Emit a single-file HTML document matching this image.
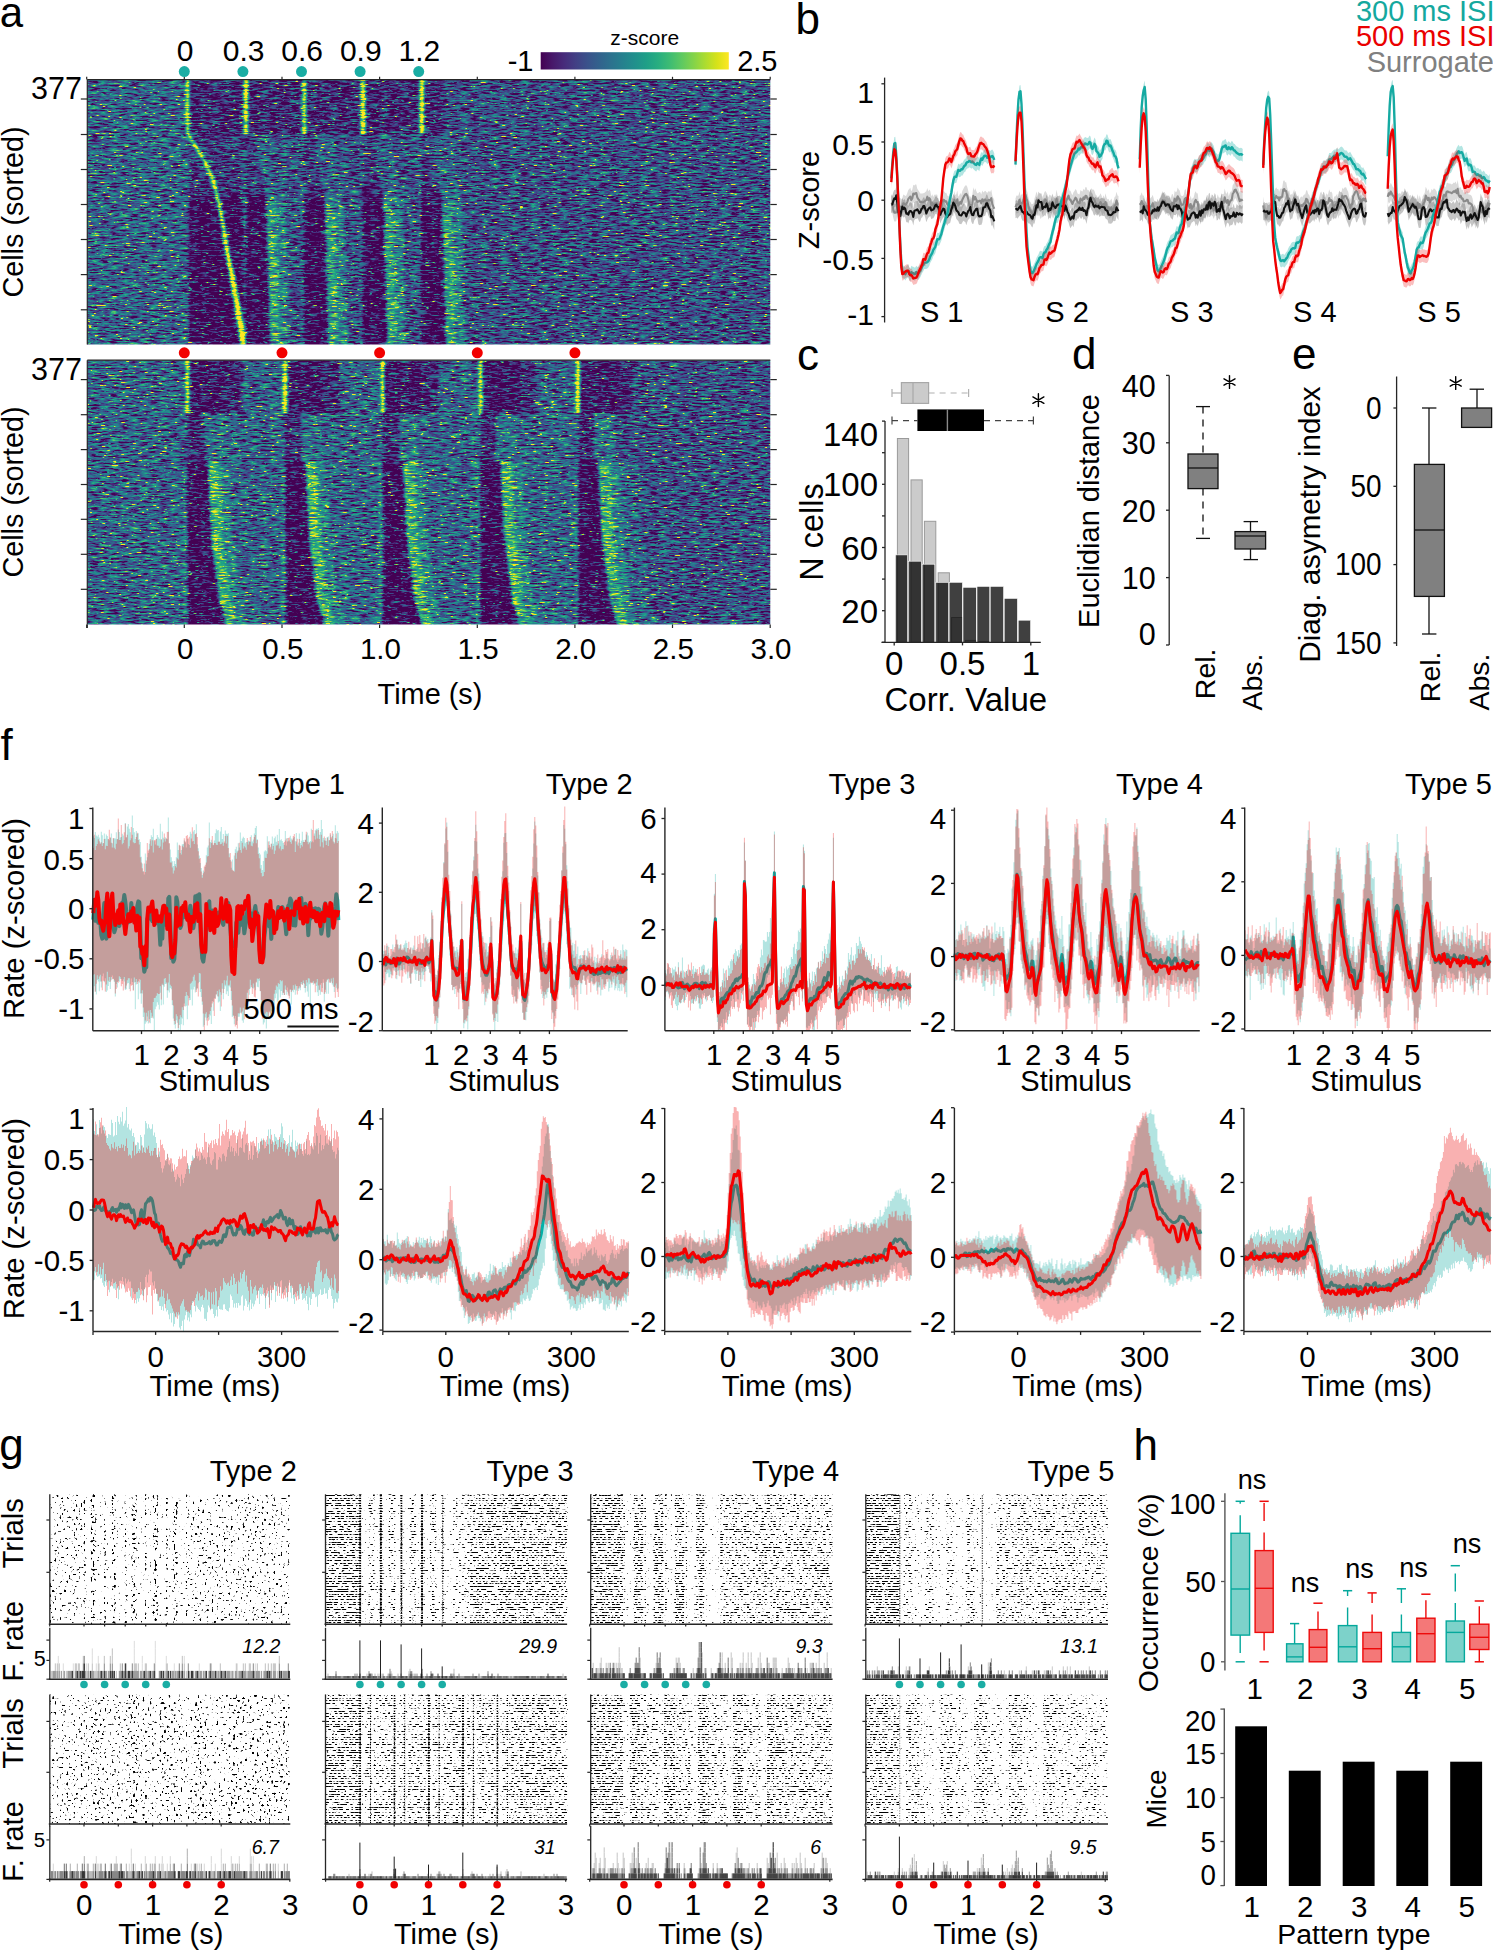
<!DOCTYPE html>
<html><head><meta charset="utf-8"><style>
html,body{margin:0;padding:0;background:#fff;overflow:hidden;}
svg{display:block;}
text{font-family:"Liberation Sans", sans-serif;}
</style></head><body>
<svg width="1493" height="1951" viewBox="0 0 1493 1951">
<defs>
<filter id="hmf" x="0" y="0" width="1" height="1" color-interpolation-filters="sRGB">
<feGaussianBlur in="SourceGraphic" stdDeviation="1.5 0.6" result="s"/>
<feTurbulence type="fractalNoise" baseFrequency="0.1 0.6" numOctaves="3" seed="7" result="n"/>
<feColorMatrix in="n" type="matrix" values="1 0 0 0 0 1 0 0 0 0 1 0 0 0 0 0 0 0 0 1" result="g"/>
<feComposite in="s" in2="g" operator="arithmetic" k1="0" k2="1.3" k3="1.5" k4="-0.87" result="c"/>
<feTurbulence type="fractalNoise" baseFrequency="0.16 0.9" numOctaves="2" seed="19" result="n2"/>
<feColorMatrix in="n2" type="matrix" values="1 0 0 0 0 1 0 0 0 0 1 0 0 0 0 0 0 0 0 1" result="g2"/>
<feComponentTransfer in="g2" result="sp"><feFuncR type="linear" slope="6" intercept="-3.93"/><feFuncG type="linear" slope="6" intercept="-3.93"/><feFuncB type="linear" slope="6" intercept="-3.93"/></feComponentTransfer>
<feComposite in="c" in2="sp" operator="arithmetic" k1="0" k2="1" k3="0.9" k4="0" result="c2"/>
<feComponentTransfer in="c2">
<feFuncR type="table" tableValues="0.267 0.282 0.279 0.259 0.230 0.199 0.173 0.149 0.128 0.121 0.158 0.246 0.369 0.516 0.678 0.846 0.993"/>
<feFuncG type="table" tableValues="0.005 0.095 0.175 0.252 0.322 0.388 0.449 0.508 0.567 0.626 0.684 0.739 0.789 0.831 0.864 0.887 0.906"/>
<feFuncB type="table" tableValues="0.329 0.417 0.483 0.525 0.546 0.555 0.558 0.557 0.551 0.533 0.502 0.452 0.383 0.294 0.190 0.100 0.144"/>
</feComponentTransfer>
</filter>
<linearGradient id="cbar" x1="0" x2="1" y1="0" y2="0">
<stop offset="0.0000" stop-color="rgb(68,1,83)"/>
<stop offset="0.0625" stop-color="rgb(71,24,106)"/>
<stop offset="0.1250" stop-color="rgb(71,44,123)"/>
<stop offset="0.1875" stop-color="rgb(66,64,133)"/>
<stop offset="0.2500" stop-color="rgb(58,82,139)"/>
<stop offset="0.3125" stop-color="rgb(50,98,141)"/>
<stop offset="0.3750" stop-color="rgb(44,114,142)"/>
<stop offset="0.4375" stop-color="rgb(37,129,142)"/>
<stop offset="0.5000" stop-color="rgb(32,144,140)"/>
<stop offset="0.5625" stop-color="rgb(30,159,135)"/>
<stop offset="0.6250" stop-color="rgb(40,174,128)"/>
<stop offset="0.6875" stop-color="rgb(62,188,115)"/>
<stop offset="0.7500" stop-color="rgb(94,201,97)"/>
<stop offset="0.8125" stop-color="rgb(131,211,74)"/>
<stop offset="0.8750" stop-color="rgb(172,220,48)"/>
<stop offset="0.9375" stop-color="rgb(215,226,25)"/>
<stop offset="1.0000" stop-color="rgb(253,231,36)"/>
</linearGradient>
<clipPath id="hm1c"><rect x="87.3" y="79.6" width="683" height="264.9"/></clipPath>
<clipPath id="hm2c"><rect x="87.3" y="360.2" width="683" height="264.3"/></clipPath>
</defs>
<g clip-path="url(#hm1c)"><g filter="url(#hmf)">
<path stroke="rgb(13,13,13)" stroke-width="2" fill="none" d="M189 201.6h28m3 0h23m3 0h20m38 0h21m38 0h20m38 0h21M189 203.6h28m4 0h22m3 0h20m38 0h21m38 0h20m38 0h21M189 205.6h29m3 0h22m3 0h20m38 0h21m38 0h20m38 0h21M189 207.6h29m3 0h22m3 0h20m38 0h21m38 0h20m38 0h21M189 209.6h29m4 0h21m3 0h20m38 0h21m38 0h20m38 0h21M189 211.6h30m3 0h21m3 0h20m38 0h21m38 0h21m37 0h21M189 213.6h30m4 0h20m3 0h20m38 0h21m38 0h21m37 0h21M189 215.6h30m4 0h20m3 0h20m38 0h21m38 0h21m37 0h21M189 217.6h31m3 0h20m3 0h20m38 0h21m38 0h21m37 0h21M189 219.6h31m4 0h19m3 0h21m37 0h21m38 0h21m37 0h21M189 221.6h32m3 0h19m3 0h21m37 0h21m38 0h21m37 0h21M189 223.6h32m4 0h18m3 0h21m37 0h21m38 0h21m37 0h21M189 225.6h32m4 0h18m3 0h21m37 0h21m38 0h21m37 0h21M189 227.6h33m3 0h18m3 0h21m37 0h21m38 0h21m37 0h22M189 229.6h33m4 0h17m3 0h21m37 0h21m38 0h21m37 0h22M189 231.6h33m4 0h17m3 0h21m37 0h21m38 0h21m37 0h22M189 233.6h33m4 0h17m3 0h21m37 0h22m37 0h21m37 0h22M189 235.6h34m4 0h16m3 0h21m37 0h22m37 0h21m37 0h22M189 237.6h34m4 0h16m3 0h21m37 0h22m37 0h21m37 0h22M189 239.6h34m4 0h16m3 0h21m37 0h22m37 0h21m37 0h22M189 241.6h34m5 0h15m3 0h21m37 0h22m37 0h21m37 0h22M189 243.6h35m4 0h15m3 0h21m37 0h22m37 0h21m37 0h22M189 245.6h35m4 0h15m3 0h21m37 0h22m37 0h21m37 0h22M189 247.6h35m5 0h14m3 0h21m37 0h22m37 0h21m37 0h22M189 249.6h36m4 0h14m3 0h21m37 0h22m37 0h22m36 0h22M189 251.6h36m4 0h14m3 0h21m37 0h22m37 0h22m36 0h22M189 253.6h36m5 0h13m3 0h21m37 0h22m37 0h22m36 0h22M189 255.6h37m4 0h13m3 0h22m36 0h22m37 0h22m36 0h22M189 257.6h37m4 0h13m3 0h22m36 0h22m37 0h22m36 0h22M189 259.6h37m5 0h12m3 0h22m36 0h22m37 0h22m36 0h22M189 261.6h38m4 0h12m3 0h22m36 0h22m37 0h22m36 0h22M189 263.6h38m5 0h11m3 0h22m36 0h22m37 0h22m36 0h22M189 265.6h38m5 0h11m3 0h22m36 0h22m37 0h22m36 0h23M189 267.6h39m5 0h10m3 0h22m36 0h22m37 0h22m36 0h23M189 269.6h39m5 0h10m3 0h22m36 0h22m37 0h22m36 0h23M189 271.6h40m4 0h10m3 0h22m36 0h23m36 0h22m36 0h23M189 273.6h40m5 0h9m3 0h22m36 0h23m36 0h22m36 0h23M189 275.6h40m5 0h9m3 0h22m36 0h23m36 0h22m36 0h23M189 277.6h41m5 0h8m3 0h22m36 0h23m36 0h22m36 0h23M189 279.6h41m5 0h8m3 0h22m36 0h23m36 0h22m36 0h23M189 281.6h41m5 0h8m3 0h22m36 0h23m36 0h22m36 0h23M189 283.6h42m5 0h7m3 0h22m36 0h23m36 0h22m36 0h23M189 285.6h42m5 0h7m3 0h22m36 0h23m36 0h22m36 0h23M189 287.6h42m6 0h6m3 0h22m36 0h23m36 0h23m35 0h23M189 289.6h43m5 0h6m3 0h22m36 0h23m36 0h23m35 0h23M189 291.6h43m5 0h6m3 0h22m36 0h23m36 0h23m35 0h23M189 293.6h43m6 0h5m3 0h23m35 0h23m36 0h23m35 0h23M189 295.6h44m5 0h5m3 0h23m35 0h23m36 0h23m35 0h23M189 297.6h44m6 0h4m3 0h23m35 0h23m36 0h23m35 0h23M189 299.6h45m5 0h4m3 0h23m35 0h23m36 0h23m35 0h23M189 301.6h45m5 0h4m3 0h23m35 0h23m36 0h23m35 0h24M189 303.6h45m6 0h3m3 0h23m35 0h23m36 0h23m35 0h24M189 305.6h46m5 0h3m3 0h23m35 0h23m36 0h23m35 0h24M189 307.6h46m6 0h2m3 0h23m35 0h23m36 0h23m35 0h24M189 309.6h46m6 0h2m3 0h23m35 0h24m35 0h23m35 0h24M189 311.6h46m6 0h2m3 0h23m35 0h24m35 0h23m35 0h24M189 313.6h47m6 0h1m3 0h23m35 0h24m35 0h23m35 0h24M189 315.6h47m6 0h1m3 0h23m35 0h24m35 0h23m35 0h24M189 317.6h47m6 0h1m3 0h23m35 0h24m35 0h23m35 0h24M189 319.6h48m9 0h23m35 0h24m35 0h23m35 0h24M189 321.6h48m9 0h23m35 0h24m35 0h23m35 0h24M189 323.6h48m9 0h23m35 0h24m35 0h24m34 0h24M189 325.6h49m8 0h23m35 0h24m35 0h24m34 0h24M189 327.6h49m8 0h23m35 0h24m35 0h24m34 0h24M189 329.6h49m8 0h23m35 0h24m35 0h24m34 0h24M189 331.6h49m8 0h24m34 0h24m35 0h24m34 0h24M189 333.6h50m7 0h24m34 0h24m35 0h24m34 0h24M189 335.6h50m7 0h24m34 0h24m35 0h24m34 0h24M189 337.6h50m7 0h24m34 0h24m35 0h24m34 0h24M189 339.6h51m6 0h24m34 0h24m35 0h24m34 0h25M189 341.6h51m6 0h24m34 0h24m35 0h24m34 0h25M189 343.6h51m6 0h24m34 0h24m35 0h24m34 0h25M189 345.6h51m6 0h24m34 0h25m34 0h24m34 0h25"/>
<path stroke="rgb(27,27,27)" stroke-width="2" fill="none" d="M189 195.6h26m4 0h24m3 0h19m39 0h20m39 0h19m39 0h20M189 197.6h27m3 0h24m3 0h20m38 0h20m39 0h20m38 0h20M189 199.6h27m4 0h23m3 0h20m38 0h21m38 0h20m38 0h21"/>
<path stroke="rgb(40,40,40)" stroke-width="2" fill="none" d="M190 77.6h53m5 0h53m6 0h53m6 0h52m6 0h22M190 79.6h53m5 0h53m6 0h53m6 0h52m6 0h22M190 81.6h53m5 0h53m6 0h53m6 0h52m6 0h22M190 83.6h53m5 0h53m6 0h53m6 0h52m6 0h22M190 85.6h53m5 0h53m6 0h53m6 0h52m6 0h22M190 87.6h53m5 0h53m6 0h53m6 0h52m6 0h22M190 89.6h53m5 0h53m6 0h53m6 0h52m6 0h22M190 91.6h53m5 0h53m6 0h53m6 0h52m6 0h22M190 93.6h53m5 0h53m6 0h53m6 0h52m6 0h22M190 95.6h53m5 0h53m6 0h53m6 0h52m6 0h22M190 97.6h53m5 0h53m6 0h53m6 0h52m6 0h22M190 99.6h53m5 0h53m6 0h53m6 0h52m6 0h22M190 101.6h53m5 0h53m6 0h53m6 0h52m6 0h22M190 103.6h53m5 0h53m6 0h53m6 0h52m6 0h22M190 105.6h53m5 0h53m6 0h53m6 0h52m6 0h22M190 107.6h53m5 0h53m6 0h53m6 0h52m6 0h22M190 109.6h53m5 0h53m6 0h53m6 0h52m6 0h22M190 111.6h53m5 0h53m6 0h53m6 0h52m6 0h22M190 113.6h53m5 0h53m6 0h53m6 0h52m6 0h22M190 115.6h53m5 0h53m6 0h53m6 0h52m6 0h22M190 117.6h53m5 0h53m6 0h53m6 0h52m6 0h22M190 119.6h53m5 0h53m6 0h53m6 0h52m6 0h22M190 121.6h53m5 0h53m6 0h53m6 0h52m6 0h22M190 123.6h53m5 0h53m6 0h53m6 0h52m6 0h22M190 125.6h53m5 0h53m6 0h53m6 0h52m6 0h22M190 127.6h53m5 0h53m6 0h53m6 0h52m6 0h22M190 129.6h53m5 0h53m6 0h53m6 0h52m6 0h22M190 131.6h53m5 0h53m6 0h53m6 0h52m6 0h22M190 133.6h53m5 0h53m6 0h53m6 0h52m6 0h22M246 187.6h18m40 0h18m41 0h18m40 0h19M189 189.6h25m3 0h26m3 0h18m40 0h19m40 0h18m40 0h19M189 191.6h25m4 0h25m3 0h19m39 0h19m40 0h19m39 0h19M189 193.6h26m3 0h25m3 0h19m39 0h19m40 0h19m39 0h20"/>
<path stroke="rgb(54,54,54)" stroke-width="2" fill="none" d="M191 135.6h52m3 0h9m49 0h9m50 0h9m49 0h9M192 137.6h51m3 0h9m49 0h10m49 0h9m49 0h10M189 139.6h1m3 0h50m3 0h9m49 0h10m49 0h9m49 0h10M189 141.6h2m4 0h48m3 0h10m48 0h10m49 0h10m48 0h10M189 143.6h3m4 0h47m3 0h10m48 0h11m48 0h10m48 0h11M189 145.6h4m4 0h46m3 0h10m48 0h11m48 0h11m47 0h11M189 147.6h6m3 0h45m3 0h11m47 0h11m48 0h11m47 0h11M189 149.6h7m3 0h44m3 0h11m47 0h12m47 0h11m47 0h12M189 151.6h8m4 0h42m3 0h11m47 0h12m47 0h12m46 0h12M189 153.6h9m4 0h41m3 0h12m46 0h12m47 0h12m46 0h13M189 155.6h10m4 0h40m3 0h12m46 0h13m46 0h12m46 0h13M189 157.6h12m3 0h39m3 0h12m46 0h13m46 0h13m45 0h13M189 159.6h13m3 0h38m3 0h13m45 0h13m46 0h13m45 0h14M189 161.6h14m4 0h36m3 0h13m45 0h14m45 0h13m45 0h14M189 163.6h15m4 0h35m3 0h14m44 0h14m45 0h14m44 0h14M189 165.6h16m3 0h35m3 0h14m44 0h15m44 0h14m44 0h15M189 167.6h17m3 0h34m3 0h14m44 0h15m44 0h14m44 0h15M189 169.6h18m3 0h33m3 0h15m43 0h15m44 0h15m43 0h15M189 171.6h19m3 0h32m3 0h15m43 0h16m43 0h15m43 0h16M189 173.6h19m4 0h31m3 0h15m43 0h16m43 0h16m42 0h16M189 175.6h20m4 0h30m3 0h16m42 0h16m43 0h16m42 0h16M189 177.6h21m4 0h29m3 0h16m42 0h17m42 0h16m42 0h17M189 179.6h22m3 0h29m3 0h16m42 0h17m42 0h17m41 0h17M189 181.6h23m3 0h28m3 0h17m41 0h17m42 0h17m41 0h18M189 183.6h23m4 0h27m3 0h17m41 0h18m41 0h17m41 0h18M189 185.6h24m3 0h27m3 0h17m41 0h18m41 0h18m40 0h18M189 187.6h24m4 0h26"/>
<path stroke="rgb(67,67,67)" stroke-width="2" fill="none" d="M446 77.6h327M446 79.6h327M446 81.6h327M446 83.6h327M446 85.6h327M446 87.6h327M446 89.6h327M446 91.6h327M446 93.6h327M446 95.6h327M446 97.6h327M446 99.6h327M446 101.6h327M446 103.6h327M446 105.6h327M446 107.6h327M446 109.6h327M446 111.6h327M446 113.6h327M446 115.6h327M446 117.6h327M446 119.6h327M446 121.6h327M446 123.6h327M446 125.6h327M446 127.6h327M446 129.6h327M446 131.6h327M446 133.6h327M274 135.6h27m32 0h27m31 0h27m32 0h323M274 137.6h27m32 0h27m32 0h26m32 0h323M275 139.6h26m32 0h27m32 0h26m33 0h322M275 141.6h26m33 0h26m32 0h26m33 0h322M276 143.6h25m33 0h26m33 0h25m33 0h322M276 145.6h25m33 0h26m33 0h25m34 0h321M276 147.6h25m34 0h25m33 0h25m34 0h321M277 149.6h24m34 0h25m34 0h24m34 0h321M277 151.6h24m35 0h24m34 0h24m35 0h320M277 153.6h24m35 0h24m34 0h24m35 0h320M278 155.6h23m35 0h24m35 0h23m35 0h320M278 157.6h23m36 0h23m35 0h23m36 0h319M278 159.6h23m36 0h23m36 0h22m36 0h319M279 161.6h22m36 0h23m36 0h22m37 0h318M279 163.6h22m37 0h22m36 0h22m37 0h318M279 165.6h22m37 0h22m37 0h21m37 0h318M280 167.6h21m37 0h22m37 0h21m38 0h317M280 169.6h21m38 0h21m37 0h21m38 0h317M281 171.6h20m38 0h21m38 0h20m38 0h317M281 173.6h20m38 0h21m38 0h20m39 0h316M281 175.6h20m39 0h20m38 0h20m39 0h316M282 177.6h19m39 0h20m39 0h19m39 0h316M282 179.6h19m40 0h19m39 0h19m40 0h315M282 181.6h19m40 0h19m39 0h19m40 0h315M283 183.6h18m40 0h19m40 0h18m40 0h315M283 185.6h18m41 0h18m40 0h18m41 0h314M283 187.6h18m41 0h18m41 0h17m41 0h314M284 189.6h17m41 0h18m41 0h17m41 0h314M284 191.6h17m42 0h17m41 0h17m42 0h313M284 193.6h17m42 0h17m42 0h16m42 0h313M285 195.6h16m42 0h17m42 0h16m43 0h312M285 197.6h16m43 0h16m42 0h16m43 0h312M285 199.6h16m43 0h16m43 0h15m43 0h312M286 201.6h15m43 0h16m43 0h15m43 0h312M286 203.6h15m43 0h16m43 0h15m43 0h312M286 205.6h15m43 0h16m43 0h15m43 0h312M286 207.6h15m43 0h16m43 0h15m44 0h311M286 209.6h15m43 0h16m43 0h15m44 0h311M286 211.6h15m43 0h16m43 0h15m44 0h311M286 213.6h15m44 0h15m43 0h15m44 0h311M286 215.6h15m44 0h15m43 0h15m44 0h311M286 217.6h15m44 0h15m43 0h15m44 0h311M286 219.6h15m44 0h15m43 0h15m44 0h311M286 221.6h15m44 0h15m43 0h15m44 0h311M286 223.6h15m44 0h15m43 0h15m44 0h311M286 225.6h15m44 0h15m43 0h15m44 0h311M286 227.6h15m44 0h15m43 0h15m44 0h311M286 229.6h15m44 0h15m44 0h14m44 0h311M286 231.6h15m44 0h15m44 0h14m44 0h311M286 233.6h15m44 0h15m44 0h14m44 0h311M287 235.6h14m44 0h15m44 0h14m44 0h311M287 237.6h14m44 0h15m44 0h14m44 0h311M287 239.6h14m44 0h15m44 0h14m44 0h311M287 241.6h14m44 0h15m44 0h14m44 0h311M287 243.6h14m44 0h15m44 0h14m44 0h311M287 245.6h14m44 0h15m44 0h14m45 0h310M287 247.6h14m44 0h15m44 0h14m45 0h310M287 249.6h14m44 0h15m44 0h14m45 0h310M287 251.6h14m45 0h14m44 0h14m45 0h310M287 253.6h14m45 0h14m44 0h14m45 0h310M287 255.6h14m45 0h14m44 0h14m45 0h310M287 257.6h14m45 0h14m44 0h14m45 0h310M287 259.6h14m45 0h14m44 0h14m45 0h310M287 261.6h14m45 0h14m44 0h14m45 0h310M287 263.6h14m45 0h14m44 0h14m45 0h310M287 265.6h14m45 0h14m44 0h14m45 0h310M287 267.6h14m45 0h14m45 0h13m45 0h310M287 269.6h14m45 0h14m45 0h13m45 0h310M287 271.6h14m45 0h14m45 0h13m45 0h310M288 273.6h13m45 0h14m45 0h13m45 0h310M288 275.6h13m45 0h14m45 0h13m45 0h310M288 277.6h13m45 0h14m45 0h13m45 0h310M288 279.6h13m45 0h14m45 0h13m45 0h310M288 281.6h13m45 0h14m45 0h13m46 0h309M288 283.6h13m45 0h14m45 0h13m46 0h309M288 285.6h13m45 0h14m45 0h13m46 0h309M288 287.6h13m45 0h14m45 0h13m46 0h309M288 289.6h13m46 0h13m45 0h13m46 0h309M288 291.6h13m46 0h13m45 0h13m46 0h309M288 293.6h13m46 0h13m45 0h13m46 0h309M288 295.6h13m46 0h13m45 0h13m46 0h309M288 297.6h13m46 0h13m45 0h13m46 0h309M288 299.6h13m46 0h13m45 0h13m46 0h309M288 301.6h13m46 0h13m45 0h13m46 0h309M288 303.6h13m46 0h13m46 0h12m46 0h309M288 305.6h13m46 0h13m46 0h12m46 0h309M288 307.6h13m46 0h13m46 0h12m46 0h309M288 309.6h13m46 0h13m46 0h12m46 0h309M289 311.6h12m46 0h13m46 0h12m46 0h309M289 313.6h12m46 0h13m46 0h12m46 0h309M289 315.6h12m46 0h13m46 0h12m46 0h309M289 317.6h12m46 0h13m46 0h12m46 0h309M289 319.6h12m46 0h13m46 0h12m47 0h308M289 321.6h12m46 0h13m46 0h12m47 0h308M289 323.6h12m46 0h13m46 0h12m47 0h308M289 325.6h12m47 0h12m46 0h12m47 0h308M289 327.6h12m47 0h12m46 0h12m47 0h308M289 329.6h12m47 0h12m46 0h12m47 0h308M289 331.6h12m47 0h12m46 0h12m47 0h308M289 333.6h12m47 0h12m46 0h12m47 0h308M289 335.6h12m47 0h12m46 0h12m47 0h308M289 337.6h12m47 0h12m46 0h12m47 0h308M289 339.6h12m47 0h12m46 0h12m47 0h308M289 341.6h12m47 0h12m47 0h11m47 0h308M289 343.6h12m47 0h12m47 0h11m47 0h308M289 345.6h12m47 0h12m47 0h11m47 0h308"/>
<path stroke="rgb(81,81,81)" stroke-width="2" fill="none" d="M84 77.6h102m3 0h1m53 0h1m57 0h2m3 0h1m53 0h1m4 0h1m52 0h2M84 79.6h102m3 0h1m53 0h1m57 0h2m3 0h1m53 0h1m4 0h1m52 0h2M84 81.6h102m3 0h1m53 0h1m57 0h2m3 0h1m53 0h1m4 0h1m52 0h2M84 83.6h102m3 0h1m53 0h1m57 0h2m3 0h1m53 0h1m4 0h1m52 0h2M84 85.6h102m3 0h1m53 0h1m57 0h2m3 0h1m53 0h1m4 0h1m52 0h2M84 87.6h102m3 0h1m53 0h1m57 0h2m3 0h1m53 0h1m4 0h1m52 0h2M84 89.6h102m3 0h1m53 0h1m57 0h2m3 0h1m53 0h1m4 0h1m52 0h2M84 91.6h102m3 0h1m53 0h1m57 0h2m3 0h1m53 0h1m4 0h1m52 0h2M84 93.6h102m3 0h1m53 0h1m57 0h2m3 0h1m53 0h1m4 0h1m52 0h2M84 95.6h102m3 0h1m53 0h1m57 0h2m3 0h1m53 0h1m4 0h1m52 0h2M84 97.6h102m3 0h1m53 0h1m57 0h2m3 0h1m53 0h1m4 0h1m52 0h2M84 99.6h102m3 0h1m53 0h1m57 0h2m3 0h1m53 0h1m4 0h1m52 0h2M84 101.6h102m3 0h1m53 0h1m57 0h2m3 0h1m53 0h1m4 0h1m52 0h2M84 103.6h102m3 0h1m53 0h1m57 0h2m3 0h1m53 0h1m4 0h1m52 0h2M84 105.6h102m3 0h1m53 0h1m57 0h2m3 0h1m53 0h1m4 0h1m52 0h2M84 107.6h102m3 0h1m53 0h1m57 0h2m3 0h1m53 0h1m4 0h1m52 0h2M84 109.6h102m3 0h1m53 0h1m57 0h2m3 0h1m53 0h1m4 0h1m52 0h2M84 111.6h102m3 0h1m53 0h1m57 0h2m3 0h1m53 0h1m4 0h1m52 0h2M84 113.6h102m3 0h1m53 0h1m57 0h2m3 0h1m53 0h1m4 0h1m52 0h2M84 115.6h102m3 0h1m53 0h1m57 0h2m3 0h1m53 0h1m4 0h1m52 0h2M84 117.6h102m3 0h1m53 0h1m57 0h2m3 0h1m53 0h1m4 0h1m52 0h2M84 119.6h102m3 0h1m53 0h1m57 0h2m3 0h1m53 0h1m4 0h1m52 0h2M84 121.6h102m3 0h1m53 0h1m57 0h2m3 0h1m53 0h1m4 0h1m52 0h2M84 123.6h102m3 0h1m53 0h1m57 0h2m3 0h1m53 0h1m4 0h1m52 0h2M84 125.6h102m3 0h1m53 0h1m57 0h2m3 0h1m53 0h1m4 0h1m52 0h2M84 127.6h102m3 0h1m53 0h1m57 0h2m3 0h1m53 0h1m4 0h1m52 0h2M84 129.6h102m3 0h1m53 0h1m57 0h2m3 0h1m53 0h1m4 0h1m52 0h2M84 131.6h102m3 0h1m53 0h1m57 0h2m3 0h1m53 0h1m4 0h1m52 0h2M84 133.6h102m3 0h1m53 0h1m57 0h2m3 0h1m53 0h1m4 0h1m52 0h2M84 135.6h103m56 0h3m9 0h19m27 0h3m9 0h20m27 0h3m9 0h19m27 0h3m9 0h20M84 137.6h105m54 0h3m9 0h19m27 0h3m10 0h19m27 0h3m9 0h20m26 0h3m10 0h19M84 139.6h105m54 0h3m9 0h20m26 0h3m10 0h19m27 0h3m9 0h20m26 0h3m10 0h20M84 141.6h105m54 0h3m10 0h19m26 0h3m10 0h20m26 0h3m10 0h19m26 0h3m10 0h20M84 143.6h105m54 0h3m10 0h20m25 0h3m11 0h19m26 0h3m10 0h20m25 0h3m11 0h19M84 145.6h105m54 0h3m10 0h20m25 0h3m11 0h19m26 0h3m11 0h19m25 0h3m11 0h20M84 147.6h105m54 0h3m11 0h19m25 0h3m11 0h20m25 0h3m11 0h19m25 0h3m11 0h20M84 149.6h105m54 0h3m11 0h20m24 0h3m12 0h19m25 0h3m11 0h20m24 0h3m12 0h19M84 151.6h105m54 0h3m11 0h20m24 0h3m12 0h20m24 0h3m12 0h19m24 0h3m12 0h20M84 153.6h105m54 0h3m12 0h19m24 0h3m12 0h20m24 0h3m12 0h19m24 0h3m13 0h19M84 155.6h105m54 0h3m12 0h20m23 0h3m13 0h19m24 0h3m12 0h20m23 0h3m13 0h19M84 157.6h105m54 0h3m12 0h20m23 0h3m13 0h20m23 0h3m13 0h19m23 0h3m13 0h20M84 159.6h105m54 0h3m13 0h19m23 0h3m13 0h20m23 0h3m13 0h20m22 0h3m14 0h19M84 161.6h105m54 0h3m13 0h20m22 0h3m14 0h19m23 0h3m13 0h20m22 0h3m14 0h20M84 163.6h105m54 0h3m14 0h19m22 0h3m14 0h20m22 0h3m14 0h19m22 0h3m14 0h20M84 165.6h105m54 0h3m14 0h19m22 0h3m15 0h19m22 0h3m14 0h20m21 0h3m15 0h19M84 167.6h105m54 0h3m14 0h20m21 0h3m15 0h19m22 0h3m14 0h20m21 0h3m15 0h20M84 169.6h105m54 0h3m15 0h19m21 0h3m15 0h20m21 0h3m15 0h19m21 0h3m15 0h20M84 171.6h105m54 0h3m15 0h20m20 0h3m16 0h19m21 0h3m15 0h20m20 0h3m16 0h19M84 173.6h105m54 0h3m15 0h20m20 0h3m16 0h19m21 0h3m16 0h19m20 0h3m16 0h20M84 175.6h105m54 0h3m16 0h19m20 0h3m16 0h20m20 0h3m16 0h19m20 0h3m16 0h20M84 177.6h105m54 0h3m16 0h20m19 0h3m17 0h19m20 0h3m16 0h20m19 0h3m17 0h19M84 179.6h105m54 0h3m16 0h20m19 0h3m17 0h20m19 0h3m17 0h19m19 0h3m17 0h20M84 181.6h105m54 0h3m17 0h19m19 0h3m17 0h20m19 0h3m17 0h19m19 0h3m18 0h19M84 183.6h105m54 0h3m17 0h20m18 0h3m18 0h19m19 0h3m17 0h20m18 0h3m18 0h19M84 185.6h105m54 0h3m17 0h20m18 0h3m18 0h20m18 0h3m18 0h19m18 0h3m18 0h20M84 187.6h105m54 0h3m18 0h19m18 0h3m18 0h20m18 0h3m18 0h20m17 0h3m19 0h19M84 189.6h105m54 0h3m28 0h10m17 0h3m29 0h9m18 0h3m28 0h10m17 0h3m29 0h9M84 191.6h105m54 0h3m28 0h10m17 0h3m29 0h10m17 0h3m28 0h10m17 0h3m29 0h10M84 193.6h105m54 0h3m55 0h3m56 0h3m55 0h3M84 195.6h105m54 0h3m55 0h3m56 0h3m55 0h3M84 197.6h105m54 0h3m55 0h3m56 0h3m55 0h3M84 199.6h105m54 0h3m55 0h3m56 0h3m55 0h3M84 201.6h105m54 0h3m55 0h3m56 0h3m55 0h3M84 203.6h105m54 0h3m55 0h3m56 0h3m55 0h3M84 205.6h105m54 0h3m55 0h3m56 0h3m55 0h3M84 207.6h105m54 0h3m55 0h3m56 0h3m55 0h3M84 209.6h105m54 0h3m55 0h3m56 0h3m55 0h3M84 211.6h105m54 0h3m55 0h3m56 0h3m55 0h3M84 213.6h105m54 0h3m55 0h3m56 0h3m55 0h3M84 215.6h105m54 0h3m55 0h3m56 0h3m55 0h3M84 217.6h105m54 0h3m55 0h3m56 0h3m55 0h3M84 219.6h105m54 0h3m55 0h3m56 0h3m55 0h3M84 221.6h105m54 0h3m55 0h3m56 0h3m55 0h3M84 223.6h105m54 0h3m55 0h3m56 0h3m55 0h3M84 225.6h105m54 0h3m55 0h3m56 0h3m55 0h3M84 227.6h105m54 0h3m55 0h3m56 0h3m55 0h3M84 229.6h105m54 0h3m55 0h3m56 0h3m55 0h3M84 231.6h105m54 0h3m55 0h3m56 0h3m55 0h3M84 233.6h105m54 0h3m55 0h3m56 0h3m55 0h3M84 235.6h105m54 0h3m55 0h3m56 0h3m55 0h3M84 237.6h105m54 0h3m55 0h3m56 0h3m55 0h3M84 239.6h105m54 0h3m55 0h3m56 0h3m55 0h3M84 241.6h105m54 0h3m55 0h3m56 0h3m55 0h3M84 243.6h105m54 0h3m55 0h3m56 0h3m55 0h3M84 245.6h105m54 0h3m55 0h3m56 0h3m55 0h3M84 247.6h105m54 0h3m55 0h3m56 0h3m55 0h3M84 249.6h105m54 0h3m55 0h3m56 0h3m55 0h3M84 251.6h105m54 0h3m55 0h3m56 0h3m55 0h3M84 253.6h105m54 0h3m55 0h3m56 0h3m55 0h3M84 255.6h105m54 0h3m55 0h3m56 0h3m55 0h3M84 257.6h105m54 0h3m55 0h3m56 0h3m55 0h3M84 259.6h105m54 0h3m55 0h3m56 0h3m55 0h3M84 261.6h105m54 0h3m55 0h3m56 0h3m55 0h3M84 263.6h105m54 0h3m55 0h3m56 0h3m55 0h3M84 265.6h105m54 0h3m55 0h3m56 0h3m55 0h3M84 267.6h105m54 0h3m55 0h3m56 0h3m55 0h3M84 269.6h105m54 0h3m55 0h3m56 0h3m55 0h3M84 271.6h105m54 0h3m55 0h3m56 0h3m55 0h3M84 273.6h105m54 0h3m55 0h3m56 0h3m55 0h3M84 275.6h105m54 0h3m55 0h3m56 0h3m55 0h3M84 277.6h105m54 0h3m55 0h3m56 0h3m55 0h3M84 279.6h105m54 0h3m55 0h3m56 0h3m55 0h3M84 281.6h105m54 0h3m55 0h3m56 0h3m55 0h3M84 283.6h105m54 0h3m55 0h3m56 0h3m55 0h3M84 285.6h105m54 0h3m55 0h3m56 0h3m55 0h3M84 287.6h105m54 0h3m55 0h3m56 0h3m55 0h3M84 289.6h105m54 0h3m55 0h3m56 0h3m55 0h3M84 291.6h105m54 0h3m55 0h3m56 0h3m55 0h3M84 293.6h105m54 0h3m55 0h3m56 0h3m55 0h3M84 295.6h105m54 0h3m55 0h3m56 0h3m55 0h3M84 297.6h105m54 0h3m55 0h3m56 0h3m55 0h3M84 299.6h105m54 0h3m55 0h3m56 0h3m55 0h3M84 301.6h105m54 0h3m55 0h3m56 0h3m55 0h3M84 303.6h105m54 0h3m55 0h3m56 0h3m55 0h3M84 305.6h105m54 0h3m55 0h3m56 0h3m55 0h3M84 307.6h105m54 0h3m55 0h3m56 0h3m55 0h3M84 309.6h105m54 0h3m55 0h3m56 0h3m55 0h3M84 311.6h105m54 0h3m55 0h3m56 0h3m55 0h3M84 313.6h105m54 0h3m55 0h3m56 0h3m55 0h3M84 315.6h105m54 0h3m55 0h3m56 0h3m55 0h3M84 317.6h105m54 0h3m55 0h3m56 0h3m55 0h3M84 319.6h105m54 0h3m55 0h3m56 0h3m55 0h3M84 321.6h105m54 0h3m55 0h3m56 0h3m55 0h3M84 323.6h105m54 0h3m55 0h3m56 0h3m55 0h3M84 325.6h105m55 0h2m55 0h3m56 0h3m55 0h3M84 327.6h105m55 0h2m55 0h3m56 0h3m55 0h3M84 329.6h105m55 0h2m55 0h3m56 0h3m55 0h3M84 331.6h105m55 0h2m55 0h3m56 0h3m55 0h3M84 333.6h105m56 0h1m55 0h3m56 0h3m55 0h3M84 335.6h105m56 0h1m55 0h3m56 0h3m55 0h3M84 337.6h105m56 0h1m55 0h3m56 0h3m55 0h3M84 339.6h105m56 0h1m55 0h3m56 0h3m55 0h3M84 341.6h105m112 0h3m56 0h3m55 0h3M84 343.6h105m112 0h3m56 0h3m55 0h3M84 345.6h105m112 0h3m56 0h3m55 0h3"/>
<path stroke="rgb(94,94,94)" stroke-width="2" fill="none" d="M264 189.6h10m49 0h10m48 0h10m49 0h10M265 191.6h9m49 0h10m49 0h9m49 0h10M265 193.6h19m39 0h20m39 0h20m39 0h19M275 195.6h10m49 0h9m49 0h10m49 0h10M275 197.6h10m49 0h10m49 0h9m49 0h10M276 199.6h9m49 0h10m49 0h10m48 0h10M276 201.6h10m48 0h10m49 0h10m49 0h9M276 203.6h10m48 0h10m49 0h10m49 0h9M276 205.6h10m49 0h9m49 0h10m49 0h9"/>
<path stroke="rgb(107,107,107)" stroke-width="2" fill="none" d="M265 195.6h10m49 0h10m48 0h10m49 0h10M266 197.6h9m49 0h10m49 0h10m48 0h10M266 199.6h10m49 0h9m49 0h10m49 0h9M276 207.6h10m49 0h9m49 0h10m49 0h10M276 209.6h10m49 0h9m49 0h10m49 0h10M276 211.6h10m49 0h9m49 0h10m49 0h10M276 213.6h10m49 0h10m48 0h10m49 0h10M276 215.6h10m49 0h10m48 0h10m49 0h10M276 217.6h10m49 0h10m48 0h10m49 0h10M276 219.6h10m49 0h10m48 0h10m49 0h10M276 221.6h10m49 0h10m49 0h9m49 0h10M276 223.6h10m49 0h10m49 0h9m49 0h10M276 225.6h10m49 0h10m49 0h9m49 0h10M277 227.6h9m49 0h10m49 0h9m49 0h10M277 229.6h9m49 0h10m49 0h10m48 0h10M277 231.6h9m49 0h10m49 0h10m48 0h10M277 233.6h9m49 0h10m49 0h10m48 0h10M277 235.6h10m48 0h10m49 0h10m49 0h9M277 237.6h10m48 0h10m49 0h10m49 0h9M277 239.6h10m48 0h10m49 0h10m49 0h9M277 241.6h10m48 0h10m49 0h10m49 0h9M277 243.6h10m49 0h9m49 0h10m49 0h9M277 245.6h10m49 0h9m49 0h10m49 0h10M277 247.6h10m49 0h9m49 0h10m49 0h10M277 249.6h10m49 0h9m49 0h10m49 0h10M277 251.6h10m49 0h10m48 0h10m49 0h10M277 253.6h10m49 0h10m48 0h10m49 0h10M277 255.6h10m49 0h10m48 0h10m49 0h10M277 257.6h10m49 0h10m49 0h9m49 0h10M277 259.6h10m49 0h10m49 0h9m49 0h10M277 261.6h10m49 0h10m49 0h9m49 0h10M277 263.6h10m49 0h10m49 0h9m49 0h10M278 265.6h9m49 0h10m49 0h9m49 0h10M278 267.6h9m49 0h10m49 0h10m48 0h10M278 269.6h9m49 0h10m49 0h10m48 0h10M278 271.6h9m49 0h10m49 0h10m48 0h10M278 273.6h10m48 0h10m49 0h10m49 0h9M278 275.6h10m48 0h10m49 0h10m49 0h9M278 277.6h10m48 0h10m49 0h10m49 0h9M278 279.6h10m49 0h9m49 0h10m49 0h9M278 281.6h10m49 0h9m49 0h10m49 0h10M278 283.6h10m49 0h9m49 0h10m49 0h10M278 285.6h10m49 0h9m49 0h10m49 0h10M278 287.6h10m49 0h9m49 0h10m49 0h10M278 289.6h10m49 0h10m48 0h10m49 0h10M278 291.6h10m49 0h10m48 0h10m49 0h10M278 293.6h10m49 0h10m48 0h10m49 0h10M278 295.6h10m49 0h10m49 0h9m49 0h10M278 297.6h10m49 0h10m49 0h9m49 0h10M278 299.6h10m49 0h10m49 0h9m49 0h10M279 301.6h9m49 0h10m49 0h9m49 0h10M279 303.6h9m49 0h10m49 0h10m48 0h10M279 305.6h9m49 0h10m49 0h10m48 0h10M279 307.6h9m49 0h10m49 0h10m48 0h10M279 309.6h9m49 0h10m49 0h10m48 0h10M279 311.6h10m48 0h10m49 0h10m49 0h9M279 313.6h10m48 0h10m49 0h10m49 0h9M279 315.6h10m48 0h10m49 0h10m49 0h9M279 317.6h10m49 0h9m49 0h10m49 0h9M279 319.6h10m49 0h9m49 0h10m49 0h10M279 321.6h10m49 0h9m49 0h10m49 0h10M279 323.6h10m49 0h9m49 0h10m49 0h10M279 325.6h10m49 0h10m48 0h10m49 0h10M279 327.6h10m49 0h10m48 0h10m49 0h10M279 329.6h10m49 0h10m48 0h10m49 0h10M279 331.6h10m49 0h10m48 0h10m49 0h10M279 333.6h10m49 0h10m49 0h9m49 0h10M279 335.6h10m49 0h10m49 0h9m49 0h10M279 337.6h10m49 0h10m49 0h9m49 0h10M280 339.6h9m49 0h10m49 0h9m49 0h10M280 341.6h9m49 0h10m49 0h10m48 0h10M280 343.6h9m49 0h10m49 0h10m48 0h10M280 345.6h9m49 0h10m49 0h10m48 0h10"/>
<path stroke="rgb(121,121,121)" stroke-width="2" fill="none" d="M266 201.6h10m49 0h9m49 0h10m49 0h10M266 203.6h10m49 0h9m49 0h10m49 0h10M266 205.6h10m49 0h10m48 0h10m49 0h10M266 207.6h10m49 0h10m48 0h10m49 0h10M266 209.6h10m49 0h10m48 0h10m49 0h10M266 211.6h10m49 0h10m49 0h9m49 0h10"/>
<path stroke="rgb(134,134,134)" stroke-width="2" fill="none" d="M266 213.6h10m49 0h10m49 0h9m49 0h10M266 215.6h10m49 0h10m49 0h9m49 0h10M266 217.6h10m49 0h10m49 0h9m49 0h10M267 219.6h9m49 0h10m49 0h9m49 0h10M267 221.6h9m49 0h10m49 0h10m48 0h10M267 223.6h9m49 0h10m49 0h10m48 0h10M267 225.6h9m49 0h10m49 0h10m48 0h10M267 227.6h10m48 0h10m49 0h10m49 0h9M267 229.6h10m48 0h10m49 0h10m49 0h9M267 231.6h10m48 0h10m49 0h10m49 0h9M267 233.6h10m49 0h9m49 0h10m49 0h9M267 235.6h10m49 0h9m49 0h10m49 0h10M267 237.6h10m49 0h9m49 0h10m49 0h10M267 239.6h10m49 0h9m49 0h10m49 0h10M267 241.6h10m49 0h9m49 0h10m49 0h10M267 243.6h10m49 0h10m48 0h10m49 0h10M267 245.6h10m49 0h10m48 0h10m49 0h10M267 247.6h10m49 0h10m48 0h10m49 0h10M267 249.6h10m49 0h10m49 0h9m49 0h10M267 251.6h10m49 0h10m49 0h9m49 0h10M267 253.6h10m49 0h10m49 0h9m49 0h10M268 255.6h9m49 0h10m49 0h9m49 0h10M268 257.6h9m49 0h10m49 0h10m48 0h10M268 259.6h9m49 0h10m49 0h10m48 0h10M268 261.6h9m49 0h10m49 0h10m48 0h10M268 263.6h9m49 0h10m49 0h10m48 0h10M268 265.6h10m48 0h10m49 0h10m49 0h9M268 267.6h10m48 0h10m49 0h10m49 0h9M268 269.6h10m48 0h10m49 0h10m49 0h9M268 271.6h10m49 0h9m49 0h10m49 0h9M268 273.6h10m49 0h9m49 0h10m49 0h10M268 275.6h10m49 0h9m49 0h10m49 0h10M268 277.6h10m49 0h9m49 0h10m49 0h10M268 279.6h10m49 0h10m48 0h10m49 0h10M268 281.6h10m49 0h10m48 0h10m49 0h10M268 283.6h10m49 0h10m48 0h10m49 0h10M268 285.6h10m49 0h10m48 0h10m49 0h10M268 287.6h10m49 0h10m49 0h9m49 0h10M268 289.6h10m49 0h10m49 0h9m49 0h10M268 291.6h10m49 0h10m49 0h9m49 0h10M269 293.6h9m49 0h10m49 0h9m49 0h10M269 295.6h9m49 0h10m49 0h10m48 0h10M269 297.6h9m49 0h10m49 0h10m48 0h10M269 299.6h9m49 0h10m49 0h10m48 0h10M269 301.6h10m48 0h10m49 0h10m49 0h9M269 303.6h10m48 0h10m49 0h10m49 0h9M269 305.6h10m48 0h10m49 0h10m49 0h9M269 307.6h10m48 0h10m49 0h10m49 0h9M269 309.6h10m49 0h9m49 0h10m49 0h9M269 311.6h10m49 0h9m49 0h10m49 0h10M269 313.6h10m49 0h9m49 0h10m49 0h10M269 315.6h10m49 0h9m49 0h10m49 0h10M269 317.6h10m49 0h10m48 0h10m49 0h10M269 319.6h10m49 0h10m48 0h10m49 0h10M269 321.6h10m49 0h10m48 0h10m49 0h10M269 323.6h10m49 0h10m49 0h9m49 0h10M269 325.6h10m49 0h10m49 0h9m49 0h10M269 327.6h10m49 0h10m49 0h9m49 0h10M269 329.6h10m49 0h10m49 0h9m49 0h10M270 331.6h9m49 0h10m49 0h9m49 0h10M270 333.6h9m49 0h10m49 0h10m48 0h10M270 335.6h9m49 0h10m49 0h10m48 0h10M270 337.6h9m49 0h10m49 0h10m48 0h10M270 339.6h10m48 0h10m49 0h10m49 0h9M270 341.6h10m48 0h10m49 0h10m49 0h9M270 343.6h10m48 0h10m49 0h10m49 0h9M270 345.6h10m49 0h9m49 0h10m49 0h9"/>
<path stroke="rgb(242,242,242)" stroke-width="2" fill="none" d="M186 77.6h3m55 0h4m55 0h3m55 0h4m55 0h4M186 79.6h3m55 0h4m55 0h3m55 0h4m55 0h4M186 81.6h3m55 0h4m55 0h3m55 0h4m55 0h4M186 83.6h3m55 0h4m55 0h3m55 0h4m55 0h4M186 85.6h3m55 0h4m55 0h3m55 0h4m55 0h4M186 87.6h3m55 0h4m55 0h3m55 0h4m55 0h4M186 89.6h3m55 0h4m55 0h3m55 0h4m55 0h4M186 91.6h3m55 0h4m55 0h3m55 0h4m55 0h4M186 93.6h3m55 0h4m55 0h3m55 0h4m55 0h4M186 95.6h3m55 0h4m55 0h3m55 0h4m55 0h4M186 97.6h3m55 0h4m55 0h3m55 0h4m55 0h4M186 99.6h3m55 0h4m55 0h3m55 0h4m55 0h4M186 101.6h3m55 0h4m55 0h3m55 0h4m55 0h4M186 103.6h3m55 0h4m55 0h3m55 0h4m55 0h4M186 105.6h3m55 0h4m55 0h3m55 0h4m55 0h4M186 107.6h3m55 0h4m55 0h3m55 0h4m55 0h4M186 109.6h3m55 0h4m55 0h3m55 0h4m55 0h4M186 111.6h3m55 0h4m55 0h3m55 0h4m55 0h4M186 113.6h3m55 0h4m55 0h3m55 0h4m55 0h4M186 115.6h3m55 0h4m55 0h3m55 0h4m55 0h4M186 117.6h3m55 0h4m55 0h3m55 0h4m55 0h4M186 119.6h3m55 0h4m55 0h3m55 0h4m55 0h4M186 121.6h3m55 0h4m55 0h3m55 0h4m55 0h4M186 123.6h3m55 0h4m55 0h3m55 0h4m55 0h4M186 125.6h3m55 0h4m55 0h3m55 0h4m55 0h4M186 127.6h3m55 0h4m55 0h3m55 0h4m55 0h4M186 129.6h3m55 0h4m55 0h3m55 0h4m55 0h4M186 131.6h3m55 0h4m55 0h3m55 0h4m55 0h4M186 133.6h3m55 0h4m55 0h3m55 0h4m55 0h4M187 135.6h4M189 137.6h3M190 139.6h3M191 141.6h4M192 143.6h4M193 145.6h4M195 147.6h3M196 149.6h3M197 151.6h4M198 153.6h4M199 155.6h4M201 157.6h3M202 159.6h3M203 161.6h4M204 163.6h4M205 165.6h3M206 167.6h3M207 169.6h3M208 171.6h3M208 173.6h4M209 175.6h4M210 177.6h4M211 179.6h3M212 181.6h3M212 183.6h4M213 185.6h3M213 187.6h4M214 189.6h3M214 191.6h4M215 193.6h3M215 195.6h4M216 197.6h3M216 199.6h4M217 201.6h3M217 203.6h4M218 205.6h3M218 207.6h3M218 209.6h4M219 211.6h3M219 213.6h4M219 215.6h4M220 217.6h3M220 219.6h4M221 221.6h3M221 223.6h4M221 225.6h4M222 227.6h3M222 229.6h4M222 231.6h4M222 233.6h4M223 235.6h4M223 237.6h4M223 239.6h4M223 241.6h5M224 243.6h4M224 245.6h4M224 247.6h5M225 249.6h4M225 251.6h4M225 253.6h5M226 255.6h4M226 257.6h4M226 259.6h5M227 261.6h4M227 263.6h5M227 265.6h5M228 267.6h5M228 269.6h5M229 271.6h4M229 273.6h5M229 275.6h5M230 277.6h5M230 279.6h5M230 281.6h5M231 283.6h5M231 285.6h5M231 287.6h6M232 289.6h5M232 291.6h5M232 293.6h6M233 295.6h5M233 297.6h6M234 299.6h5M234 301.6h5M234 303.6h6M235 305.6h5M235 307.6h6M235 309.6h6M235 311.6h6M236 313.6h6M236 315.6h6M236 317.6h6M237 319.6h6M237 321.6h6M237 323.6h6M238 325.6h6M238 327.6h6M238 329.6h6M238 331.6h6M239 333.6h6M239 335.6h6M239 337.6h6M240 339.6h5M240 341.6h6M240 343.6h6M240 345.6h6"/>
</g></g>
<g clip-path="url(#hm2c)"><g filter="url(#hmf)">
<path stroke="rgb(13,13,13)" stroke-width="2" fill="none" d="M188 462.2h19m79 0h19m78 0h20m78 0h19m79 0h19M188 464.2h20m78 0h19m78 0h20m78 0h19m79 0h19M188 466.2h20m78 0h19m78 0h20m78 0h20m78 0h19M188 468.2h20m78 0h19m78 0h20m78 0h20m78 0h19M188 470.2h20m78 0h19m78 0h20m78 0h20m78 0h19M188 472.2h20m78 0h20m77 0h20m78 0h20m78 0h20M188 474.2h20m78 0h20m77 0h20m78 0h20m78 0h20M188 476.2h20m78 0h20m77 0h20m78 0h20m78 0h20M188 478.2h20m78 0h20m77 0h21m77 0h20m78 0h20M188 480.2h20m78 0h20m77 0h21m77 0h20m78 0h20M188 482.2h20m78 0h20m77 0h21m77 0h20m78 0h20M188 484.2h21m77 0h20m77 0h21m77 0h20m78 0h20M188 486.2h21m77 0h20m77 0h21m77 0h21m77 0h20M188 488.2h21m77 0h20m77 0h21m77 0h21m77 0h20M188 490.2h21m77 0h20m77 0h21m77 0h21m77 0h20M188 492.2h21m77 0h21m76 0h21m77 0h21m77 0h21M188 494.2h21m77 0h21m76 0h21m77 0h21m77 0h21M188 496.2h21m77 0h21m76 0h21m77 0h21m77 0h21M188 498.2h21m77 0h21m76 0h22m76 0h21m77 0h21M188 500.2h21m77 0h21m76 0h22m76 0h21m77 0h21M188 502.2h21m77 0h21m76 0h22m76 0h21m77 0h21M188 504.2h22m76 0h21m76 0h22m76 0h21m77 0h21M188 506.2h22m76 0h21m76 0h22m76 0h22m76 0h21M188 508.2h22m76 0h21m76 0h22m76 0h22m76 0h21M188 510.2h22m76 0h21m76 0h22m76 0h22m76 0h21M188 512.2h22m76 0h22m75 0h22m76 0h22m76 0h22M188 514.2h22m76 0h22m75 0h22m76 0h22m76 0h22M188 516.2h22m76 0h22m75 0h22m76 0h22m76 0h22M188 518.2h22m76 0h22m75 0h23m75 0h22m76 0h22M188 520.2h22m76 0h22m75 0h23m75 0h22m76 0h22M188 522.2h22m76 0h22m75 0h23m75 0h22m76 0h22M188 524.2h23m75 0h22m75 0h23m75 0h23m75 0h22M188 526.2h23m75 0h22m75 0h23m75 0h23m75 0h22M188 528.2h23m75 0h22m75 0h23m75 0h23m75 0h22M188 530.2h23m75 0h23m74 0h23m75 0h23m75 0h22M188 532.2h23m75 0h23m74 0h23m75 0h23m75 0h23M188 534.2h23m75 0h23m74 0h23m75 0h23m75 0h23M188 536.2h23m75 0h23m74 0h23m75 0h23m75 0h23M188 538.2h23m75 0h23m74 0h24m74 0h23m75 0h23M188 540.2h23m75 0h23m74 0h24m74 0h23m75 0h23M188 542.2h24m74 0h23m74 0h24m74 0h24m74 0h23M188 544.2h24m74 0h24m73 0h24m74 0h24m74 0h23M188 546.2h24m74 0h24m73 0h24m74 0h24m74 0h24M188 548.2h24m74 0h24m73 0h25m73 0h24m74 0h24M188 550.2h25m73 0h24m73 0h25m73 0h25m73 0h24M188 552.2h25m73 0h25m72 0h25m73 0h25m73 0h25M188 554.2h25m73 0h25m72 0h25m73 0h25m73 0h25M188 556.2h25m73 0h25m72 0h26m72 0h25m73 0h25M188 558.2h26m72 0h25m72 0h26m72 0h26m72 0h25M188 560.2h26m72 0h26m71 0h26m72 0h26m72 0h26M188 562.2h26m72 0h26m71 0h27m71 0h26m72 0h26M188 564.2h26m72 0h26m71 0h27m71 0h26m72 0h26M188 566.2h27m71 0h26m71 0h27m71 0h27m71 0h26M188 568.2h27m71 0h27m70 0h27m71 0h27m71 0h27M188 570.2h27m71 0h27m70 0h28m70 0h27m71 0h27M188 572.2h28m70 0h27m70 0h28m70 0h27m71 0h27M188 574.2h28m70 0h27m70 0h28m70 0h28m70 0h27M188 576.2h28m70 0h28m69 0h28m70 0h28m70 0h28M188 578.2h28m70 0h28m69 0h29m69 0h28m70 0h28M188 580.2h29m69 0h28m69 0h29m69 0h29m69 0h28M188 582.2h29m69 0h28m69 0h29m69 0h29m69 0h28M188 584.2h29m69 0h29m68 0h29m69 0h29m69 0h29M188 586.2h29m69 0h29m68 0h30m68 0h29m69 0h29M188 588.2h30m68 0h29m68 0h30m68 0h30m68 0h29M188 590.2h30m68 0h30m67 0h30m68 0h30m68 0h29M188 592.2h30m68 0h30m67 0h30m68 0h30m68 0h30M188 594.2h30m68 0h30m67 0h31m67 0h30m68 0h30M188 596.2h31m67 0h30m67 0h31m67 0h31m67 0h30M188 598.2h31m67 0h31m66 0h31m67 0h31m67 0h31M188 600.2h31m67 0h31m66 0h32m66 0h31m67 0h31M188 602.2h32m66 0h31m66 0h32m66 0h32m66 0h31M188 604.2h32m66 0h32m65 0h33m65 0h32m66 0h32M188 606.2h33m65 0h33m64 0h33m65 0h33m65 0h33M188 608.2h34m64 0h33m64 0h34m64 0h34m64 0h33M188 610.2h34m64 0h34m63 0h35m63 0h34m64 0h34M188 612.2h35m63 0h34m63 0h35m63 0h35m63 0h34M188 614.2h35m63 0h35m62 0h36m62 0h35m63 0h35M188 616.2h36m62 0h36m61 0h36m62 0h36m62 0h36M188 618.2h37m61 0h36m61 0h37m61 0h37m61 0h36M188 620.2h37m61 0h37m60 0h38m60 0h37m61 0h37M188 622.2h38m60 0h37m60 0h38m60 0h38m60 0h37M188 624.2h38m60 0h38m59 0h39m59 0h38m60 0h38M188 626.2h39m59 0h39m58 0h39m59 0h39m59 0h39"/>
<path stroke="rgb(27,27,27)" stroke-width="2" fill="none" d="M190 358.2h37m61 0h37m60 0h37m61 0h37m60 0h38M190 360.2h37m61 0h37m60 0h37m61 0h37m60 0h38M190 362.2h37m61 0h37m60 0h37m61 0h37m60 0h38M190 364.2h37m61 0h37m60 0h37m61 0h37m60 0h38M190 366.2h37m61 0h37m60 0h37m61 0h37m60 0h38M190 368.2h37m61 0h37m60 0h37m61 0h37m60 0h38M190 370.2h37m61 0h37m60 0h37m61 0h37m60 0h38M190 372.2h37m61 0h37m60 0h37m61 0h37m60 0h38M190 374.2h37m61 0h37m60 0h37m61 0h37m60 0h38M190 376.2h37m61 0h37m60 0h37m61 0h37m60 0h38M190 378.2h37m61 0h37m60 0h37m61 0h37m60 0h38M190 380.2h37m61 0h37m60 0h37m61 0h37m60 0h38M190 382.2h37m61 0h37m60 0h37m61 0h37m60 0h38M190 384.2h37m61 0h37m60 0h37m61 0h37m60 0h38M190 386.2h37m61 0h37m60 0h37m61 0h37m60 0h38M190 388.2h37m61 0h37m60 0h37m61 0h37m60 0h38M190 390.2h37m61 0h37m60 0h37m61 0h37m60 0h38M190 392.2h37m61 0h37m60 0h37m61 0h37m60 0h38M190 394.2h37m61 0h37m60 0h37m61 0h37m60 0h38M190 396.2h37m61 0h37m60 0h37m61 0h37m60 0h38M190 398.2h37m61 0h37m60 0h37m61 0h37m60 0h38M190 400.2h37m61 0h37m60 0h37m61 0h37m60 0h38M190 402.2h37m61 0h37m60 0h37m61 0h37m60 0h38M190 404.2h37m61 0h37m60 0h37m61 0h37m60 0h38M190 406.2h37m61 0h37m60 0h37m61 0h37m60 0h38M190 408.2h37m61 0h37m60 0h37m61 0h37m60 0h38M190 410.2h37m61 0h37m60 0h37m61 0h37m60 0h38M190 412.2h37m61 0h37m60 0h37m61 0h37m60 0h38"/>
<path stroke="rgb(40,40,40)" stroke-width="2" fill="none" d="M227 358.2h16m82 0h15m82 0h16m82 0h16m82 0h15M227 360.2h16m82 0h15m82 0h16m82 0h16m82 0h15M227 362.2h16m82 0h15m82 0h16m82 0h16m82 0h15M227 364.2h16m82 0h15m82 0h16m82 0h16m82 0h15M227 366.2h16m82 0h15m82 0h16m82 0h16m82 0h15M227 368.2h16m82 0h15m82 0h16m82 0h16m82 0h15M227 370.2h16m82 0h15m82 0h16m82 0h16m82 0h15M227 372.2h16m82 0h15m82 0h16m82 0h16m82 0h15M227 374.2h16m82 0h15m82 0h16m82 0h16m82 0h15M227 376.2h16m82 0h15m82 0h16m82 0h16m82 0h15M227 378.2h16m82 0h15m82 0h16m82 0h16m82 0h15M227 380.2h16m82 0h15m82 0h16m82 0h16m82 0h15M227 382.2h16m82 0h15m82 0h16m82 0h16m82 0h15M227 384.2h16m82 0h15m82 0h16m82 0h16m82 0h15M227 386.2h16m82 0h15m82 0h16m82 0h16m82 0h15M227 388.2h16m82 0h15m82 0h16m82 0h16m82 0h15M227 390.2h16m82 0h15m82 0h16m82 0h16m82 0h15M227 392.2h16m82 0h15m82 0h16m82 0h16m82 0h15M227 394.2h16m82 0h15m82 0h16m82 0h16m82 0h15M227 396.2h16m82 0h15m82 0h16m82 0h16m82 0h15M227 398.2h16m82 0h15m82 0h16m82 0h16m82 0h15M227 400.2h16m82 0h15m82 0h16m82 0h16m82 0h15M227 402.2h16m82 0h15m82 0h16m82 0h16m82 0h15M227 404.2h16m82 0h15m82 0h16m82 0h16m82 0h15M227 406.2h16m82 0h15m82 0h16m82 0h16m82 0h15M227 408.2h16m82 0h15m82 0h16m82 0h16m82 0h15M227 410.2h16m82 0h15m82 0h16m82 0h16m82 0h15M227 412.2h16m82 0h15m82 0h16m82 0h16m82 0h15M188 414.2h16m82 0h15m82 0h16m82 0h15m83 0h15M188 416.2h16m82 0h15m82 0h16m82 0h15m83 0h15M188 418.2h16m82 0h15m82 0h16m82 0h15m83 0h15M188 420.2h16m82 0h15m82 0h16m82 0h15m83 0h15M188 422.2h16m82 0h15m82 0h16m82 0h15m83 0h15M188 424.2h16m82 0h15m82 0h16m82 0h15m83 0h15M188 426.2h16m82 0h15m82 0h16m82 0h15m83 0h15M188 428.2h16m82 0h15m82 0h16m82 0h15m83 0h15M188 430.2h16m82 0h15m82 0h16m82 0h15m83 0h15M188 432.2h16m82 0h15m82 0h16m82 0h15m83 0h15M188 434.2h16m82 0h15m82 0h16m82 0h15m83 0h15M188 436.2h16m82 0h15m82 0h16m82 0h15m83 0h15M188 438.2h16m82 0h15m82 0h16m82 0h15m83 0h15M188 440.2h16m82 0h15m82 0h16m82 0h15m83 0h15M188 442.2h16m82 0h15m82 0h16m82 0h15m83 0h15M188 444.2h16m82 0h15m82 0h16m82 0h15m83 0h15M188 446.2h16m82 0h15m82 0h16m82 0h15m83 0h15M188 448.2h16m82 0h15m82 0h16m82 0h15m83 0h15M188 450.2h16m82 0h15m82 0h16m82 0h15m83 0h15M188 452.2h16m82 0h15m82 0h16m82 0h15m83 0h15M188 454.2h16m82 0h15m82 0h16m82 0h15m83 0h15M188 456.2h16m82 0h15m82 0h16m82 0h15m83 0h15M188 458.2h16m82 0h15m82 0h16m82 0h15m83 0h15M188 460.2h16m82 0h15m82 0h16m82 0h15m83 0h15"/>
<path stroke="rgb(67,67,67)" stroke-width="2" fill="none" d="M633 358.2h140M633 360.2h140M633 362.2h140M633 364.2h140M633 366.2h140M633 368.2h140M633 370.2h140M633 372.2h140M633 374.2h140M633 376.2h140M633 378.2h140M633 380.2h140M633 382.2h140M633 384.2h140M633 386.2h140M633 388.2h140M633 390.2h140M633 392.2h140M633 394.2h140M633 396.2h140M633 398.2h140M633 400.2h140M633 402.2h140M633 404.2h140M633 406.2h140M633 408.2h140M633 410.2h140M633 412.2h140M614 414.2h159M614 416.2h159M614 418.2h159M614 420.2h159M614 422.2h159M614 424.2h159M614 426.2h159M614 428.2h159M614 430.2h159M614 432.2h159M614 434.2h159M614 436.2h159M614 438.2h159M614 440.2h159M614 442.2h159M614 444.2h159M614 446.2h159M614 448.2h159M614 450.2h159M614 452.2h159M614 454.2h159M614 456.2h159M614 458.2h159M614 460.2h159M639 462.2h134M639 464.2h134M639 466.2h134M639 468.2h134M639 470.2h134M640 472.2h133M640 474.2h133M640 476.2h133M640 478.2h133M640 480.2h133M640 482.2h133M640 484.2h133M640 486.2h133M640 488.2h133M640 490.2h133M641 492.2h132M641 494.2h132M641 496.2h132M641 498.2h132M641 500.2h132M641 502.2h132M641 504.2h132M641 506.2h132M641 508.2h132M641 510.2h132M642 512.2h131M642 514.2h131M642 516.2h131M642 518.2h131M642 520.2h131M642 522.2h131M642 524.2h131M642 526.2h131M642 528.2h131M642 530.2h131M643 532.2h130M643 534.2h130M643 536.2h130M643 538.2h130M643 540.2h130M643 542.2h130M644 544.2h129M644 546.2h129M644 548.2h129M644 550.2h129M645 552.2h128M645 554.2h128M645 556.2h128M645 558.2h128M646 560.2h127M646 562.2h127M646 564.2h127M646 566.2h127M647 568.2h126M647 570.2h126M647 572.2h126M647 574.2h126M648 576.2h125M648 578.2h125M648 580.2h125M648 582.2h125M649 584.2h124M649 586.2h124M649 588.2h124M649 590.2h124M650 592.2h123M650 594.2h123M650 596.2h123M651 598.2h122M651 600.2h122M651 602.2h122M652 604.2h121M653 606.2h120M653 608.2h120M654 610.2h119M654 612.2h119M655 614.2h118M656 616.2h117M656 618.2h117M657 620.2h116M657 622.2h116M658 624.2h115M659 626.2h114"/>
<path stroke="rgb(81,81,81)" stroke-width="2" fill="none" d="M84 358.2h102m3 0h1m53 0h40m4 0h1m52 0h41m3 0h1m53 0h41m3 0h1m53 0h40M84 360.2h102m3 0h1m53 0h40m4 0h1m52 0h41m3 0h1m53 0h41m3 0h1m53 0h40M84 362.2h102m3 0h1m53 0h40m4 0h1m52 0h41m3 0h1m53 0h41m3 0h1m53 0h40M84 364.2h102m3 0h1m53 0h40m4 0h1m52 0h41m3 0h1m53 0h41m3 0h1m53 0h40M84 366.2h102m3 0h1m53 0h40m4 0h1m52 0h41m3 0h1m53 0h41m3 0h1m53 0h40M84 368.2h102m3 0h1m53 0h40m4 0h1m52 0h41m3 0h1m53 0h41m3 0h1m53 0h40M84 370.2h102m3 0h1m53 0h40m4 0h1m52 0h41m3 0h1m53 0h41m3 0h1m53 0h40M84 372.2h102m3 0h1m53 0h40m4 0h1m52 0h41m3 0h1m53 0h41m3 0h1m53 0h40M84 374.2h102m3 0h1m53 0h40m4 0h1m52 0h41m3 0h1m53 0h41m3 0h1m53 0h40M84 376.2h102m3 0h1m53 0h40m4 0h1m52 0h41m3 0h1m53 0h41m3 0h1m53 0h40M84 378.2h102m3 0h1m53 0h40m4 0h1m52 0h41m3 0h1m53 0h41m3 0h1m53 0h40M84 380.2h102m3 0h1m53 0h40m4 0h1m52 0h41m3 0h1m53 0h41m3 0h1m53 0h40M84 382.2h102m3 0h1m53 0h40m4 0h1m52 0h41m3 0h1m53 0h41m3 0h1m53 0h40M84 384.2h102m3 0h1m53 0h40m4 0h1m52 0h41m3 0h1m53 0h41m3 0h1m53 0h40M84 386.2h102m3 0h1m53 0h40m4 0h1m52 0h41m3 0h1m53 0h41m3 0h1m53 0h40M84 388.2h102m3 0h1m53 0h40m4 0h1m52 0h41m3 0h1m53 0h41m3 0h1m53 0h40M84 390.2h102m3 0h1m53 0h40m4 0h1m52 0h41m3 0h1m53 0h41m3 0h1m53 0h40M84 392.2h102m3 0h1m53 0h40m4 0h1m52 0h41m3 0h1m53 0h41m3 0h1m53 0h40M84 394.2h102m3 0h1m53 0h40m4 0h1m52 0h41m3 0h1m53 0h41m3 0h1m53 0h40M84 396.2h102m3 0h1m53 0h40m4 0h1m52 0h41m3 0h1m53 0h41m3 0h1m53 0h40M84 398.2h102m3 0h1m53 0h40m4 0h1m52 0h41m3 0h1m53 0h41m3 0h1m53 0h40M84 400.2h102m3 0h1m53 0h40m4 0h1m52 0h41m3 0h1m53 0h41m3 0h1m53 0h40M84 402.2h102m3 0h1m53 0h40m4 0h1m52 0h41m3 0h1m53 0h41m3 0h1m53 0h40M84 404.2h102m3 0h1m53 0h40m4 0h1m52 0h41m3 0h1m53 0h41m3 0h1m53 0h40M84 406.2h102m3 0h1m53 0h40m4 0h1m52 0h41m3 0h1m53 0h41m3 0h1m53 0h40M84 408.2h102m3 0h1m53 0h40m4 0h1m52 0h41m3 0h1m53 0h41m3 0h1m53 0h40M84 410.2h102m3 0h1m53 0h40m4 0h1m52 0h41m3 0h1m53 0h41m3 0h1m53 0h40M84 412.2h102m3 0h1m53 0h40m4 0h1m52 0h41m3 0h1m53 0h41m3 0h1m53 0h40M84 414.2h104m35 0h63m35 0h62m35 0h63m35 0h63M84 416.2h104m35 0h63m35 0h62m35 0h63m35 0h63M84 418.2h104m35 0h63m35 0h62m35 0h63m35 0h63M84 420.2h104m35 0h63m35 0h62m35 0h63m35 0h63M84 422.2h104m35 0h63m35 0h62m35 0h63m35 0h63M84 424.2h104m35 0h63m35 0h62m35 0h63m35 0h63M84 426.2h104m35 0h63m35 0h62m35 0h63m35 0h63M84 428.2h104m35 0h63m35 0h62m35 0h63m35 0h63M84 430.2h104m35 0h63m35 0h62m35 0h63m35 0h63M84 432.2h104m35 0h63m35 0h62m35 0h63m35 0h63M84 434.2h104m35 0h63m35 0h62m35 0h63m35 0h63M84 436.2h104m35 0h63m35 0h62m35 0h63m35 0h63M84 438.2h104m35 0h63m35 0h62m35 0h63m35 0h63M84 440.2h104m35 0h63m35 0h62m35 0h63m35 0h63M84 442.2h104m35 0h63m35 0h62m35 0h63m35 0h63M84 444.2h104m35 0h63m35 0h62m35 0h63m35 0h63M84 446.2h104m35 0h63m35 0h62m35 0h63m35 0h63M84 448.2h104m35 0h63m35 0h62m35 0h63m35 0h63M84 450.2h104m35 0h63m35 0h62m35 0h63m35 0h63M84 452.2h104m35 0h63m35 0h62m35 0h63m35 0h63M84 454.2h104m35 0h63m35 0h62m35 0h63m35 0h63M84 456.2h104m35 0h63m35 0h62m35 0h63m35 0h63M84 458.2h104m35 0h63m35 0h62m35 0h63m35 0h63M84 460.2h104m35 0h63m35 0h62m35 0h63m35 0h63M84 462.2h100m2 0h2m41 0h53m2 0h2m41 0h52m3 0h1m41 0h53m2 0h2m41 0h53m2 0h2m41 0h19M84 464.2h100m2 0h2m41 0h53m2 0h2m41 0h52m3 0h1m41 0h53m2 0h2m41 0h53m2 0h2m41 0h19M84 466.2h100m2 0h2m41 0h53m2 0h2m41 0h52m3 0h1m41 0h53m2 0h2m41 0h53m2 0h2m41 0h19M84 468.2h100m2 0h2m41 0h53m2 0h2m41 0h52m3 0h1m42 0h52m2 0h2m41 0h53m2 0h2m41 0h19M84 470.2h100m2 0h2m41 0h53m2 0h2m41 0h52m3 0h1m42 0h52m2 0h2m41 0h53m2 0h2m41 0h19M84 472.2h100m2 0h2m41 0h53m2 0h2m41 0h52m3 0h1m42 0h52m2 0h2m41 0h53m2 0h2m41 0h20M84 474.2h100m2 0h2m42 0h52m2 0h2m41 0h52m3 0h1m42 0h52m2 0h2m41 0h53m2 0h2m41 0h20M84 476.2h100m2 0h2m42 0h52m2 0h2m41 0h52m3 0h1m42 0h52m2 0h2m42 0h52m2 0h2m41 0h20M84 478.2h100m2 0h2m42 0h52m2 0h2m41 0h52m3 0h1m42 0h52m2 0h2m42 0h52m2 0h2m41 0h20M84 480.2h100m2 0h2m42 0h52m2 0h2m41 0h52m3 0h1m42 0h52m2 0h2m42 0h52m2 0h2m41 0h20M84 482.2h100m2 0h2m42 0h52m2 0h2m42 0h51m3 0h1m42 0h52m2 0h2m42 0h52m2 0h2m42 0h19M84 484.2h100m2 0h2m42 0h52m2 0h2m42 0h51m3 0h1m42 0h52m2 0h2m42 0h52m2 0h2m42 0h19M84 486.2h100m2 0h2m42 0h52m2 0h2m42 0h51m3 0h1m42 0h52m2 0h2m42 0h52m2 0h2m42 0h19M84 488.2h100m2 0h2m42 0h52m2 0h2m42 0h51m3 0h1m43 0h51m2 0h2m42 0h52m2 0h2m42 0h19M84 490.2h100m2 0h2m42 0h52m2 0h2m42 0h51m3 0h1m43 0h51m2 0h2m42 0h52m2 0h2m42 0h19M84 492.2h100m2 0h2m42 0h52m2 0h2m42 0h51m3 0h1m43 0h51m2 0h2m42 0h52m2 0h2m42 0h20M84 494.2h100m2 0h2m43 0h51m2 0h2m42 0h51m3 0h1m43 0h51m2 0h2m42 0h52m2 0h2m42 0h20M84 496.2h100m2 0h2m43 0h51m2 0h2m42 0h51m3 0h1m43 0h51m2 0h2m43 0h51m2 0h2m42 0h20M84 498.2h100m2 0h2m43 0h51m2 0h2m42 0h51m3 0h1m43 0h51m2 0h2m43 0h51m2 0h2m42 0h20M84 500.2h100m2 0h2m43 0h51m2 0h2m42 0h51m3 0h1m43 0h51m2 0h2m43 0h51m2 0h2m42 0h20M84 502.2h100m2 0h2m43 0h51m2 0h2m43 0h50m3 0h1m43 0h51m2 0h2m43 0h51m2 0h2m43 0h19M84 504.2h100m2 0h2m43 0h51m2 0h2m43 0h50m3 0h1m43 0h51m2 0h2m43 0h51m2 0h2m43 0h19M84 506.2h100m2 0h2m43 0h51m2 0h2m43 0h50m3 0h1m43 0h51m2 0h2m43 0h51m2 0h2m43 0h19M84 508.2h100m2 0h2m43 0h51m2 0h2m43 0h50m3 0h1m44 0h50m2 0h2m43 0h51m2 0h2m43 0h19M84 510.2h100m2 0h2m43 0h51m2 0h2m43 0h50m3 0h1m44 0h50m2 0h2m43 0h51m2 0h2m43 0h19M84 512.2h100m2 0h2m43 0h51m2 0h2m43 0h50m3 0h1m44 0h50m2 0h2m43 0h51m2 0h2m43 0h20M84 514.2h100m2 0h2m44 0h50m2 0h2m43 0h50m3 0h1m44 0h50m2 0h2m43 0h51m2 0h2m43 0h20M84 516.2h100m2 0h2m44 0h50m2 0h2m43 0h50m3 0h1m44 0h50m2 0h2m44 0h50m2 0h2m43 0h20M84 518.2h100m2 0h2m44 0h50m2 0h2m43 0h50m3 0h1m44 0h50m2 0h2m44 0h50m2 0h2m43 0h20M84 520.2h100m2 0h2m44 0h50m2 0h2m43 0h50m3 0h1m44 0h50m2 0h2m44 0h50m2 0h2m43 0h20M84 522.2h100m2 0h2m44 0h50m2 0h2m44 0h49m3 0h1m44 0h50m2 0h2m44 0h50m2 0h2m44 0h19M84 524.2h100m2 0h2m44 0h50m2 0h2m44 0h49m3 0h1m44 0h50m2 0h2m44 0h50m2 0h2m44 0h19M84 526.2h100m2 0h2m44 0h50m2 0h2m44 0h49m3 0h1m44 0h50m2 0h2m44 0h50m2 0h2m44 0h19M84 528.2h100m2 0h2m44 0h50m2 0h2m44 0h49m3 0h1m45 0h49m2 0h2m44 0h50m2 0h2m44 0h19M84 530.2h100m2 0h2m44 0h50m2 0h2m44 0h49m3 0h1m45 0h49m2 0h2m44 0h50m2 0h2m44 0h19M84 532.2h100m2 0h2m44 0h50m2 0h2m44 0h49m3 0h1m45 0h49m2 0h2m44 0h50m2 0h2m44 0h20M84 534.2h100m2 0h2m45 0h49m2 0h2m44 0h49m3 0h1m45 0h49m2 0h2m44 0h50m2 0h2m44 0h20M84 536.2h100m2 0h2m45 0h49m2 0h2m44 0h49m3 0h1m45 0h49m2 0h2m45 0h49m2 0h2m44 0h20M84 538.2h100m2 0h2m45 0h49m2 0h2m44 0h49m3 0h1m45 0h49m2 0h2m45 0h49m2 0h2m44 0h20M84 540.2h100m2 0h2m45 0h49m2 0h2m45 0h48m3 0h1m45 0h49m2 0h2m45 0h49m2 0h2m44 0h20M84 542.2h100m2 0h2m45 0h49m2 0h2m45 0h48m3 0h1m45 0h49m2 0h2m45 0h49m2 0h2m45 0h19M84 544.2h100m2 0h2m45 0h49m2 0h2m45 0h48m3 0h1m46 0h48m2 0h2m45 0h49m2 0h2m45 0h20M84 546.2h100m2 0h2m46 0h48m2 0h2m45 0h48m3 0h1m46 0h48m2 0h2m46 0h48m2 0h2m45 0h20M84 548.2h100m2 0h2m46 0h48m2 0h2m46 0h47m3 0h1m46 0h48m2 0h2m46 0h48m2 0h2m45 0h20M84 550.2h100m2 0h2m46 0h48m2 0h2m46 0h47m3 0h1m46 0h48m2 0h2m46 0h48m2 0h2m46 0h19M84 552.2h100m2 0h2m46 0h48m2 0h2m46 0h47m3 0h1m47 0h47m2 0h2m46 0h48m2 0h2m46 0h20M84 554.2h100m2 0h2m47 0h47m2 0h2m46 0h47m3 0h1m47 0h47m2 0h2m47 0h47m2 0h2m46 0h20M84 556.2h100m2 0h2m47 0h47m2 0h2m47 0h46m3 0h1m47 0h47m2 0h2m47 0h47m2 0h2m47 0h19M84 558.2h100m2 0h2m47 0h47m2 0h2m47 0h46m3 0h1m47 0h47m2 0h2m47 0h47m2 0h2m47 0h19M84 560.2h100m2 0h2m47 0h47m2 0h2m47 0h46m3 0h1m48 0h46m2 0h2m47 0h47m2 0h2m47 0h20M84 562.2h100m2 0h2m48 0h46m2 0h2m47 0h46m3 0h1m48 0h46m2 0h2m48 0h46m2 0h2m47 0h20M84 564.2h100m2 0h2m48 0h46m2 0h2m48 0h45m3 0h1m48 0h46m2 0h2m48 0h46m2 0h2m48 0h19M84 566.2h100m2 0h2m48 0h46m2 0h2m48 0h45m3 0h1m49 0h45m2 0h2m48 0h46m2 0h2m48 0h19M84 568.2h100m2 0h2m48 0h46m2 0h2m48 0h45m3 0h1m49 0h45m2 0h2m48 0h46m2 0h2m48 0h20M84 570.2h100m2 0h2m49 0h45m2 0h2m48 0h45m3 0h1m49 0h45m2 0h2m49 0h45m2 0h2m48 0h20M84 572.2h100m2 0h2m49 0h45m2 0h2m49 0h44m3 0h1m49 0h45m2 0h2m49 0h45m2 0h2m49 0h19M84 574.2h100m2 0h2m49 0h45m2 0h2m49 0h44m3 0h1m50 0h44m2 0h2m49 0h45m2 0h2m49 0h19M84 576.2h100m2 0h2m50 0h44m2 0h2m49 0h44m3 0h1m50 0h44m2 0h2m49 0h45m2 0h2m49 0h20M84 578.2h100m2 0h2m50 0h44m2 0h2m49 0h44m3 0h1m50 0h44m2 0h2m50 0h44m2 0h2m49 0h20M84 580.2h100m2 0h2m50 0h44m2 0h2m50 0h43m3 0h1m50 0h44m2 0h2m50 0h44m2 0h2m50 0h19M84 582.2h100m2 0h2m50 0h44m2 0h2m50 0h43m3 0h1m51 0h43m2 0h2m50 0h44m2 0h2m50 0h19M84 584.2h100m2 0h2m51 0h43m2 0h2m50 0h43m3 0h1m51 0h43m2 0h2m51 0h43m2 0h2m50 0h20M84 586.2h100m2 0h2m51 0h43m2 0h2m50 0h43m3 0h1m51 0h43m2 0h2m51 0h43m2 0h2m50 0h20M84 588.2h100m2 0h2m51 0h43m2 0h2m51 0h42m3 0h1m51 0h43m2 0h2m51 0h43m2 0h2m51 0h19M84 590.2h100m2 0h2m51 0h43m2 0h2m51 0h42m3 0h1m52 0h42m2 0h2m51 0h43m2 0h2m51 0h19M84 592.2h100m2 0h2m52 0h42m2 0h2m51 0h42m3 0h1m52 0h42m2 0h2m52 0h42m2 0h2m51 0h20M84 594.2h100m2 0h2m52 0h42m2 0h2m52 0h41m3 0h1m52 0h42m2 0h2m52 0h42m2 0h2m51 0h20M84 596.2h100m2 0h2m52 0h42m2 0h2m52 0h41m3 0h1m52 0h42m2 0h2m52 0h42m2 0h2m52 0h19M84 598.2h100m2 0h2m52 0h42m2 0h2m52 0h41m3 0h1m53 0h41m2 0h2m52 0h42m2 0h2m52 0h20M84 600.2h100m2 0h2m53 0h41m2 0h2m52 0h41m3 0h1m53 0h41m2 0h2m53 0h41m2 0h2m52 0h20M84 602.2h100m2 0h2m53 0h41m2 0h2m53 0h40m3 0h1m54 0h40m2 0h2m53 0h41m2 0h2m53 0h19M84 604.2h100m2 0h2m54 0h40m2 0h2m54 0h39m3 0h1m54 0h40m2 0h2m54 0h40m2 0h2m53 0h20M84 606.2h100m2 0h2m54 0h40m2 0h2m54 0h39m3 0h1m55 0h39m2 0h2m54 0h40m2 0h2m54 0h20M84 608.2h100m2 0h2m55 0h39m2 0h2m55 0h38m3 0h1m55 0h39m2 0h2m55 0h39m2 0h2m55 0h19M84 610.2h100m2 0h2m56 0h38m2 0h2m55 0h38m3 0h1m56 0h38m2 0h2m56 0h38m2 0h2m55 0h20M84 612.2h100m2 0h2m56 0h38m2 0h2m56 0h37m3 0h1m57 0h37m2 0h2m56 0h38m2 0h2m56 0h19M84 614.2h100m2 0h2m57 0h37m2 0h2m57 0h36m3 0h1m57 0h37m2 0h2m57 0h37m2 0h2m57 0h19M84 616.2h100m2 0h2m58 0h36m2 0h2m57 0h36m3 0h1m58 0h36m2 0h2m57 0h37m2 0h2m57 0h20M84 618.2h100m2 0h2m58 0h36m2 0h2m58 0h35m3 0h1m58 0h36m2 0h2m58 0h36m2 0h2m58 0h19M84 620.2h100m2 0h2m59 0h35m2 0h2m58 0h35m3 0h1m59 0h35m2 0h2m59 0h35m2 0h2m58 0h20M84 622.2h100m2 0h2m59 0h35m2 0h2m59 0h34m3 0h1m60 0h34m2 0h2m59 0h35m2 0h2m59 0h19M84 624.2h100m2 0h2m60 0h34m2 0h2m60 0h33m3 0h1m60 0h34m2 0h2m60 0h34m2 0h2m60 0h19M84 626.2h100m2 0h2m60 0h34m2 0h2m60 0h33m3 0h1m61 0h33m2 0h2m60 0h34m2 0h2m60 0h20"/>
<path stroke="rgb(94,94,94)" stroke-width="2" fill="none" d="M204 414.2h19m78 0h20m78 0h19m78 0h20m78 0h20M204 416.2h19m78 0h20m78 0h19m78 0h20m78 0h20M204 418.2h19m78 0h20m78 0h19m78 0h20m78 0h20M204 420.2h19m78 0h20m78 0h19m78 0h20m78 0h20M204 422.2h19m78 0h20m78 0h19m78 0h20m78 0h20M204 424.2h19m78 0h20m78 0h19m78 0h20m78 0h20M204 426.2h19m78 0h20m78 0h19m78 0h20m78 0h20M204 428.2h19m78 0h20m78 0h19m78 0h20m78 0h20M204 430.2h19m78 0h20m78 0h19m78 0h20m78 0h20M204 432.2h19m78 0h20m78 0h19m78 0h20m78 0h20M204 434.2h19m78 0h20m78 0h19m78 0h20m78 0h20M204 436.2h19m78 0h20m78 0h19m78 0h20m78 0h20M204 438.2h19m78 0h20m78 0h19m78 0h20m78 0h20M204 440.2h19m78 0h20m78 0h19m78 0h20m78 0h20M204 442.2h19m78 0h20m78 0h19m78 0h20m78 0h20M204 444.2h19m78 0h20m78 0h19m78 0h20m78 0h20M204 446.2h19m78 0h20m78 0h19m78 0h20m78 0h20M204 448.2h19m78 0h20m78 0h19m78 0h20m78 0h20M204 450.2h19m78 0h20m78 0h19m78 0h20m78 0h20M204 452.2h19m78 0h20m78 0h19m78 0h20m78 0h20M204 454.2h19m78 0h20m78 0h19m78 0h20m78 0h20M204 456.2h19m78 0h20m78 0h19m78 0h20m78 0h20M204 458.2h19m78 0h20m78 0h19m78 0h20m78 0h20M204 460.2h19m78 0h20m78 0h19m78 0h20m78 0h20"/>
<path stroke="rgb(107,107,107)" stroke-width="2" fill="none" d="M219 462.2h10m88 0h10m87 0h10m88 0h10m88 0h10M219 464.2h10m88 0h10m88 0h9m88 0h10m88 0h10M219 466.2h10m88 0h10m88 0h9m88 0h10m88 0h10M219 468.2h10m88 0h10m88 0h10m87 0h10m88 0h10M220 470.2h9m88 0h10m88 0h10m88 0h9m88 0h10M220 472.2h9m88 0h10m88 0h10m88 0h9m88 0h10M220 474.2h10m87 0h10m88 0h10m88 0h9m88 0h10M220 476.2h10m88 0h9m88 0h10m88 0h10m87 0h10M220 478.2h10m88 0h9m88 0h10m88 0h10m88 0h9M220 480.2h10m88 0h9m88 0h10m88 0h10m88 0h9M220 482.2h10m88 0h10m87 0h10m88 0h10m88 0h10M220 484.2h10m88 0h10m88 0h9m88 0h10m88 0h10M220 486.2h10m88 0h10m88 0h9m88 0h10m88 0h10M220 488.2h10m88 0h10m88 0h10m87 0h10m88 0h10M221 490.2h9m88 0h10m88 0h10m88 0h9m88 0h10M221 492.2h9m88 0h10m88 0h10m88 0h9m88 0h10M221 494.2h10m87 0h10m88 0h10m88 0h9m88 0h10M221 496.2h10m88 0h9m88 0h10m88 0h10m87 0h10M221 498.2h10m88 0h9m88 0h10m88 0h10m88 0h9M221 500.2h10m88 0h9m88 0h10m88 0h10m88 0h9M221 502.2h10m88 0h10m87 0h10m88 0h10m88 0h10M221 504.2h10m88 0h10m88 0h9m88 0h10m88 0h10M221 506.2h10m88 0h10m88 0h9m88 0h10m88 0h10M221 508.2h10m88 0h10m88 0h10m87 0h10m88 0h10M222 510.2h9m88 0h10m88 0h10m88 0h9m88 0h10M222 512.2h9m88 0h10m88 0h10m88 0h9m88 0h10M222 514.2h10m87 0h10m88 0h10m88 0h9m88 0h10M222 516.2h10m88 0h9m88 0h10m88 0h10m87 0h10M222 518.2h10m88 0h9m88 0h10m88 0h10m88 0h9M222 520.2h10m88 0h9m88 0h10m88 0h10m88 0h9M222 522.2h10m88 0h10m87 0h10m88 0h10m88 0h10M222 524.2h10m88 0h10m88 0h9m88 0h10m88 0h10M222 526.2h10m88 0h10m88 0h9m88 0h10m88 0h10M222 528.2h10m88 0h10m88 0h10m87 0h10m88 0h10M223 530.2h9m88 0h10m88 0h10m88 0h9m88 0h10M223 532.2h9m88 0h10m88 0h10m88 0h9m88 0h10M223 534.2h10m87 0h10m88 0h10m88 0h9m88 0h10M223 536.2h10m88 0h9m88 0h10m88 0h10m87 0h10M223 538.2h10m88 0h9m88 0h10m88 0h10m88 0h9M223 540.2h10m88 0h10m87 0h10m88 0h10m88 0h9M223 542.2h10m88 0h10m88 0h9m88 0h10m88 0h10M224 544.2h9m88 0h10m88 0h10m88 0h9m88 0h10M224 546.2h10m88 0h9m88 0h10m88 0h10m87 0h10M224 548.2h10m88 0h10m87 0h10m88 0h10m88 0h9M224 550.2h10m88 0h10m88 0h9m88 0h10m88 0h10M225 552.2h9m88 0h10m88 0h10m88 0h9m88 0h10M225 554.2h10m88 0h9m88 0h10m88 0h10m88 0h9M225 556.2h10m88 0h10m87 0h10m88 0h10m88 0h10M225 558.2h10m88 0h10m88 0h9m88 0h10m88 0h10M226 560.2h9m88 0h10m88 0h10m88 0h9m88 0h10M226 562.2h10m88 0h9m88 0h10m88 0h10m88 0h9M226 564.2h10m88 0h10m88 0h9m88 0h10m88 0h10M226 566.2h10m88 0h10m88 0h10m87 0h10m88 0h10M227 568.2h9m88 0h10m88 0h10m88 0h9m88 0h10M227 570.2h10m88 0h9m88 0h10m88 0h10m88 0h9M227 572.2h10m88 0h10m88 0h9m88 0h10m88 0h10M228 574.2h9m88 0h10m88 0h10m87 0h10m88 0h10M228 576.2h10m87 0h10m88 0h10m88 0h9m88 0h10M228 578.2h10m88 0h9m88 0h10m88 0h10m88 0h9M228 580.2h10m88 0h10m88 0h9m88 0h10m88 0h10M229 582.2h9m88 0h10m88 0h10m88 0h9m88 0h10M229 584.2h10m87 0h10m88 0h10m88 0h10m87 0h10M229 586.2h10m88 0h9m88 0h10m88 0h10m88 0h9M229 588.2h10m88 0h10m88 0h9m88 0h10m88 0h10M230 590.2h9m88 0h10m88 0h10m88 0h9m88 0h10M230 592.2h10m88 0h9m88 0h10m88 0h10m87 0h10M230 594.2h10m88 0h10m87 0h10m88 0h10m88 0h9M230 596.2h10m88 0h10m88 0h9m88 0h10m88 0h10M231 598.2h9m88 0h10m88 0h10m88 0h9m88 0h10M231 600.2h10m88 0h9m88 0h10m88 0h10m88 0h9M232 602.2h9m88 0h10m88 0h10m87 0h10m88 0h10M232 604.2h10m88 0h10m87 0h10m88 0h10m88 0h9M233 606.2h9m88 0h10m88 0h10m88 0h9m88 0h10M233 608.2h10m88 0h10m88 0h9m88 0h10m88 0h10M234 610.2h10m88 0h9m88 0h10m88 0h10m88 0h9M235 612.2h9m88 0h10m88 0h10m87 0h10m88 0h10M235 614.2h10m88 0h10m87 0h10m88 0h10m88 0h10M236 616.2h10m87 0h10m88 0h10m88 0h9m88 0h10M236 618.2h10m88 0h10m88 0h9m88 0h10m88 0h10M237 620.2h10m88 0h9m88 0h10m88 0h10m88 0h9M238 622.2h9m88 0h10m88 0h10m87 0h10m88 0h10M238 624.2h10m88 0h10m87 0h10m88 0h10m88 0h10M239 626.2h9m88 0h10m88 0h10m88 0h9m88 0h10"/>
<path stroke="rgb(121,121,121)" stroke-width="2" fill="none" d="M184 462.2h2m96 0h2m95 0h3m95 0h2m96 0h2M184 464.2h2m96 0h2m95 0h3m95 0h2m96 0h2M184 466.2h2m96 0h2m95 0h3m95 0h2m96 0h2M184 468.2h2m96 0h2m95 0h3m95 0h2m96 0h2M184 470.2h2m96 0h2m95 0h3m95 0h2m96 0h2M184 472.2h2m96 0h2m95 0h3m95 0h2m96 0h2M184 474.2h2m96 0h2m95 0h3m95 0h2m96 0h2M184 476.2h2m96 0h2m95 0h3m95 0h2m96 0h2M184 478.2h2m96 0h2m95 0h3m95 0h2m96 0h2M184 480.2h2m96 0h2m95 0h3m95 0h2m96 0h2M184 482.2h2m96 0h2m95 0h3m95 0h2m96 0h2M184 484.2h2m96 0h2m95 0h3m95 0h2m96 0h2M184 486.2h2m96 0h2m95 0h3m95 0h2m96 0h2M184 488.2h2m96 0h2m95 0h3m95 0h2m96 0h2M184 490.2h2m96 0h2m95 0h3m95 0h2m96 0h2M184 492.2h2m96 0h2m95 0h3m95 0h2m96 0h2M184 494.2h2m96 0h2m95 0h3m95 0h2m96 0h2M184 496.2h2m96 0h2m95 0h3m95 0h2m96 0h2M184 498.2h2m96 0h2m95 0h3m95 0h2m96 0h2M184 500.2h2m96 0h2m95 0h3m95 0h2m96 0h2M184 502.2h2m96 0h2m95 0h3m95 0h2m96 0h2M184 504.2h2m96 0h2m95 0h3m95 0h2m96 0h2M184 506.2h2m96 0h2m95 0h3m95 0h2m96 0h2M184 508.2h2m96 0h2m95 0h3m95 0h2m96 0h2M184 510.2h2m96 0h2m95 0h3m95 0h2m96 0h2M184 512.2h2m96 0h2m95 0h3m95 0h2m96 0h2M184 514.2h2m96 0h2m95 0h3m95 0h2m96 0h2M184 516.2h2m96 0h2m95 0h3m95 0h2m96 0h2M184 518.2h2m96 0h2m95 0h3m95 0h2m96 0h2M184 520.2h2m96 0h2m95 0h3m95 0h2m96 0h2M184 522.2h2m96 0h2m95 0h3m95 0h2m96 0h2M184 524.2h2m96 0h2m95 0h3m95 0h2m96 0h2M184 526.2h2m96 0h2m95 0h3m95 0h2m96 0h2M184 528.2h2m96 0h2m95 0h3m95 0h2m96 0h2M184 530.2h2m96 0h2m95 0h3m95 0h2m96 0h2M184 532.2h2m96 0h2m95 0h3m95 0h2m96 0h2M184 534.2h2m96 0h2m95 0h3m95 0h2m96 0h2M184 536.2h2m96 0h2m95 0h3m95 0h2m96 0h2M184 538.2h2m96 0h2m95 0h3m95 0h2m96 0h2M184 540.2h2m96 0h2m95 0h3m95 0h2m96 0h2M184 542.2h2m96 0h2m95 0h3m95 0h2m96 0h2M184 544.2h2m96 0h2m95 0h3m95 0h2m96 0h2M184 546.2h2m96 0h2m95 0h3m95 0h2m96 0h2M184 548.2h2m96 0h2m95 0h3m95 0h2m96 0h2M184 550.2h2m96 0h2m95 0h3m95 0h2m96 0h2M184 552.2h2m96 0h2m95 0h3m95 0h2m96 0h2M184 554.2h2m96 0h2m95 0h3m95 0h2m96 0h2M184 556.2h2m96 0h2m95 0h3m95 0h2m96 0h2M184 558.2h2m96 0h2m95 0h3m95 0h2m96 0h2M184 560.2h2m96 0h2m95 0h3m95 0h2m96 0h2M184 562.2h2m96 0h2m95 0h3m95 0h2m96 0h2M184 564.2h2m96 0h2m95 0h3m95 0h2m96 0h2M184 566.2h2m96 0h2m95 0h3m95 0h2m96 0h2M184 568.2h2m96 0h2m95 0h3m95 0h2m96 0h2M184 570.2h2m96 0h2m95 0h3m95 0h2m96 0h2M184 572.2h2m96 0h2m95 0h3m95 0h2m96 0h2M184 574.2h2m96 0h2m95 0h3m95 0h2m96 0h2M184 576.2h2m96 0h2m95 0h3m95 0h2m96 0h2M184 578.2h2m96 0h2m95 0h3m95 0h2m96 0h2M184 580.2h2m96 0h2m95 0h3m95 0h2m96 0h2M184 582.2h2m96 0h2m95 0h3m95 0h2m96 0h2M184 584.2h2m96 0h2m95 0h3m95 0h2m96 0h2M184 586.2h2m96 0h2m95 0h3m95 0h2m96 0h2M184 588.2h2m96 0h2m95 0h3m95 0h2m96 0h2M184 590.2h2m96 0h2m95 0h3m95 0h2m96 0h2M184 592.2h2m96 0h2m95 0h3m95 0h2m96 0h2M184 594.2h2m96 0h2m95 0h3m95 0h2m96 0h2M184 596.2h2m96 0h2m95 0h3m95 0h2m96 0h2M184 598.2h2m96 0h2m95 0h3m95 0h2m96 0h2M184 600.2h2m96 0h2m95 0h3m95 0h2m96 0h2M184 602.2h2m96 0h2m95 0h3m95 0h2m96 0h2M184 604.2h2m96 0h2m95 0h3m95 0h2m96 0h2M184 606.2h2m96 0h2m95 0h3m95 0h2m96 0h2M184 608.2h2m96 0h2m95 0h3m95 0h2m96 0h2M184 610.2h2m96 0h2m95 0h3m95 0h2m96 0h2M184 612.2h2m96 0h2m95 0h3m95 0h2m96 0h2M184 614.2h2m96 0h2m95 0h3m95 0h2m96 0h2M184 616.2h2m96 0h2m95 0h3m95 0h2m96 0h2M184 618.2h2m96 0h2m95 0h3m95 0h2m96 0h2M184 620.2h2m96 0h2m95 0h3m95 0h2m96 0h2M184 622.2h2m96 0h2m95 0h3m95 0h2m96 0h2M184 624.2h2m96 0h2m95 0h3m95 0h2m96 0h2M184 626.2h2m96 0h2m95 0h3m95 0h2m96 0h2"/>
<path stroke="rgb(148,148,148)" stroke-width="2" fill="none" d="M207 462.2h12m86 0h12m86 0h11m86 0h12m86 0h12M208 464.2h11m86 0h12m86 0h12m85 0h12m86 0h12M208 466.2h11m86 0h12m86 0h12m86 0h11m86 0h12M208 468.2h11m86 0h12m86 0h12m86 0h11m86 0h12M208 470.2h12m85 0h12m86 0h12m86 0h12m85 0h12M208 472.2h12m86 0h11m86 0h12m86 0h12m86 0h11M208 474.2h12m86 0h11m86 0h12m86 0h12m86 0h11M208 476.2h12m86 0h12m85 0h12m86 0h12m86 0h11M208 478.2h12m86 0h12m86 0h11m86 0h12m86 0h12M208 480.2h12m86 0h12m86 0h11m86 0h12m86 0h12M208 482.2h12m86 0h12m86 0h11m86 0h12m86 0h12M209 484.2h11m86 0h12m86 0h12m85 0h12m86 0h12M209 486.2h11m86 0h12m86 0h12m86 0h11m86 0h12M209 488.2h11m86 0h12m86 0h12m86 0h11m86 0h12M209 490.2h12m85 0h12m86 0h12m86 0h12m85 0h12M209 492.2h12m86 0h11m86 0h12m86 0h12m86 0h11M209 494.2h12m86 0h11m86 0h12m86 0h12m86 0h11M209 496.2h12m86 0h12m85 0h12m86 0h12m86 0h11M209 498.2h12m86 0h12m86 0h11m86 0h12m86 0h12M209 500.2h12m86 0h12m86 0h11m86 0h12m86 0h12M209 502.2h12m86 0h12m86 0h11m86 0h12m86 0h12M210 504.2h11m86 0h12m86 0h12m85 0h12m86 0h12M210 506.2h11m86 0h12m86 0h12m86 0h11m86 0h12M210 508.2h11m86 0h12m86 0h12m86 0h11m86 0h12M210 510.2h12m85 0h12m86 0h12m86 0h12m85 0h12M210 512.2h12m86 0h11m86 0h12m86 0h12m86 0h11M210 514.2h12m86 0h11m86 0h12m86 0h12m86 0h11M210 516.2h12m86 0h12m85 0h12m86 0h12m86 0h11M210 518.2h12m86 0h12m86 0h11m86 0h12m86 0h12M210 520.2h12m86 0h12m86 0h11m86 0h12m86 0h12M210 522.2h12m86 0h12m86 0h11m86 0h12m86 0h12M211 524.2h11m86 0h12m86 0h12m86 0h11m86 0h12M211 526.2h11m86 0h12m86 0h12m86 0h11m86 0h12M211 528.2h11m86 0h12m86 0h12m86 0h11m86 0h12M211 530.2h12m86 0h11m86 0h12m86 0h12m85 0h12M211 532.2h12m86 0h11m86 0h12m86 0h12m86 0h11M211 534.2h12m86 0h11m86 0h12m86 0h12m86 0h11M211 536.2h12m86 0h12m85 0h12m86 0h12m86 0h11M211 538.2h12m86 0h12m86 0h11m86 0h12m86 0h12M211 540.2h12m86 0h12m86 0h11m86 0h12m86 0h12M212 542.2h11m86 0h12m86 0h12m86 0h11m86 0h12M212 544.2h12m86 0h11m86 0h12m86 0h12m85 0h12M212 546.2h12m86 0h12m85 0h12m86 0h12m86 0h11M212 548.2h12m86 0h12m86 0h11m86 0h12m86 0h12M213 550.2h11m86 0h12m86 0h12m86 0h11m86 0h12M213 552.2h12m86 0h11m86 0h12m86 0h12m86 0h11M213 554.2h12m86 0h12m85 0h12m86 0h12m86 0h12M213 556.2h12m86 0h12m86 0h11m86 0h12m86 0h12M214 558.2h11m86 0h12m86 0h12m86 0h11m86 0h12M214 560.2h12m86 0h11m86 0h12m86 0h12m86 0h11M214 562.2h12m86 0h12m86 0h11m86 0h12m86 0h12M214 564.2h12m86 0h12m86 0h12m85 0h12m86 0h12M215 566.2h11m86 0h12m86 0h12m86 0h11m86 0h12M215 568.2h12m86 0h11m86 0h12m86 0h12m86 0h11M215 570.2h12m86 0h12m86 0h11m86 0h12m86 0h12M216 572.2h11m86 0h12m86 0h12m85 0h12m86 0h12M216 574.2h12m85 0h12m86 0h12m86 0h11m86 0h12M216 576.2h12m86 0h11m86 0h12m86 0h12m86 0h11M216 578.2h12m86 0h12m86 0h11m86 0h12m86 0h12M217 580.2h11m86 0h12m86 0h12m86 0h11m86 0h12M217 582.2h12m85 0h12m86 0h12m86 0h12m85 0h12M217 584.2h12m86 0h11m86 0h12m86 0h12m86 0h11M217 586.2h12m86 0h12m86 0h11m86 0h12m86 0h12M218 588.2h11m86 0h12m86 0h12m86 0h11m86 0h12M218 590.2h12m86 0h11m86 0h12m86 0h12m85 0h12M218 592.2h12m86 0h12m85 0h12m86 0h12m86 0h11M218 594.2h12m86 0h12m86 0h11m86 0h12m86 0h12M219 596.2h11m86 0h12m86 0h12m86 0h11m86 0h12M219 598.2h12m86 0h11m86 0h12m86 0h12m86 0h11M219 600.2h12m86 0h12m86 0h11m86 0h12m86 0h12M220 602.2h12m85 0h12m86 0h12m86 0h11m86 0h12M220 604.2h12m86 0h12m86 0h11m86 0h12m86 0h12M221 606.2h12m86 0h11m86 0h12m86 0h12m86 0h11M222 608.2h11m86 0h12m86 0h12m86 0h11m86 0h12M222 610.2h12m86 0h12m86 0h11m86 0h12m86 0h12M223 612.2h12m85 0h12m86 0h12m86 0h11m86 0h12M223 614.2h12m86 0h12m86 0h11m86 0h12m86 0h12M224 616.2h12m86 0h11m86 0h12m86 0h12m86 0h11M225 618.2h11m86 0h12m86 0h12m86 0h11m86 0h12M225 620.2h12m86 0h12m86 0h11m86 0h12m86 0h12M226 622.2h12m85 0h12m86 0h12m86 0h11m86 0h12M226 624.2h12m86 0h12m86 0h11m86 0h12m86 0h12M227 626.2h12m86 0h11m86 0h12m86 0h12m86 0h11"/>
<path stroke="rgb(242,242,242)" stroke-width="2" fill="none" d="M186 358.2h3m94 0h4m94 0h3m95 0h3m94 0h4M186 360.2h3m94 0h4m94 0h3m95 0h3m94 0h4M186 362.2h3m94 0h4m94 0h3m95 0h3m94 0h4M186 364.2h3m94 0h4m94 0h3m95 0h3m94 0h4M186 366.2h3m94 0h4m94 0h3m95 0h3m94 0h4M186 368.2h3m94 0h4m94 0h3m95 0h3m94 0h4M186 370.2h3m94 0h4m94 0h3m95 0h3m94 0h4M186 372.2h3m94 0h4m94 0h3m95 0h3m94 0h4M186 374.2h3m94 0h4m94 0h3m95 0h3m94 0h4M186 376.2h3m94 0h4m94 0h3m95 0h3m94 0h4M186 378.2h3m94 0h4m94 0h3m95 0h3m94 0h4M186 380.2h3m94 0h4m94 0h3m95 0h3m94 0h4M186 382.2h3m94 0h4m94 0h3m95 0h3m94 0h4M186 384.2h3m94 0h4m94 0h3m95 0h3m94 0h4M186 386.2h3m94 0h4m94 0h3m95 0h3m94 0h4M186 388.2h3m94 0h4m94 0h3m95 0h3m94 0h4M186 390.2h3m94 0h4m94 0h3m95 0h3m94 0h4M186 392.2h3m94 0h4m94 0h3m95 0h3m94 0h4M186 394.2h3m94 0h4m94 0h3m95 0h3m94 0h4M186 396.2h3m94 0h4m94 0h3m95 0h3m94 0h4M186 398.2h3m94 0h4m94 0h3m95 0h3m94 0h4M186 400.2h3m94 0h4m94 0h3m95 0h3m94 0h4M186 402.2h3m94 0h4m94 0h3m95 0h3m94 0h4M186 404.2h3m94 0h4m94 0h3m95 0h3m94 0h4M186 406.2h3m94 0h4m94 0h3m95 0h3m94 0h4M186 408.2h3m94 0h4m94 0h3m95 0h3m94 0h4M186 410.2h3m94 0h4m94 0h3m95 0h3m94 0h4M186 412.2h3m94 0h4m94 0h3m95 0h3m94 0h4"/>
</g></g>
<line x1="87.3" y1="79.6" x2="770.3" y2="79.6" stroke="#262626" stroke-width="1.2"/>
<line x1="87.3" y1="79.6" x2="87.3" y2="344.5" stroke="#262626" stroke-width="1.2"/>
<line x1="87.3" y1="360.2" x2="770.3" y2="360.2" stroke="#262626" stroke-width="1.2"/>
<line x1="87.3" y1="360.2" x2="87.3" y2="624.5" stroke="#262626" stroke-width="1.2"/>
<line x1="80.8" y1="99" x2="87.3" y2="99" stroke="#262626" stroke-width="1.2"/>
<line x1="770.3" y1="99" x2="776.8" y2="99" stroke="#262626" stroke-width="1.2"/>
<line x1="80.8" y1="134.5" x2="87.3" y2="134.5" stroke="#262626" stroke-width="1.2"/>
<line x1="770.3" y1="134.5" x2="776.8" y2="134.5" stroke="#262626" stroke-width="1.2"/>
<line x1="80.8" y1="169.5" x2="87.3" y2="169.5" stroke="#262626" stroke-width="1.2"/>
<line x1="770.3" y1="169.5" x2="776.8" y2="169.5" stroke="#262626" stroke-width="1.2"/>
<line x1="80.8" y1="204.5" x2="87.3" y2="204.5" stroke="#262626" stroke-width="1.2"/>
<line x1="770.3" y1="204.5" x2="776.8" y2="204.5" stroke="#262626" stroke-width="1.2"/>
<line x1="80.8" y1="239.5" x2="87.3" y2="239.5" stroke="#262626" stroke-width="1.2"/>
<line x1="770.3" y1="239.5" x2="776.8" y2="239.5" stroke="#262626" stroke-width="1.2"/>
<line x1="80.8" y1="274.6" x2="87.3" y2="274.6" stroke="#262626" stroke-width="1.2"/>
<line x1="770.3" y1="274.6" x2="776.8" y2="274.6" stroke="#262626" stroke-width="1.2"/>
<line x1="80.8" y1="309.8" x2="87.3" y2="309.8" stroke="#262626" stroke-width="1.2"/>
<line x1="770.3" y1="309.8" x2="776.8" y2="309.8" stroke="#262626" stroke-width="1.2"/>
<line x1="80.8" y1="379.6" x2="87.3" y2="379.6" stroke="#262626" stroke-width="1.2"/>
<line x1="770.3" y1="379.6" x2="776.8" y2="379.6" stroke="#262626" stroke-width="1.2"/>
<line x1="80.8" y1="414.7" x2="87.3" y2="414.7" stroke="#262626" stroke-width="1.2"/>
<line x1="770.3" y1="414.7" x2="776.8" y2="414.7" stroke="#262626" stroke-width="1.2"/>
<line x1="80.8" y1="449.6" x2="87.3" y2="449.6" stroke="#262626" stroke-width="1.2"/>
<line x1="770.3" y1="449.6" x2="776.8" y2="449.6" stroke="#262626" stroke-width="1.2"/>
<line x1="80.8" y1="484.5" x2="87.3" y2="484.5" stroke="#262626" stroke-width="1.2"/>
<line x1="770.3" y1="484.5" x2="776.8" y2="484.5" stroke="#262626" stroke-width="1.2"/>
<line x1="80.8" y1="519.3" x2="87.3" y2="519.3" stroke="#262626" stroke-width="1.2"/>
<line x1="770.3" y1="519.3" x2="776.8" y2="519.3" stroke="#262626" stroke-width="1.2"/>
<line x1="80.8" y1="554.3" x2="87.3" y2="554.3" stroke="#262626" stroke-width="1.2"/>
<line x1="770.3" y1="554.3" x2="776.8" y2="554.3" stroke="#262626" stroke-width="1.2"/>
<line x1="80.8" y1="589.3" x2="87.3" y2="589.3" stroke="#262626" stroke-width="1.2"/>
<line x1="770.3" y1="589.3" x2="776.8" y2="589.3" stroke="#262626" stroke-width="1.2"/>
<line x1="86.7" y1="76.8" x2="86.7" y2="79.6" stroke="#262626" stroke-width="1.2"/>
<line x1="86.7" y1="624.5" x2="86.7" y2="628" stroke="#262626" stroke-width="1.2"/>
<line x1="184.3" y1="76.8" x2="184.3" y2="79.6" stroke="#262626" stroke-width="1.2"/>
<line x1="184.3" y1="624.5" x2="184.3" y2="628" stroke="#262626" stroke-width="1.2"/>
<line x1="282" y1="76.8" x2="282" y2="79.6" stroke="#262626" stroke-width="1.2"/>
<line x1="282" y1="624.5" x2="282" y2="628" stroke="#262626" stroke-width="1.2"/>
<line x1="379.6" y1="76.8" x2="379.6" y2="79.6" stroke="#262626" stroke-width="1.2"/>
<line x1="379.6" y1="624.5" x2="379.6" y2="628" stroke="#262626" stroke-width="1.2"/>
<line x1="477.3" y1="76.8" x2="477.3" y2="79.6" stroke="#262626" stroke-width="1.2"/>
<line x1="477.3" y1="624.5" x2="477.3" y2="628" stroke="#262626" stroke-width="1.2"/>
<line x1="574.9" y1="76.8" x2="574.9" y2="79.6" stroke="#262626" stroke-width="1.2"/>
<line x1="574.9" y1="624.5" x2="574.9" y2="628" stroke="#262626" stroke-width="1.2"/>
<line x1="672.5" y1="76.8" x2="672.5" y2="79.6" stroke="#262626" stroke-width="1.2"/>
<line x1="672.5" y1="624.5" x2="672.5" y2="628" stroke="#262626" stroke-width="1.2"/>
<line x1="770.2" y1="76.8" x2="770.2" y2="79.6" stroke="#262626" stroke-width="1.2"/>
<line x1="770.2" y1="624.5" x2="770.2" y2="628" stroke="#262626" stroke-width="1.2"/>
<line x1="87.3" y1="624.5" x2="87.3" y2="628" stroke="#262626" stroke-width="1.2"/>
<circle cx="184.3" cy="71.6" r="5.5" fill="#1aada4"/>
<circle cx="242.9" cy="71.6" r="5.5" fill="#1aada4"/>
<circle cx="301.5" cy="71.6" r="5.5" fill="#1aada4"/>
<circle cx="360.1" cy="71.6" r="5.5" fill="#1aada4"/>
<circle cx="418.7" cy="71.6" r="5.5" fill="#1aada4"/>
<circle cx="184.3" cy="352.8" r="5.5" fill="#f20000"/>
<circle cx="282" cy="352.8" r="5.5" fill="#f20000"/>
<circle cx="379.6" cy="352.8" r="5.5" fill="#f20000"/>
<circle cx="477.3" cy="352.8" r="5.5" fill="#f20000"/>
<circle cx="574.9" cy="352.8" r="5.5" fill="#f20000"/>
<text x="-0.3" y="26.5" font-size="42" text-anchor="start" fill="#000">a</text>
<text x="185" y="61.3" font-size="30" text-anchor="middle" fill="#000">0</text>
<text x="243.6" y="61.3" font-size="30" text-anchor="middle" fill="#000">0.3</text>
<text x="302.2" y="61.3" font-size="30" text-anchor="middle" fill="#000">0.6</text>
<text x="360.8" y="61.3" font-size="30" text-anchor="middle" fill="#000">0.9</text>
<text x="419.4" y="61.3" font-size="30" text-anchor="middle" fill="#000">1.2</text>
<text x="82" y="99.2" font-size="30.5" text-anchor="end" fill="#000">377</text>
<text x="82" y="379.8" font-size="30.5" text-anchor="end" fill="#000">377</text>
<text x="22.5" y="212" font-size="28.8" text-anchor="middle" fill="#000" transform="rotate(-90 22.5 212)">Cells (sorted)</text>
<text x="22.5" y="492" font-size="28.8" text-anchor="middle" fill="#000" transform="rotate(-90 22.5 492)">Cells (sorted)</text>
<text x="185.1" y="658.6" font-size="29.5" text-anchor="middle" fill="#000">0</text>
<text x="282.8" y="658.6" font-size="29.5" text-anchor="middle" fill="#000">0.5</text>
<text x="380.4" y="658.6" font-size="29.5" text-anchor="middle" fill="#000">1.0</text>
<text x="478.1" y="658.6" font-size="29.5" text-anchor="middle" fill="#000">1.5</text>
<text x="575.7" y="658.6" font-size="29.5" text-anchor="middle" fill="#000">2.0</text>
<text x="673.3" y="658.6" font-size="29.5" text-anchor="middle" fill="#000">2.5</text>
<text x="771" y="658.6" font-size="29.5" text-anchor="middle" fill="#000">3.0</text>
<text x="430" y="704" font-size="28.9" text-anchor="middle" fill="#000">Time (s)</text>
<rect x="540.7" y="52.2" width="188.1" height="17.3" fill="url(#cbar)"/>
<text x="533.5" y="71.3" font-size="29" text-anchor="end" fill="#000">-1</text>
<text x="737.2" y="71.3" font-size="29" text-anchor="start" fill="#000">2.5</text>
<text x="644.8" y="44.5" font-size="21" text-anchor="middle" fill="#000">z-score</text>
<path d="M891.3 194.3 892.3 195.2 893.3 200.5 894.3 204 895.3 203.9 896.3 203.8 897.3 197.5 898.3 196.3 899.3 197.6 900.3 197.9 901.3 199.2 902.3 198.3 903.3 194.6 904.3 195.1 905.3 196 906.3 195.5 907.3 193.1 908.3 190.1 909.3 188.9 910.3 187.8 911.3 191.3 912.3 189.5 913.3 184.7 914.3 185.5 915.3 184.5 916.3 184.4 917.3 188.7 918.3 190.3 919.3 191.7 920.3 193.6 921.3 193.4 922.3 193.5 923.3 193.3 924.3 192.9 925.3 192 926.3 191.3 927.3 187.9 928.3 191.6 929.3 189.4 930.3 190.9 931.3 196.6 932.3 194.2 933.3 197.1 934.3 194.8 935.3 194.8 936.3 194.4 937.3 194.7 938.3 200.6 939.3 201.2 940.3 200.7 941.3 199.8 942.3 194.3 943.3 191 944.3 191.6 945.3 192.9 946.3 192.7 947.3 195.5 948.3 196.6 949.3 196 950.3 201.5 951.3 197 952.3 198.1 953.3 198.8 954.3 191 955.3 195 956.3 194.2 957.3 190.5 958.3 196.7 959.3 195.6 960.3 193 961.3 194.9 962.3 191.1 963.3 189.1 964.3 187 965.3 185.5 966.3 185.2 967.3 187 968.3 190.9 969.3 196.6 970.3 196.2 971.3 198.3 972.3 194.9 973.3 187.2 974.3 190.7 975.3 188.3 976.3 191.1 977.3 193.2 978.3 192.9 979.3 191.9 980.3 192.2 981.3 194.6 982.3 190.5 983.3 192.5 984.3 191.6 985.3 190.8 986.3 192.1 987.3 193 988.3 191.3 989.3 191.4 990.3 191.7 991.3 189.4 992.3 195.4 993.3 197.9 994.3 200.1 994.3 217.5 993.3 215.4 992.3 212.8 991.3 206.8 990.3 209.2 989.3 208.8 988.3 208.8 987.3 210.5 986.3 209.5 985.3 208.3 984.3 209 983.3 209.9 982.3 207.9 981.3 212.1 980.3 209.7 979.3 209.4 978.3 210.4 977.3 210.7 976.3 208.5 975.3 205.8 974.3 208.1 973.3 204.6 972.3 212.4 971.3 215.8 970.3 213.7 969.3 214.1 968.3 208.4 967.3 204.5 966.3 202.6 965.3 203 964.3 204.5 963.3 206.6 962.3 208.6 961.3 212.4 960.3 210.5 959.3 213 958.3 214.2 957.3 208 956.3 211.6 955.3 212.5 954.3 208.4 953.3 216.3 952.3 215.6 951.3 214.4 950.3 219 949.3 213.4 948.3 214 947.3 212.9 946.3 210.1 945.3 210.3 944.3 209 943.3 208.5 942.3 211.8 941.3 217.2 940.3 218.2 939.3 218.7 938.3 218.1 937.3 212.2 936.3 211.8 935.3 212.3 934.3 212.2 933.3 214.5 932.3 211.7 931.3 214.1 930.3 208.3 929.3 206.9 928.3 209.1 927.3 205.4 926.3 208.7 925.3 209.5 924.3 210.3 923.3 210.7 922.3 211 921.3 210.8 920.3 211.1 919.3 209.1 918.3 207.8 917.3 206.2 916.3 201.8 915.3 202 914.3 202.9 913.3 202.2 912.3 207 911.3 208.8 910.3 205.3 909.3 206.3 908.3 207.6 907.3 210.5 906.3 213 905.3 213.4 904.3 212.5 903.3 212.1 902.3 215.7 901.3 216.7 900.3 215.4 899.3 215 898.3 213.8 897.3 215 896.3 221.2 895.3 221.4 894.3 221.5 893.3 218 892.3 212.7 891.3 211.8Z" fill="rgba(150,150,150,0.35)"/>
<path d="M891.3 195.6 892.3 195.8 893.3 192.3 894.3 189.7 895.3 190.2 896.3 186.5 897.3 194.6 898.3 203.7 899.3 202.3 900.3 207.3 901.3 202.6 902.3 197.9 903.3 200.4 904.3 198.9 905.3 200.3 906.3 204.9 907.3 204.6 908.3 206 909.3 202.9 910.3 202.3 911.3 202.8 912.3 204.1 913.3 208.2 914.3 202.4 915.3 201.5 916.3 201.4 917.3 200.6 918.3 202.1 919.3 204.5 920.3 203.7 921.3 200.5 922.3 199.8 923.3 197.4 924.3 197.4 925.3 200.4 926.3 204.8 927.3 202.4 928.3 200.3 929.3 199.4 930.3 198.6 931.3 201.7 932.3 201.2 933.3 200.8 934.3 199.2 935.3 196.7 936.3 196 937.3 198 938.3 198.3 939.3 201.4 940.3 206.1 941.3 203.5 942.3 201.8 943.3 199.8 944.3 200.4 945.3 204.6 946.3 206.3 947.3 208.4 948.3 206.2 949.3 206 950.3 205 951.3 200.9 952.3 198.3 953.3 193.9 954.3 195.3 955.3 197.2 956.3 201.2 957.3 202.6 958.3 203.5 959.3 206.2 960.3 206.6 961.3 206.8 962.3 205.1 963.3 203.4 964.3 204 965.3 204.7 966.3 207.7 967.3 204.6 968.3 202.1 969.3 201.5 970.3 198.3 971.3 204.1 972.3 206.3 973.3 206.4 974.3 202.8 975.3 201.7 976.3 200.1 977.3 200.1 978.3 206.5 979.3 207.7 980.3 207.2 981.3 207.4 982.3 205 983.3 198.7 984.3 198.6 985.3 198.2 986.3 194.6 987.3 194.7 988.3 198.1 989.3 200.1 990.3 201.5 991.3 208.3 992.3 207.5 993.3 209.8 994.3 212.6 994.3 230.1 993.3 227.3 992.3 224.9 991.3 225.8 990.3 219 989.3 217.6 988.3 215.6 987.3 212.2 986.3 212 985.3 215.6 984.3 216 983.3 216.2 982.3 222.5 981.3 224.9 980.3 224.7 979.3 225.2 978.3 224 977.3 217.5 976.3 217.6 975.3 219.1 974.3 220.3 973.3 223.9 972.3 223.7 971.3 221.6 970.3 215.8 969.3 219 968.3 219.5 967.3 222.1 966.3 225.2 965.3 222.1 964.3 221.4 963.3 220.8 962.3 222.6 961.3 224.2 960.3 224 959.3 223.7 958.3 220.9 957.3 220.1 956.3 218.7 955.3 214.7 954.3 212.7 953.3 211.3 952.3 215.7 951.3 218.3 950.3 222.4 949.3 223.5 948.3 223.7 947.3 225.8 946.3 223.8 945.3 222.1 944.3 217.8 943.3 217.3 942.3 219.3 941.3 220.9 940.3 223.5 939.3 218.9 938.3 215.8 937.3 215.5 936.3 213.4 935.3 214.2 934.3 216.6 933.3 218.3 932.3 218.6 931.3 219.2 930.3 216 929.3 216.8 928.3 217.8 927.3 219.8 926.3 222.3 925.3 217.8 924.3 214.8 923.3 214.9 922.3 217.3 921.3 217.9 920.3 221.2 919.3 222 918.3 219.6 917.3 218.1 916.3 218.9 915.3 219 914.3 219.9 913.3 225.6 912.3 221.6 911.3 220.3 910.3 219.7 909.3 220.3 908.3 223.5 907.3 222.1 906.3 222.3 905.3 217.7 904.3 216.4 903.3 217.8 902.3 215.4 901.3 220.1 900.3 224.8 899.3 219.8 898.3 221.2 897.3 212.1 896.3 203.9 895.3 207.6 894.3 207.2 893.3 209.8 892.3 213.2 891.3 213Z" fill="rgba(90,90,90,0.35)"/>
<path d="M891.3 203l1 1l1 5.3l1 3.4l1-0.1l1-0.1l1-6.3l1-1.1l1 1.2l1 0.4l1 1.2l1-0.9l1-3.7l1 0.5l1 0.9l1-0.5l1-2.4l1-3l1-1.2l1-1.1l1 3.6l1-1.8l1-4.8l1 0.7l1-1l1-0.1l1 4.4l1 1.6l1 1.3l1 1.9l1-0.2l1 0.1l1-0.2l1-0.4l1-0.9l1-0.7l1-3.3l1 3.6l1-2.1l1 1.4l1 5.8l1-2.5l1 2.9l1-2.3l1 0l1-0.4l1 0.3l1 6l1 0.5l1-0.5l1-0.9l1-5.4l1-3.3l1 0.5l1 1.3l1-0.2l1 2.8l1 1.1l1-0.6l1 5.5l1-4.5l1 1.1l1 0.7l1-7.8l1 4.1l1-0.9l1-3.7l1 6.3l1-1.2l1-2.5l1 1.8l1-3.8l1-2l1-2l1-1.5l1-0.4l1 1.8l1 3.9l1 5.7l1-0.4l1 2.2l1-3.4l1-7.8l1 3.5l1-2.4l1 2.8l1 2.1l1-0.3l1-0.9l1 0.2l1 2.4l1-4.1l1 2l1-0.9l1-0.7l1 1.2l1 1l1-1.8l1 0.1l1 0.3l1-2.3l1 6l1 2.6l1 2.1" fill="none" stroke="#8a8a8a" stroke-width="2.1" stroke-linejoin="round"/>
<path d="M891.3 204.3l1 0.2l1-3.5l1-2.6l1 0.5l1-3.7l1 8.1l1 9.1l1-1.3l1 5l1-4.8l1-4.7l1 2.5l1-1.4l1 1.3l1 4.6l1-0.2l1 1.3l1-3.1l1-0.6l1 0.5l1 1.4l1 4l1-5.8l1-0.8l1-0.1l1-0.9l1 1.5l1 2.5l1-0.8l1-3.3l1-0.7l1-2.4l1 0l1 3l1 4.4l1-2.4l1-2.1l1-0.9l1-0.8l1 3.1l1-0.5l1-0.3l1-1.7l1-2.5l1-0.7l1 2.1l1 0.3l1 3.1l1 4.6l1-2.6l1-1.7l1-1.9l1 0.5l1 4.3l1 1.7l1 2l1-2.1l1-0.3l1-1l1-4.1l1-2.6l1-4.4l1 1.4l1 1.9l1 4l1 1.4l1 0.9l1 2.7l1 0.4l1 0.2l1-1.7l1-1.7l1 0.6l1 0.7l1 3l1-3.1l1-2.5l1-0.6l1-3.1l1 5.8l1 2.1l1 0.1l1-3.5l1-1.2l1-1.5l1-0.1l1 6.4l1 1.3l1-0.5l1 0.1l1-2.4l1-6.2l1-0.2l1-0.4l1-3.6l1 0.1l1 3.4l1 2.1l1 1.4l1 6.8l1-0.9l1 2.3l1 2.8" fill="none" stroke="#111" stroke-width="2.1" stroke-linejoin="round"/>
<path d="M891.3 171.9 892.3 157.7 893.3 145.3 894.3 137.2 895.3 136.7 896.3 148.7 897.3 170.7 898.3 193.7 899.3 216.3 900.3 238 901.3 254.7 902.3 265.2 903.3 265.5 904.3 266.3 905.3 267.8 906.3 265.9 907.3 265.2 908.3 264.3 909.3 267.2 910.3 268.7 911.3 265.8 912.3 266.6 913.3 266.8 914.3 267.6 915.3 267.6 916.3 265.7 917.3 266.8 918.3 267.3 919.3 265.6 920.3 264.5 921.3 262.1 922.3 260 923.3 258.5 924.3 256.2 925.3 256.2 926.3 256.2 927.3 255.8 928.3 254.8 929.3 252.9 930.3 250 931.3 248.2 932.3 246.5 933.3 243.5 934.3 242.1 935.3 240.4 936.3 236.5 937.3 232.8 938.3 233 939.3 232.7 940.3 230.2 941.3 227.9 942.3 223.6 943.3 220 944.3 217.3 945.3 213.1 946.3 210.7 947.3 207.9 948.3 202.4 949.3 196.1 950.3 191.4 951.3 186.6 952.3 179.9 953.3 174.3 954.3 170.9 955.3 170.2 956.3 170.3 957.3 166.9 958.3 163.5 959.3 164.4 960.3 164.3 961.3 162.8 962.3 163 963.3 161.3 964.3 159.5 965.3 159 966.3 156.7 967.3 155.7 968.3 155.4 969.3 154.5 970.3 155 971.3 155.9 972.3 155 973.3 156.3 974.3 157.3 975.3 158.1 976.3 158.6 977.3 156.7 978.3 157.1 979.3 158.5 980.3 154.8 981.3 152 982.3 153.3 983.3 151.1 984.3 149.5 985.3 149.2 986.3 149.6 987.3 151.4 988.3 150.4 989.3 150.1 990.3 151 991.3 150 992.3 149.6 993.3 151.1 994.3 153.5 994.3 166.3 993.3 163.9 992.3 162.4 991.3 162.8 990.3 163.8 989.3 162.9 988.3 163.2 987.3 164.2 986.3 162.4 985.3 162 984.3 162.3 983.3 163.9 982.3 166.1 981.3 164.8 980.3 167.6 979.3 171.3 978.3 169.9 977.3 169.5 976.3 171.4 975.3 171 974.3 170.1 973.3 169.1 972.3 167.8 971.3 168.7 970.3 167.8 969.3 167.3 968.3 168.2 967.3 168.5 966.3 169.5 965.3 171.8 964.3 172.3 963.3 174.1 962.3 175.8 961.3 175.6 960.3 177.1 959.3 177.2 958.3 176.3 957.3 179.7 956.3 183.1 955.3 183 954.3 183.7 953.3 187.1 952.3 192.7 951.3 199.4 950.3 204.2 949.3 208.9 948.3 215.2 947.3 220.8 946.3 223.5 945.3 225.9 944.3 230.1 943.3 232.8 942.3 236.4 941.3 240.7 940.3 243 939.3 245.5 938.3 245.8 937.3 245.6 936.3 249.4 935.3 253.2 934.3 254.9 933.3 256.3 932.3 259.3 931.3 261 930.3 262.8 929.3 265.7 928.3 267.6 927.3 268.6 926.3 269 925.3 269 924.3 269 923.3 271.3 922.3 272.8 921.3 274.9 920.3 277.3 919.3 278.4 918.3 280.1 917.3 279.6 916.3 278.5 915.3 280.4 914.3 280.4 913.3 279.6 912.3 279.4 911.3 278.6 910.3 281.5 909.3 280 908.3 277.1 907.3 278 906.3 278.7 905.3 280.6 904.3 279.1 903.3 278.3 902.3 278 901.3 267.5 900.3 250.8 899.3 229.1 898.3 206.5 897.3 183.5 896.3 161.5 895.3 149.5 894.3 150 893.3 158.1 892.3 170.5 891.3 184.7Z" fill="rgba(0,170,160,0.3)"/>
<path d="M891.3 178.3l1-14.2l1-12.4l1-8.1l1-0.5l1 12l1 22l1 23l1 22.6l1 21.7l1 16.7l1 10.5l1 0.3l1 0.8l1 1.5l1-1.9l1-0.7l1-0.9l1 2.9l1 1.5l1-2.9l1 0.8l1 0.2l1 0.8l1 0l1-1.9l1 1.1l1 0.5l1-1.7l1-1.1l1-2.4l1-2.1l1-1.5l1-2.3l1 0l1 0l1-0.4l1-1l1-1.9l1-2.9l1-1.8l1-1.7l1-3l1-1.4l1-1.7l1-3.9l1-3.7l1 0.2l1-0.3l1-2.5l1-2.3l1-4.3l1-3.6l1-2.7l1-4.2l1-2.4l1-2.7l1-5.6l1-6.3l1-4.7l1-4.8l1-6.7l1-5.6l1-3.4l1-0.7l1 0.1l1-3.4l1-3.4l1 0.9l1-0.1l1-1.5l1 0.2l1-1.7l1-1.8l1-0.5l1-2.3l1-1l1-0.3l1-0.9l1 0.5l1 0.9l1-0.9l1 1.3l1 1l1 0.9l1 0.4l1-1.9l1 0.4l1 1.4l1-3.7l1-2.8l1 1.3l1-2.2l1-1.6l1-0.3l1 0.4l1 1.8l1-1l1-0.3l1 0.9l1-1l1-0.4l1 1.5l1 2.4" fill="none" stroke="#15aaa2" stroke-width="2.4" stroke-linejoin="round"/>
<path d="M891.3 175.8 892.3 161.2 893.3 150 894.3 142.8 895.3 143.9 896.3 153.8 897.3 171.8 898.3 193.8 899.3 216.6 900.3 242.4 901.3 260.6 902.3 267.7 903.3 267.5 904.3 266 905.3 265.2 906.3 264.6 907.3 264.3 908.3 264.5 909.3 267.6 910.3 268.9 911.3 268.6 912.3 269.9 913.3 272.1 914.3 271.6 915.3 271.5 916.3 271.2 917.3 269.5 918.3 266.5 919.3 264.2 920.3 262.2 921.3 259.7 922.3 257.7 923.3 252.8 924.3 252.9 925.3 253.4 926.3 249.6 927.3 246.9 928.3 246.4 929.3 242.7 930.3 238.8 931.3 235.9 932.3 232.7 933.3 232 934.3 229.4 935.3 223.3 936.3 220.3 937.3 217.9 938.3 211.5 939.3 205.1 940.3 199.5 941.3 194.1 942.3 183.1 943.3 171.7 944.3 164.8 945.3 158.4 946.3 156.2 947.3 155.9 948.3 155 949.3 152.1 950.3 152.5 951.3 155.6 952.3 153.1 953.3 149.5 954.3 148.1 955.3 144.9 956.3 143.8 957.3 142.6 958.3 138.5 959.3 134.7 960.3 132 961.3 132.5 962.3 134.3 963.3 134.7 964.3 137.4 965.3 139.3 966.3 141.4 967.3 145.6 968.3 147.7 969.3 147 970.3 146.8 971.3 149.7 972.3 150 973.3 150.1 974.3 150.2 975.3 147.9 976.3 146.9 977.3 145.3 978.3 142 979.3 138.9 980.3 136.7 981.3 136.4 982.3 137.4 983.3 137.7 984.3 139.3 985.3 140.7 986.3 141.8 987.3 144.4 988.3 147.6 989.3 152 990.3 158 991.3 160.7 992.3 160.2 993.3 160.6 994.3 159 994.3 171.8 993.3 173.4 992.3 173 991.3 173.5 990.3 170.8 989.3 164.8 988.3 160.4 987.3 157.2 986.3 154.6 985.3 153.5 984.3 152.1 983.3 150.5 982.3 150.2 981.3 149.2 980.3 149.5 979.3 151.7 978.3 154.8 977.3 158.1 976.3 159.7 975.3 160.7 974.3 163 973.3 162.9 972.3 162.8 971.3 162.5 970.3 159.7 969.3 159.8 968.3 160.5 967.3 158.4 966.3 154.2 965.3 152.1 964.3 150.2 963.3 147.5 962.3 147.1 961.3 145.3 960.3 144.8 959.3 147.5 958.3 151.3 957.3 155.4 956.3 156.6 955.3 157.7 954.3 160.9 953.3 162.3 952.3 165.9 951.3 168.4 950.3 165.3 949.3 164.9 948.3 167.8 947.3 168.7 946.3 169 945.3 171.2 944.3 177.6 943.3 184.5 942.3 195.9 941.3 206.9 940.3 212.3 939.3 217.9 938.3 224.3 937.3 230.7 936.3 233.1 935.3 236.1 934.3 242.2 933.3 244.8 932.3 245.5 931.3 248.7 930.3 251.6 929.3 255.5 928.3 259.2 927.3 259.7 926.3 262.4 925.3 266.2 924.3 265.7 923.3 265.6 922.3 270.5 921.3 272.5 920.3 275 919.3 277 918.3 279.3 917.3 282.3 916.3 284 915.3 284.3 914.3 284.4 913.3 284.9 912.3 282.7 911.3 281.4 910.3 281.7 909.3 280.4 908.3 277.3 907.3 277.1 906.3 277.4 905.3 278 904.3 278.8 903.3 280.3 902.3 280.5 901.3 273.4 900.3 255.2 899.3 229.4 898.3 206.6 897.3 184.6 896.3 166.6 895.3 156.7 894.3 155.6 893.3 162.8 892.3 174 891.3 188.6Z" fill="rgba(240,40,40,0.3)"/>
<path d="M891.3 182.2l1-14.6l1-11.2l1-7.2l1 1.1l1 9.9l1 18l1 22l1 22.8l1 25.8l1 18.2l1 7.1l1-0.2l1-1.5l1-0.8l1-0.6l1-0.3l1 0.2l1 3.1l1 1.3l1-0.3l1 1.3l1 2.2l1-0.5l1-0.1l1-0.3l1-1.7l1-3l1-2.3l1-2l1-2.5l1-2l1-4.9l1 0.1l1 0.5l1-3.8l1-2.7l1-0.5l1-3.7l1-3.9l1-2.9l1-3.2l1-0.7l1-2.6l1-6.1l1-3l1-2.4l1-6.4l1-6.4l1-5.6l1-5.4l1-11l1-11.4l1-6.9l1-6.4l1-2.2l1-0.3l1-0.9l1-2.9l1 0.4l1 3.1l1-2.5l1-3.6l1-1.4l1-3.2l1-1.1l1-1.2l1-4.1l1-3.8l1-2.7l1 0.5l1 1.8l1 0.4l1 2.7l1 1.9l1 2.1l1 4.2l1 2.1l1-0.7l1-0.1l1 2.8l1 0.3l1 0.1l1 0.1l1-2.3l1-1l1-1.6l1-3.3l1-3.1l1-2.2l1-0.3l1 1l1 0.3l1 1.6l1 1.4l1 1.1l1 2.6l1 3.2l1 4.4l1 6l1 2.7l1-0.5l1 0.4l1-1.6" fill="none" stroke="#ee0000" stroke-width="2.4" stroke-linejoin="round"/>
<path d="M1015.5 198.6 1016.5 195.6 1017.5 195.8 1018.5 195.5 1019.5 191.2 1020.5 196 1021.5 194.2 1022.5 194.6 1023.5 190.9 1024.5 186.1 1025.5 186 1026.5 189.6 1027.5 192.7 1028.5 197.8 1029.5 201.2 1030.5 201.9 1031.5 204.3 1032.5 203.9 1033.5 203.6 1034.5 198.6 1035.5 195.5 1036.5 191.5 1037.5 194.4 1038.5 198.6 1039.5 197.9 1040.5 201.7 1041.5 200.3 1042.5 196.3 1043.5 194.9 1044.5 191.9 1045.5 191 1046.5 192.8 1047.5 194.7 1048.5 197.4 1049.5 194.6 1050.5 195.6 1051.5 195.4 1052.5 199.9 1053.5 200.4 1054.5 196 1055.5 196.6 1056.5 189.8 1057.5 194.5 1058.5 198.3 1059.5 201 1060.5 202.2 1061.5 197.4 1062.5 199.1 1063.5 197.4 1064.5 198.8 1065.5 194.6 1066.5 191.5 1067.5 189.2 1068.5 186.9 1069.5 190.8 1070.5 190.8 1071.5 193.5 1072.5 195.3 1073.5 192.3 1074.5 191.1 1075.5 189 1076.5 190.2 1077.5 193.5 1078.5 193.9 1079.5 194.5 1080.5 189.9 1081.5 191 1082.5 191.6 1083.5 188.7 1084.5 190.2 1085.5 186.9 1086.5 187.3 1087.5 190.2 1088.5 190 1089.5 192.2 1090.5 189.7 1091.5 188.3 1092.5 189.7 1093.5 189.6 1094.5 191.1 1095.5 194.6 1096.5 195.2 1097.5 197.2 1098.5 196.4 1099.5 195.4 1100.5 193.3 1101.5 195.4 1102.5 198.2 1103.5 195.2 1104.5 198.1 1105.5 193.3 1106.5 197.4 1107.5 199.5 1108.5 198.7 1109.5 201.2 1110.5 200.1 1111.5 198.6 1112.5 203.5 1113.5 201.2 1114.5 197.2 1115.5 196.3 1116.5 191.8 1117.5 195.6 1118.5 195.9 1118.5 213.3 1117.5 213.1 1116.5 209.2 1115.5 213.8 1114.5 214.7 1113.5 218.6 1112.5 221 1111.5 216.1 1110.5 217.5 1109.5 218.7 1108.5 216.1 1107.5 217 1106.5 214.9 1105.5 210.8 1104.5 215.6 1103.5 212.7 1102.5 215.7 1101.5 212.9 1100.5 210.7 1099.5 212.9 1098.5 213.8 1097.5 214.6 1096.5 212.7 1095.5 212 1094.5 208.5 1093.5 207.1 1092.5 207.2 1091.5 205.8 1090.5 207.1 1089.5 209.7 1088.5 207.5 1087.5 207.7 1086.5 204.8 1085.5 204.4 1084.5 207.7 1083.5 206.1 1082.5 209 1081.5 208.5 1080.5 207.4 1079.5 211.9 1078.5 211.4 1077.5 211 1076.5 207.6 1075.5 206.4 1074.5 208.6 1073.5 209.8 1072.5 212.8 1071.5 210.9 1070.5 208.3 1069.5 208.3 1068.5 204.3 1067.5 206.6 1066.5 209 1065.5 212 1064.5 216.3 1063.5 214.8 1062.5 216.6 1061.5 214.9 1060.5 219.6 1059.5 218.5 1058.5 215.7 1057.5 212 1056.5 207.3 1055.5 214.1 1054.5 213.4 1053.5 217.9 1052.5 217.4 1051.5 212.8 1050.5 213.1 1049.5 212.1 1048.5 214.8 1047.5 212.2 1046.5 210.2 1045.5 208.4 1044.5 209.4 1043.5 212.3 1042.5 213.7 1041.5 217.8 1040.5 219.1 1039.5 215.3 1038.5 216.1 1037.5 211.8 1036.5 208.9 1035.5 213 1034.5 216.1 1033.5 221 1032.5 221.3 1031.5 221.8 1030.5 219.3 1029.5 218.7 1028.5 215.2 1027.5 210.1 1026.5 207.1 1025.5 203.5 1024.5 203.5 1023.5 208.3 1022.5 212.1 1021.5 211.7 1020.5 213.5 1019.5 208.6 1018.5 212.9 1017.5 213.3 1016.5 213 1015.5 216.1Z" fill="rgba(150,150,150,0.35)"/>
<path d="M1015.5 200.9 1016.5 200.1 1017.5 201.2 1018.5 199.8 1019.5 198.4 1020.5 197.3 1021.5 201.2 1022.5 203.3 1023.5 203.4 1024.5 205.3 1025.5 202.7 1026.5 202.8 1027.5 204.6 1028.5 205.9 1029.5 206.1 1030.5 206.9 1031.5 209 1032.5 209.9 1033.5 205.8 1034.5 206.2 1035.5 201.7 1036.5 196.6 1037.5 198.7 1038.5 191.5 1039.5 193.3 1040.5 193.4 1041.5 193.4 1042.5 200.2 1043.5 198.7 1044.5 197.8 1045.5 198.5 1046.5 194.6 1047.5 197 1048.5 202.4 1049.5 200 1050.5 201.2 1051.5 197.9 1052.5 193.5 1053.5 196.9 1054.5 198 1055.5 199.3 1056.5 197.4 1057.5 195.9 1058.5 195.9 1059.5 195.5 1060.5 196.4 1061.5 197.4 1062.5 197.5 1063.5 198.8 1064.5 202 1065.5 196.9 1066.5 199.3 1067.5 203.2 1068.5 204.9 1069.5 208.6 1070.5 210.9 1071.5 209 1072.5 207.5 1073.5 209.8 1074.5 204.3 1075.5 202.7 1076.5 203.2 1077.5 201.1 1078.5 201.4 1079.5 198.9 1080.5 201 1081.5 201.3 1082.5 199.1 1083.5 202.3 1084.5 201.4 1085.5 202.7 1086.5 206.5 1087.5 200.7 1088.5 198.6 1089.5 192.8 1090.5 189 1091.5 192.6 1092.5 193.8 1093.5 196.9 1094.5 198.3 1095.5 196.5 1096.5 197.7 1097.5 198 1098.5 197.1 1099.5 199.6 1100.5 198.5 1101.5 198.1 1102.5 198.3 1103.5 198.4 1104.5 198.4 1105.5 201.2 1106.5 201.7 1107.5 202.3 1108.5 205.9 1109.5 206 1110.5 206.4 1111.5 206 1112.5 205.1 1113.5 203.3 1114.5 203.7 1115.5 203.3 1116.5 198.6 1117.5 200.9 1118.5 202.4 1118.5 219.9 1117.5 218.4 1116.5 216.1 1115.5 220.8 1114.5 221.2 1113.5 220.8 1112.5 222.5 1111.5 223.5 1110.5 223.8 1109.5 223.4 1108.5 223.4 1107.5 219.7 1106.5 219.2 1105.5 218.6 1104.5 215.9 1103.5 215.9 1102.5 215.7 1101.5 215.5 1100.5 216 1099.5 217 1098.5 214.5 1097.5 215.4 1096.5 215.2 1095.5 214 1094.5 215.8 1093.5 214.4 1092.5 211.3 1091.5 210.1 1090.5 206.4 1089.5 210.2 1088.5 216 1087.5 218.2 1086.5 223.9 1085.5 220.2 1084.5 218.9 1083.5 219.8 1082.5 216.5 1081.5 218.7 1080.5 218.5 1079.5 216.3 1078.5 218.8 1077.5 218.6 1076.5 220.7 1075.5 220.2 1074.5 221.8 1073.5 227.3 1072.5 225 1071.5 226.5 1070.5 228.3 1069.5 226 1068.5 222.3 1067.5 220.7 1066.5 216.8 1065.5 214.4 1064.5 219.5 1063.5 216.3 1062.5 214.9 1061.5 214.8 1060.5 213.8 1059.5 213 1058.5 213.4 1057.5 213.4 1056.5 214.8 1055.5 216.7 1054.5 215.5 1053.5 214.3 1052.5 211 1051.5 215.4 1050.5 218.7 1049.5 217.5 1048.5 219.8 1047.5 214.5 1046.5 212.1 1045.5 215.9 1044.5 215.3 1043.5 216.2 1042.5 217.6 1041.5 210.8 1040.5 210.8 1039.5 210.8 1038.5 209 1037.5 216.1 1036.5 214.1 1035.5 219.1 1034.5 223.7 1033.5 223.3 1032.5 227.4 1031.5 226.4 1030.5 224.4 1029.5 223.5 1028.5 223.4 1027.5 222.1 1026.5 220.2 1025.5 220.2 1024.5 222.7 1023.5 220.8 1022.5 220.8 1021.5 218.6 1020.5 214.7 1019.5 215.9 1018.5 217.3 1017.5 218.7 1016.5 217.6 1015.5 218.3Z" fill="rgba(90,90,90,0.35)"/>
<path d="M1015.5 207.3l1-3l1 0.3l1-0.4l1-4.3l1 4.9l1-1.8l1 0.4l1-3.8l1-4.8l1 0l1 3.5l1 3.1l1 5.1l1 3.4l1 0.7l1 2.5l1-0.5l1-0.3l1-4.9l1-3.2l1-4l1 2.9l1 4.3l1-0.8l1 3.8l1-1.3l1-4.1l1-1.4l1-3l1-0.9l1 1.8l1 1.9l1 2.7l1-2.8l1 1.1l1-0.3l1 4.6l1 0.4l1-4.4l1 0.6l1-6.8l1 4.7l1 3.8l1 2.8l1 1.1l1-4.8l1 1.8l1-1.8l1 1.4l1-4.2l1-3l1-2.4l1-2.3l1 4l1 0l1 2.6l1 1.8l1-2.9l1-1.3l1-2.1l1 1.2l1 3.3l1 0.4l1 0.6l1-4.6l1 1.2l1 0.5l1-2.9l1 1.5l1-3.2l1 0.3l1 2.9l1-0.2l1 2.2l1-2.5l1-1.3l1 1.3l1 0l1 1.4l1 3.5l1 0.6l1 2l1-0.8l1-1l1-2.1l1 2.1l1 2.8l1-2.9l1 2.8l1-4.8l1 4.1l1 2.2l1-0.9l1 2.6l1-1.2l1-1.4l1 4.9l1-2.4l1-3.9l1-1l1-4.5l1 3.9l1 0.2" fill="none" stroke="#8a8a8a" stroke-width="2.1" stroke-linejoin="round"/>
<path d="M1015.5 209.6l1-0.8l1 1.1l1-1.3l1-1.5l1-1.1l1 3.9l1 2.2l1 0l1 1.9l1-2.5l1 0l1 1.8l1 1.4l1 0.1l1 0.8l1 2.1l1 1l1-4.2l1 0.4l1-4.5l1-5l1 2l1-7.2l1 1.8l1 0.1l1 0l1 6.8l1-1.5l1-0.9l1 0.7l1-3.8l1 2.3l1 5.4l1-2.4l1 1.2l1-3.2l1-4.5l1 3.4l1 1.1l1 1.3l1-1.9l1-1.4l1-0.1l1-0.4l1 0.9l1 1l1 0.1l1 1.3l1 3.3l1-5.2l1 2.4l1 4l1 1.6l1 3.7l1 2.3l1-1.9l1-1.4l1 2.3l1-5.5l1-1.7l1 0.6l1-2.1l1 0.2l1-2.5l1 2.1l1 0.3l1-2.2l1 3.2l1-0.8l1 1.3l1 3.7l1-5.8l1-2.1l1-5.8l1-3.8l1 3.6l1 1.3l1 3l1 1.5l1-1.8l1 1.2l1 0.2l1-0.9l1 2.5l1-1l1-0.5l1 0.2l1 0.2l1 0l1 2.7l1 0.5l1 0.6l1 3.7l1 0l1 0.4l1-0.4l1-0.9l1-1.7l1 0.3l1-0.4l1-4.6l1 2.3l1 1.5" fill="none" stroke="#111" stroke-width="2.1" stroke-linejoin="round"/>
<path d="M1015.5 158.2 1016.5 130.6 1017.5 108.9 1018.5 92.9 1019.5 85.4 1020.5 84.9 1021.5 97.6 1022.5 119.7 1023.5 148.1 1024.5 176.4 1025.5 201.2 1026.5 225 1027.5 240.9 1028.5 249.2 1029.5 256.9 1030.5 264.1 1031.5 266.6 1032.5 266.7 1033.5 265 1034.5 262.9 1035.5 260.7 1036.5 257.8 1037.5 256 1038.5 254.2 1039.5 251.5 1040.5 250.7 1041.5 250.9 1042.5 251.8 1043.5 247.9 1044.5 246 1045.5 245.9 1046.5 243.4 1047.5 242.1 1048.5 239.4 1049.5 237.2 1050.5 235.4 1051.5 229.7 1052.5 225.7 1053.5 222.3 1054.5 217.4 1055.5 213.3 1056.5 210.2 1057.5 210.3 1058.5 208.1 1059.5 203.4 1060.5 198.2 1061.5 194 1062.5 192.1 1063.5 188.2 1064.5 184.1 1065.5 180 1066.5 175.5 1067.5 171.1 1068.5 167.3 1069.5 163.5 1070.5 159.9 1071.5 156.4 1072.5 153 1073.5 150 1074.5 147.3 1075.5 146.4 1076.5 145.6 1077.5 144.4 1078.5 142.2 1079.5 143 1080.5 141.2 1081.5 140.5 1082.5 141.2 1083.5 138.7 1084.5 137.6 1085.5 137 1086.5 137.8 1087.5 138.1 1088.5 137.4 1089.5 135.5 1090.5 136.4 1091.5 141.2 1092.5 142.4 1093.5 140.5 1094.5 137.4 1095.5 139.4 1096.5 144.8 1097.5 145.7 1098.5 147.1 1099.5 150.4 1100.5 149.7 1101.5 147.7 1102.5 145.9 1103.5 139.8 1104.5 137.8 1105.5 137.5 1106.5 134.3 1107.5 134.7 1108.5 138.2 1109.5 139.6 1110.5 139 1111.5 141.4 1112.5 144.4 1113.5 146.4 1114.5 149.6 1115.5 150.1 1116.5 152.6 1117.5 158.3 1118.5 162 1118.5 174.8 1117.5 171.1 1116.5 165.4 1115.5 162.9 1114.5 162.4 1113.5 159.2 1112.5 157.2 1111.5 154.2 1110.5 151.8 1109.5 152.4 1108.5 151 1107.5 147.5 1106.5 147.2 1105.5 150.3 1104.5 150.6 1103.5 152.6 1102.5 158.7 1101.5 160.6 1100.5 162.5 1099.5 163.2 1098.5 159.9 1097.5 158.5 1096.5 157.6 1095.5 152.2 1094.5 150.2 1093.5 153.3 1092.5 155.3 1091.5 154 1090.5 149.2 1089.5 148.3 1088.5 150.2 1087.5 150.9 1086.5 150.6 1085.5 149.8 1084.5 150.4 1083.5 151.5 1082.5 154 1081.5 153.3 1080.5 154.1 1079.5 155.8 1078.5 155 1077.5 157.2 1076.5 158.4 1075.5 159.2 1074.5 160.1 1073.5 162.8 1072.5 165.8 1071.5 169.2 1070.5 172.7 1069.5 176.3 1068.5 180.1 1067.5 183.9 1066.5 188.3 1065.5 192.8 1064.5 196.9 1063.5 201 1062.5 204.9 1061.5 206.8 1060.5 211 1059.5 216.3 1058.5 221 1057.5 223.1 1056.5 223 1055.5 226.1 1054.5 230.2 1053.5 235.1 1052.5 238.5 1051.5 242.5 1050.5 248.3 1049.5 250 1048.5 252.2 1047.5 254.9 1046.5 256.2 1045.5 258.7 1044.5 258.8 1043.5 260.7 1042.5 264.6 1041.5 263.7 1040.5 263.5 1039.5 264.3 1038.5 267 1037.5 268.8 1036.5 270.6 1035.5 273.6 1034.5 275.7 1033.5 277.8 1032.5 279.5 1031.5 279.4 1030.5 276.9 1029.5 269.7 1028.5 262 1027.5 253.7 1026.5 237.8 1025.5 214 1024.5 189.2 1023.5 160.9 1022.5 132.5 1021.5 110.4 1020.5 97.7 1019.5 98.2 1018.5 105.7 1017.5 121.7 1016.5 143.4 1015.5 171Z" fill="rgba(0,170,160,0.3)"/>
<path d="M1015.5 164.6l1-27.6l1-21.7l1-16l1-7.5l1-0.5l1 12.7l1 22.1l1 28.4l1 28.3l1 24.8l1 23.8l1 15.9l1 8.3l1 7.7l1 7.2l1 2.5l1 0.1l1-1.7l1-2.1l1-2.2l1-2.9l1-1.8l1-1.8l1-2.7l1-0.8l1 0.2l1 0.9l1-3.9l1-1.9l1-0.1l1-2.5l1-1.3l1-2.7l1-2.2l1-1.7l1-5.8l1-4l1-3.4l1-4.9l1-4.1l1-3.1l1 0.1l1-2.1l1-4.7l1-5.3l1-4.2l1-1.9l1-3.9l1-4.1l1-4.1l1-4.5l1-4.4l1-3.8l1-3.8l1-3.6l1-3.5l1-3.4l1-3l1-2.7l1-0.9l1-0.8l1-1.2l1-2.2l1 0.8l1-1.7l1-0.8l1 0.7l1-2.5l1-1.1l1-0.6l1 0.8l1 0.3l1-0.7l1-1.9l1 0.9l1 4.8l1 1.3l1-2l1-3.1l1 2l1 5.4l1 0.9l1 1.4l1 3.3l1-0.7l1-2l1-1.8l1-6.1l1-2l1-0.3l1-3.2l1 0.4l1 3.5l1 1.4l1-0.6l1 2.4l1 3l1 2l1 3.2l1 0.5l1 2.5l1 5.7l1 3.7" fill="none" stroke="#15aaa2" stroke-width="2.4" stroke-linejoin="round"/>
<path d="M1015.5 154.9 1016.5 136 1017.5 119.9 1018.5 108.7 1019.5 106.2 1020.5 106.2 1021.5 114.9 1022.5 136.3 1023.5 164.2 1024.5 194.4 1025.5 220.8 1026.5 240 1027.5 249.2 1028.5 257 1029.5 264.7 1030.5 270.7 1031.5 272.8 1032.5 273.3 1033.5 273.8 1034.5 270.5 1035.5 268.3 1036.5 267.4 1037.5 267.9 1038.5 265.1 1039.5 261.5 1040.5 260.3 1041.5 258.5 1042.5 258.5 1043.5 257.8 1044.5 253.2 1045.5 252.9 1046.5 253.4 1047.5 251.5 1048.5 248.5 1049.5 246.1 1050.5 247.3 1051.5 246.4 1052.5 245 1053.5 244.8 1054.5 244 1055.5 240.2 1056.5 236.1 1057.5 232.3 1058.5 228.1 1059.5 223.3 1060.5 215.2 1061.5 210.7 1062.5 207.5 1063.5 199 1064.5 189.2 1065.5 183.9 1066.5 179.7 1067.5 170.5 1068.5 161 1069.5 152.8 1070.5 147.9 1071.5 145.8 1072.5 142.9 1073.5 142.3 1074.5 141.9 1075.5 138.5 1076.5 135.4 1077.5 136 1078.5 134.9 1079.5 133.6 1080.5 135.6 1081.5 137.3 1082.5 139.1 1083.5 140.7 1084.5 141.9 1085.5 144.1 1086.5 148.7 1087.5 150.7 1088.5 151.4 1089.5 154.3 1090.5 154.6 1091.5 156.7 1092.5 157.6 1093.5 157.3 1094.5 160 1095.5 160.8 1096.5 157.7 1097.5 155.9 1098.5 159.2 1099.5 160.5 1100.5 160 1101.5 164.3 1102.5 169 1103.5 169.9 1104.5 171.6 1105.5 174.5 1106.5 173.9 1107.5 172.8 1108.5 173 1109.5 170.2 1110.5 169.5 1111.5 168.3 1112.5 167.8 1113.5 170.4 1114.5 170.7 1115.5 170.1 1116.5 170.3 1117.5 171.7 1118.5 175 1118.5 187.8 1117.5 184.5 1116.5 183.1 1115.5 182.9 1114.5 183.5 1113.5 183.2 1112.5 180.6 1111.5 181.1 1110.5 182.3 1109.5 183 1108.5 185.8 1107.5 185.6 1106.5 186.7 1105.5 187.3 1104.5 184.4 1103.5 182.7 1102.5 181.8 1101.5 177.1 1100.5 172.8 1099.5 173.3 1098.5 172 1097.5 168.7 1096.5 170.5 1095.5 173.6 1094.5 172.8 1093.5 170.1 1092.5 170.4 1091.5 169.5 1090.5 167.4 1089.5 167.1 1088.5 164.2 1087.5 163.5 1086.5 161.5 1085.5 156.9 1084.5 154.7 1083.5 153.5 1082.5 151.9 1081.5 150.1 1080.5 148.4 1079.5 146.4 1078.5 147.7 1077.5 148.8 1076.5 148.2 1075.5 151.3 1074.5 154.7 1073.5 155.1 1072.5 155.7 1071.5 158.6 1070.5 160.8 1069.5 165.6 1068.5 173.8 1067.5 183.3 1066.5 192.5 1065.5 196.7 1064.5 202 1063.5 211.8 1062.5 220.3 1061.5 223.5 1060.5 228.1 1059.5 236.1 1058.5 240.9 1057.5 245.1 1056.5 248.9 1055.5 253 1054.5 256.8 1053.5 257.6 1052.5 257.8 1051.5 259.2 1050.5 260.1 1049.5 258.9 1048.5 261.3 1047.5 264.3 1046.5 266.3 1045.5 265.7 1044.5 266 1043.5 270.6 1042.5 271.3 1041.5 271.3 1040.5 273.1 1039.5 274.3 1038.5 277.9 1037.5 280.7 1036.5 280.2 1035.5 281.1 1034.5 283.3 1033.5 286.6 1032.5 286.1 1031.5 285.7 1030.5 283.5 1029.5 277.6 1028.5 269.8 1027.5 262.1 1026.5 252.8 1025.5 233.6 1024.5 207.2 1023.5 177 1022.5 149.1 1021.5 127.7 1020.5 119 1019.5 119 1018.5 121.5 1017.5 132.7 1016.5 148.8 1015.5 167.7Z" fill="rgba(240,40,40,0.3)"/>
<path d="M1015.5 161.3l1-18.9l1-16.1l1-11.2l1-2.5l1 0l1 8.7l1 21.4l1 27.9l1 30.2l1 26.4l1 19.2l1 9.3l1 7.7l1 7.8l1 5.9l1 2.2l1 0.4l1 0.5l1-3.3l1-2.2l1-0.9l1 0.5l1-2.8l1-3.6l1-1.2l1-1.8l1 0l1-0.7l1-4.6l1-0.3l1 0.6l1-2l1-3l1-2.4l1 1.2l1-0.9l1-1.4l1-0.2l1-0.8l1-3.8l1-4.1l1-3.8l1-4.2l1-4.8l1-8.1l1-4.5l1-3.2l1-8.5l1-9.8l1-5.3l1-4.2l1-9.2l1-9.5l1-8.2l1-4.9l1-2.1l1-2.9l1-0.6l1-0.4l1-3.4l1-3.1l1 0.6l1-1.1l1-1.3l1 2l1 1.7l1 1.8l1 1.6l1 1.2l1 2.2l1 4.6l1 2l1 0.7l1 2.9l1 0.3l1 2.1l1 0.9l1-0.3l1 2.7l1 0.8l1-3.1l1-1.8l1 3.3l1 1.3l1-0.5l1 4.3l1 4.7l1 0.9l1 1.7l1 2.9l1-0.6l1-1.1l1 0.2l1-2.8l1-0.7l1-1.2l1-0.5l1 2.6l1 0.3l1-0.6l1 0.2l1 1.4l1 3.3" fill="none" stroke="#ee0000" stroke-width="2.4" stroke-linejoin="round"/>
<path d="M1139.7 196.1 1140.7 194.9 1141.7 192.3 1142.7 195.5 1143.7 195.6 1144.7 198.4 1145.7 202 1146.7 196.9 1147.7 198.7 1148.7 200.8 1149.7 198.7 1150.7 197.8 1151.7 197.1 1152.7 194.7 1153.7 198.4 1154.7 202.9 1155.7 200.7 1156.7 201.8 1157.7 202.6 1158.7 200.8 1159.7 198.6 1160.7 196.1 1161.7 193 1162.7 191.3 1163.7 192.7 1164.7 191.7 1165.7 194.6 1166.7 194.9 1167.7 197.7 1168.7 198.4 1169.7 195.4 1170.7 198.7 1171.7 194.6 1172.7 194.1 1173.7 197.3 1174.7 190.4 1175.7 192.2 1176.7 191.5 1177.7 187.6 1178.7 189.4 1179.7 190.6 1180.7 194.9 1181.7 196.1 1182.7 196.1 1183.7 194.9 1184.7 190.1 1185.7 189.1 1186.7 194.3 1187.7 193 1188.7 196.3 1189.7 199.1 1190.7 195.4 1191.7 200 1192.7 197.9 1193.7 197.4 1194.7 193.1 1195.7 191.2 1196.7 193.5 1197.7 193.3 1198.7 202.2 1199.7 203.9 1200.7 204.7 1201.7 204.4 1202.7 204.9 1203.7 203.3 1204.7 199.4 1205.7 199.8 1206.7 195.5 1207.7 194.9 1208.7 199.4 1209.7 199.5 1210.7 197.5 1211.7 198 1212.7 198.9 1213.7 201.6 1214.7 198.7 1215.7 198 1216.7 198.5 1217.7 194.3 1218.7 197.3 1219.7 197.7 1220.7 198 1221.7 194.2 1222.7 194 1223.7 194.3 1224.7 188.6 1225.7 192.4 1226.7 193.9 1227.7 191.2 1228.7 196.4 1229.7 193.5 1230.7 191.6 1231.7 191.5 1232.7 185.2 1233.7 183.7 1234.7 181.3 1235.7 180.8 1236.7 183.3 1237.7 185 1238.7 188.9 1239.7 192.6 1240.7 190.8 1241.7 191.6 1242.7 190.7 1242.7 208.1 1241.7 209 1240.7 208.3 1239.7 210.1 1238.7 206.3 1237.7 202.4 1236.7 200.8 1235.7 198.3 1234.7 198.8 1233.7 201.2 1232.7 202.6 1231.7 209 1230.7 209 1229.7 210.9 1228.7 213.8 1227.7 208.7 1226.7 211.4 1225.7 209.8 1224.7 206 1223.7 211.7 1222.7 211.5 1221.7 211.7 1220.7 215.5 1219.7 215.2 1218.7 214.8 1217.7 211.7 1216.7 216 1215.7 215.5 1214.7 216.1 1213.7 219 1212.7 216.3 1211.7 215.5 1210.7 215 1209.7 217 1208.7 216.9 1207.7 212.4 1206.7 213 1205.7 217.3 1204.7 216.8 1203.7 220.8 1202.7 222.3 1201.7 221.9 1200.7 222.2 1199.7 221.4 1198.7 219.7 1197.7 210.8 1196.7 210.9 1195.7 208.6 1194.7 210.6 1193.7 214.9 1192.7 215.4 1191.7 217.5 1190.7 212.8 1189.7 216.6 1188.7 213.7 1187.7 210.5 1186.7 211.8 1185.7 206.6 1184.7 207.6 1183.7 212.4 1182.7 213.5 1181.7 213.6 1180.7 212.3 1179.7 208 1178.7 206.9 1177.7 205.1 1176.7 209 1175.7 209.7 1174.7 207.9 1173.7 214.7 1172.7 211.6 1171.7 212.1 1170.7 216.2 1169.7 212.9 1168.7 215.9 1167.7 215.2 1166.7 212.4 1165.7 212.1 1164.7 209.2 1163.7 210.1 1162.7 208.8 1161.7 210.5 1160.7 213.6 1159.7 216.1 1158.7 218.3 1157.7 220.1 1156.7 219.3 1155.7 218.2 1154.7 220.4 1153.7 215.8 1152.7 212.2 1151.7 214.5 1150.7 215.3 1149.7 216.2 1148.7 218.3 1147.7 216.2 1146.7 214.4 1145.7 219.5 1144.7 215.9 1143.7 213.1 1142.7 212.9 1141.7 209.8 1140.7 212.4 1139.7 213.5Z" fill="rgba(150,150,150,0.35)"/>
<path d="M1139.7 203.7 1140.7 202.9 1141.7 202 1142.7 204.6 1143.7 197.4 1144.7 200.8 1145.7 201.7 1146.7 202.9 1147.7 206.1 1148.7 206.3 1149.7 207.3 1150.7 205 1151.7 204.6 1152.7 201.6 1153.7 202.6 1154.7 200.4 1155.7 201.7 1156.7 201.9 1157.7 198.7 1158.7 201.9 1159.7 198.4 1160.7 197.5 1161.7 194.8 1162.7 192.8 1163.7 193.1 1164.7 194.8 1165.7 197.1 1166.7 195.9 1167.7 195.6 1168.7 195.8 1169.7 197.8 1170.7 200.3 1171.7 201.2 1172.7 202.3 1173.7 197.6 1174.7 197.6 1175.7 197.7 1176.7 196.2 1177.7 200.5 1178.7 196.9 1179.7 199.5 1180.7 200.2 1181.7 202.8 1182.7 208.4 1183.7 203.8 1184.7 204.6 1185.7 203.8 1186.7 206.8 1187.7 211.1 1188.7 209.7 1189.7 210 1190.7 207.3 1191.7 205 1192.7 204.4 1193.7 203.6 1194.7 204.3 1195.7 208.9 1196.7 206.3 1197.7 208.9 1198.7 205.7 1199.7 202.6 1200.7 207.1 1201.7 201.7 1202.7 204.1 1203.7 200.6 1204.7 200.7 1205.7 201 1206.7 196.5 1207.7 200.6 1208.7 193.8 1209.7 192.8 1210.7 199.7 1211.7 194.6 1212.7 194.9 1213.7 197.1 1214.7 193 1215.7 195.1 1216.7 203.1 1217.7 202.4 1218.7 200.4 1219.7 202.6 1220.7 196.8 1221.7 193.1 1222.7 199.5 1223.7 202.5 1224.7 206.8 1225.7 210.5 1226.7 206.2 1227.7 204.9 1228.7 206.3 1229.7 209.5 1230.7 207.3 1231.7 207.7 1232.7 206.9 1233.7 203.7 1234.7 207.9 1235.7 208.1 1236.7 204 1237.7 205.2 1238.7 206 1239.7 204.6 1240.7 205.4 1241.7 206.5 1242.7 204.8 1242.7 222.3 1241.7 224 1240.7 222.8 1239.7 222 1238.7 223.5 1237.7 222.7 1236.7 221.5 1235.7 225.5 1234.7 225.3 1233.7 221.1 1232.7 224.3 1231.7 225.2 1230.7 224.7 1229.7 227 1228.7 223.8 1227.7 222.4 1226.7 223.7 1225.7 228 1224.7 224.2 1223.7 220 1222.7 216.9 1221.7 210.5 1220.7 214.3 1219.7 220.1 1218.7 217.9 1217.7 219.9 1216.7 220.5 1215.7 212.6 1214.7 210.4 1213.7 214.6 1212.7 212.3 1211.7 212.1 1210.7 217.1 1209.7 210.2 1208.7 211.3 1207.7 218.1 1206.7 213.9 1205.7 218.5 1204.7 218.2 1203.7 218 1202.7 221.5 1201.7 219.1 1200.7 224.6 1199.7 220 1198.7 223.1 1197.7 226.4 1196.7 223.7 1195.7 226.3 1194.7 221.7 1193.7 221 1192.7 221.9 1191.7 222.4 1190.7 224.7 1189.7 227.4 1188.7 227.1 1187.7 228.6 1186.7 224.3 1185.7 221.3 1184.7 222 1183.7 221.3 1182.7 225.9 1181.7 220.3 1180.7 217.7 1179.7 217 1178.7 214.3 1177.7 218 1176.7 213.6 1175.7 215.2 1174.7 215 1173.7 215 1172.7 219.8 1171.7 218.7 1170.7 217.8 1169.7 215.2 1168.7 213.2 1167.7 213.1 1166.7 213.3 1165.7 214.5 1164.7 212.3 1163.7 210.6 1162.7 210.3 1161.7 212.2 1160.7 215 1159.7 215.8 1158.7 219.3 1157.7 216.1 1156.7 219.4 1155.7 219.1 1154.7 217.8 1153.7 220.1 1152.7 219.1 1151.7 222 1150.7 222.5 1149.7 224.7 1148.7 223.8 1147.7 223.6 1146.7 220.3 1145.7 219.2 1144.7 218.2 1143.7 214.9 1142.7 222.1 1141.7 219.4 1140.7 220.4 1139.7 221.2Z" fill="rgba(90,90,90,0.35)"/>
<path d="M1139.7 204.8l1-1.1l1-2.6l1 3.1l1 0.1l1 2.9l1 3.6l1-5.1l1 1.8l1 2l1-2l1-1l1-0.7l1-2.4l1 3.7l1 4.5l1-2.2l1 1.1l1 0.9l1-1.8l1-2.3l1-2.5l1-3l1-1.7l1 1.3l1-0.9l1 2.8l1 0.4l1 2.7l1 0.7l1-2.9l1 3.2l1-4.1l1-0.4l1 3.1l1-6.9l1 1.9l1-0.8l1-3.9l1 1.9l1 1.1l1 4.3l1 1.3l1-0.1l1-1.1l1-4.8l1-1l1 5.1l1-1.2l1 3.2l1 2.8l1-3.7l1 4.7l1-2.1l1-0.5l1-4.4l1-1.9l1 2.3l1-0.2l1 9l1 1.6l1 0.8l1-0.3l1 0.5l1-1.6l1-3.9l1 0.4l1-4.2l1-0.6l1 4.4l1 0.2l1-2.1l1 0.5l1 0.9l1 2.7l1-2.9l1-0.7l1 0.6l1-4.3l1 3.1l1 0.4l1 0.2l1-3.8l1-0.2l1 0.3l1-5.7l1 3.8l1 1.5l1-2.6l1 5.1l1-2.9l1-1.9l1-0.1l1-6.3l1-1.4l1-2.5l1-0.4l1 2.5l1 1.6l1 3.9l1 3.7l1-1.7l1 0.7l1-0.9" fill="none" stroke="#8a8a8a" stroke-width="2.1" stroke-linejoin="round"/>
<path d="M1139.7 212.5l1-0.8l1-1l1 2.6l1-7.1l1 3.3l1 0.9l1 1.2l1 3.2l1 0.3l1 0.9l1-2.3l1-0.4l1-3l1 1l1-2.2l1 1.3l1 0.3l1-3.3l1 3.2l1-3.5l1-0.8l1-2.8l1-2l1 0.4l1 1.7l1 2.2l1-1.2l1-0.2l1 0.1l1 2l1 2.6l1 0.9l1 1.1l1-4.8l1 0l1 0.1l1-1.5l1 4.4l1-3.7l1 2.7l1 0.7l1 2.5l1 5.7l1-4.6l1 0.7l1-0.7l1 3l1 4.2l1-1.4l1 0.3l1-2.7l1-2.3l1-0.6l1-0.8l1 0.7l1 4.6l1-2.6l1 2.7l1-3.3l1-3.1l1 4.5l1-5.4l1 2.4l1-3.5l1 0.1l1 0.4l1-4.6l1 4.2l1-6.8l1-1.1l1 6.9l1-5l1 0.2l1 2.2l1-4.1l1 2.2l1 7.9l1-0.6l1-2.1l1 2.2l1-5.7l1-3.8l1 6.4l1 3.1l1 4.2l1 3.8l1-4.3l1-1.3l1 1.3l1 3.3l1-2.3l1 0.4l1-0.8l1-3.2l1 4.2l1 0.2l1-4.1l1 1.3l1 0.7l1-1.4l1 0.8l1 1.1l1-1.7" fill="none" stroke="#111" stroke-width="2.1" stroke-linejoin="round"/>
<path d="M1139.7 152.8 1140.7 122.3 1141.7 100.5 1142.7 89.6 1143.7 83.9 1144.7 80.6 1145.7 93 1146.7 120.4 1147.7 154.6 1148.7 189.4 1149.7 214.9 1150.7 224.1 1151.7 232 1152.7 238.1 1153.7 243.9 1154.7 251.5 1155.7 255.7 1156.7 260.2 1157.7 264.2 1158.7 265 1159.7 264.1 1160.7 261.5 1161.7 259.3 1162.7 257.1 1163.7 254.9 1164.7 251.8 1165.7 248.3 1166.7 244.1 1167.7 241.4 1168.7 240.2 1169.7 237.4 1170.7 234.9 1171.7 234.4 1172.7 234.1 1173.7 232.8 1174.7 232.6 1175.7 229.3 1176.7 226 1177.7 226.8 1178.7 226.2 1179.7 221.8 1180.7 218.8 1181.7 217.5 1182.7 212.5 1183.7 208.4 1184.7 206.3 1185.7 201.3 1186.7 196.9 1187.7 191.2 1188.7 183.4 1189.7 175.8 1190.7 170.7 1191.7 166.2 1192.7 162.9 1193.7 160.3 1194.7 158.8 1195.7 159.7 1196.7 159.3 1197.7 158.8 1198.7 157.2 1199.7 155.2 1200.7 153.4 1201.7 152.2 1202.7 152.8 1203.7 150.6 1204.7 148.8 1205.7 148.1 1206.7 144.8 1207.7 142.5 1208.7 143.8 1209.7 144.6 1210.7 142.6 1211.7 142.2 1212.7 144.1 1213.7 145.7 1214.7 150 1215.7 152.8 1216.7 153.5 1217.7 154.7 1218.7 154.1 1219.7 151.6 1220.7 146.8 1221.7 142.6 1222.7 140.4 1223.7 140.4 1224.7 139.4 1225.7 139 1226.7 142.2 1227.7 142.8 1228.7 140.9 1229.7 142.2 1230.7 142.9 1231.7 140.8 1232.7 141.8 1233.7 143.8 1234.7 144 1235.7 145.4 1236.7 146.5 1237.7 147.1 1238.7 147.7 1239.7 148.2 1240.7 147.8 1241.7 147.9 1242.7 148.9 1242.7 161.7 1241.7 160.7 1240.7 160.6 1239.7 161 1238.7 160.5 1237.7 159.9 1236.7 159.3 1235.7 158.3 1234.7 156.8 1233.7 156.6 1232.7 154.6 1231.7 153.6 1230.7 155.7 1229.7 155 1228.7 153.7 1227.7 155.6 1226.7 155 1225.7 151.8 1224.7 152.2 1223.7 153.2 1222.7 153.2 1221.7 155.4 1220.7 159.6 1219.7 164.4 1218.7 166.9 1217.7 167.6 1216.7 166.3 1215.7 165.6 1214.7 162.8 1213.7 158.5 1212.7 156.9 1211.7 155 1210.7 155.4 1209.7 157.4 1208.7 156.6 1207.7 155.3 1206.7 157.6 1205.7 160.9 1204.7 161.6 1203.7 163.4 1202.7 165.6 1201.7 165 1200.7 166.2 1199.7 168 1198.7 170 1197.7 171.6 1196.7 172.1 1195.7 172.5 1194.7 171.6 1193.7 173.1 1192.7 175.7 1191.7 179 1190.7 183.5 1189.7 188.6 1188.7 196.2 1187.7 204 1186.7 209.7 1185.7 214.1 1184.7 219.1 1183.7 221.2 1182.7 225.3 1181.7 230.3 1180.7 231.6 1179.7 234.6 1178.7 239 1177.7 239.6 1176.7 238.8 1175.7 242.1 1174.7 245.4 1173.7 245.6 1172.7 246.9 1171.7 247.2 1170.7 247.7 1169.7 250.2 1168.7 253 1167.7 254.2 1166.7 256.9 1165.7 261.1 1164.7 264.6 1163.7 267.7 1162.7 269.9 1161.7 272.1 1160.7 274.3 1159.7 276.9 1158.7 277.8 1157.7 277 1156.7 273 1155.7 268.5 1154.7 264.3 1153.7 256.7 1152.7 250.9 1151.7 244.8 1150.7 237 1149.7 227.7 1148.7 202.2 1147.7 167.4 1146.7 133.2 1145.7 105.8 1144.7 93.4 1143.7 96.7 1142.7 102.4 1141.7 113.3 1140.7 135.1 1139.7 165.6Z" fill="rgba(0,170,160,0.3)"/>
<path d="M1139.7 159.2l1-30.5l1-21.8l1-10.9l1-5.7l1-3.3l1 12.4l1 27.4l1 34.2l1 34.8l1 25.5l1 9.2l1 7.9l1 6.1l1 5.8l1 7.6l1 4.2l1 4.5l1 4l1 0.8l1-0.9l1-2.6l1-2.2l1-2.2l1-2.2l1-3.1l1-3.5l1-4.2l1-2.7l1-1.2l1-2.8l1-2.5l1-0.5l1-0.3l1-1.3l1-0.2l1-3.3l1-3.3l1 0.8l1-0.6l1-4.4l1-3l1-1.3l1-5l1-4.1l1-2.1l1-5l1-4.4l1-5.7l1-7.8l1-7.6l1-5.1l1-4.5l1-3.3l1-2.6l1-1.5l1 0.9l1-0.4l1-0.5l1-1.6l1-2l1-1.8l1-1.2l1 0.6l1-2.2l1-1.8l1-0.7l1-3.3l1-2.3l1 1.3l1 0.8l1-2l1-0.4l1 1.9l1 1.6l1 4.3l1 2.8l1 0.7l1 1.2l1-0.6l1-2.5l1-4.8l1-4.2l1-2.2l1 0l1-1l1-0.4l1 3.2l1 0.6l1-1.9l1 1.3l1 0.7l1-2.1l1 1l1 2l1 0.2l1 1.5l1 1l1 0.6l1 0.6l1 0.5l1-0.4l1 0.1l1 1" fill="none" stroke="#15aaa2" stroke-width="2.4" stroke-linejoin="round"/>
<path d="M1139.7 161.4 1140.7 138.6 1141.7 120.8 1142.7 110.2 1143.7 106.9 1144.7 110.3 1145.7 125.1 1146.7 149.3 1147.7 176.5 1148.7 199.4 1149.7 215.6 1150.7 229.6 1151.7 240.2 1152.7 248.6 1153.7 259.4 1154.7 265.4 1155.7 267.7 1156.7 270.1 1157.7 270.9 1158.7 271.1 1159.7 267.7 1160.7 264.9 1161.7 265.1 1162.7 266 1163.7 265.5 1164.7 262.6 1165.7 261.9 1166.7 262.8 1167.7 260.8 1168.7 257.4 1169.7 256.5 1170.7 255.1 1171.7 251.6 1172.7 249.7 1173.7 247.9 1174.7 244.7 1175.7 241.5 1176.7 241.3 1177.7 237.6 1178.7 232.8 1179.7 231.1 1180.7 228.7 1181.7 225.8 1182.7 224.1 1183.7 219.9 1184.7 212.3 1185.7 205.3 1186.7 198.4 1187.7 192.3 1188.7 184.1 1189.7 174.8 1190.7 167.7 1191.7 166.7 1192.7 166 1193.7 162.1 1194.7 160.2 1195.7 159.6 1196.7 161.9 1197.7 160.2 1198.7 156.1 1199.7 154.9 1200.7 154.5 1201.7 153.7 1202.7 149.2 1203.7 146.7 1204.7 146 1205.7 144.6 1206.7 141.7 1207.7 141.4 1208.7 142.6 1209.7 140.9 1210.7 142.1 1211.7 144.3 1212.7 146.8 1213.7 149.3 1214.7 152.4 1215.7 155.7 1216.7 156.8 1217.7 160 1218.7 160.3 1219.7 160.7 1220.7 162.1 1221.7 160.6 1222.7 161.3 1223.7 163.1 1224.7 165.1 1225.7 167.7 1226.7 166.8 1227.7 165.2 1228.7 164.3 1229.7 164.6 1230.7 166.1 1231.7 166.7 1232.7 167.4 1233.7 168.2 1234.7 169.8 1235.7 172.4 1236.7 174.3 1237.7 174 1238.7 173.6 1239.7 174.9 1240.7 179.2 1241.7 179.7 1242.7 180.1 1242.7 192.9 1241.7 192.5 1240.7 192 1239.7 187.7 1238.7 186.4 1237.7 186.8 1236.7 187.1 1235.7 185.3 1234.7 182.6 1233.7 181 1232.7 180.2 1231.7 179.5 1230.7 178.9 1229.7 177.4 1228.7 177.1 1227.7 178 1226.7 179.6 1225.7 180.5 1224.7 177.9 1223.7 175.9 1222.7 174.2 1221.7 173.4 1220.7 174.9 1219.7 173.5 1218.7 173.1 1217.7 172.8 1216.7 169.6 1215.7 168.5 1214.7 165.2 1213.7 162.1 1212.7 159.6 1211.7 157.1 1210.7 154.9 1209.7 153.7 1208.7 155.4 1207.7 154.3 1206.7 154.5 1205.7 157.5 1204.7 158.8 1203.7 159.5 1202.7 162 1201.7 166.6 1200.7 167.3 1199.7 167.7 1198.7 168.9 1197.7 173 1196.7 174.7 1195.7 172.4 1194.7 173 1193.7 174.9 1192.7 178.8 1191.7 179.5 1190.7 180.5 1189.7 187.6 1188.7 196.9 1187.7 205.1 1186.7 211.2 1185.7 218.1 1184.7 225.1 1183.7 232.7 1182.7 236.9 1181.7 238.6 1180.7 241.5 1179.7 243.9 1178.7 245.6 1177.7 250.4 1176.7 254.1 1175.7 254.3 1174.7 257.5 1173.7 260.7 1172.7 262.5 1171.7 264.4 1170.7 267.9 1169.7 269.3 1168.7 270.2 1167.7 273.6 1166.7 275.6 1165.7 274.7 1164.7 275.4 1163.7 278.3 1162.7 278.9 1161.7 277.9 1160.7 277.8 1159.7 280.5 1158.7 283.9 1157.7 283.7 1156.7 282.9 1155.7 280.5 1154.7 278.2 1153.7 272.2 1152.7 261.4 1151.7 253 1150.7 242.4 1149.7 228.4 1148.7 212.2 1147.7 189.3 1146.7 162.1 1145.7 137.9 1144.7 123.1 1143.7 119.7 1142.7 123 1141.7 133.6 1140.7 151.4 1139.7 174.2Z" fill="rgba(240,40,40,0.3)"/>
<path d="M1139.7 167.8l1-22.8l1-17.8l1-10.6l1-3.3l1 3.4l1 14.8l1 24.2l1 27.2l1 22.9l1 16.2l1 14l1 10.6l1 8.4l1 10.8l1 6l1 2.3l1 2.4l1 0.8l1 0.2l1-3.4l1-2.8l1 0.2l1 1l1-0.6l1-2.9l1-0.7l1 0.9l1-2l1-3.4l1-0.9l1-1.4l1-3.5l1-1.9l1-1.8l1-3.2l1-3.2l1-0.2l1-3.7l1-4.8l1-1.7l1-2.4l1-2.9l1-1.7l1-4.2l1-7.6l1-7l1-6.9l1-6.1l1-8.2l1-9.3l1-7.1l1-1l1-0.7l1-3.9l1-1.9l1-0.6l1 2.3l1-1.7l1-4.1l1-1.2l1-0.4l1-0.7l1-4.6l1-2.5l1-0.7l1-1.3l1-3l1-0.2l1 1.1l1-1.7l1 1.2l1 2.2l1 2.5l1 2.5l1 3.1l1 3.3l1 1.1l1 3.2l1 0.3l1 0.4l1 1.4l1-1.5l1 0.7l1 1.8l1 2l1 2.6l1-0.9l1-1.6l1-0.9l1 0.3l1 1.5l1 0.6l1 0.7l1 0.8l1 1.6l1 2.7l1 1.8l1-0.3l1-0.4l1 1.3l1 4.3l1 0.5l1 0.4" fill="none" stroke="#ee0000" stroke-width="2.4" stroke-linejoin="round"/>
<path d="M1263.2 196.7 1264.2 203.4 1265.2 204.8 1266.2 209 1267.2 206.3 1268.2 202.4 1269.2 202.3 1270.2 202.6 1271.2 202.5 1272.2 200.9 1273.2 195.8 1274.2 190.9 1275.2 189.1 1276.2 187.2 1277.2 189.2 1278.2 188.7 1279.2 191.8 1280.2 188.5 1281.2 188.9 1282.2 187.8 1283.2 181.1 1284.2 180.3 1285.2 182.2 1286.2 182.2 1287.2 187.5 1288.2 191.6 1289.2 189.9 1290.2 194.9 1291.2 193.9 1292.2 194.7 1293.2 192.1 1294.2 189.2 1295.2 195.3 1296.2 196.2 1297.2 200.9 1298.2 203.4 1299.2 199.7 1300.2 197.7 1301.2 196.3 1302.2 197.6 1303.2 195.7 1304.2 194.6 1305.2 194.6 1306.2 190.3 1307.2 190.6 1308.2 194 1309.2 195.1 1310.2 197.8 1311.2 197.8 1312.2 196.4 1313.2 193.7 1314.2 191.5 1315.2 194.7 1316.2 197.5 1317.2 199.7 1318.2 201 1319.2 197 1320.2 193.1 1321.2 191.4 1322.2 194 1323.2 194.9 1324.2 197.2 1325.2 197.3 1326.2 193.2 1327.2 195 1328.2 193.8 1329.2 189.2 1330.2 192.2 1331.2 191.5 1332.2 192.9 1333.2 200.5 1334.2 196.6 1335.2 196.6 1336.2 195.3 1337.2 193.7 1338.2 201.3 1339.2 198.1 1340.2 197.8 1341.2 196.1 1342.2 187.4 1343.2 189.2 1344.2 187.7 1345.2 187.3 1346.2 187.5 1347.2 190.1 1348.2 191.7 1349.2 196.7 1350.2 199.5 1351.2 195.6 1352.2 195.6 1353.2 187.3 1354.2 185.7 1355.2 183.3 1356.2 182.4 1357.2 183.2 1358.2 186.6 1359.2 190.1 1360.2 190.6 1361.2 195.5 1362.2 191.4 1363.2 189.8 1364.2 191.8 1365.2 189.7 1366.2 193.5 1366.2 210.9 1365.2 207.2 1364.2 209.2 1363.2 207.3 1362.2 208.8 1361.2 212.9 1360.2 208 1359.2 207.6 1358.2 204.1 1357.2 200.6 1356.2 199.9 1355.2 200.8 1354.2 203.1 1353.2 204.8 1352.2 213.1 1351.2 213.1 1350.2 216.9 1349.2 214.1 1348.2 209.1 1347.2 207.6 1346.2 205 1345.2 204.7 1344.2 205.2 1343.2 206.6 1342.2 204.8 1341.2 213.5 1340.2 215.2 1339.2 215.6 1338.2 218.7 1337.2 211.1 1336.2 212.7 1335.2 214 1334.2 214 1333.2 218 1332.2 210.3 1331.2 209 1330.2 209.7 1329.2 206.7 1328.2 211.3 1327.2 212.5 1326.2 210.7 1325.2 214.8 1324.2 214.7 1323.2 212.3 1322.2 211.5 1321.2 208.9 1320.2 210.6 1319.2 214.4 1318.2 218.5 1317.2 217.1 1316.2 214.9 1315.2 212.2 1314.2 208.9 1313.2 211.2 1312.2 213.9 1311.2 215.2 1310.2 215.2 1309.2 212.5 1308.2 211.4 1307.2 208.1 1306.2 207.7 1305.2 212.1 1304.2 212.1 1303.2 213.1 1302.2 215 1301.2 213.8 1300.2 215.2 1299.2 217.2 1298.2 220.8 1297.2 218.4 1296.2 213.6 1295.2 212.8 1294.2 206.7 1293.2 209.5 1292.2 212.1 1291.2 211.4 1290.2 212.4 1289.2 207.4 1288.2 209.1 1287.2 205 1286.2 199.7 1285.2 199.7 1284.2 197.8 1283.2 198.6 1282.2 205.2 1281.2 206.3 1280.2 205.9 1279.2 209.3 1278.2 206.1 1277.2 206.6 1276.2 204.7 1275.2 206.5 1274.2 208.4 1273.2 213.3 1272.2 218.4 1271.2 220 1270.2 220.1 1269.2 219.8 1268.2 219.8 1267.2 223.7 1266.2 226.4 1265.2 222.3 1264.2 220.8 1263.2 214.1Z" fill="rgba(150,150,150,0.35)"/>
<path d="M1263.2 203.2 1264.2 202 1265.2 203.1 1266.2 202.9 1267.2 202.6 1268.2 205 1269.2 204.9 1270.2 203.3 1271.2 203.6 1272.2 197.1 1273.2 191.3 1274.2 194.2 1275.2 193.3 1276.2 201.9 1277.2 207.2 1278.2 207.1 1279.2 208.9 1280.2 208.8 1281.2 206.6 1282.2 204.1 1283.2 203.8 1284.2 199.3 1285.2 197.8 1286.2 194.6 1287.2 195.6 1288.2 192.1 1289.2 197.6 1290.2 202.7 1291.2 201 1292.2 201.3 1293.2 196.8 1294.2 194.3 1295.2 190.7 1296.2 193.9 1297.2 196.5 1298.2 195.2 1299.2 199.4 1300.2 203 1301.2 206.1 1302.2 209.3 1303.2 205.5 1304.2 201.8 1305.2 198.5 1306.2 196.7 1307.2 203.9 1308.2 204.7 1309.2 206.1 1310.2 205.8 1311.2 204.5 1312.2 203.7 1313.2 202 1314.2 204.6 1315.2 201.2 1316.2 202.8 1317.2 199.9 1318.2 199.9 1319.2 205.4 1320.2 201.7 1321.2 201.4 1322.2 199.5 1323.2 191.7 1324.2 192.8 1325.2 196.8 1326.2 201.7 1327.2 206.3 1328.2 208.1 1329.2 205.1 1330.2 203.6 1331.2 203.2 1332.2 199.5 1333.2 202 1334.2 200.7 1335.2 201 1336.2 201 1337.2 198.3 1338.2 195.3 1339.2 190.4 1340.2 192.2 1341.2 191.5 1342.2 193.1 1343.2 195.2 1344.2 196.4 1345.2 198.3 1346.2 201.9 1347.2 204.6 1348.2 207.1 1349.2 210.3 1350.2 208.3 1351.2 204.4 1352.2 201.9 1353.2 200.5 1354.2 199.9 1355.2 200.7 1356.2 205.1 1357.2 204.3 1358.2 201.4 1359.2 200.4 1360.2 195.7 1361.2 195 1362.2 201.7 1363.2 206.4 1364.2 207.9 1365.2 207.8 1366.2 203.6 1366.2 221.1 1365.2 225.3 1364.2 225.4 1363.2 223.9 1362.2 219.2 1361.2 212.5 1360.2 213.2 1359.2 217.8 1358.2 218.9 1357.2 221.8 1356.2 222.5 1355.2 218.1 1354.2 217.3 1353.2 218 1352.2 219.4 1351.2 221.9 1350.2 225.7 1349.2 227.7 1348.2 224.6 1347.2 222.1 1346.2 219.4 1345.2 215.7 1344.2 213.9 1343.2 212.7 1342.2 210.6 1341.2 209 1340.2 209.6 1339.2 207.8 1338.2 212.8 1337.2 215.7 1336.2 218.5 1335.2 218.5 1334.2 218.2 1333.2 219.5 1332.2 216.9 1331.2 220.7 1330.2 221.1 1329.2 222.5 1328.2 225.5 1327.2 223.8 1326.2 219.1 1325.2 214.3 1324.2 210.2 1323.2 209.1 1322.2 216.9 1321.2 218.9 1320.2 219.2 1319.2 222.9 1318.2 217.4 1317.2 217.3 1316.2 220.2 1315.2 218.6 1314.2 222.1 1313.2 219.5 1312.2 221.1 1311.2 221.9 1310.2 223.3 1309.2 223.5 1308.2 222.2 1307.2 221.3 1306.2 214.1 1305.2 216 1304.2 219.3 1303.2 223 1302.2 226.8 1301.2 223.6 1300.2 220.5 1299.2 216.9 1298.2 212.7 1297.2 214 1296.2 211.3 1295.2 208.2 1294.2 211.8 1293.2 214.3 1292.2 218.8 1291.2 218.4 1290.2 220.2 1289.2 215.1 1288.2 209.6 1287.2 213 1286.2 212.1 1285.2 215.2 1284.2 216.8 1283.2 221.3 1282.2 221.5 1281.2 224 1280.2 226.3 1279.2 226.4 1278.2 224.6 1277.2 224.6 1276.2 219.3 1275.2 210.7 1274.2 211.7 1273.2 208.8 1272.2 214.6 1271.2 221 1270.2 220.7 1269.2 222.3 1268.2 222.5 1267.2 220.1 1266.2 220.4 1265.2 220.5 1264.2 219.5 1263.2 220.6Z" fill="rgba(90,90,90,0.35)"/>
<path d="M1263.2 205.4l1 6.7l1 1.4l1 4.2l1-2.7l1-3.9l1-0.1l1 0.4l1-0.1l1-1.7l1-5.1l1-4.8l1-1.9l1-1.9l1 2l1-0.5l1 3.1l1-3.3l1 0.4l1-1.1l1-6.6l1-0.9l1 2l1 0l1 5.2l1 4.1l1-1.7l1 5.1l1-1.1l1 0.8l1-2.6l1-2.9l1 6.2l1 0.8l1 4.7l1 2.5l1-3.6l1-2.1l1-1.3l1 1.2l1-1.9l1-1.1l1 0.1l1-4.4l1 0.4l1 3.3l1 1.1l1 2.7l1 0l1-1.3l1-2.7l1-2.3l1 3.2l1 2.8l1 2.2l1 1.4l1-4.1l1-3.9l1-1.7l1 2.7l1 0.8l1 2.4l1 0.1l1-4.1l1 1.7l1-1.2l1-4.5l1 3l1-0.8l1 1.4l1 7.6l1-3.9l1 0l1-1.3l1-1.6l1 7.6l1-3.2l1-0.3l1-1.7l1-8.7l1 1.8l1-1.4l1-0.5l1 0.3l1 2.5l1 1.6l1 5l1 2.8l1-3.8l1-0.1l1-8.2l1-1.7l1-2.4l1-0.8l1 0.7l1 3.4l1 3.5l1 0.5l1 4.9l1-4.1l1-1.6l1 2l1-2l1 3.7" fill="none" stroke="#8a8a8a" stroke-width="2.1" stroke-linejoin="round"/>
<path d="M1263.2 211.9l1-1.2l1 1.1l1-0.2l1-0.3l1 2.4l1-0.1l1-1.6l1 0.3l1-6.4l1-5.8l1 2.9l1-1l1 8.6l1 5.3l1-0.1l1 1.9l1-0.2l1-2.2l1-2.5l1-0.2l1-4.6l1-1.5l1-3.2l1 1l1-3.5l1 5.5l1 5.1l1-1.7l1 0.3l1-4.4l1-2.6l1-3.6l1 3.2l1 2.7l1-1.4l1 4.2l1 3.6l1 3.2l1 3.2l1-3.9l1-3.7l1-3.3l1-1.8l1 7.2l1 0.9l1 1.3l1-0.2l1-1.4l1-0.8l1-1.7l1 2.6l1-3.4l1 1.6l1-2.9l1 0.1l1 5.4l1-3.7l1-0.2l1-2l1-7.8l1 1.1l1 4l1 4.9l1 4.7l1 1.7l1-3l1-1.5l1-0.4l1-3.7l1 2.6l1-1.3l1 0.2l1 0.1l1-2.8l1-3l1-4.9l1 1.8l1-0.6l1 1.5l1 2.2l1 1.2l1 1.8l1 3.6l1 2.7l1 2.5l1 3.2l1-2l1-3.9l1-2.4l1-1.4l1-0.7l1 0.8l1 4.4l1-0.7l1-3l1-1l1-4.7l1-0.7l1 6.8l1 4.7l1 1.5l1-0.2l1-4.2" fill="none" stroke="#111" stroke-width="2.1" stroke-linejoin="round"/>
<path d="M1263.2 158.5 1264.2 135.3 1265.2 117.2 1266.2 101.4 1267.2 93.5 1268.2 90.4 1269.2 92 1270.2 108.3 1271.2 135.4 1272.2 165.9 1273.2 194.5 1274.2 218.3 1275.2 231.3 1276.2 237.2 1277.2 241.6 1278.2 245.3 1279.2 250 1280.2 253.7 1281.2 254.7 1282.2 254 1283.2 253.7 1284.2 254.9 1285.2 253.7 1286.2 252.1 1287.2 251.2 1288.2 248.5 1289.2 246.5 1290.2 245.5 1291.2 243.3 1292.2 242.3 1293.2 241.7 1294.2 242.1 1295.2 241.6 1296.2 237 1297.2 236 1298.2 236.4 1299.2 235.3 1300.2 234.8 1301.2 232 1302.2 228.6 1303.2 225.2 1304.2 222.9 1305.2 220.5 1306.2 216.4 1307.2 213.4 1308.2 208.4 1309.2 205.1 1310.2 203.6 1311.2 196.9 1312.2 192.6 1313.2 191.6 1314.2 187.3 1315.2 184.3 1316.2 180.9 1317.2 177.8 1318.2 175.6 1319.2 172.4 1320.2 168.5 1321.2 165.3 1322.2 163 1323.2 160.3 1324.2 161.2 1325.2 160.8 1326.2 159.2 1327.2 159 1328.2 156.2 1329.2 153 1330.2 152.9 1331.2 152.9 1332.2 151.6 1333.2 150.5 1334.2 149.4 1335.2 149.8 1336.2 148.7 1337.2 147.8 1338.2 149.2 1339.2 148.5 1340.2 147.2 1341.2 146.6 1342.2 146.9 1343.2 148 1344.2 149.8 1345.2 150.4 1346.2 150.3 1347.2 151.3 1348.2 153 1349.2 152.4 1350.2 151.8 1351.2 153.8 1352.2 155.5 1353.2 157.5 1354.2 157.8 1355.2 160 1356.2 162.6 1357.2 162.8 1358.2 162.9 1359.2 164.1 1360.2 164.4 1361.2 167.1 1362.2 168.1 1363.2 167.3 1364.2 169.2 1365.2 171.3 1366.2 172.5 1366.2 185.3 1365.2 184.1 1364.2 182 1363.2 180.1 1362.2 180.9 1361.2 179.9 1360.2 177.2 1359.2 176.9 1358.2 175.7 1357.2 175.6 1356.2 175.4 1355.2 172.8 1354.2 170.6 1353.2 170.3 1352.2 168.3 1351.2 166.6 1350.2 164.6 1349.2 165.2 1348.2 165.8 1347.2 164.1 1346.2 163.1 1345.2 163.2 1344.2 162.6 1343.2 160.8 1342.2 159.7 1341.2 159.4 1340.2 160 1339.2 161.3 1338.2 162 1337.2 160.6 1336.2 161.5 1335.2 162.6 1334.2 162.2 1333.2 163.3 1332.2 164.4 1331.2 165.7 1330.2 165.7 1329.2 165.8 1328.2 169 1327.2 171.8 1326.2 172 1325.2 173.6 1324.2 174 1323.2 173.1 1322.2 175.8 1321.2 178.1 1320.2 181.3 1319.2 185.2 1318.2 188.4 1317.2 190.6 1316.2 193.7 1315.2 197.1 1314.2 200.1 1313.2 204.4 1312.2 205.4 1311.2 209.7 1310.2 216.4 1309.2 217.9 1308.2 221.2 1307.2 226.2 1306.2 229.2 1305.2 233.3 1304.2 235.7 1303.2 238 1302.2 241.4 1301.2 244.8 1300.2 247.6 1299.2 248.1 1298.2 249.2 1297.2 248.8 1296.2 249.8 1295.2 254.4 1294.2 254.9 1293.2 254.5 1292.2 255.1 1291.2 256.1 1290.2 258.3 1289.2 259.3 1288.2 261.3 1287.2 264 1286.2 264.9 1285.2 266.5 1284.2 267.7 1283.2 266.5 1282.2 266.8 1281.2 267.5 1280.2 266.5 1279.2 262.8 1278.2 258.1 1277.2 254.4 1276.2 250 1275.2 244.1 1274.2 231.2 1273.2 207.3 1272.2 178.7 1271.2 148.2 1270.2 121.1 1269.2 104.8 1268.2 103.2 1267.2 106.3 1266.2 114.2 1265.2 130 1264.2 148.1 1263.2 171.3Z" fill="rgba(0,170,160,0.3)"/>
<path d="M1263.2 164.9l1-23.2l1-18.1l1-15.8l1-7.9l1-3.1l1 1.6l1 16.3l1 27.1l1 30.5l1 28.6l1 23.9l1 12.9l1 5.9l1 4.4l1 3.7l1 4.7l1 3.7l1 1l1-0.7l1-0.3l1 1.2l1-1.2l1-1.6l1-0.9l1-2.7l1-2l1-1l1-2.2l1-1l1-0.6l1 0.4l1-0.5l1-4.6l1-1l1 0.4l1-1.1l1-0.5l1-2.8l1-3.4l1-3.4l1-2.3l1-2.4l1-4.1l1-3l1-5l1-3.3l1-1.5l1-6.7l1-4.3l1-1l1-4.3l1-3l1-3.4l1-3.1l1-2.2l1-3.2l1-3.9l1-3.2l1-2.3l1-2.7l1 0.9l1-0.4l1-1.6l1-0.2l1-2.8l1-3.2l1-0.1l1 0l1-1.3l1-1.1l1-1.1l1 0.4l1-1.1l1-0.9l1 1.4l1-0.7l1-1.3l1-0.6l1 0.3l1 1.1l1 1.8l1 0.6l1-0.1l1 1l1 1.7l1-0.6l1-0.6l1 2l1 1.7l1 2l1 0.3l1 2.2l1 2.6l1 0.2l1 0.1l1 1.2l1 0.3l1 2.7l1 1l1-0.8l1 1.9l1 2.1l1 1.2" fill="none" stroke="#15aaa2" stroke-width="2.4" stroke-linejoin="round"/>
<path d="M1263.2 161.5 1264.2 139.3 1265.2 125.7 1266.2 116.8 1267.2 111.2 1268.2 113.8 1269.2 128.5 1270.2 153.6 1271.2 184.2 1272.2 214.1 1273.2 235 1274.2 243.3 1275.2 253.6 1276.2 261.4 1277.2 267.7 1278.2 275.9 1279.2 282.2 1280.2 286.7 1281.2 285.4 1282.2 283.3 1283.2 282.7 1284.2 278.1 1285.2 273.3 1286.2 270.5 1287.2 269.4 1288.2 268.9 1289.2 264.6 1290.2 260.9 1291.2 260.4 1292.2 256.9 1293.2 255.5 1294.2 255.5 1295.2 251.3 1296.2 249.2 1297.2 249.8 1298.2 248.9 1299.2 244.4 1300.2 241.7 1301.2 238.6 1302.2 232.2 1303.2 229.3 1304.2 226.3 1305.2 222.4 1306.2 217.8 1307.2 213.4 1308.2 211.2 1309.2 206.7 1310.2 201.5 1311.2 198.4 1312.2 195 1313.2 191.9 1314.2 188.8 1315.2 183.3 1316.2 180.6 1317.2 177.5 1318.2 172.3 1319.2 170.2 1320.2 166.2 1321.2 162.9 1322.2 163.3 1323.2 162.6 1324.2 160.1 1325.2 161 1326.2 160.9 1327.2 158.9 1328.2 158.1 1329.2 155 1330.2 155.3 1331.2 156.9 1332.2 156.4 1333.2 154.5 1334.2 151.1 1335.2 152.4 1336.2 150.7 1337.2 146.9 1338.2 153.9 1339.2 161.1 1340.2 162 1341.2 162.8 1342.2 162 1343.2 161.3 1344.2 159.8 1345.2 159.6 1346.2 159.8 1347.2 159.8 1348.2 164 1349.2 169.7 1350.2 173.7 1351.2 173 1352.2 174.3 1353.2 176.8 1354.2 176.7 1355.2 178 1356.2 178.4 1357.2 177.4 1358.2 178.4 1359.2 181.4 1360.2 180.4 1361.2 179.2 1362.2 181.5 1363.2 182.6 1364.2 184 1365.2 186.3 1366.2 186.6 1366.2 199.4 1365.2 199.1 1364.2 196.8 1363.2 195.4 1362.2 194.4 1361.2 192 1360.2 193.2 1359.2 194.2 1358.2 191.2 1357.2 190.2 1356.2 191.2 1355.2 190.8 1354.2 189.5 1353.2 189.6 1352.2 187.1 1351.2 185.8 1350.2 186.5 1349.2 182.5 1348.2 176.8 1347.2 172.6 1346.2 172.6 1345.2 172.4 1344.2 172.6 1343.2 174.1 1342.2 174.8 1341.2 175.6 1340.2 174.8 1339.2 173.9 1338.2 166.7 1337.2 159.7 1336.2 163.5 1335.2 165.2 1334.2 163.9 1333.2 167.3 1332.2 169.3 1331.2 169.7 1330.2 168.1 1329.2 167.9 1328.2 170.9 1327.2 171.7 1326.2 173.7 1325.2 173.8 1324.2 172.9 1323.2 175.4 1322.2 176.1 1321.2 175.7 1320.2 179.1 1319.2 183 1318.2 185.1 1317.2 190.3 1316.2 193.4 1315.2 196.1 1314.2 201.6 1313.2 204.7 1312.2 207.8 1311.2 211.2 1310.2 214.3 1309.2 219.5 1308.2 224 1307.2 226.2 1306.2 230.7 1305.2 235.2 1304.2 239.1 1303.2 242.2 1302.2 245 1301.2 251.4 1300.2 254.5 1299.2 257.2 1298.2 261.7 1297.2 262.6 1296.2 262 1295.2 264.1 1294.2 268.3 1293.2 268.3 1292.2 269.7 1291.2 273.2 1290.2 273.7 1289.2 277.4 1288.2 281.8 1287.2 282.2 1286.2 283.4 1285.2 286.1 1284.2 290.9 1283.2 295.5 1282.2 296.1 1281.2 298.2 1280.2 299.5 1279.2 295 1278.2 288.7 1277.2 280.5 1276.2 274.2 1275.2 266.4 1274.2 256.1 1273.2 247.8 1272.2 226.9 1271.2 197 1270.2 166.4 1269.2 141.3 1268.2 126.6 1267.2 124 1266.2 129.6 1265.2 138.5 1264.2 152.1 1263.2 174.3Z" fill="rgba(240,40,40,0.3)"/>
<path d="M1263.2 167.9l1-22.2l1-13.6l1-8.9l1-5.6l1 2.6l1 14.7l1 25.1l1 30.6l1 29.9l1 20.9l1 8.3l1 10.3l1 7.8l1 6.3l1 8.2l1 6.3l1 4.5l1-1.3l1-2.1l1-0.6l1-4.6l1-4.8l1-2.8l1-1.1l1-0.5l1-4.3l1-3.7l1-0.5l1-3.5l1-1.4l1 0l1-4.2l1-2.1l1 0.6l1-0.9l1-4.5l1-2.7l1-3.1l1-6.4l1-2.9l1-3l1-3.9l1-4.5l1-4.5l1-2.2l1-4.5l1-5.2l1-3.1l1-3.4l1-3.1l1-3.1l1-5.5l1-2.7l1-3.1l1-5.2l1-2.1l1-4l1-3.3l1 0.4l1-0.7l1-2.5l1 0.9l1-0.1l1-2l1-0.8l1-3l1 0.2l1 1.6l1-0.4l1-2l1-3.4l1 1.3l1-1.7l1-3.8l1 7l1 7.2l1 0.9l1 0.8l1-0.8l1-0.7l1-1.5l1-0.2l1 0.2l1 0l1 4.2l1 5.7l1 4l1-0.7l1 1.3l1 2.5l1-0.1l1 1.3l1 0.4l1-1l1 1l1 3l1-1l1-1.2l1 2.4l1 1l1 1.4l1 2.3l1 0.3" fill="none" stroke="#ee0000" stroke-width="2.4" stroke-linejoin="round"/>
<path d="M1387.7 188.2 1388.7 184.6 1389.7 185.8 1390.7 182.8 1391.7 184.6 1392.7 186.7 1393.7 187.4 1394.7 190.1 1395.7 192.3 1396.7 192.3 1397.7 193 1398.7 193.9 1399.7 193.1 1400.7 194 1401.7 191.3 1402.7 191.4 1403.7 191.9 1404.7 191.3 1405.7 191 1406.7 193.3 1407.7 191.1 1408.7 194.5 1409.7 195.9 1410.7 194.8 1411.7 196.9 1412.7 194.2 1413.7 198.3 1414.7 195.7 1415.7 199.4 1416.7 198.6 1417.7 193.9 1418.7 199.6 1419.7 195.2 1420.7 198.4 1421.7 201.9 1422.7 196.3 1423.7 194.6 1424.7 192.9 1425.7 186.8 1426.7 188.8 1427.7 191.3 1428.7 189.1 1429.7 193.7 1430.7 192 1431.7 188.8 1432.7 190.6 1433.7 188.5 1434.7 188.7 1435.7 190.1 1436.7 191.6 1437.7 198.8 1438.7 200.5 1439.7 203.7 1440.7 199.9 1441.7 193.2 1442.7 191.4 1443.7 186.6 1444.7 186.3 1445.7 187.2 1446.7 183.1 1447.7 182.7 1448.7 183.5 1449.7 183.5 1450.7 183.8 1451.7 184.5 1452.7 183.7 1453.7 182.6 1454.7 183.1 1455.7 181.6 1456.7 184.5 1457.7 180.1 1458.7 186.5 1459.7 188.1 1460.7 187 1461.7 190 1462.7 189.7 1463.7 192.7 1464.7 192.5 1465.7 192.1 1466.7 191.2 1467.7 191.4 1468.7 194.8 1469.7 194.5 1470.7 195 1471.7 195.9 1472.7 199 1473.7 205.6 1474.7 207.8 1475.7 211 1476.7 208 1477.7 205 1478.7 204.7 1479.7 201.3 1480.7 200.6 1481.7 203.4 1482.7 199.7 1483.7 204.3 1484.7 199.8 1485.7 198.9 1486.7 200 1487.7 194.7 1488.7 197.6 1489.7 194.1 1489.7 211.6 1488.7 215 1487.7 212.1 1486.7 217.5 1485.7 216.4 1484.7 217.3 1483.7 221.8 1482.7 217.2 1481.7 220.9 1480.7 218 1479.7 218.8 1478.7 222.2 1477.7 222.4 1476.7 225.4 1475.7 228.4 1474.7 225.2 1473.7 223.1 1472.7 216.4 1471.7 213.3 1470.7 212.5 1469.7 212 1468.7 212.2 1467.7 208.8 1466.7 208.6 1465.7 209.6 1464.7 209.9 1463.7 210.2 1462.7 207.2 1461.7 207.5 1460.7 204.4 1459.7 205.6 1458.7 204 1457.7 197.5 1456.7 201.9 1455.7 199.1 1454.7 200.5 1453.7 200.1 1452.7 201.1 1451.7 202 1450.7 201.3 1449.7 200.9 1448.7 200.9 1447.7 200.2 1446.7 200.6 1445.7 204.6 1444.7 203.8 1443.7 204.1 1442.7 208.9 1441.7 210.7 1440.7 217.4 1439.7 221.1 1438.7 217.9 1437.7 216.2 1436.7 209 1435.7 207.5 1434.7 206.2 1433.7 205.9 1432.7 208.1 1431.7 206.2 1430.7 209.5 1429.7 211.2 1428.7 206.5 1427.7 208.8 1426.7 206.2 1425.7 204.3 1424.7 210.4 1423.7 212 1422.7 213.7 1421.7 219.4 1420.7 215.9 1419.7 212.7 1418.7 217 1417.7 211.3 1416.7 216.1 1415.7 216.8 1414.7 213.2 1413.7 215.8 1412.7 211.7 1411.7 214.3 1410.7 212.3 1409.7 213.4 1408.7 212 1407.7 208.6 1406.7 210.7 1405.7 208.4 1404.7 208.7 1403.7 209.4 1402.7 208.9 1401.7 208.8 1400.7 211.5 1399.7 210.6 1398.7 211.3 1397.7 210.5 1396.7 209.8 1395.7 209.8 1394.7 207.5 1393.7 204.9 1392.7 204.2 1391.7 202 1390.7 200.2 1389.7 203.3 1388.7 202 1387.7 205.6Z" fill="rgba(150,150,150,0.35)"/>
<path d="M1387.7 204.4 1388.7 207.4 1389.7 205.5 1390.7 204.2 1391.7 204.2 1392.7 198.4 1393.7 202 1394.7 202.1 1395.7 204 1396.7 205.8 1397.7 202.6 1398.7 199.4 1399.7 197 1400.7 196.8 1401.7 195.7 1402.7 194.8 1403.7 193 1404.7 188.2 1405.7 190.6 1406.7 192.3 1407.7 197.1 1408.7 203 1409.7 200.6 1410.7 198.8 1411.7 197.4 1412.7 195.4 1413.7 196.9 1414.7 198.9 1415.7 197.9 1416.7 200.4 1417.7 205.7 1418.7 210.4 1419.7 210.5 1420.7 210.2 1421.7 201.7 1422.7 199 1423.7 198.2 1424.7 200.8 1425.7 208.2 1426.7 208 1427.7 206.6 1428.7 203.4 1429.7 201.1 1430.7 200.6 1431.7 202.6 1432.7 202.2 1433.7 201.3 1434.7 203.9 1435.7 207.1 1436.7 208.7 1437.7 208.6 1438.7 208.6 1439.7 202.5 1440.7 199.8 1441.7 200.1 1442.7 195.4 1443.7 193.3 1444.7 193.7 1445.7 191.8 1446.7 191 1447.7 198.6 1448.7 200.1 1449.7 202.1 1450.7 202.6 1451.7 203.4 1452.7 201.7 1453.7 201.3 1454.7 203.8 1455.7 201.8 1456.7 199.8 1457.7 201 1458.7 203.4 1459.7 202.1 1460.7 206.8 1461.7 204.5 1462.7 202.7 1463.7 203.8 1464.7 203 1465.7 207.9 1466.7 212.4 1467.7 208.7 1468.7 211.5 1469.7 207.2 1470.7 205.6 1471.7 210 1472.7 208.2 1473.7 206.2 1474.7 204.3 1475.7 207 1476.7 209.2 1477.7 211.2 1478.7 208.7 1479.7 201 1480.7 193.4 1481.7 196.4 1482.7 198 1483.7 204.1 1484.7 207.4 1485.7 202.4 1486.7 205.5 1487.7 200.8 1488.7 199.6 1489.7 200.9 1489.7 218.4 1488.7 217 1487.7 218.3 1486.7 222.9 1485.7 219.9 1484.7 224.9 1483.7 221.6 1482.7 215.4 1481.7 213.9 1480.7 210.8 1479.7 218.5 1478.7 226.2 1477.7 228.7 1476.7 226.6 1475.7 224.5 1474.7 221.7 1473.7 223.7 1472.7 225.6 1471.7 227.5 1470.7 223 1469.7 224.7 1468.7 229 1467.7 226.1 1466.7 229.8 1465.7 225.4 1464.7 220.4 1463.7 221.2 1462.7 220.2 1461.7 222 1460.7 224.3 1459.7 219.6 1458.7 220.8 1457.7 218.5 1456.7 217.3 1455.7 219.2 1454.7 221.2 1453.7 218.8 1452.7 219.1 1451.7 220.8 1450.7 220.1 1449.7 219.5 1448.7 217.6 1447.7 216 1446.7 208.5 1445.7 209.3 1444.7 211.1 1443.7 210.8 1442.7 212.9 1441.7 217.6 1440.7 217.2 1439.7 220 1438.7 226.1 1437.7 226 1436.7 226.2 1435.7 224.6 1434.7 221.4 1433.7 218.7 1432.7 219.7 1431.7 220 1430.7 218 1429.7 218.6 1428.7 220.8 1427.7 224 1426.7 225.5 1425.7 225.6 1424.7 218.2 1423.7 215.7 1422.7 216.4 1421.7 219.2 1420.7 227.7 1419.7 228 1418.7 227.8 1417.7 223.2 1416.7 217.9 1415.7 215.4 1414.7 216.4 1413.7 214.4 1412.7 212.8 1411.7 214.8 1410.7 216.2 1409.7 218.1 1408.7 220.4 1407.7 214.6 1406.7 209.7 1405.7 208.1 1404.7 205.7 1403.7 210.5 1402.7 212.2 1401.7 213.1 1400.7 214.2 1399.7 214.5 1398.7 216.9 1397.7 220 1396.7 223.3 1395.7 221.5 1394.7 219.6 1393.7 219.4 1392.7 215.8 1391.7 221.6 1390.7 221.7 1389.7 223 1388.7 224.8 1387.7 221.8Z" fill="rgba(90,90,90,0.35)"/>
<path d="M1387.7 196.9l1-3.6l1 1.3l1-3.1l1 1.8l1 2.2l1 0.6l1 2.7l1 2.2l1 0l1 0.7l1 0.9l1-0.8l1 1l1-2.8l1 0.1l1 0.6l1-0.7l1-0.3l1 2.3l1-2.2l1 3.5l1 1.3l1-1l1 2l1-2.7l1 4.2l1-2.6l1 3.6l1-0.8l1-4.7l1 5.7l1-4.3l1 3.1l1 3.6l1-5.7l1-1.7l1-1.6l1-6.1l1 1.9l1 2.5l1-2.2l1 4.6l1-1.7l1-3.2l1 1.8l1-2.1l1 0.2l1 1.4l1 1.5l1 7.2l1 1.7l1 3.2l1-3.8l1-6.7l1-1.8l1-4.8l1-0.2l1 0.8l1-4.1l1-0.4l1 0.8l1 0l1 0.4l1 0.6l1-0.8l1-1.1l1 0.5l1-1.4l1 2.8l1-4.4l1 6.4l1 1.6l1-1.1l1 3.1l1-0.3l1 2.9l1-0.2l1-0.3l1-1l1 0.2l1 3.4l1-0.2l1 0.5l1 0.8l1 3.1l1 6.6l1 2.2l1 3.2l1-3l1-3l1-0.3l1-3.3l1-0.8l1 2.9l1-3.7l1 4.5l1-4.4l1-1l1 1.1l1-5.3l1 2.9l1-3.4" fill="none" stroke="#8a8a8a" stroke-width="2.1" stroke-linejoin="round"/>
<path d="M1387.7 213.1l1 3l1-1.8l1-1.4l1 0l1-5.8l1 3.6l1 0.2l1 1.8l1 1.9l1-3.3l1-3.1l1-2.5l1-0.2l1-1.1l1-0.9l1-1.7l1-4.8l1 2.3l1 1.7l1 4.8l1 5.9l1-2.3l1-1.9l1-1.4l1-2l1 1.5l1 2l1-0.9l1 2.4l1 5.3l1 4.7l1 0.1l1-0.3l1-8.4l1-2.8l1-0.7l1 2.5l1 7.4l1-0.1l1-1.5l1-3.2l1-2.3l1-0.5l1 2l1-0.3l1-1l1 2.6l1 3.3l1 1.5l1-0.1l1 0.1l1-6.1l1-2.8l1 0.4l1-4.7l1-2.2l1 0.4l1-1.9l1-0.8l1 7.6l1 1.5l1 2l1 0.5l1 0.8l1-1.7l1-0.4l1 2.5l1-2l1-1.9l1 1.2l1 2.3l1-1.3l1 4.7l1-2.2l1-1.8l1 1l1-0.8l1 5l1 4.4l1-3.7l1 2.8l1-4.2l1-1.7l1 4.4l1-1.8l1-1.9l1-2l1 2.8l1 2.1l1 2.1l1-2.6l1-7.6l1-7.7l1 3.1l1 1.5l1 6.1l1 3.4l1-5.1l1 3.1l1-4.6l1-1.3l1 1.3" fill="none" stroke="#111" stroke-width="2.1" stroke-linejoin="round"/>
<path d="M1387.7 149.8 1388.7 121.5 1389.7 99.2 1390.7 85.7 1391.7 81.6 1392.7 79.7 1393.7 91.3 1394.7 120.4 1395.7 159.8 1396.7 195.6 1397.7 216 1398.7 221 1399.7 224.2 1400.7 228.5 1401.7 230.5 1402.7 232.4 1403.7 239.5 1404.7 246.2 1405.7 250.2 1406.7 256.1 1407.7 260.8 1408.7 263.1 1409.7 266.3 1410.7 267 1411.7 263.9 1412.7 262.5 1413.7 259.9 1414.7 255.1 1415.7 249.3 1416.7 243.2 1417.7 241.3 1418.7 240.9 1419.7 238.3 1420.7 236.2 1421.7 236.8 1422.7 236.4 1423.7 233.9 1424.7 229.2 1425.7 226 1426.7 224.7 1427.7 222.6 1428.7 220.1 1429.7 217 1430.7 216.7 1431.7 214.8 1432.7 210.1 1433.7 207.3 1434.7 204.2 1435.7 203.6 1436.7 199.9 1437.7 194.7 1438.7 190 1439.7 185.4 1440.7 183.3 1441.7 179.9 1442.7 178.9 1443.7 176.4 1444.7 173.1 1445.7 169.6 1446.7 166.6 1447.7 166.5 1448.7 162.8 1449.7 160 1450.7 160.5 1451.7 158.6 1452.7 156.1 1453.7 153.9 1454.7 153 1455.7 150.5 1456.7 147.8 1457.7 146 1458.7 144.8 1459.7 146.7 1460.7 146 1461.7 145.7 1462.7 147.6 1463.7 151.3 1464.7 154.4 1465.7 152.6 1466.7 152.1 1467.7 156.8 1468.7 158.9 1469.7 158.1 1470.7 158.6 1471.7 161.3 1472.7 165.5 1473.7 165.4 1474.7 165.5 1475.7 167.5 1476.7 168.7 1477.7 167.8 1478.7 168.6 1479.7 169.7 1480.7 169.1 1481.7 171.4 1482.7 171.8 1483.7 170.6 1484.7 171.9 1485.7 174 1486.7 174.1 1487.7 175.2 1488.7 175.9 1489.7 174 1489.7 186.8 1488.7 188.7 1487.7 188 1486.7 186.9 1485.7 186.8 1484.7 184.7 1483.7 183.4 1482.7 184.6 1481.7 184.2 1480.7 181.9 1479.7 182.5 1478.7 181.4 1477.7 180.6 1476.7 181.6 1475.7 180.3 1474.7 178.3 1473.7 178.2 1472.7 178.3 1471.7 174.1 1470.7 171.4 1469.7 170.9 1468.7 171.7 1467.7 169.6 1466.7 164.9 1465.7 165.4 1464.7 167.2 1463.7 164.1 1462.7 160.4 1461.7 158.5 1460.7 158.8 1459.7 159.5 1458.7 157.6 1457.7 158.8 1456.7 160.6 1455.7 163.3 1454.7 165.8 1453.7 166.7 1452.7 168.9 1451.7 171.4 1450.7 173.3 1449.7 172.9 1448.7 175.6 1447.7 179.3 1446.7 179.4 1445.7 182.4 1444.7 185.9 1443.7 189.2 1442.7 191.7 1441.7 192.7 1440.7 196.1 1439.7 198.2 1438.7 202.8 1437.7 207.5 1436.7 212.7 1435.7 216.4 1434.7 217 1433.7 220.1 1432.7 223 1431.7 227.6 1430.7 229.5 1429.7 229.8 1428.7 232.9 1427.7 235.4 1426.7 237.5 1425.7 238.8 1424.7 242 1423.7 246.7 1422.7 249.2 1421.7 249.6 1420.7 249 1419.7 251.1 1418.7 253.7 1417.7 254.1 1416.7 256 1415.7 262.1 1414.7 267.9 1413.7 272.7 1412.7 275.3 1411.7 276.7 1410.7 279.8 1409.7 279.1 1408.7 275.9 1407.7 273.6 1406.7 268.9 1405.7 263 1404.7 259 1403.7 252.3 1402.7 245.2 1401.7 243.3 1400.7 241.3 1399.7 237 1398.7 233.8 1397.7 228.8 1396.7 208.5 1395.7 172.6 1394.7 133.2 1393.7 104.1 1392.7 92.5 1391.7 94.4 1390.7 98.5 1389.7 112 1388.7 134.3 1387.7 162.6Z" fill="rgba(0,170,160,0.3)"/>
<path d="M1387.7 156.2l1-28.3l1-22.3l1-13.5l1-4.1l1-1.9l1 11.6l1 29.1l1 39.4l1 35.8l1 20.4l1 5l1 3.2l1 4.3l1 2l1 1.9l1 7.1l1 6.7l1 4l1 5.9l1 4.7l1 2.3l1 3.2l1 0.7l1-3.1l1-1.4l1-2.6l1-4.8l1-5.8l1-6.1l1-1.9l1-0.4l1-2.6l1-2.1l1 0.6l1-0.4l1-2.5l1-4.7l1-3.2l1-1.3l1-2.1l1-2.5l1-3.1l1-0.3l1-1.9l1-4.6l1-2.9l1-3.1l1-0.6l1-3.7l1-5.2l1-4.7l1-4.6l1-2.1l1-3.4l1-1l1-2.5l1-3.3l1-3.5l1-3l1-0.1l1-3.7l1-2.8l1 0.5l1-1.9l1-2.5l1-2.2l1-0.9l1-2.5l1-2.7l1-1.8l1-1.2l1 1.9l1-0.7l1-0.3l1 1.9l1 3.7l1 3.1l1-1.8l1-0.5l1 4.7l1 2.1l1-0.8l1 0.5l1 2.7l1 4.2l1-0.1l1 0.1l1 2l1 1.2l1-0.9l1 0.8l1 1.1l1-0.6l1 2.3l1 0.4l1-1.2l1 1.3l1 2.1l1 0.1l1 1.1l1 0.7l1-1.9" fill="none" stroke="#15aaa2" stroke-width="2.4" stroke-linejoin="round"/>
<path d="M1387.7 182.3 1388.7 159.5 1389.7 140.6 1390.7 129.3 1391.7 125.4 1392.7 123.2 1393.7 135.2 1394.7 160.5 1395.7 190.9 1396.7 217.7 1397.7 231.3 1398.7 240.2 1399.7 249.9 1400.7 258.4 1401.7 264.3 1402.7 269.5 1403.7 273.7 1404.7 274.1 1405.7 274.7 1406.7 274.8 1407.7 272.8 1408.7 272.6 1409.7 273.7 1410.7 273.2 1411.7 271.7 1412.7 272.6 1413.7 270.4 1414.7 266.3 1415.7 260.8 1416.7 253.5 1417.7 249 1418.7 249 1419.7 250.5 1420.7 249.9 1421.7 249.4 1422.7 248.9 1423.7 249.6 1424.7 249.6 1425.7 250.1 1426.7 250.3 1427.7 249.4 1428.7 246.9 1429.7 239.9 1430.7 232.3 1431.7 225.6 1432.7 222 1433.7 219.2 1434.7 213.9 1435.7 208.2 1436.7 204.2 1437.7 199.8 1438.7 196.6 1439.7 192 1440.7 185.5 1441.7 182.7 1442.7 180.5 1443.7 174.6 1444.7 169.4 1445.7 168.6 1446.7 168 1447.7 166.6 1448.7 163.2 1449.7 159.1 1450.7 157.5 1451.7 153.6 1452.7 152.2 1453.7 153.1 1454.7 151.6 1455.7 151 1456.7 149.8 1457.7 150.3 1458.7 153.8 1459.7 155.5 1460.7 161.2 1461.7 169.9 1462.7 174.2 1463.7 177.9 1464.7 181.4 1465.7 181.3 1466.7 179.4 1467.7 180.3 1468.7 180.2 1469.7 179.6 1470.7 177.4 1471.7 175.6 1472.7 175.5 1473.7 172.7 1474.7 172 1475.7 173.4 1476.7 176.7 1477.7 175.2 1478.7 173.7 1479.7 174.8 1480.7 175.1 1481.7 177.2 1482.7 176.8 1483.7 180.3 1484.7 185.3 1485.7 185.7 1486.7 184.6 1487.7 187 1488.7 185.3 1489.7 180.5 1489.7 193.3 1488.7 198.1 1487.7 199.8 1486.7 197.4 1485.7 198.5 1484.7 198.1 1483.7 193.1 1482.7 189.6 1481.7 190 1480.7 187.9 1479.7 187.6 1478.7 186.5 1477.7 188 1476.7 189.5 1475.7 186.2 1474.7 184.8 1473.7 185.5 1472.7 188.3 1471.7 188.4 1470.7 190.2 1469.7 192.4 1468.7 193.1 1467.7 193.1 1466.7 192.2 1465.7 194.1 1464.7 194.2 1463.7 190.7 1462.7 187.1 1461.7 182.7 1460.7 174 1459.7 168.3 1458.7 166.6 1457.7 163.1 1456.7 162.6 1455.7 163.8 1454.7 164.4 1453.7 165.9 1452.7 165 1451.7 166.4 1450.7 170.3 1449.7 171.9 1448.7 176 1447.7 179.4 1446.7 180.8 1445.7 181.4 1444.7 182.2 1443.7 187.4 1442.7 193.3 1441.7 195.5 1440.7 198.3 1439.7 204.8 1438.7 209.4 1437.7 212.6 1436.7 217 1435.7 221 1434.7 226.7 1433.7 232 1432.7 234.8 1431.7 238.4 1430.7 245.1 1429.7 252.7 1428.7 259.8 1427.7 262.2 1426.7 263.1 1425.7 262.9 1424.7 262.4 1423.7 262.4 1422.7 261.7 1421.7 262.2 1420.7 262.7 1419.7 263.3 1418.7 261.8 1417.7 261.8 1416.7 266.3 1415.7 273.6 1414.7 279.1 1413.7 283.2 1412.7 285.4 1411.7 284.5 1410.7 286 1409.7 286.5 1408.7 285.4 1407.7 285.6 1406.7 287.6 1405.7 287.5 1404.7 286.9 1403.7 286.5 1402.7 282.3 1401.7 277.2 1400.7 271.2 1399.7 262.7 1398.7 253 1397.7 244.1 1396.7 230.5 1395.7 203.7 1394.7 173.3 1393.7 148 1392.7 136 1391.7 138.2 1390.7 142.1 1389.7 153.4 1388.7 172.3 1387.7 195.1Z" fill="rgba(240,40,40,0.3)"/>
<path d="M1387.7 188.7l1-22.8l1-18.9l1-11.3l1-3.9l1-2.2l1 12l1 25.3l1 30.4l1 26.8l1 13.6l1 8.9l1 9.7l1 8.5l1 5.9l1 5.2l1 4.2l1 0.4l1 0.6l1 0.1l1-2l1-0.2l1 1.1l1-0.5l1-1.5l1 0.9l1-2.2l1-4.1l1-5.5l1-7.3l1-4.5l1 0l1 1.5l1-0.6l1-0.5l1-0.5l1 0.7l1 0l1 0.5l1 0.2l1-0.9l1-2.5l1-7l1-7.6l1-6.7l1-3.6l1-2.8l1-5.3l1-5.7l1-4l1-4.4l1-3.2l1-4.6l1-6.5l1-2.8l1-2.2l1-5.9l1-5.2l1-0.8l1-0.6l1-1.4l1-3.4l1-4.1l1-1.6l1-3.9l1-1.4l1 0.9l1-1.5l1-0.6l1-1.2l1 0.5l1 3.5l1 1.7l1 5.7l1 8.7l1 4.3l1 3.7l1 3.5l1-0.1l1-1.9l1 0.9l1 0l1-0.7l1-2.2l1-1.8l1-0.1l1-2.8l1-0.7l1 1.4l1 3.3l1-1.5l1-1.5l1 1.1l1 0.3l1 2.1l1-0.4l1 3.5l1 5l1 0.4l1-1.1l1 2.4l1-1.7l1-4.8" fill="none" stroke="#ee0000" stroke-width="2.4" stroke-linejoin="round"/>
<line x1="884.6" y1="77.6" x2="884.6" y2="322.5" stroke="#262626" stroke-width="1.3"/>
<line x1="881.4" y1="83.8" x2="884.6" y2="83.8" stroke="#262626" stroke-width="1.3"/>
<line x1="881.4" y1="142" x2="884.6" y2="142" stroke="#262626" stroke-width="1.3"/>
<line x1="881.4" y1="200.2" x2="884.6" y2="200.2" stroke="#262626" stroke-width="1.3"/>
<line x1="881.4" y1="258.4" x2="884.6" y2="258.4" stroke="#262626" stroke-width="1.3"/>
<line x1="881.4" y1="316.6" x2="884.6" y2="316.6" stroke="#262626" stroke-width="1.3"/>
<text x="874" y="102.6" font-size="30" text-anchor="end" fill="#000">1</text>
<text x="874" y="155.3" font-size="30" text-anchor="end" fill="#000">0.5</text>
<text x="874" y="211.3" font-size="30" text-anchor="end" fill="#000">0</text>
<text x="874" y="269.9" font-size="30" text-anchor="end" fill="#000">-0.5</text>
<text x="874" y="325.4" font-size="30" text-anchor="end" fill="#000">-1</text>
<text x="819.3" y="200" font-size="29" text-anchor="middle" fill="#000" transform="rotate(-90 819.3 200)">Z-score</text>
<text x="941.7" y="322" font-size="29" text-anchor="middle" fill="#000">S 1</text>
<text x="1067" y="322" font-size="29" text-anchor="middle" fill="#000">S 2</text>
<text x="1191.8" y="322" font-size="29" text-anchor="middle" fill="#000">S 3</text>
<text x="1314.8" y="322" font-size="29" text-anchor="middle" fill="#000">S 4</text>
<text x="1439" y="322" font-size="29" text-anchor="middle" fill="#000">S 5</text>
<text x="1494.5" y="21.2" font-size="29" text-anchor="end" fill="#14a89e">300 ms ISI</text>
<text x="1494.5" y="46.2" font-size="29" text-anchor="end" fill="#ea0000">500 ms ISI</text>
<text x="1494" y="71.6" font-size="29" text-anchor="end" fill="#808080">Surrogate</text>
<text x="795.5" y="34.3" font-size="44" text-anchor="start" fill="#000">b</text>
<rect x="897.4" y="438.5" width="11.2" height="203.8" fill="#cbcbcb" stroke="#9a9a9a" stroke-width="1"/>
<rect x="911" y="479.9" width="11.2" height="162.4" fill="#cbcbcb" stroke="#9a9a9a" stroke-width="1"/>
<rect x="924.4" y="521.3" width="11.4" height="121" fill="#cbcbcb" stroke="#9a9a9a" stroke-width="1"/>
<rect x="938.2" y="572.8" width="11.2" height="69.5" fill="#cbcbcb" stroke="#9a9a9a" stroke-width="1"/>
<rect x="951.6" y="617.5" width="10.8" height="24.8" fill="#cbcbcb" stroke="#9a9a9a" stroke-width="1"/>
<rect x="965.4" y="640.4" width="10.6" height="1.9" fill="#cbcbcb" stroke="#9a9a9a" stroke-width="1"/>
<rect x="979" y="641.4" width="10.5" height="0.9" fill="#cbcbcb" stroke="#9a9a9a" stroke-width="1"/>
<rect x="895.4" y="554.9" width="12.2" height="87.4" fill="rgba(0,0,0,0.75)" stroke="#fff" stroke-width="0.6"/>
<rect x="908.4" y="561.2" width="13" height="81.1" fill="rgba(0,0,0,0.75)" stroke="#fff" stroke-width="0.6"/>
<rect x="922.2" y="564.2" width="12.6" height="78.1" fill="rgba(0,0,0,0.75)" stroke="#fff" stroke-width="0.6"/>
<rect x="935.8" y="582.3" width="12.8" height="60" fill="rgba(0,0,0,0.75)" stroke="#fff" stroke-width="0.6"/>
<rect x="949.2" y="582.3" width="13.2" height="60" fill="rgba(0,0,0,0.75)" stroke="#fff" stroke-width="0.6"/>
<rect x="963" y="587.3" width="13.4" height="55" fill="rgba(0,0,0,0.75)" stroke="#fff" stroke-width="0.6"/>
<rect x="977" y="586.4" width="12.8" height="55.9" fill="rgba(0,0,0,0.75)" stroke="#fff" stroke-width="0.6"/>
<rect x="990.2" y="586.4" width="13.4" height="55.9" fill="rgba(0,0,0,0.75)" stroke="#fff" stroke-width="0.6"/>
<rect x="1004.2" y="598.4" width="13.2" height="43.9" fill="rgba(0,0,0,0.75)" stroke="#fff" stroke-width="0.6"/>
<rect x="1018.2" y="620.2" width="12.4" height="22.1" fill="rgba(0,0,0,0.75)" stroke="#fff" stroke-width="0.6"/>
<line x1="885" y1="421" x2="885" y2="642.3" stroke="#262626" stroke-width="1.3"/>
<line x1="881.4" y1="642.3" x2="1040.8" y2="642.3" stroke="#262626" stroke-width="1.3"/>
<line x1="882" y1="610.7" x2="885" y2="610.7" stroke="#262626" stroke-width="1.3"/>
<line x1="882" y1="579.1" x2="885" y2="579.1" stroke="#262626" stroke-width="1.3"/>
<line x1="882" y1="547.5" x2="885" y2="547.5" stroke="#262626" stroke-width="1.3"/>
<line x1="882" y1="515.9" x2="885" y2="515.9" stroke="#262626" stroke-width="1.3"/>
<line x1="882" y1="484.3" x2="885" y2="484.3" stroke="#262626" stroke-width="1.3"/>
<line x1="882" y1="452.7" x2="885" y2="452.7" stroke="#262626" stroke-width="1.3"/>
<line x1="882" y1="421.1" x2="885" y2="421.1" stroke="#262626" stroke-width="1.3"/>
<line x1="882" y1="642.3" x2="885" y2="642.3" stroke="#262626" stroke-width="1.3"/>
<line x1="894.2" y1="642.3" x2="894.2" y2="645.4" stroke="#262626" stroke-width="1.3"/>
<line x1="962.5" y1="642.3" x2="962.5" y2="645.4" stroke="#262626" stroke-width="1.3"/>
<line x1="1030.8" y1="642.3" x2="1030.8" y2="645.4" stroke="#262626" stroke-width="1.3"/>
<text x="878" y="446.3" font-size="33" text-anchor="end" fill="#000">140</text>
<text x="878" y="496.3" font-size="33" text-anchor="end" fill="#000">100</text>
<text x="878" y="559.8" font-size="33" text-anchor="end" fill="#000">60</text>
<text x="878" y="623.3" font-size="33" text-anchor="end" fill="#000">20</text>
<text x="894.2" y="674.6" font-size="33" text-anchor="middle" fill="#000">0</text>
<text x="962.5" y="674.6" font-size="33" text-anchor="middle" fill="#000">0.5</text>
<text x="1031" y="674.6" font-size="33" text-anchor="middle" fill="#000">1</text>
<text x="965.8" y="710.7" font-size="33" text-anchor="middle" fill="#000">Corr. Value</text>
<text x="823" y="532" font-size="32.5" text-anchor="middle" fill="#000" transform="rotate(-90 823 532)">N cells</text>
<text x="797" y="369.5" font-size="44" text-anchor="start" fill="#000">c</text>
<line x1="892" y1="393" x2="901.4" y2="393" stroke="#b0b0b0" stroke-width="1.2"/>
<line x1="928.6" y1="393" x2="968.6" y2="393" stroke="#b0b0b0" stroke-width="1.2" stroke-dasharray="6 5"/>
<line x1="892" y1="389" x2="892" y2="397" stroke="#b0b0b0" stroke-width="1.2"/>
<line x1="968.6" y1="389" x2="968.6" y2="397" stroke="#b0b0b0" stroke-width="1.2"/>
<rect x="901.4" y="382.6" width="27.2" height="20.8" fill="#cbcbcb" stroke="#a8a8a8" stroke-width="1.2"/>
<line x1="913" y1="382.6" x2="913" y2="403.4" stroke="#a8a8a8" stroke-width="1.2"/>
<line x1="892" y1="420.6" x2="917.4" y2="420.6" stroke="#444" stroke-width="1.2" stroke-dasharray="6 5"/>
<line x1="984" y1="420.6" x2="1033.4" y2="420.6" stroke="#444" stroke-width="1.2" stroke-dasharray="6 5"/>
<line x1="892" y1="416.6" x2="892" y2="424.6" stroke="#444" stroke-width="1.2"/>
<line x1="1033.4" y1="416.6" x2="1033.4" y2="424.6" stroke="#444" stroke-width="1.2"/>
<rect x="917.4" y="409.4" width="66.6" height="21.6" fill="#000"/>
<line x1="947.4" y1="409.4" x2="947.4" y2="431" stroke="#8a8a8a" stroke-width="1.4"/>
<path d="M1038.4 393.7V406.5M1032.9 396.9L1043.9 403.3M1032.9 403.3L1043.9 396.9" stroke="#000" stroke-width="1.4" stroke-linecap="round" fill="none"/>
<line x1="1169.2" y1="375.6" x2="1169.2" y2="645" stroke="#262626" stroke-width="1.3"/>
<line x1="1166" y1="645" x2="1169.2" y2="645" stroke="#262626" stroke-width="1.3"/>
<line x1="1166" y1="577.6" x2="1169.2" y2="577.6" stroke="#262626" stroke-width="1.3"/>
<line x1="1166" y1="510.2" x2="1169.2" y2="510.2" stroke="#262626" stroke-width="1.3"/>
<line x1="1166" y1="442.8" x2="1169.2" y2="442.8" stroke="#262626" stroke-width="1.3"/>
<line x1="1166" y1="375.4" x2="1169.2" y2="375.4" stroke="#262626" stroke-width="1.3"/>
<text x="1155.8" y="397.2" font-size="30.5" text-anchor="end" fill="#000">40</text>
<text x="1155.8" y="454.1" font-size="30.5" text-anchor="end" fill="#000">30</text>
<text x="1155.8" y="521.7" font-size="30.5" text-anchor="end" fill="#000">20</text>
<text x="1155.8" y="588.9" font-size="30.5" text-anchor="end" fill="#000">10</text>
<text x="1155.8" y="645.4" font-size="30.5" text-anchor="end" fill="#000">0</text>
<text x="1099" y="511" font-size="29" text-anchor="middle" fill="#000" transform="rotate(-90 1099 511)">Euclidian distance</text>
<text x="1215" y="648.5" font-size="28.5" text-anchor="end" fill="#000" transform="rotate(-90 1215 648.5)">Rel.</text>
<text x="1262" y="653.5" font-size="28.5" text-anchor="end" fill="#000" transform="rotate(-90 1262 653.5)">Abs.</text>
<text x="1072" y="369.3" font-size="44" text-anchor="start" fill="#000">d</text>
<path d="M1229.5 375.6V388.4M1224 378.8L1235 385.2M1224 385.2L1235 378.8" stroke="#000" stroke-width="1.4" stroke-linecap="round" fill="none"/>
<line x1="1203" y1="406.6" x2="1203" y2="454" stroke="#111" stroke-width="1.3" stroke-dasharray="7 6"/>
<line x1="1203" y1="488.6" x2="1203" y2="538.4" stroke="#111" stroke-width="1.3" stroke-dasharray="7 6"/>
<line x1="1196" y1="406.6" x2="1210" y2="406.6" stroke="#111" stroke-width="1.3"/>
<line x1="1196" y1="538.4" x2="1210" y2="538.4" stroke="#111" stroke-width="1.3"/>
<rect x="1188" y="454" width="30" height="34.6" fill="#808080" stroke="#111" stroke-width="1.3"/>
<line x1="1188" y1="468" x2="1218" y2="468" stroke="#111" stroke-width="1.3"/>
<line x1="1250.5" y1="521.6" x2="1250.5" y2="531.6" stroke="#111" stroke-width="1.3"/>
<line x1="1250.5" y1="549" x2="1250.5" y2="559.6" stroke="#111" stroke-width="1.3"/>
<line x1="1243.6" y1="521.6" x2="1258" y2="521.6" stroke="#111" stroke-width="1.3"/>
<line x1="1243.6" y1="559.6" x2="1258" y2="559.6" stroke="#111" stroke-width="1.3"/>
<rect x="1235" y="531.6" width="30.6" height="17.4" fill="#808080" stroke="#111" stroke-width="1.3"/>
<line x1="1235" y1="536" x2="1265.6" y2="536" stroke="#111" stroke-width="1.3"/>
<line x1="1396.6" y1="376.4" x2="1396.6" y2="646" stroke="#262626" stroke-width="1.3"/>
<line x1="1393.4" y1="408" x2="1396.6" y2="408" stroke="#262626" stroke-width="1.3"/>
<line x1="1393.4" y1="486.3" x2="1396.6" y2="486.3" stroke="#262626" stroke-width="1.3"/>
<line x1="1393.4" y1="564.6" x2="1396.6" y2="564.6" stroke="#262626" stroke-width="1.3"/>
<line x1="1393.4" y1="642.9" x2="1396.6" y2="642.9" stroke="#262626" stroke-width="1.3"/>
<text x="0" y="0" font-size="31" text-anchor="end" fill="#000" transform="translate(1381.5 419) scale(0.9 1)">0</text>
<text x="0" y="0" font-size="31" text-anchor="end" fill="#000" transform="translate(1381.5 497.4) scale(0.9 1)">50</text>
<text x="0" y="0" font-size="31" text-anchor="end" fill="#000" transform="translate(1381.5 575.4) scale(0.9 1)">100</text>
<text x="0" y="0" font-size="31" text-anchor="end" fill="#000" transform="translate(1381.5 654.3) scale(0.9 1)">150</text>
<text x="1320" y="524.5" font-size="29.6" text-anchor="middle" fill="#000" transform="rotate(-90 1320 524.5)">Diag. asymetry index</text>
<text x="1440" y="651.5" font-size="28.5" text-anchor="end" fill="#000" transform="rotate(-90 1440 651.5)">Rel.</text>
<text x="1488.5" y="653.5" font-size="28.5" text-anchor="end" fill="#000" transform="rotate(-90 1488.5 653.5)">Abs.</text>
<text x="1292" y="369.3" font-size="44" text-anchor="start" fill="#000">e</text>
<path d="M1455.7 376.6V389.4M1450.2 379.8L1461.2 386.2M1450.2 386.2L1461.2 379.8" stroke="#000" stroke-width="1.4" stroke-linecap="round" fill="none"/>
<line x1="1429" y1="408" x2="1429" y2="464.4" stroke="#111" stroke-width="1.3"/>
<line x1="1429" y1="596.4" x2="1429" y2="634" stroke="#111" stroke-width="1.3"/>
<line x1="1422" y1="408" x2="1436.4" y2="408" stroke="#111" stroke-width="1.3"/>
<line x1="1422" y1="634" x2="1436.4" y2="634" stroke="#111" stroke-width="1.3"/>
<rect x="1414.4" y="464.4" width="30" height="132" fill="#808080" stroke="#111" stroke-width="1.3"/>
<line x1="1414.4" y1="530" x2="1444.4" y2="530" stroke="#111" stroke-width="1.3"/>
<line x1="1477" y1="389.2" x2="1477" y2="408" stroke="#111" stroke-width="1.3"/>
<line x1="1469.6" y1="389.2" x2="1484" y2="389.2" stroke="#111" stroke-width="1.3"/>
<rect x="1461.6" y="408" width="30" height="19.4" fill="#808080" stroke="#111" stroke-width="1.3"/>
<path d="M92.8 836.2V836.2h1V838.1h1V832.1h1V835.6h1V836.6h1V834.8h1V837.4h1V842.7h1V831.7h1V835.3h1V843h1V833.5h1V838.7h1V834.5h1V836h1V839.3h1V840.2h1V838.1h1V833.6h1V843.3h1V838.6h1V838.3h1V838.4h1V832.2h1V839h1V829.4h1V831.9h1V837.4h1V837h1V833.7h1V835.5h1V839.9h1V823h1V837.6h1V826.6h1V823.9h1V828.8h1V832.2h1V838.2h1V815.5h1V828h1V832.3h1V838.9h1V830.9h1V833.8h1V833.2h1V839.2h1V842.1h1V856.8h1V863.5h1V871.1h1V874.5h1V853.5h1V863.8h1V857.2h1V852.9h1V843.8h1V840.6h1V835.2h1V837h1V828.8h1V841.3h1V844.6h1V838.9h1V834.9h1V837.2h1V838.8h1V823.8h1V839.9h1V831.4h1V837.8h1V839.3h1V837.3h1V838.4h1V839.2h1V817.6h1V843.8h1V849.5h1V857.3h1V861.2h1V866h1V861h1V864.1h1V857.2h1V842.4h1V850.1h1V845.6h1V852.9h1V850h1V844.2h1V844.1h1V840.4h1V842.5h1V847.6h1V838.7h1V843.9h1V845.1h1V831.7h1V833.7h1V841.4h1V831.4h1V830.1h1V834.4h1V824.3h1V844.5h1V848.2h1V855.4h1V863h1V868h1V874.9h1V870.6h1V871.7h1V866.8h1V855.2h1V847.5h1V845.5h1V822.6h1V841.9h1V839.7h1V842.4h1V844.8h1V840.5h1V833.3h1V829.2h1V830.6h1V829.9h1V841.9h1V831.5h1V826.9h1V839h1V833.9h1V843.1h1V830.5h1V833.8h1V834.3h1V833.2h1V853.5h1V860h1V867.7h1V859.5h1V871h1V855.4h1V849.3h1V846.7h1V850.8h1V843.3h1V847.5h1V832.6h1V840.9h1V838.6h1V836.8h1V837.9h1V843.2h1V842.1h1V841.9h1V840.6h1V841.1h1V841.7h1V835.2h1V841.6h1V839.4h1V833.5h1V828.1h1V825.9h1V839.3h1V847.4h1V853h1V854.5h1V865h1V869.9h1V861h1V851.5h1V850.2h1V851.2h1V836.2h1V847.7h1V841.3h1V848.5h1V843.9h1V836.5h1V843.7h1V838.2h1V836.6h1V841.7h1V834.7h1V843.4h1V829h1V840.2h1V839.2h1V840.9h1V842.9h1V845h1V830.9h1V845.6h1V838h1V841.3h1V840.6h1V835.7h1V838.4h1V840.6h1V838.3h1V837h1V841.3h1V832.9h1V844.6h1V842.6h1V833.6h1V842.9h1V840.8h1V831.7h1V840.2h1V842.1h1V839.4h1V834.6h1V832.5h1V835.6h1V842.2h1V840.9h1V828.8h1V841.2h1V842.3h1V833.5h1V830.3h1V828.8h1V829.3h1V828h1V834.7h1V832.1h1V820.1h1V829.1h1V837.9h1V840.3h1V838.1h1V840.7h1V836.9h1V836.6h1V840.4h1V834.4h1V838.8h1V835.9h1V833.7h1V842.3h1V825.2h1V838.5h1V831.1h1V832.8h1V988.5h-1V989.6h-1V987.7h-1V985.4h-1V992.1h-1V986.5h-1V984.6h-1V981.5h-1V983h-1V979.3h-1V993.7h-1V980.2h-1V993.8h-1V989.8h-1V1001.7h-1V979.2h-1V988.1h-1V983.1h-1V994.8h-1V989.8h-1V996.1h-1V992.3h-1V985.9h-1V983.5h-1V982.9h-1V984.8h-1V982.3h-1V982.2h-1V1011.9h-1V984.3h-1V996.7h-1V991.4h-1V986h-1V992.6h-1V988.1h-1V983h-1V984.7h-1V984h-1V990.2h-1V988.4h-1V990.9h-1V986.1h-1V990.5h-1V994.7h-1V988.7h-1V992.2h-1V990.8h-1V1004.5h-1V989.9h-1V996h-1V993.6h-1V987.5h-1V994.7h-1V989.4h-1V995h-1V992.4h-1V995.1h-1V991h-1V997.4h-1V989.6h-1V1000.5h-1V1001.8h-1V993.6h-1V998.3h-1V1004.8h-1V1004.1h-1V1011.7h-1V1011.2h-1V1015.4h-1V1011.3h-1V1019.1h-1V1018.3h-1V1028.6h-1V1018.4h-1V1022.4h-1V1024.4h-1V1014.5h-1V1008.6h-1V991.2h-1V980.8h-1V987.3h-1V986.7h-1V981.8h-1V990.3h-1V987.5h-1V988.5h-1V987.9h-1V985.3h-1V988.6h-1V994.7h-1V990.3h-1V1001.4h-1V1003.8h-1V1008.6h-1V1014.9h-1V1022.8h-1V1020.6h-1V1012.4h-1V1012.8h-1V1016.7h-1V1016.8h-1V1020.8h-1V1024.8h-1V1016.1h-1V1024.2h-1V1015.8h-1V1016.9h-1V1000.1h-1V987.5h-1V986.2h-1V996.1h-1V991.2h-1V994.2h-1V986.2h-1V988.9h-1V999.2h-1V988.8h-1V994.8h-1V1010.9h-1V1001.4h-1V1002.4h-1V996.3h-1V994.2h-1V998.3h-1V998.2h-1V1010.8h-1V1001h-1V1024.1h-1V1015.4h-1V1019.7h-1V1017.1h-1V1018.1h-1V1020.6h-1V1017.4h-1V1025h-1V1026.8h-1V1004.8h-1V996.9h-1V992.1h-1V982.1h-1V983.3h-1V988.3h-1V989.8h-1V992.5h-1V986.8h-1V989.5h-1V1005.6h-1V989.4h-1V1000h-1V1000.3h-1V995.9h-1V1019.2h-1V1005.8h-1V1006.6h-1V1003.4h-1V1025.3h-1V1018.4h-1V1024.3h-1V1030.7h-1V1024.9h-1V1030.3h-1V1022.8h-1V1020.3h-1V1028.6h-1V1024.8h-1V1018.4h-1V1005.1h-1V989.2h-1V988.1h-1V992.4h-1V990.4h-1V997.7h-1V983.7h-1V984.1h-1V986.7h-1V1004.5h-1V985.1h-1V1005.3h-1V992.8h-1V1009.6h-1V1004.7h-1V1002.2h-1V1006.6h-1V1009.2h-1V1030.7h-1V1018.5h-1V1016.2h-1V1018.1h-1V1023.2h-1V1018.9h-1V1023.5h-1V1016.5h-1V1022.2h-1V1023.8h-1V1030.7h-1V1017h-1V993.6h-1V1003.7h-1V993.6h-1V979h-1V999.2h-1V981.9h-1V984.4h-1V1009.2h-1V982.6h-1V989.9h-1V982h-1V978.4h-1V984.2h-1V989h-1V983.1h-1V983.4h-1V989.3h-1V989.9h-1V981.6h-1V979.3h-1V980.9h-1V979h-1V979h-1V981.8h-1V980.9h-1V987.4h-1V983.9h-1V996.6h-1V982.1h-1V978.9h-1V975.5h-1V980.2h-1V989.1h-1V982h-1V985.9h-1V990.4h-1V992.1h-1V978.3h-1V982.2h-1V973.4h-1V976.2h-1V987.5h-1V981.4h-1V991.2h-1V981.6h-1V980.1h-1V994.4h-1V991.5h-1V986.2h-1V999.8h-1Z" fill="rgba(2,165,155,0.3)"/>
<path d="M93.3 919.6l1-15.5l1 16.7l1-2l1-9.2l1 13.2l1-3l1 1.9l1 13.3l1 3.6l1-24.5l1-11l1 5.1l1 30.5l1-3.2l1-14.6l1-8.8l1 14.6l1-18.5l1 10.5l1 7.8l1 5.7l1-3.2l1-9.4l1 1.1l1 3.5l1 1.9l1-5.8l1-5.8l1-12l1 0.5l1-7.9l1 6.4l1 10.3l1 4.9l1 5.6l1-4.5l1 3.3l1-18.1l1 10.8l1 6.6l1 0.1l1-2.7l1-2.1l1-9.6l1-4.7l1 0.7l1 25.7l1 30.5l1-3l1 7.2l1 9.2l1-3.7l1-0.7l1-47.8l1-2.5l1-6l1 7.8l1 0l1 2.3l1-8.9l1 7.1l1 4.4l1-6.6l1 5.2l1-4.8l1 9.4l1 17.9l1-21.1l1 14.9l1-26.7l1-5.8l1 13.9l1 5l1-0.8l1-25.9l1-1.5l1 26.4l1 35l1-6.9l1 10.4l1-2.4l1-15.8l1-46.2l1 4.4l1 16.6l1 3.3l1 6.3l1-2.4l1-15.1l1 7.1l1-5.1l1 2.6l1 2.1l1-4.1l1 7.2l1-5.1l1-9.3l1 8.3l1 11.2l1 2.9l1-6.1l1-25.8l1 1.2l1-1.9l1 13.3l1-14.6l1 31.9l1 19.1l1 13.2l1 3.2l1-7.8l1-3.8l1-21.1l1-14.2l1-9.6l1-3.9l1 26.8l1-8.9l1-8.8l1 4.9l1 4.8l1 4.8l1 0.6l1-8.1l1-4.9l1 7.3l1-5.4l1-6l1 13.7l1 2.8l1-7.7l1-1.2l1-10l1-3l1 0l1 15.4l1 9.6l1 12.6l1 2.7l1 1.7l1 1.5l1 0.5l1-24.6l1 0.9l1 9.4l1-10.4l1-1.7l1 4.2l1-12.9l1 8.7l1 12.7l1-7l1-5.3l1-10.9l1-13.2l1 12.7l1 7.2l1-3.5l1 10.9l1-7.3l1-5.3l1-5.6l1 7.8l1-0.4l1 14.6l1 12.1l1 15.5l1 4.9l1-9.7l1 7.2l1-20.7l1-8.3l1-15.3l1-2.1l1-1.5l1 16.3l1-8.4l1 20.9l1-16.3l1 0.6l1-5.2l1 0.2l1 4.5l1-7.9l1-7.9l1 2.8l1 3.2l1-5l1-0.8l1 2.4l1 7.2l1 7.7l1 9.8l1-20.2l1-8.2l1-0.9l1-6.5l1 2.6l1 6.4l1 17.9l1-2.5l1 2.7l1-14.1l1 0.8l1-5.5l1 4.1l1 2.6l1-15.5l1 20l1 3.7l1-5.2l1-12.7l1 1.4l1 10.6l1 19.5l1-15.3l1-1l1-6.1l1-4.2l1 7.2l1-0.8l1-6.7l1 12.1l1-6.8l1-4.9l1 0.9l1 11.2l1 12.9l1-5.9l1-13.7l1-7.6l1-3.1l1 8.9l1 6.9l1 16.5l1-17.2l1 7.2l1-6.2l1-3.1l1 1.2l1-2.1l1-9.3l1-11.9l1 6l1 19.8" fill="none" stroke="#02b0a8" stroke-width="4" stroke-linejoin="round"/>
<path d="M92.8 847.7V847.7h1V834.8h1V849.9h1V845.9h1V843.9h1V839.3h1V841.3h1V844.1h1V842.3h1V845.9h1V843.2h1V838.9h1V849.2h1V845.7h1V846.1h1V839.1h1V829.8h1V837.3h1V842.7h1V847.6h1V837.9h1V847.7h1V849.2h1V843.7h1V839.3h1V818.6h1V839.9h1V839.9h1V825h1V844.2h1V842.9h1V832.3h1V823.7h1V837.3h1V834.8h1V848.5h1V846.2h1V840.3h1V826.9h1V834.8h1V842.3h1V843.2h1V843.1h1V836.9h1V832.8h1V840h1V844.5h1V857.2h1V862.6h1V868.2h1V871.8h1V863.5h1V872.1h1V860.6h1V843h1V850.6h1V849.3h1V839.1h1V845.7h1V840.3h1V852.4h1V840.1h1V840.3h1V838.7h1V845.6h1V845.8h1V848h1V846.6h1V839h1V849.6h1V842.6h1V833.6h1V841.5h1V838.6h1V832h1V831.7h1V843h1V862.5h1V862.6h1V867.5h1V873.5h1V870.6h1V866.1h1V867.5h1V858.3h1V859.4h1V844.7h1V845.8h1V854.6h1V845.7h1V847.2h1V838.3h1V841.4h1V836h1V834.9h1V838.6h1V836.7h1V847.8h1V838.5h1V827.2h1V841h1V843.9h1V834h1V833.2h1V836.9h1V851.2h1V858.7h1V857.9h1V871.4h1V877.8h1V873.3h1V866.4h1V864.7h1V862.6h1V856.6h1V856.1h1V838.3h1V848.1h1V843.1h1V836h1V845.3h1V843h1V843h1V844.7h1V845h1V841.7h1V841.5h1V844.3h1V844h1V842.6h1V845.8h1V841.4h1V835.9h1V843.5h1V836h1V848.1h1V857.3h1V853.1h1V861.5h1V869.8h1V870.5h1V871.6h1V853.1h1V858.8h1V852.4h1V850.4h1V842.7h1V849.9h1V852.7h1V842.7h1V848.5h1V846.2h1V847.4h1V849.8h1V838h1V844.5h1V842h1V837h1V845.8h1V846.2h1V843.2h1V837.1h1V835h1V843.3h1V839.9h1V854h1V858.3h1V868.6h1V873h1V876.5h1V876.1h1V871.9h1V857.7h1V858h1V853.7h1V841.6h1V845.1h1V846.8h1V843.5h1V849.5h1V846.1h1V853.9h1V850.5h1V845.4h1V845.3h1V840.9h1V848.6h1V846.3h1V850.5h1V848.9h1V849.3h1V842h1V840.5h1V838.6h1V841.5h1V837.9h1V837.4h1V841.9h1V843.8h1V839.4h1V835.9h1V834.1h1V852.1h1V841.5h1V838.7h1V845.8h1V839.1h1V848.3h1V844.9h1V846.5h1V842.1h1V841.9h1V840h1V831.7h1V841.7h1V844.3h1V842.4h1V848.4h1V842.3h1V830h1V820h1V835.8h1V839.5h1V830.4h1V838.6h1V830.1h1V839h1V846.5h1V834.8h1V842.3h1V847.4h1V836.4h1V840.8h1V845.1h1V837.8h1V846.1h1V839.9h1V833h1V837.2h1V831.1h1V841.6h1V843.4h1V838h1V833.5h1V843.1h1V840.9h1V996.9h-1V992.1h-1V983.5h-1V997.7h-1V986.9h-1V977.8h-1V983.1h-1V978.6h-1V982.4h-1V982.4h-1V978.8h-1V979.5h-1V981.8h-1V992.3h-1V994.1h-1V982.7h-1V992.3h-1V991.8h-1V984.8h-1V990.2h-1V985.4h-1V979.1h-1V982.6h-1V992.2h-1V983.8h-1V981.3h-1V982.9h-1V983.3h-1V982.6h-1V978.6h-1V978.3h-1V982.4h-1V980.1h-1V987.9h-1V983.7h-1V980.5h-1V984.8h-1V982.1h-1V987.4h-1V986.3h-1V988.4h-1V994.5h-1V986.1h-1V984.5h-1V990h-1V985.3h-1V989.9h-1V992.1h-1V989.2h-1V998.4h-1V995.4h-1V991.8h-1V990h-1V985.6h-1V995.1h-1V993h-1V980.5h-1V981.2h-1V980h-1V983.9h-1V982.9h-1V986.8h-1V985.4h-1V990h-1V993.8h-1V1001.1h-1V1004.5h-1V1006.6h-1V1013.5h-1V1012.3h-1V1016.1h-1V1012.2h-1V1011.7h-1V1013.4h-1V1014.7h-1V1018h-1V1018.8h-1V999.9h-1V991h-1V978.3h-1V979h-1V978.6h-1V982.5h-1V997.5h-1V996.8h-1V983.4h-1V994h-1V986.9h-1V979.7h-1V989.1h-1V1002.1h-1V992.8h-1V1005.5h-1V1006.1h-1V1019.3h-1V1007.7h-1V1011.5h-1V1013.4h-1V1007.6h-1V1013.6h-1V1013.3h-1V1028.4h-1V1024.9h-1V1026.4h-1V1018.5h-1V1015.6h-1V1005.5h-1V991h-1V980.4h-1V984.8h-1V985.5h-1V975.7h-1V980.6h-1V984.7h-1V980.3h-1V993h-1V983.3h-1V1006.4h-1V992.3h-1V989.6h-1V996.4h-1V991.1h-1V994.5h-1V998.9h-1V1015.9h-1V1001.8h-1V1003.4h-1V1007.2h-1V1011.1h-1V1014.3h-1V1020.8h-1V1025.4h-1V1012.3h-1V1013.7h-1V1030.1h-1V1013.6h-1V1001.6h-1V989h-1V973.5h-1V972.9h-1V996.6h-1V988.6h-1V992.1h-1V980.5h-1V974.8h-1V976.7h-1V981.2h-1V982.8h-1V983.8h-1V997.9h-1V1005.4h-1V995.3h-1V992.1h-1V996.1h-1V1006.2h-1V1010.1h-1V1007.2h-1V1017.2h-1V1015.3h-1V1019.2h-1V1028h-1V1016.2h-1V1014.2h-1V1023.9h-1V1020.9h-1V1005.6h-1V1000.2h-1V986.2h-1V984.7h-1V973.9h-1V982.5h-1V990.2h-1V982.5h-1V977.9h-1V978.8h-1V985.2h-1V983.8h-1V999.5h-1V986.2h-1V993.9h-1V993.9h-1V992.9h-1V995.7h-1V997.7h-1V998h-1V1002h-1V1017.7h-1V1012.7h-1V1010h-1V1022.5h-1V1010.7h-1V1020.9h-1V1012.7h-1V1020.5h-1V1012.5h-1V1007.6h-1V990.3h-1V993.2h-1V979.7h-1V982.4h-1V981.2h-1V984.1h-1V979.1h-1V981.9h-1V977.5h-1V990.7h-1V985h-1V985.7h-1V991.2h-1V978.3h-1V978.3h-1V980.3h-1V985.5h-1V988.6h-1V977h-1V990.4h-1V984.1h-1V986.3h-1V977.2h-1V976.2h-1V982.8h-1V981.9h-1V989.1h-1V993.4h-1V980.6h-1V978.7h-1V979.3h-1V977h-1V981.8h-1V977h-1V980.7h-1V971.7h-1V984.5h-1V991.5h-1V981.3h-1V980.7h-1V990.2h-1V981.5h-1V974.8h-1V976.5h-1V979h-1V975.2h-1V983.7h-1V991.7h-1V974.2h-1V974.7h-1Z" fill="rgba(235,0,0,0.307)"/>
<path d="M93.3 913.1l1-13.3l1 0l1 6l1-13.6l1 7.7l1 18.1l1 5l1-2.5l1 6.5l1 3.7l1-7.4l1-2.7l1-16.4l1-10.7l1 30l1 12.8l1-13.8l1-21.5l1-7.6l1 19.9l1 3.9l1 7.8l1-5.8l1-5l1-3.9l1 12.8l1-18.6l1 4.7l1-4.9l1 18.6l1 1.5l1 9.6l1-9l1-5.1l1-5.7l1 0.4l1 6.6l1-10l1 3.5l1-6.8l1 14.7l1-4.2l1 12.1l1-14.7l1 5l1-3.4l1 29.3l1-0.2l1 7.6l1 0.3l1 10.9l1-19l1 10l1-38.2l1-10.7l1 4.5l1-4l1-2l1-4.4l1 11.1l1 12.5l1-7.2l1-7.4l1 9.9l1 0.7l1-4.7l1 2.6l1 2.6l1-9.6l1-5.9l1-0.4l1 7l1-4.2l1 20.4l1-11.7l1-2.7l1 21.4l1 18l1 3.2l1-5l1 1.5l1-13.6l1-32.3l1 18.4l1-2.5l1-7.1l1 8.3l1-16.8l1 3.4l1-5.6l1 4.5l1-8l1 13.7l1 3.7l1-5.2l1 8.5l1 8.9l1-15l1 0.1l1 4.8l1-3.9l1-13.2l1 5.8l1-7.3l1 17.9l1-7.2l1 0.3l1 30l1 7.8l1-5.7l1 2.8l1 2.7l1-47.7l1 21.1l1-6.9l1-6.5l1 18.4l1-13.9l1-3.7l1 14.3l1 6l1-23.6l1 15.1l1 1.5l1-2l1-6.9l1-2l1-16.7l1 16.4l1 4l1-1l1-7l1-10.7l1 21.6l1-7.1l1-8.5l1 4.3l1 45l1 16.6l1-4.5l1 6.6l1-25.3l1-18.9l1-22.6l1-1.1l1 8.9l1 3.9l1-12.6l1 7.4l1-7.1l1 2.6l1-8.2l1 4.3l1-4.4l1-5l1 21.6l1 9.9l1-8l1 21.7l1-9.1l1-7.4l1-12.3l1 11.8l1-8.3l1 0.3l1 33.9l1 11.9l1-2.7l1 3.2l1-6.7l1-29.3l1-10.2l1-11.6l1 3.1l1 5.7l1 4.4l1-16.7l1 14.6l1-5l1 1.3l1 21.1l1-11.2l1 7.2l1-11.1l1-6.8l1 6.7l1-5.5l1-4.4l1 9.2l1-1.6l1 5l1-9.1l1 5l1-7.7l1 5.1l1 15l1-14.2l1-3.5l1 1.1l1 0l1 2.9l1-11.9l1-1.6l1 1.1l1 5.6l1-9.6l1 19.6l1-10.4l1 4.9l1 10.6l1-6.4l1-10.2l1 14.4l1 0.4l1-9.9l1-3.2l1-5.8l1 13.3l1-5.1l1 6.3l1-6.2l1 2.9l1 7.3l1-8.3l1 0.9l1 7.3l1 4.9l1-11.2l1-2.1l1 1.7l1 6.7l1-17.3l1 3.9l1 7.7l1-6.8l1 7.3l1-12.9l1 0.7l1 14.3l1 9.6l1-4.6l1-11.7l1 2l1 2l1-5.2" fill="none" stroke="#f40000" stroke-width="4" stroke-linejoin="round"/>
<line x1="92.8" y1="807.6" x2="92.8" y2="1030.7" stroke="#262626" stroke-width="1.4"/>
<line x1="92.8" y1="1030.7" x2="338.8" y2="1030.7" stroke="#262626" stroke-width="1.4"/>
<line x1="89.4" y1="808.5" x2="92.8" y2="808.5" stroke="#262626" stroke-width="1.3"/>
<line x1="89.4" y1="858.6" x2="92.8" y2="858.6" stroke="#262626" stroke-width="1.3"/>
<line x1="89.4" y1="908.7" x2="92.8" y2="908.7" stroke="#262626" stroke-width="1.3"/>
<line x1="89.4" y1="958.8" x2="92.8" y2="958.8" stroke="#262626" stroke-width="1.3"/>
<line x1="89.4" y1="1008.9" x2="92.8" y2="1008.9" stroke="#262626" stroke-width="1.3"/>
<line x1="141.5" y1="1030.7" x2="141.5" y2="1034.1" stroke="#262626" stroke-width="1.3"/>
<line x1="171.2" y1="1030.7" x2="171.2" y2="1034.1" stroke="#262626" stroke-width="1.3"/>
<line x1="200.6" y1="1030.7" x2="200.6" y2="1034.1" stroke="#262626" stroke-width="1.3"/>
<line x1="230.3" y1="1030.7" x2="230.3" y2="1034.1" stroke="#262626" stroke-width="1.3"/>
<line x1="259.7" y1="1030.7" x2="259.7" y2="1034.1" stroke="#262626" stroke-width="1.3"/>
<text x="84.5" y="828.9" font-size="29.5" text-anchor="end" fill="#000">1</text>
<text x="84.5" y="869.5" font-size="29.5" text-anchor="end" fill="#000">0.5</text>
<text x="84.5" y="919.4" font-size="29.5" text-anchor="end" fill="#000">0</text>
<text x="84.5" y="969.4" font-size="29.5" text-anchor="end" fill="#000">-0.5</text>
<text x="84.5" y="1019.3" font-size="29.5" text-anchor="end" fill="#000">-1</text>
<path d="M382.3 954.4V954.4h1V950.8h1V951.1h1V953.8h1V945.9h1V945.5h1V953h1V958h1V956.1h1V954.6h1V944.6h1V952h1V952.4h1V944.3h1V939.3h1V944.5h1V947.8h1V945h1V945.2h1V949.6h1V950.5h1V945.1h1V943.6h1V940.4h1V943.1h1V948h1V952.7h1V949.2h1V947.6h1V953.7h1V947.8h1V945.6h1V950.1h1V951.4h1V951.3h1V947.5h1V952.1h1V951.5h1V948.4h1V948.6h1V943.8h1V951.7h1V938.5h1V936.6h1V940.2h1V939.1h1V947h1V946.1h1V937.6h1V910h1V919.1h1V960h1V974.7h1V974.4h1V980.8h1V971.1h1V955.2h1V941.9h1V921.1h1V901.8h1V887.7h1V862h1V844.5h1V828.5h1V822.5h1V851.8h1V884.2h1V900.9h1V913.8h1V934.7h1V946.9h1V946.6h1V950.8h1V950.7h1V947h1V949.4h1V955.5h1V940.2h1V940.5h1V903.9h1V940.9h1V980.3h1V985.4h1V973.1h1V971.7h1V958.8h1V948.8h1V935h1V916.4h1V902.6h1V871.7h1V856.5h1V841.1h1V824.7h1V841.5h1V868.6h1V873.5h1V907.9h1V920.1h1V932.1h1V936.1h1V946.4h1V952.2h1V942.8h1V943.4h1V952h1V946.9h1V936.9h1V917.4h1V925.8h1V962.1h1V978.7h1V984.7h1V981.2h1V969.2h1V961h1V954.3h1V927.2h1V911.8h1V893.8h1V871.2h1V842.7h1V833.3h1V832.9h1V852.9h1V875.9h1V891.1h1V912h1V926.8h1V946.1h1V951.5h1V952.7h1V953.1h1V947.5h1V953.5h1V949.6h1V940.4h1V937h1V904h1V943h1V966.6h1V979.4h1V981.7h1V983.6h1V972.7h1V958.4h1V942.2h1V919.6h1V903.9h1V886.7h1V868.4h1V843.4h1V821.4h1V833.6h1V857.6h1V875.5h1V892.9h1V919.4h1V929.5h1V937.7h1V947.6h1V943.3h1V950.2h1V958.1h1V950.1h1V943.6h1V944.7h1V921.1h1V919h1V960.2h1V971.2h1V979.1h1V980.4h1V964.3h1V954.9h1V943.2h1V934.9h1V917.3h1V894.2h1V870.3h1V852.7h1V825h1V828.7h1V844.3h1V865.2h1V881.2h1V905.5h1V927.4h1V927.7h1V945.8h1V942.7h1V950.8h1V944.1h1V956.5h1V954h1V946.5h1V967h1V955.8h1V955h1V958h1V958.7h1V951h1V955h1V963.1h1V955.4h1V948.3h1V958.4h1V956.5h1V964.9h1V956.7h1V961.7h1V963.1h1V956.7h1V962.2h1V957.9h1V961.7h1V964.6h1V961.1h1V963.7h1V954.3h1V966.1h1V962.9h1V960.2h1V959h1V953.9h1V958.3h1V966.8h1V961.2h1V954.9h1V956.9h1V955h1V960.3h1V949.3h1V949.2h1V960.3h1V962.1h1V959.8h1V956h1V950.3h1V957.4h1V944.5h1V950h1V958.3h1V949.3h1V950h1V997.2h-1V992h-1V985.8h-1V987.3h-1V978.1h-1V990.7h-1V983.1h-1V991.3h-1V988.1h-1V990.4h-1V983.7h-1V988.3h-1V990.3h-1V982.8h-1V981.4h-1V987.4h-1V981.8h-1V988h-1V991.6h-1V978.7h-1V979.1h-1V986.2h-1V984.5h-1V984.4h-1V989.7h-1V979.2h-1V995.6h-1V987.4h-1V986.7h-1V987.6h-1V990.7h-1V976.4h-1V983.3h-1V985.5h-1V982.6h-1V981.3h-1V981.6h-1V982.7h-1V975.6h-1V976.2h-1V977.5h-1V984.8h-1V979.7h-1V975.7h-1V979.8h-1V984.3h-1V994h-1V980.5h-1V983.6h-1V984.9h-1V989.3h-1V994.5h-1V985h-1V997.1h-1V987.5h-1V994.9h-1V986.6h-1V988.8h-1V963.8h-1V947.6h-1V944.2h-1V922.9h-1V908.1h-1V913.8h-1V919.3h-1V936.2h-1V948.7h-1V968.9h-1V979.6h-1V992.1h-1V998.3h-1V1011.1h-1V1016.1h-1V1023.3h-1V1013.3h-1V1010.3h-1V971.5h-1V982.1h-1V987.4h-1V992h-1V997.7h-1V994.1h-1V999.1h-1V995.8h-1V997.9h-1V986.1h-1V979.8h-1V972.8h-1V957.7h-1V944.2h-1V936.3h-1V913.3h-1V918.4h-1V912.4h-1V920.6h-1V945.3h-1V953.2h-1V966.8h-1V986.3h-1V1004.2h-1V1012h-1V1020.3h-1V1019.7h-1V1018.9h-1V1013.1h-1V993.5h-1V966h-1V991.5h-1V988.5h-1V987h-1V1001.5h-1V1001.4h-1V996.9h-1V989.7h-1V995.1h-1V986.3h-1V976h-1V956.1h-1V944.2h-1V934.8h-1V916.2h-1V906.5h-1V904.1h-1V921.2h-1V924.9h-1V951.7h-1V962.3h-1V984.4h-1V994.5h-1V1022h-1V1014.1h-1V1020.9h-1V1030.7h-1V1020.1h-1V1013.6h-1V981.4h-1V970.8h-1V982.7h-1V987.8h-1V994.4h-1V998.4h-1V997.5h-1V1005.3h-1V984.6h-1V985.2h-1V982.2h-1V977.3h-1V960.6h-1V947h-1V929.3h-1V920.8h-1V913.7h-1V914.2h-1V919.8h-1V932.7h-1V950h-1V971.6h-1V990.2h-1V1009.2h-1V1029.6h-1V1018.1h-1V1021.3h-1V1023.5h-1V1028.3h-1V1002.5h-1V961.9h-1V981.9h-1V987.9h-1V992.7h-1V990.3h-1V985.4h-1V986h-1V994h-1V987h-1V989.8h-1V984.8h-1V966.4h-1V955.5h-1V936.8h-1V923.2h-1V906h-1V902.1h-1V911.3h-1V923.5h-1V943.1h-1V957.5h-1V979.3h-1V998h-1V1008.9h-1V1022.9h-1V1030.7h-1V1021.3h-1V1015.9h-1V1006.3h-1V973.8h-1V948.3h-1V981.5h-1V972.1h-1V968.9h-1V966.8h-1V965.2h-1V971.1h-1V972.1h-1V974.9h-1V979.6h-1V972.5h-1V986.9h-1V975h-1V981.1h-1V969.7h-1V974h-1V980.1h-1V973.7h-1V965.9h-1V969.7h-1V974h-1V984h-1V976.5h-1V966h-1V978.5h-1V963.8h-1V963.7h-1V969.6h-1V969.1h-1V970.7h-1V970.1h-1V970.6h-1V968.3h-1V975.6h-1V971.1h-1V979.3h-1V972h-1V970.8h-1V968.3h-1V968.3h-1V974.7h-1V974.2h-1V977.3h-1V977.2h-1V972.8h-1V973.9h-1V980.2h-1V971.7h-1V967.3h-1V967.1h-1Z" fill="rgba(2,165,155,0.3)"/>
<path d="M382.8 959.3l1 0.3l1 3l1 2.3l1-3.8l1-1.2l1 1.4l1 1.9l1 0.4l1-1.3l1-2.4l1 0.6l1 2.8l1-1l1-4.2l1 1.1l1 4.9l1-0.9l1-2.7l1 0.3l1-0.4l1-0.5l1 0.7l1-1.8l1-1.9l1 0.3l1 1.1l1 1.9l1 0.8l1-0.4l1 0.9l1-0.4l1 0.3l1-0.3l1-1l1 0.9l1 0.3l1 1.9l1 0.1l1 0.3l1-1.2l1-2l1 0.1l1-1.4l1-2l1 3.3l1 2.6l1-1.9l1-2.5l1-18.4l1 21.6l1 28.7l1 0.5l1 6.2l1 2.9l1-7.4l1-10.4l1-11.4l1-17.1l1-19.2l1-16.6l1-9.4l1-12.9l1-10.8l1 2.7l1 11.4l1 16l1 12.1l1 13l1 15.6l1 8.9l1 2.6l1 2.3l1-1.6l1 0.3l1 0.9l1-1l1-0.3l1-10.4l1-16.6l1 42.4l1 15.7l1 0.6l1-1.2l1-4.2l1-8.3l1-6.7l1-13.1l1-16l1-18.3l1-18.3l1-12.5l1-9l1-8.1l1 8l1 17.2l1 13.6l1 13.6l1 11.6l1 9l1 7.2l1 3.8l1 4l1 3.5l1 0l1-2.3l1-5.7l1-7.9l1-12.3l1 15.5l1 29.4l1 3.5l1 1l1 0.5l1-2.8l1-8.8l1-11.1l1-17.4l1-15.4l1-16.5l1-16.5l1-13.2l1-7.8l1 2.6l1 11l1 13.6l1 9.9l1 13.8l1 15.9l1 12l1 2l1 0.2l1 0.4l1 0.4l1 1.6l1-2.9l1-4.7l1-6l1-15.7l1 36.7l1 16.3l1 4.3l1 1.5l1-3.6l1-9l1-8.1l1-11.3l1-18.5l1-17l1-15.6l1-14l1-11.3l1-5.9l1 5.2l1 16.1l1 12.7l1 13.6l1 15l1 7.8l1 5.1l1 2.5l1 2.1l1 1.4l1 4.4l1-2.3l1-4.8l1 0.3l1-13.1l1 2.1l1 37l1 4.4l1 2.5l1-0.6l1-9.4l1-10l1-10.2l1-11.5l1-15.1l1-15.7l1-12.9l1-16.8l1-9.6l1 0.6l1 12l1 14.1l1 10.1l1 16.7l1 12.8l1 7.7l1 6.3l1 0.3l1 0.5l1 0.1l1 2l1 3.6l1-1.6l1 2.1l1-3.2l1-4.4l1 1.8l1-0.9l1-1l1 1l1 2.1l1-0.6l1-1.4l1 0.4l1 0.6l1 4.2l1 0.7l1-1.4l1 3.1l1-0.2l1-4.4l1 1.3l1 3l1-2.8l1 2l1-0.3l1-4.4l1 3.6l1-0.1l1-2.1l1 3l1-4.5l1-0.6l1 5.7l1-2.1l1-3.7l1 1.4l1 1.4l1-3l1-0.3l1 0.7l1 2.9l1 1.9l1-3.6l1 1.2l1 2l1-1l1-4l1-0.6l1 3.4l1-1.1l1 1.5" fill="none" stroke="#02b0a8" stroke-width="3" stroke-linejoin="round"/>
<path d="M382.3 960.1V960.1h1V954.3h1V945.2h1V950.2h1V943.4h1V955.1h1V947h1V957.4h1V949h1V948.9h1V951.5h1V949.6h1V947h1V934.6h1V940.1h1V944.6h1V949.4h1V948.4h1V943.9h1V950h1V948.5h1V949.7h1V947.6h1V951.4h1V952.6h1V947.9h1V941.7h1V949.6h1V947.5h1V953.8h1V949.5h1V950.1h1V935.8h1V950.3h1V948.9h1V936.3h1V944h1V935h1V942.6h1V949.2h1V943h1V933.9h1V947.4h1V937.8h1V941.4h1V943.4h1V943.1h1V942.2h1V941.8h1V912.6h1V915.6h1V966h1V968.5h1V977.2h1V975.1h1V969.6h1V958h1V951.7h1V933.5h1V897.6h1V877.7h1V863.3h1V843.2h1V817.7h1V826.7h1V840.1h1V874.7h1V890.9h1V915.5h1V930.1h1V942h1V946.4h1V952.5h1V957h1V959.8h1V952.2h1V957.5h1V945.1h1V940.6h1V901.3h1V950.7h1V969.5h1V980.7h1V976.9h1V981.3h1V969.2h1V968h1V937.1h1V917h1V884.8h1V870.8h1V860.3h1V838h1V811.2h1V831.2h1V853.8h1V881.3h1V890.9h1V918.8h1V940.5h1V937.6h1V941.9h1V943.1h1V949.4h1V956.7h1V955.5h1V946.1h1V944.8h1V916.9h1V921.6h1V973.5h1V977.5h1V983.3h1V978h1V972.6h1V966.8h1V943.3h1V929.5h1V899h1V876.7h1V860.4h1V837h1V820.9h1V813.3h1V842.1h1V865.8h1V882.4h1V910.3h1V926.8h1V943.8h1V944.6h1V950.7h1V953.4h1V957.4h1V958.1h1V960h1V953.1h1V936.5h1V902.1h1V948.6h1V974.8h1V980.1h1V973.1h1V978.5h1V972.5h1V960.6h1V948h1V923.3h1V890.3h1V875.9h1V856.7h1V829.3h1V817.1h1V825.5h1V845.6h1V871.9h1V892.1h1V923.4h1V935.4h1V950.6h1V943.2h1V942.8h1V952.2h1V952h1V954.8h1V947.5h1V940.6h1V917.7h1V917.5h1V960.6h1V977.8h1V980.3h1V982h1V974.2h1V965.4h1V951.1h1V921h1V904.7h1V891.1h1V870.6h1V846.4h1V820h1V806.6h1V841.7h1V869.6h1V888.6h1V908.3h1V932.3h1V939.8h1V945.1h1V954.6h1V957.9h1V957.8h1V940.6h1V965.8h1V964.3h1V958.9h1V959.3h1V958.4h1V962.9h1V954.9h1V955.6h1V950.3h1V959.9h1V956.3h1V957.4h1V951.2h1V953.1h1V958.5h1V944.5h1V947.6h1V960.4h1V967.6h1V969.3h1V963.4h1V954.4h1V963.1h1V958.2h1V957.6h1V956.4h1V940.3h1V955.2h1V958.1h1V950.1h1V952h1V949h1V958.7h1V959.7h1V958.8h1V952.4h1V956.1h1V946.7h1V954.7h1V948.7h1V958.5h1V949.9h1V955.4h1V958.4h1V954.3h1V959.6h1V957.8h1V959.7h1V951.4h1V959.5h1V956.3h1V980.2h-1V982.8h-1V993.8h-1V984.8h-1V984.2h-1V983.6h-1V984.4h-1V984h-1V980.1h-1V975.6h-1V976.9h-1V985.7h-1V975.5h-1V979.2h-1V976.4h-1V984.4h-1V980.6h-1V979.3h-1V978.5h-1V981.8h-1V979.2h-1V984h-1V988.9h-1V987.4h-1V979.3h-1V989.7h-1V977.1h-1V985.3h-1V982.2h-1V994.5h-1V981.6h-1V982.4h-1V984.6h-1V983.8h-1V984.2h-1V978h-1V992.2h-1V983h-1V982.8h-1V979.5h-1V994.7h-1V984.8h-1V981h-1V975.2h-1V979.7h-1V982.9h-1V983.1h-1V981.4h-1V976.8h-1V1010.2h-1V1001.6h-1V986.8h-1V1009.4h-1V997.4h-1V995.2h-1V988.5h-1V987.2h-1V976.9h-1V962.2h-1V940.9h-1V931.3h-1V909.7h-1V911.6h-1V903.7h-1V909.8h-1V925.8h-1V938.2h-1V951.9h-1V975.8h-1V999.5h-1V1009.1h-1V1018.4h-1V1026.8h-1V1030.2h-1V1012.3h-1V1019h-1V976.2h-1V965.5h-1V987.8h-1V988.2h-1V989.6h-1V994.7h-1V991.9h-1V1005.4h-1V991.4h-1V994h-1V989.2h-1V971.7h-1V959.1h-1V935.5h-1V930.9h-1V906.1h-1V911.2h-1V906.3h-1V919h-1V935.9h-1V949.2h-1V973.3h-1V995.8h-1V1002.5h-1V1007.2h-1V1011.8h-1V1020h-1V1020h-1V1012.6h-1V1003.3h-1V961.7h-1V976.5h-1V989.6h-1V998.7h-1V1003.4h-1V1001.5h-1V996h-1V1003.6h-1V997.1h-1V994.4h-1V975.3h-1V960.7h-1V944.6h-1V927h-1V918.8h-1V903.7h-1V900.5h-1V909.9h-1V917.9h-1V933.6h-1V958.5h-1V976.4h-1V999.4h-1V1004.4h-1V1013.6h-1V1012.6h-1V1018.1h-1V1021.8h-1V1014.6h-1V983.9h-1V967.6h-1V989.6h-1V988.9h-1V993.1h-1V991.2h-1V1001.7h-1V989h-1V993.9h-1V991.8h-1V993.4h-1V977.2h-1V954.6h-1V933.3h-1V922.7h-1V916.9h-1V893.7h-1V901.7h-1V913.9h-1V920.9h-1V953.8h-1V959.9h-1V985.9h-1V1006.5h-1V1015.5h-1V1021.2h-1V1019.5h-1V1020.1h-1V1022.7h-1V1009h-1V963.7h-1V983.9h-1V988.9h-1V1009.3h-1V992.3h-1V997.1h-1V988.9h-1V986.6h-1V986.9h-1V990.3h-1V984.9h-1V954.8h-1V949.4h-1V932.8h-1V916.9h-1V900.2h-1V892.9h-1V901h-1V918.5h-1V928.3h-1V947.6h-1V979.1h-1V997h-1V1007.5h-1V1017.7h-1V1015.9h-1V1020.4h-1V1023.7h-1V1013.8h-1V984.2h-1V949.6h-1V973.8h-1V973h-1V966.4h-1V965.8h-1V966.1h-1V964.5h-1V981.2h-1V968.7h-1V971.4h-1V967.9h-1V979.2h-1V971.8h-1V980.8h-1V970.5h-1V971h-1V969.3h-1V969.7h-1V967.3h-1V972.5h-1V973.2h-1V983.3h-1V977.9h-1V971.5h-1V972.6h-1V971.5h-1V974.3h-1V972.6h-1V965.1h-1V976.5h-1V982.7h-1V965.7h-1V976.2h-1V970.3h-1V967.6h-1V975h-1V978.5h-1V965.7h-1V970.4h-1V975.6h-1V978.2h-1V971.5h-1V969.4h-1V968.5h-1V969.7h-1V969.4h-1V972.1h-1V983.2h-1V985.6h-1V977.7h-1Z" fill="rgba(235,0,0,0.307)"/>
<path d="M382.8 965.2l1-2.3l1-3.8l1-1.7l1 0.5l1 3.8l1-1.6l1 0.1l1 2.4l1-1.1l1 1.4l1-4.3l1 0.7l1 6.8l1-3.9l1-3.9l1 0.5l1 1.3l1-1.8l1 1.4l1 0.9l1-3.2l1 1.1l1 2.8l1 0.1l1 0.8l1-0.2l1-1.7l1 1.5l1 0.4l1 0.1l1-2.7l1-2.4l1 5.4l1 2.2l1-4.3l1-0.7l1 0.4l1 0.4l1 1.9l1-1.6l1 1.3l1 3.2l1-6.5l1-1.6l1 2.6l1-0.6l1 0.3l1-1.6l1-17.2l1 22.2l1 32.7l1 2.7l1 1.6l1-1.8l1-3.8l1-5.3l1-11.7l1-20.5l1-26.2l1-21.5l1-11.5l1-11.7l1-7.2l1 4.3l1 13.8l1 17.3l1 14.1l1 12.8l1 16.6l1 10.6l1-0.2l1 1.2l1 2.4l1 3.7l1-0.1l1-1.2l1-6.9l1-11.5l1-15.5l1 45.1l1 13.3l1-1.1l1 1.3l1 0.8l1-7l1-8.5l1-17.5l1-24.5l1-22l1-14.2l1-7.7l1-12.4l1-8.3l1 8.2l1 14.6l1 14.2l1 15.9l1 16.8l1 15.3l1 6.5l1 1.1l1 2.3l1-0.1l1 0.6l1-2.2l1-3.4l1-4.8l1-18.4l1 17l1 36.2l1 1.9l1 0.5l1-2.5l1-2.9l1-8l1-10l1-17.4l1-24.1l1-21.2l1-15.5l1-13.4l1-5.1l1-0.7l1 10.8l1 17.9l1 14.4l1 15.3l1 14.9l1 11l1 4l1 3.7l1 0.5l1 2.2l1 4.1l1-1.9l1-7.9l1-10.9l1-20.9l1 43.6l1 15.2l1 0.4l1 1.6l1-4l1-5.3l1-7l1-11.8l1-17.8l1-25.4l1-19.3l1-12.2l1-11.4l1-4l1 7.8l1 14.2l1 16.1l1 15.8l1 15l1 14.6l1 8.2l1-0.6l1-1l1 1.9l1 2.1l1-2l1-1.1l1-5.1l1-21.1l1 8.1l1 40.5l1-1.2l1 5.3l1 3.3l1-5.4l1-4.7l1-14.1l1-22.4l1-16.4l1-15.6l1-14l1-16.9l1-12.4l1-0.1l1 13l1 16.3l1 14.9l1 19l1 18.1l1 8.9l1 2.3l1 2.9l1-0.8l1 0.5l1 1.3l1 4.7l1 0.3l1-8l1-2.4l1-0.1l1-0.4l1-0.3l1-1.3l1 2.3l1 1.3l1-1.7l1 0l1-2.1l1 2l1 4.1l1-3.9l1 0l1 2.8l1-0.1l1 1.2l1-2.8l1-0.7l1 0.4l1 0.5l1-1.7l1-0.9l1 2l1 1.1l1 1.6l1-4l1-1.2l1 3.2l1-1.3l1 0.1l1 0.5l1 0.7l1 1l1-1.6l1 0.9l1 1.7l1-3.3l1-2.9l1 4.6l1-1.2l1-2l1 3.5l1 1.7l1-1.3l1-3.3l1 1l1 0.6" fill="none" stroke="#f40000" stroke-width="3" stroke-linejoin="round"/>
<line x1="382.3" y1="807.6" x2="382.3" y2="1030.7" stroke="#262626" stroke-width="1.4"/>
<line x1="382.3" y1="1030.7" x2="627.7" y2="1030.7" stroke="#262626" stroke-width="1.4"/>
<line x1="378.9" y1="823.1" x2="382.3" y2="823.1" stroke="#262626" stroke-width="1.3"/>
<line x1="378.9" y1="892.3" x2="382.3" y2="892.3" stroke="#262626" stroke-width="1.3"/>
<line x1="378.9" y1="961.5" x2="382.3" y2="961.5" stroke="#262626" stroke-width="1.3"/>
<line x1="378.9" y1="1030.7" x2="382.3" y2="1030.7" stroke="#262626" stroke-width="1.3"/>
<line x1="431.2" y1="1030.7" x2="431.2" y2="1034.1" stroke="#262626" stroke-width="1.3"/>
<line x1="460.8" y1="1030.7" x2="460.8" y2="1034.1" stroke="#262626" stroke-width="1.3"/>
<line x1="490.3" y1="1030.7" x2="490.3" y2="1034.1" stroke="#262626" stroke-width="1.3"/>
<line x1="519.9" y1="1030.7" x2="519.9" y2="1034.1" stroke="#262626" stroke-width="1.3"/>
<line x1="549.4" y1="1030.7" x2="549.4" y2="1034.1" stroke="#262626" stroke-width="1.3"/>
<text x="374" y="833.8" font-size="29.5" text-anchor="end" fill="#000">4</text>
<text x="374" y="903" font-size="29.5" text-anchor="end" fill="#000">2</text>
<text x="374" y="972.1" font-size="29.5" text-anchor="end" fill="#000">0</text>
<text x="374" y="1032.1" font-size="29.5" text-anchor="end" fill="#000">-2</text>
<path d="M664.9 970.2V970.2h1V973.7h1V969.2h1V964.5h1V973.8h1V972.7h1V973.1h1V967.8h1V969.4h1V969.5h1V966.5h1V972.4h1V975.3h1V962.2h1V974.7h1V970.7h1V972.8h1V957.4h1V970.6h1V976.8h1V972.5h1V970.9h1V969.5h1V975.9h1V970.1h1V969.9h1V976.1h1V969.5h1V966h1V971.8h1V968.4h1V969.5h1V975.4h1V976.1h1V981.9h1V973.2h1V966.4h1V965.4h1V964.4h1V965.2h1V972.4h1V972.4h1V969.7h1V968.6h1V974.4h1V969.6h1V967.6h1V975.8h1V966.2h1V893.8h1V874.1h1V941.3h1V980.4h1V990.7h1V996h1V986.8h1V986h1V980.1h1V968.5h1V980.9h1V970.6h1V977.6h1V980.2h1V965.5h1V968.3h1V961.3h1V959.3h1V960.8h1V959h1V953h1V949.2h1V951.3h1V955.7h1V950h1V953.4h1V945.2h1V943.5h1V962.9h1V949.4h1V842.6h1V860.4h1V958h1V984.1h1V982h1V984.7h1V989.4h1V988.6h1V984h1V974.1h1V978.9h1V982.5h1V981.3h1V976h1V978.9h1V968.5h1V957.5h1V949.6h1V955.3h1V939.9h1V940.5h1V941.7h1V941.4h1V931.9h1V936.8h1V932h1V918.1h1V931.4h1V952.7h1V874.2h1V831.4h1V916.9h1V978h1V981.1h1V985.8h1V987.1h1V982.8h1V982.3h1V981.8h1V972.9h1V968.4h1V977.4h1V966.5h1V969.4h1V968h1V965.3h1V964.3h1V957h1V959h1V947.2h1V943.8h1V953.7h1V948.9h1V941.8h1V930.5h1V932.1h1V928.6h1V947.7h1V961.2h1V844.6h1V850.8h1V956.8h1V984.2h1V980.8h1V988.7h1V978.6h1V982.6h1V979.9h1V971.6h1V983.1h1V971.9h1V976.1h1V968.5h1V967.1h1V961.7h1V968.4h1V967.1h1V960.9h1V951.2h1V958.8h1V946h1V949h1V954.1h1V943.7h1V939.5h1V933.4h1V940.3h1V957.3h1V895.8h1V837.7h1V909.1h1V964h1V988.5h1V988.9h1V988.2h1V976.4h1V985.1h1V982.5h1V975.8h1V979.4h1V979h1V970.3h1V973.2h1V966.6h1V953.1h1V959.5h1V954.8h1V947.3h1V961.1h1V955.4h1V960.7h1V954.2h1V943.1h1V945.9h1V945.4h1V936.8h1V941.3h1V943.8h1V949h1V950.3h1V950.9h1V955.6h1V952h1V954.9h1V959.9h1V958.6h1V960.3h1V954.1h1V968.9h1V964.9h1V970.2h1V969.8h1V966.3h1V972.7h1V966.1h1V968.1h1V968.2h1V955.3h1V970.5h1V976.9h1V967.1h1V975.5h1V970.3h1V971.8h1V969.5h1V970.6h1V969.4h1V973h1V984.2h1V980.6h1V976.8h1V972.8h1V967h1V966.2h1V977.2h1V971.7h1V971.8h1V978.4h1V975.7h1V972.4h1V978.9h1V975.2h1V972.4h1V978.2h1V977.8h1V973.4h1V973.2h1V999.7h-1V997.3h-1V1006.5h-1V996.3h-1V1001.1h-1V994h-1V1001.6h-1V1003.6h-1V995.5h-1V1009.6h-1V1007.5h-1V1001.4h-1V997.3h-1V996.8h-1V992.6h-1V995.9h-1V994.6h-1V1000.3h-1V1000.8h-1V998.3h-1V993.5h-1V1006.3h-1V995.7h-1V996.8h-1V998.5h-1V1006.3h-1V998.8h-1V999.6h-1V999.3h-1V1005.3h-1V993.6h-1V993.8h-1V998.1h-1V999.9h-1V993.8h-1V998.5h-1V993.7h-1V1002h-1V993.7h-1V992.2h-1V990.8h-1V992.6h-1V995.7h-1V992.4h-1V988.5h-1V990.8h-1V999.2h-1V990.1h-1V988.8h-1V993.8h-1V992.1h-1V998.1h-1V995.4h-1V986.5h-1V985.7h-1V995h-1V992.9h-1V994h-1V1003.9h-1V1001.2h-1V995.3h-1V1000.3h-1V1005.9h-1V1012.8h-1V1016.3h-1V1019.3h-1V1027.7h-1V1026.1h-1V1018.7h-1V1020.4h-1V1020.4h-1V1021.8h-1V1025h-1V1021.5h-1V1030.7h-1V1007.6h-1V953.1h-1V898.3h-1V943h-1V993.1h-1V990.4h-1V986.3h-1V989.7h-1V996.4h-1V996.9h-1V993.8h-1V993.6h-1V994.4h-1V994.5h-1V1001.1h-1V999.6h-1V1001h-1V999.9h-1V1003.6h-1V1014.9h-1V1020.2h-1V1030.7h-1V1030.7h-1V1022.8h-1V1019.8h-1V1023h-1V1026h-1V1025.7h-1V1028.2h-1V1027.5h-1V996.3h-1V908.8h-1V909.4h-1V998.5h-1V973.7h-1V972h-1V980.4h-1V984h-1V981.7h-1V984.5h-1V989.2h-1V986.2h-1V1006.5h-1V996.1h-1V999.1h-1V1002.5h-1V1005.1h-1V1011.2h-1V1021.1h-1V1016.4h-1V1018.9h-1V1019.2h-1V1023.2h-1V1022.1h-1V1021.5h-1V1024.4h-1V1026.9h-1V1029.8h-1V1024h-1V1013.9h-1V971.4h-1V889.6h-1V916.5h-1V981.2h-1V970.3h-1V968.2h-1V974.8h-1V975h-1V977.4h-1V987.2h-1V994.2h-1V990.2h-1V997.6h-1V999.8h-1V1000.6h-1V999.8h-1V1010.5h-1V1014.5h-1V1010.9h-1V1017.1h-1V1027.8h-1V1018.1h-1V1030.7h-1V1018.3h-1V1026.3h-1V1026.9h-1V1025.7h-1V1016.8h-1V1024.2h-1V993.8h-1V912.2h-1V896.7h-1V990.4h-1V991.4h-1V999.5h-1V990.2h-1V991.8h-1V999.5h-1V999.3h-1V994.3h-1V990.9h-1V1006.9h-1V998.9h-1V994.7h-1V1001h-1V1007.7h-1V1013.9h-1V1016.5h-1V1024.3h-1V1012.2h-1V1019.5h-1V1023.4h-1V1019.1h-1V1027.1h-1V1023.2h-1V1026h-1V1030.7h-1V1030.7h-1V1022.1h-1V977.9h-1V936.2h-1V946h-1V1000.5h-1V1003h-1V1001h-1V997.5h-1V995.2h-1V996.3h-1V995.9h-1V1001.5h-1V999.6h-1V993.1h-1V995.3h-1V993.7h-1V1004.7h-1V1008.8h-1V1008.6h-1V1003.4h-1V997.1h-1V998.6h-1V1001.4h-1V1000.6h-1V1004h-1V1003h-1V1003.4h-1V996h-1V992.6h-1V992.2h-1V992.3h-1V991.6h-1V999.9h-1V1000.8h-1V1002.3h-1V997.4h-1V1002.8h-1V1003.4h-1V1002.2h-1V1005.2h-1V1010.3h-1V1006.1h-1V1004.2h-1V998.4h-1V1001.1h-1V995.4h-1V991.9h-1V992.8h-1V996.7h-1V994.2h-1V991.8h-1V992.3h-1V1000.3h-1Z" fill="rgba(2,165,155,0.3)"/>
<path d="M665.4 985.9l1-2.8l1 1.1l1-0.4l1-0.5l1 1.6l1 0.6l1 1.4l1 0.3l1-0.6l1-1.7l1-0.1l1 2.4l1 0.7l1-0.3l1-0.3l1-1.5l1-3.4l1 2.4l1 4l1-1.3l1-2.8l1-0.6l1 1.6l1 0.2l1 1.1l1 0.1l1-0.7l1-1.2l1-1.8l1-0.1l1-0.1l1 0.7l1 2.4l1 2.4l1-2.1l1-3.6l1-0.7l1 1.3l1-0.2l1-0.5l1 1.9l1 1.2l1 0.5l1-1.5l1-0.7l1 1.2l1 1.7l1-3l1-55.7l1-9.8l1 40.4l1 36.5l1 10.9l1-1.1l1-3.3l1-3.4l1-0.6l1 1.7l1-2.6l1-1.9l1-1.6l1-1.3l1 1.7l1-3.1l1-2.9l1 0.2l1-3.1l1-1.9l1-0.4l1-3.2l1-0.8l1 1.8l1-1.7l1-1.3l1-0.2l1-0.8l1-2.3l1 3.4l1-96.4l1 15.2l1 82.2l1 22.8l1-0.8l1 2.5l1 1.5l1-3.9l1-4l1 1l1-0.6l1-2.5l1-2.3l1 0.6l1-0.2l1-4.8l1-1.8l1-0.2l1-2.3l1-3.9l1-5.5l1-2l1-0.3l1-3.9l1-2.7l1-0.6l1-2.3l1-2.7l1 11.7l1-66.8l1-32.1l1 71.7l1 46.7l1 12.3l1 2.7l1-1.3l1-3.2l1-2.2l1-0.6l1 0.5l1-2.1l1-2.2l1-0.2l1-3l1-1.2l1 0.3l1-3.4l1-4.3l1-1.6l1-3.1l1-2.3l1 0.1l1-4.1l1-4.7l1-2.1l1-1.4l1-4l1-1.5l1 23.9l1-95.8l1 4.2l1 86l1 28.1l1-0.6l1-0.9l1-3l1-1.9l1-0.2l1 1.3l1-0.7l1-2.6l1 0.7l1-2.2l1-5.2l1-1.9l1 1.1l1-1.3l1-0.6l1-1l1-5.3l1-3l1 2.3l1 1.1l1-4.6l1-4l1 1l1 1.6l1 2.2l1-50.5l1-44.4l1 54l1 54.9l1 15.9l1-1.9l1-1.4l1-1.4l1 0l1-2l1-2.6l1-1.2l1-1.8l1-1.3l1-0.1l1-0.1l1-3.8l1-5.5l1-3l1 2.1l1 1l1-3l1 0.2l1-2.4l1-1.9l1 1.2l1-1.8l1 0.2l1 0.8l1-0.2l1 1.2l1 0.7l1 2.3l1 0.5l1-2.6l1-0.4l1 1.1l1 0.7l1 0.1l1 1.1l1 2.6l1 1.8l1-2.4l1-1.5l1 1.5l1-0.7l1 0.7l1-0.1l1-0.9l1 1.2l1 1.2l1 2.3l1-1l1-0.1l1-0.2l1 1.9l1 1.8l1-4l1-0.2l1 2l1 1.3l1-0.4l1-3.4l1 0.4l1-1l1 0.8l1 2.5l1-2.1l1-1l1 2.5l1 0.6l1-0.1l1 0.7l1-1.7l1-0.4l1 0.5l1-0.7l1-1.8l1 2.5" fill="none" stroke="#02b0a8" stroke-width="3" stroke-linejoin="round"/>
<path d="M664.9 973V973h1V975.6h1V963h1V963.4h1V967.1h1V968h1V973.5h1V977.4h1V975.5h1V980h1V971.8h1V971.5h1V974.1h1V967.2h1V977.5h1V972.2h1V970.8h1V977.7h1V978.8h1V971.7h1V977.6h1V970.9h1V974.5h1V964.4h1V969.6h1V971.2h1V962.6h1V974.1h1V978.1h1V973.7h1V972.1h1V972.5h1V969h1V974.3h1V967h1V972.9h1V975h1V972.3h1V969.2h1V974.9h1V974.5h1V973.6h1V973.4h1V975.1h1V981.1h1V971.6h1V970.2h1V972.2h1V971.8h1V895.6h1V882h1V942.2h1V977h1V993.7h1V992h1V987.2h1V991.4h1V982.5h1V987.6h1V973.3h1V987.4h1V969.7h1V979.9h1V975.8h1V976h1V973.8h1V973.2h1V970.3h1V954.6h1V963.2h1V965h1V961.4h1V956.5h1V958.5h1V957h1V950.1h1V948.7h1V972.7h1V962.2h1V837.8h1V860.7h1V964.9h1V992.3h1V977.4h1V988.5h1V991h1V986.6h1V984.4h1V992h1V983.9h1V985.2h1V973.2h1V967.3h1V963.9h1V966.2h1V972.5h1V967.1h1V970.6h1V968h1V963.3h1V962.7h1V965.5h1V956.5h1V954.4h1V958.3h1V943.5h1V954.1h1V963.1h1V877.1h1V834.5h1V918.3h1V979.1h1V991.3h1V990.2h1V989.7h1V979.1h1V966.6h1V984.2h1V978.2h1V984.4h1V987.6h1V984h1V986.5h1V982.2h1V975.3h1V967.2h1V969.3h1V968.8h1V966h1V966.2h1V963.9h1V964.8h1V950.8h1V950.1h1V949.6h1V942.5h1V961.3h1V958.4h1V847.2h1V853.3h1V957.2h1V991h1V987.5h1V987.3h1V972.8h1V983.7h1V990.8h1V986.3h1V981.1h1V984.8h1V974.5h1V982h1V968.1h1V962.2h1V968.8h1V960.7h1V966.4h1V964h1V962.1h1V953.5h1V963.2h1V957.5h1V958.1h1V958.1h1V953.5h1V952h1V972.9h1V893h1V833h1V904.5h1V967.6h1V985.5h1V985h1V992.4h1V987.1h1V988.7h1V981.6h1V984.9h1V985.8h1V980.8h1V970.8h1V979.4h1V974.5h1V967.8h1V962h1V964.2h1V969.6h1V960.6h1V960.4h1V964.8h1V962.7h1V958.6h1V958.1h1V948.9h1V953.4h1V949.3h1V953.5h1V947h1V949.4h1V947.4h1V957h1V959.6h1V956.6h1V959.9h1V960.9h1V962.5h1V965.9h1V969.2h1V965.1h1V958.2h1V969h1V969.8h1V966.7h1V962.7h1V973.7h1V975.7h1V974.4h1V975.7h1V971.9h1V971.4h1V973.6h1V969.8h1V966.8h1V967.6h1V966.6h1V964.3h1V968.5h1V972.1h1V974h1V972.9h1V978.9h1V976.5h1V971.6h1V970.8h1V970.7h1V971.4h1V970.4h1V969.8h1V971h1V971.5h1V975.8h1V976.4h1V976.1h1V977.2h1V975.2h1V972.7h1V1003.1h-1V1004.9h-1V1000.3h-1V998.8h-1V1004.7h-1V1001h-1V997.3h-1V999.1h-1V996h-1V1000.3h-1V1002.6h-1V1001.2h-1V1008.6h-1V997.7h-1V995.5h-1V999.6h-1V999.1h-1V1000.5h-1V995.1h-1V995.6h-1V999.4h-1V1011.3h-1V998.3h-1V998.8h-1V1003.1h-1V1001.4h-1V994.2h-1V1003.1h-1V1000.8h-1V1007.9h-1V1001.4h-1V1002.3h-1V1001.7h-1V991.1h-1V991.1h-1V992.5h-1V990.4h-1V1012h-1V997.3h-1V1006.6h-1V993.7h-1V1003.4h-1V1002.1h-1V1003.8h-1V1001.3h-1V1000.9h-1V1001.2h-1V1005.6h-1V989.7h-1V995.5h-1V999.9h-1V1003.5h-1V997.2h-1V1011.3h-1V1004.2h-1V1003.1h-1V1012.4h-1V1010.7h-1V1003.6h-1V1003.3h-1V1014.2h-1V1012.1h-1V1016.9h-1V1017.4h-1V1030.7h-1V1018.2h-1V1025h-1V1028h-1V1030.4h-1V1028.9h-1V1030.7h-1V1030.7h-1V1030.7h-1V1030.7h-1V1029.3h-1V1015.6h-1V953h-1V897.7h-1V949.9h-1V991.7h-1V999.2h-1V998.1h-1V996h-1V996.8h-1V1002.6h-1V1003h-1V1004.8h-1V1003.1h-1V1007.9h-1V1010.1h-1V1012h-1V1006.5h-1V1010.4h-1V1029.3h-1V1019.5h-1V1016.4h-1V1020.6h-1V1026.7h-1V1029.6h-1V1024.2h-1V1028.6h-1V1030.7h-1V1030.7h-1V1030.7h-1V1030.7h-1V992.7h-1V909h-1V903.1h-1V1001.5h-1V991.3h-1V989.7h-1V1005.2h-1V996.9h-1V992.2h-1V996.2h-1V994h-1V1010.3h-1V1010.2h-1V1001.4h-1V1001.1h-1V1004.8h-1V1014.1h-1V1012.7h-1V1026.8h-1V1022.1h-1V1024.5h-1V1020.1h-1V1023.4h-1V1021.7h-1V1021.4h-1V1027.6h-1V1030.7h-1V1030.7h-1V1030.7h-1V1023.6h-1V959.5h-1V894h-1V933.9h-1V994.8h-1V997.9h-1V1014.5h-1V997.7h-1V999.5h-1V995.5h-1V1008.6h-1V1007h-1V1009.9h-1V1011.5h-1V1019.6h-1V1007.7h-1V1007.6h-1V1016.7h-1V1022.2h-1V1015h-1V1021.2h-1V1021.8h-1V1030.7h-1V1022.3h-1V1030.7h-1V1027.1h-1V1030.7h-1V1030.1h-1V1026.9h-1V1024.7h-1V1003.2h-1V915h-1V898.3h-1V1001h-1V994.4h-1V992.9h-1V1003.3h-1V1007.7h-1V1011.6h-1V1007.2h-1V1001.4h-1V1001.7h-1V1008.8h-1V1007h-1V1009.1h-1V1006.5h-1V1016.6h-1V1010.6h-1V1016.5h-1V1020.1h-1V1022.8h-1V1022.8h-1V1030.7h-1V1030.7h-1V1030.7h-1V1027.4h-1V1030.7h-1V1029.2h-1V1030.7h-1V1017.4h-1V979.2h-1V937.7h-1V949.9h-1V996.9h-1V997.9h-1V1000.8h-1V997.7h-1V994.8h-1V996h-1V1000.3h-1V996.7h-1V998.6h-1V995.7h-1V997.7h-1V1004h-1V999.3h-1V997.7h-1V1003.2h-1V997.7h-1V995.1h-1V1000.7h-1V996.3h-1V998.9h-1V1003.5h-1V998.7h-1V999.4h-1V1010.4h-1V1000.7h-1V1007.4h-1V994.6h-1V997.1h-1V992.9h-1V1002.8h-1V995h-1V999h-1V1000h-1V1002.8h-1V1002.2h-1V994.9h-1V997.2h-1V991.7h-1V994.8h-1V998.7h-1V1000.2h-1V1008.1h-1V1005.2h-1V995.4h-1V998.4h-1V992.4h-1V990.8h-1V991.6h-1V996.7h-1Z" fill="rgba(235,0,0,0.307)"/>
<path d="M665.4 985l1 0l1-1.2l1-0.3l1 1.7l1-0.2l1-1.1l1 3.6l1 0.1l1-1.5l1-1.6l1-1.8l1 2.2l1 0.3l1-2.2l1-0.2l1 3l1 1.2l1-0.5l1-0.1l1 0.2l1-0.5l1 0.7l1 2.3l1 1.3l1-1.2l1-1.7l1-1.2l1 1.4l1-1.7l1-1l1 1.9l1-0.4l1-0.2l1-1l1 0.5l1 1.6l1 1.4l1-2.4l1-1.1l1 2.1l1-0.3l1-1.8l1 1.2l1 0.6l1-1.9l1-0.5l1 1.4l1 2.5l1-55.3l1-11.1l1 38.5l1 38.9l1 13.3l1-3.8l1-3.4l1 1.6l1-0.7l1-4.9l1 0.2l1 1.1l1-2.7l1-0.7l1-3.4l1-2.1l1-0.7l1 0.5l1-2.3l1-2.6l1 1.6l1-2.6l1-1.6l1 1.2l1 0.4l1-1.1l1-0.9l1 0.2l1-1.1l1-1.1l1-100.2l1 12.3l1 84.4l1 27.2l1-2.2l1 2.7l1-0.4l1-0.8l1-1.5l1-1.1l1-0.5l1-2l1-0.5l1-3.3l1-1.6l1 0.2l1-1.7l1 0.4l1-1.1l1-3.3l1 0l1 0.6l1-2.2l1-3.8l1-0.5l1-0.3l1-0.9l1 0.2l1-1.8l1-73.8l1-31.3l1 66l1 53.1l1 11.9l1 0.3l1-1.9l1-3.2l1-1.9l1 0.4l1 1.8l1-1.2l1-1.4l1-0.9l1-0.3l1-3.1l1-3.5l1-1l1-1.8l1-0.1l1-0.7l1 0.2l1 0.7l1-2.5l1-2.8l1 1.5l1-0.4l1-4.9l1 1.2l1 5.2l1-99l1 1.2l1 81.8l1 33l1 5.9l1-2.3l1-4.5l1 1.1l1 0l1-2.3l1-1.4l1-0.8l1-0.3l1-1.1l1-0.1l1-3l1-3.8l1 0.3l1-0.9l1-0.8l1-1l1-2.7l1 0.4l1-1.5l1-2.8l1-0.7l1 3l1 1.1l1-2.5l1-53.2l1-49l1 51l1 57.2l1 16.5l1 0.8l1 0.5l1-0.7l1-0.5l1-2.2l1-0.7l1 0l1-4.1l1-1l1 0.2l1-0.9l1-3.3l1-0.9l1 1.1l1-2.6l1-3.2l1-0.6l1 0.5l1-1.1l1 0.2l1-0.9l1-0.7l1-0.5l1 0.4l1-1.1l1-1l1 0.2l1-2.2l1 3.8l1 2.4l1-2.5l1 0.5l1 0.8l1-2.1l1 0.9l1 2.1l1-4.3l1-0.9l1 1.3l1-1l1 1.2l1 2.6l1-0.1l1 0.5l1-0.4l1-0.6l1-0.8l1-1.8l1 3.9l1-0.5l1-1.1l1 1.2l1-2l1-1l1 0.6l1 0.2l1 0l1 2.5l1 0.2l1-3.7l1-0.7l1 0.9l1 1.8l1 3l1-2.2l1-2l1-0.1l1-0.7l1 0.4l1 1.9l1 1.3l1-0.6l1 0.1l1 1.2" fill="none" stroke="#f40000" stroke-width="3" stroke-linejoin="round"/>
<line x1="664.9" y1="807.6" x2="664.9" y2="1030.7" stroke="#262626" stroke-width="1.4"/>
<line x1="664.9" y1="1030.7" x2="911" y2="1030.7" stroke="#262626" stroke-width="1.4"/>
<line x1="661.5" y1="818.5" x2="664.9" y2="818.5" stroke="#262626" stroke-width="1.3"/>
<line x1="661.5" y1="874.1" x2="664.9" y2="874.1" stroke="#262626" stroke-width="1.3"/>
<line x1="661.5" y1="929.7" x2="664.9" y2="929.7" stroke="#262626" stroke-width="1.3"/>
<line x1="661.5" y1="985.3" x2="664.9" y2="985.3" stroke="#262626" stroke-width="1.3"/>
<line x1="713.8" y1="1030.7" x2="713.8" y2="1034.1" stroke="#262626" stroke-width="1.3"/>
<line x1="743.3" y1="1030.7" x2="743.3" y2="1034.1" stroke="#262626" stroke-width="1.3"/>
<line x1="772.9" y1="1030.7" x2="772.9" y2="1034.1" stroke="#262626" stroke-width="1.3"/>
<line x1="802.4" y1="1030.7" x2="802.4" y2="1034.1" stroke="#262626" stroke-width="1.3"/>
<line x1="832" y1="1030.7" x2="832" y2="1034.1" stroke="#262626" stroke-width="1.3"/>
<text x="656.6" y="829.1" font-size="29.5" text-anchor="end" fill="#000">6</text>
<text x="656.6" y="882.5" font-size="29.5" text-anchor="end" fill="#000">4</text>
<text x="656.6" y="938.6" font-size="29.5" text-anchor="end" fill="#000">2</text>
<text x="656.6" y="995.9" font-size="29.5" text-anchor="end" fill="#000">0</text>
<path d="M954.4 919.9V919.9h1V940.1h1V939.3h1V940.4h1V931.5h1V940h1V924.5h1V931.4h1V944.9h1V939.9h1V946.6h1V921.3h1V942.1h1V925.4h1V935.8h1V935.6h1V943.8h1V933.6h1V937.2h1V934.2h1V939.3h1V940.5h1V944h1V937.5h1V939.1h1V934.4h1V938.6h1V936.9h1V931.6h1V938.3h1V935.8h1V937.1h1V924.9h1V935.5h1V930h1V948.6h1V941.4h1V934.2h1V932.5h1V943h1V922.6h1V933.9h1V931h1V939h1V932.3h1V926.7h1V938.9h1V938.1h1V927.1h1V931.3h1V950.3h1V959h1V953.2h1V948.7h1V950.5h1V936.7h1V924.8h1V888.4h1V886.5h1V862.2h1V849.7h1V819.7h1V813.4h1V810.8h1V837.5h1V853.7h1V869.7h1V871.6h1V888.2h1V901.4h1V907.8h1V915h1V919.9h1V929.8h1V944.6h1V947.2h1V941.4h1V940.3h1V938.2h1V949.8h1V959.8h1V955h1V950.4h1V942.2h1V949h1V931.3h1V909.3h1V903.9h1V875.8h1V867.9h1V846h1V815.6h1V827.6h1V829h1V835.5h1V856.8h1V868.6h1V880.7h1V890.2h1V905.7h1V915.6h1V920.6h1V928.7h1V934.8h1V937.9h1V928.5h1V939.1h1V916.1h1V934.8h1V945.9h1V964h1V958.8h1V949.6h1V948.7h1V924.5h1V924.2h1V912.6h1V891.4h1V868.7h1V847.6h1V834.5h1V826.7h1V828.3h1V839.2h1V846.2h1V870h1V860.2h1V878h1V899.2h1V911.9h1V919.5h1V902.7h1V934.7h1V941.5h1V949.5h1V947.7h1V932h1V947h1V958.1h1V959.3h1V964.6h1V964.8h1V938.9h1V944.8h1V934.2h1V921.3h1V897.1h1V879.7h1V861.3h1V834.5h1V840.6h1V817.9h1V825.9h1V845.2h1V854.7h1V866.3h1V871h1V893.3h1V898.2h1V908.3h1V914.6h1V926.1h1V923.4h1V938.6h1V923.8h1V937.6h1V928.1h1V937.5h1V951h1V958.9h1V964.7h1V944h1V921.6h1V937.2h1V912h1V899.1h1V889.3h1V867.9h1V861.2h1V841.6h1V835.6h1V836.4h1V827.5h1V845.8h1V856.9h1V871h1V886.7h1V886.5h1V902.3h1V910.8h1V912.3h1V926.1h1V916.8h1V926.5h1V928.9h1V930h1V946.7h1V936.8h1V932.7h1V935.2h1V937.5h1V941.9h1V934.7h1V945.7h1V938.6h1V943.1h1V947.1h1V948h1V945.8h1V953.7h1V951.9h1V944.9h1V937.7h1V940.8h1V940.6h1V935h1V943h1V949.5h1V943.2h1V943.8h1V944.3h1V940.5h1V946.3h1V931.7h1V952.9h1V956h1V949.3h1V938.9h1V930.5h1V930.3h1V938.7h1V950.6h1V942.8h1V950.7h1V949.9h1V949.2h1V940.5h1V946h1V952.7h1V950.5h1V949.2h1V951.6h1V938.5h1V932.8h1V944h1V992.3h-1V978.6h-1V982.6h-1V999.8h-1V990.8h-1V987.4h-1V979.2h-1V980.7h-1V983.7h-1V978.8h-1V977.9h-1V981.4h-1V984h-1V987h-1V984.5h-1V977.7h-1V981.6h-1V983.8h-1V990h-1V982.8h-1V979.7h-1V992h-1V982h-1V973.3h-1V981.5h-1V970.8h-1V975.2h-1V981.1h-1V992h-1V980h-1V973.9h-1V980.8h-1V973.6h-1V974.6h-1V979.3h-1V986.8h-1V976.6h-1V979.7h-1V984.1h-1V977.5h-1V993.7h-1V990h-1V980.6h-1V989.9h-1V976.4h-1V974.8h-1V985h-1V987.3h-1V975.8h-1V980.6h-1V978.6h-1V994.6h-1V997.7h-1V987.6h-1V979.4h-1V975.6h-1V986.7h-1V967.9h-1V965.3h-1V958.8h-1V948.4h-1V938.9h-1V945.5h-1V939.5h-1V934.8h-1V935.3h-1V945.5h-1V954.5h-1V971.1h-1V975.1h-1V988.4h-1V999.6h-1V1021.7h-1V1007.4h-1V1013.2h-1V1003h-1V1003.6h-1V983.6h-1V982.5h-1V977.3h-1V994.2h-1V991h-1V1003h-1V983.8h-1V981.4h-1V986.8h-1V976.4h-1V978.8h-1V953.1h-1V952.2h-1V946.9h-1V951.9h-1V949.8h-1V936.7h-1V941.6h-1V950.6h-1V946.4h-1V975.5h-1V983.7h-1V1002.3h-1V1017.2h-1V1003.1h-1V1014.7h-1V1011.3h-1V1003.3h-1V1003.6h-1V989.5h-1V977.2h-1V973.4h-1V990.9h-1V1003.5h-1V997.6h-1V995.6h-1V977.8h-1V986h-1V974h-1V975h-1V956.5h-1V960.7h-1V949.3h-1V946.7h-1V939.5h-1V925.2h-1V940.4h-1V938.3h-1V951.6h-1V961.7h-1V969.6h-1V989.1h-1V995.7h-1V1006.9h-1V1005.3h-1V1006.2h-1V1003.5h-1V1006.9h-1V992.9h-1V988h-1V982.5h-1V996.7h-1V994.3h-1V992.6h-1V998.3h-1V987.4h-1V982.2h-1V974.9h-1V970.5h-1V965.6h-1V959.8h-1V965.1h-1V952.1h-1V943.6h-1V924.3h-1V919h-1V925.4h-1V946.9h-1V950.2h-1V964.4h-1V980.5h-1V991.6h-1V995.1h-1V1016.2h-1V1005.6h-1V1008.1h-1V1011.6h-1V1004h-1V990h-1V994.3h-1V1000.3h-1V987.3h-1V987.5h-1V995.3h-1V992.4h-1V982.5h-1V982.4h-1V989.8h-1V972.4h-1V969.1h-1V964h-1V960.3h-1V942.1h-1V923.8h-1V923.3h-1V909.9h-1V924.6h-1V948.9h-1V951.6h-1V963.7h-1V987.8h-1V1016.3h-1V1012.2h-1V1002.1h-1V1009.8h-1V1009.1h-1V1000.3h-1V992.9h-1V983.9h-1V975.9h-1V983.6h-1V975.1h-1V974.3h-1V971.3h-1V968.9h-1V971.2h-1V971.6h-1V983.8h-1V995.9h-1V971.2h-1V983.3h-1V971.4h-1V967.1h-1V964.9h-1V978h-1V978.2h-1V975.8h-1V991h-1V986.2h-1V987h-1V974.4h-1V964.6h-1V968.6h-1V975.2h-1V969.7h-1V973.2h-1V969.4h-1V966.4h-1V969.1h-1V965.7h-1V966.9h-1V968.1h-1V976.6h-1V977.3h-1V976.2h-1V967.7h-1V964.1h-1V966h-1V972.4h-1V971.5h-1V979.9h-1V979.9h-1V980.6h-1V974.7h-1V972.9h-1V976h-1V980.8h-1V975.3h-1Z" fill="rgba(2,165,155,0.3)"/>
<path d="M954.9 953.5l1 4.7l1-0.2l1-4.6l1 1l1 1.2l1-0.9l1-0.6l1 3.1l1 1.6l1-1.8l1-2l1 1.6l1 0.3l1-2.5l1 1.9l1 2.2l1-1.2l1-3l1-0.9l1-0.2l1 3.7l1 1.6l1-2.1l1-2.7l1 1.2l1-0.8l1 1.4l1 4.7l1-1.3l1-1.1l1-2l1-0.3l1-0.6l1-0.4l1 1.8l1 3.1l1 1l1-0.7l1 1.2l1-3.9l1-1.2l1 2.3l1-3.3l1-0.7l1 0.7l1 2.6l1 2.5l1-5l1 5.4l1 14l1 5.5l1-1.8l1-2.3l1-0.2l1-3.6l1-5l1-14.7l1-17.4l1-11.9l1-15.9l1-19.8l1-13l1 2.4l1 15.2l1 18.3l1 11.8l1 6.7l1 7l1 9.7l1 4.8l1 3.5l1 5.9l1 7.5l1 2.7l1-1.5l1-0.6l1-6.7l1 0.4l1 9.6l1 8.1l1 4.1l1-0.5l1-1.9l1-4.9l1-9.1l1-9.7l1-11.5l1-15.9l1-13.1l1-10.9l1-15.4l1-6.3l1 4.7l1 11.5l1 13.4l1 10.1l1 6.9l1 7.2l1 11.1l1 1.9l1 5.1l1 9.6l1 3.3l1 2.7l1-1l1-9.4l1-6.6l1 5.3l1 14l1 10.3l1-3.8l1-3.2l1 2.3l1-6l1-10.3l1-11.8l1-16.8l1-13.1l1-7.8l1-12.8l1-7.5l1-2.7l1 4.6l1 13.4l1 12.7l1 5.1l1 3.1l1 8.8l1 11.2l1 7.6l1 1.7l1 5l1 5.6l1 0l1-2.6l1-5.5l1 1.7l1 9.9l1 6.5l1 4.7l1-2.2l1-6.1l1-4l1-3.3l1-5.5l1-12.6l1-17.1l1-19.4l1-8.7l1-6.7l1-5.5l1 6l1 5.2l1 6.4l1 10.3l1 5.3l1 6.8l1 8.1l1 6.6l1 5.2l1 6l1 5.8l1 1.3l1-0.3l1-4.8l1-3.9l1 7.2l1 10.2l1 7.8l1 2.4l1-6.1l1-3.1l1-5.5l1-9.6l1-8.9l1-16l1-13.9l1-8.2l1-13.9l1-4.8l1 4.1l1 3.8l1 2.8l1 10l1 14.5l1 4.1l1 3.9l1 6.5l1 7.2l1 5l1-0.2l1-2.8l1 2.8l1-0.7l1-0.8l1 6.4l1 1l1-1.5l1 0.1l1-0.6l1-0.2l1 1.5l1 3.1l1 0.8l1-4.9l1-0.8l1 3l1 1.9l1 0.5l1-0.8l1-1.1l1-2.1l1-3.3l1 0.4l1 1.9l1 3.5l1 2l1-3.8l1-1.5l1-2.1l1 0.4l1 3.5l1 1.8l1 3.4l1 0.7l1-2.9l1-0.2l1-3.4l1-1.6l1 4.8l1-3.1l1 0.3l1 0.8l1-0.2l1 1.7l1 0.2l1 1.2l1-0.8l1 3.4l1-0.1l1-3.8l1-1.3l1-0.5l1 0.2" fill="none" stroke="#02b0a8" stroke-width="3" stroke-linejoin="round"/>
<path d="M954.4 940.3V940.3h1V946.9h1V939.3h1V940.7h1V935.3h1V933.3h1V934.6h1V930h1V933.4h1V940h1V927.7h1V939.2h1V926h1V945.2h1V931.5h1V942h1V931.9h1V938.8h1V941.8h1V936.5h1V938.2h1V936.7h1V934.9h1V938.8h1V933.5h1V942.4h1V935.6h1V938.5h1V931.6h1V927.9h1V939.3h1V938.1h1V926h1V936.2h1V929.6h1V932.7h1V938.5h1V926.6h1V938.9h1V942.2h1V940.2h1V940.2h1V937.2h1V938h1V933.9h1V936.2h1V936h1V937.9h1V938.1h1V945.9h1V961.9h1V978.7h1V964.3h1V968.1h1V952.6h1V938.8h1V937.6h1V901h1V879.9h1V874.4h1V848.9h1V826.5h1V808.9h1V809.5h1V828.3h1V847.4h1V867.9h1V876.1h1V885.7h1V910.3h1V922.4h1V929.2h1V941.8h1V954.4h1V949h1V962.4h1V949.6h1V944.6h1V946.2h1V965.8h1V971.4h1V965.5h1V959.8h1V937.8h1V943.6h1V942h1V915.6h1V901h1V879.1h1V865.2h1V846.2h1V814.4h1V807.6h1V821.5h1V839.2h1V849.1h1V876.9h1V884h1V898.4h1V911.5h1V924.5h1V928.6h1V933.2h1V936.6h1V956.8h1V964.8h1V958.9h1V954.4h1V947.1h1V970.6h1V977h1V980.8h1V969.4h1V951.7h1V951h1V936.4h1V903.1h1V877.6h1V858.4h1V855.3h1V824.1h1V832.3h1V819.1h1V823.5h1V844.4h1V859.4h1V884.3h1V876.5h1V906h1V914.9h1V921.9h1V926.3h1V933.8h1V948.4h1V949.5h1V951.5h1V955.5h1V960.8h1V967.4h1V969h1V955.7h1V969.6h1V956.9h1V951.2h1V934.7h1V931.5h1V893.6h1V883.2h1V862.8h1V844.4h1V824.1h1V824.6h1V827.6h1V823h1V852.9h1V860.1h1V885h1V889.7h1V906.5h1V910.2h1V914.2h1V921.1h1V932.8h1V942.2h1V950.3h1V954.9h1V931.5h1V940.7h1V956.2h1V976.4h1V982.2h1V976.7h1V951.8h1V950.6h1V940.6h1V913.8h1V892.8h1V870.1h1V846.6h1V832h1V822.9h1V834.9h1V829h1V851.7h1V865.3h1V885.9h1V893.8h1V904.3h1V918.4h1V909.8h1V922h1V928h1V934.7h1V945.3h1V942.3h1V942h1V935.5h1V941.1h1V937.4h1V941.2h1V946.6h1V948.8h1V940.4h1V946.2h1V950.9h1V944.6h1V941.1h1V953.7h1V954.1h1V945h1V947.7h1V951h1V949.6h1V955.4h1V960.3h1V953.5h1V948.1h1V938.9h1V935.7h1V952.7h1V957.6h1V956.3h1V940.4h1V945.4h1V956.6h1V958.7h1V959.2h1V948.2h1V937.4h1V935.4h1V947.7h1V943.8h1V952.5h1V944.4h1V947.5h1V947.9h1V949.2h1V945.8h1V939.4h1V935.8h1V951.2h1V944.9h1V945.8h1V933.9h1V940.8h1V986.3h-1V977h-1V977.7h-1V993.6h-1V981.4h-1V1001.3h-1V991.9h-1V991.8h-1V981h-1V985.2h-1V994.4h-1V980.7h-1V993.9h-1V983.6h-1V991.5h-1V978.7h-1V986.8h-1V983.5h-1V984.3h-1V985.8h-1V998.4h-1V977h-1V986.5h-1V982.8h-1V990.8h-1V984.9h-1V985.1h-1V985.1h-1V984.6h-1V990.2h-1V1007.1h-1V988.9h-1V995.4h-1V980.1h-1V983.3h-1V978.6h-1V987.4h-1V983.9h-1V983.8h-1V983.6h-1V976h-1V985.8h-1V987.2h-1V1000.3h-1V996.1h-1V984.8h-1V985.3h-1V991.4h-1V997.5h-1V992.7h-1V1001.3h-1V982.7h-1V984.7h-1V977h-1V980h-1V1000.8h-1V985.5h-1V969.5h-1V964.6h-1V970.6h-1V962.5h-1V948.7h-1V960.5h-1V929.7h-1V934.7h-1V937.9h-1V955.5h-1V968h-1V981h-1V989.7h-1V1001.5h-1V1000.9h-1V1022.3h-1V1023.4h-1V1020.6h-1V1023.4h-1V1003h-1V984.8h-1V989.6h-1V995.5h-1V996.5h-1V991.4h-1V995.8h-1V992.1h-1V982.7h-1V984.6h-1V977.4h-1V987.2h-1V964h-1V956.7h-1V946.7h-1V941.5h-1V927.8h-1V924.3h-1V926.1h-1V949.4h-1V953.5h-1V975.9h-1V986.9h-1V994.1h-1V1010.9h-1V1008.2h-1V1030.7h-1V1015.7h-1V1023.8h-1V1012.2h-1V998.3h-1V997.4h-1V988.2h-1V1000.2h-1V994.9h-1V994h-1V990.3h-1V983.3h-1V983.7h-1V998.3h-1V984.6h-1V956.7h-1V974.3h-1V955.6h-1V955.6h-1V932.4h-1V940.4h-1V927.8h-1V939.5h-1V943.6h-1V957.3h-1V979.4h-1V993.6h-1V1007.9h-1V1009.2h-1V1018.7h-1V1028.9h-1V1030.7h-1V1012.6h-1V1007.3h-1V984.4h-1V991h-1V990.4h-1V1008.8h-1V1012.4h-1V994h-1V990.9h-1V985.9h-1V1002h-1V980.2h-1V977.8h-1V969.2h-1V963.9h-1V949.1h-1V935.2h-1V914.9h-1V912.3h-1V923.8h-1V947.2h-1V967.6h-1V967.6h-1V991.9h-1V1005.8h-1V1006.6h-1V1015.1h-1V1008.6h-1V1007.4h-1V1024.2h-1V1022.3h-1V1000.7h-1V999.7h-1V995h-1V1002.3h-1V1005.4h-1V1000.6h-1V998.7h-1V995.4h-1V984.4h-1V985.4h-1V973.4h-1V967.9h-1V961.6h-1V954.6h-1V941.5h-1V941.3h-1V917.2h-1V917.7h-1V929.6h-1V944.5h-1V954.4h-1V970.9h-1V1007.8h-1V1010h-1V1013.3h-1V1008.9h-1V1013h-1V1015.9h-1V1020.7h-1V1019.1h-1V982.5h-1V977h-1V975.2h-1V981.3h-1V986.7h-1V970.8h-1V979.9h-1V976.8h-1V984.3h-1V970.4h-1V980.6h-1V975.5h-1V983.9h-1V985.3h-1V975.1h-1V969.6h-1V982h-1V969.5h-1V980.2h-1V980.9h-1V970.9h-1V974.9h-1V983.2h-1V975.4h-1V966.9h-1V969.1h-1V962.8h-1V978.8h-1V982.5h-1V975.3h-1V978.8h-1V982.5h-1V968.5h-1V972h-1V978h-1V974.8h-1V977.5h-1V969.8h-1V965.3h-1V968.4h-1V983.3h-1V979h-1V981.3h-1V975.9h-1V970h-1V969.8h-1V969h-1V979.8h-1V972.9h-1V969.6h-1Z" fill="rgba(235,0,0,0.307)"/>
<path d="M954.9 954.8l1 4.9l1-1.2l1-0.7l1-1.9l1-1.6l1 3.2l1-2.2l1-0.3l1 1.7l1 0.4l1-1.5l1 0.3l1 3.7l1-1.9l1-3.6l1 0.1l1 1.5l1 0.7l1 2.4l1-1l1-0.1l1 0.1l1-4.4l1 1.2l1 0.5l1 0.7l1 0.3l1 0.8l1-1l1-0.3l1 1.8l1-2.9l1 1.6l1 2.7l1 0.6l1-1l1-1.4l1 2.8l1-0.6l1-1.7l1-1.4l1-0.1l1-0.3l1 1.6l1 1.8l1-2l1-3.2l1 1l1 11l1 13.2l1 11.7l1 1l1-3.2l1-5.8l1-3.6l1-5.5l1-16.7l1-17.2l1-15.1l1-17.9l1-19l1-12.6l1 2.7l1 15l1 15.1l1 9.5l1 11.4l1 12.2l1 10l1 7.7l1 4.2l1 4.8l1 6.5l1 3.5l1 0.1l1-2.1l1-8.2l1 0.7l1 9.9l1 13.9l1 3.3l1-9.7l1-5.8l1-4.2l1-3.2l1-4.2l1-15.5l1-19.4l1-15.7l1-14.6l1-13.6l1-9.7l1 3.8l1 15.5l1 14.6l1 12.6l1 11.6l1 5.5l1 5.7l1 7.7l1 4.6l1 5.1l1 7.2l1 5.1l1 2.5l1-6.8l1-11.1l1 6.7l1 14.4l1 7.9l1 2.5l1-3.5l1-6.9l1-9.1l1-7.5l1-12.8l1-17.1l1-16.5l1-10.8l1-8.8l1-12.1l1-4.5l1 11.1l1 16.1l1 7.5l1 6.8l1 5.9l1 11.1l1 11.7l1 2.5l1 4.1l1 6l1 7.4l1 3.4l1-2l1-6.5l1 2.3l1 8.2l1 6l1 3.5l1 2.5l1-0.3l1-10.3l1-8.1l1-9.8l1-15.3l1-15.5l1-17l1-12.6l1-10.9l1-3.6l1 6.9l1 10.6l1 9.3l1 9.5l1 10.7l1 8.1l1 4.9l1 3.8l1 5.2l1 4.8l1 5.6l1 6.8l1 4.9l1-5.7l1-10.5l1 3l1 12.8l1 10.4l1 3.8l1-3.5l1-6.1l1-5.4l1-9.2l1-11.2l1-17l1-19.9l1-11.5l1-9.1l1-2.6l1-2.1l1 3l1 13.3l1 10.4l1 8.1l1 5.2l1 4.3l1 8.7l1 6.2l1-1l1 0.2l1 2l1 2.1l1 4.3l1 1.2l1-2.7l1 3.8l1 2.9l1-2.6l1 0.5l1 5.2l1-0.5l1-3.5l1-1.9l1-0.6l1 2l1-0.3l1-1.2l1 0.1l1 0l1 0.3l1 0.4l1 4.1l1 2.8l1-4l1-2l1 0.8l1 0.1l1-1.7l1 0.8l1 1.4l1-2.9l1-2.5l1 4.6l1 0.6l1-2.5l1-1.8l1-1.2l1 1.6l1 4.8l1 1.2l1-4.3l1 0l1 0.6l1-0.3l1-3l1-2.6l1 4.9l1 2.4l1-0.7l1 0.1l1-2.7l1 0.1l1 0.7" fill="none" stroke="#f40000" stroke-width="3" stroke-linejoin="round"/>
<line x1="954.4" y1="807.6" x2="954.4" y2="1030.7" stroke="#262626" stroke-width="1.4"/>
<line x1="954.4" y1="1030.7" x2="1199.8" y2="1030.7" stroke="#262626" stroke-width="1.4"/>
<line x1="951" y1="810.2" x2="954.4" y2="810.2" stroke="#262626" stroke-width="1.3"/>
<line x1="951" y1="883.4" x2="954.4" y2="883.4" stroke="#262626" stroke-width="1.3"/>
<line x1="951" y1="956.6" x2="954.4" y2="956.6" stroke="#262626" stroke-width="1.3"/>
<line x1="951" y1="1029.8" x2="954.4" y2="1029.8" stroke="#262626" stroke-width="1.3"/>
<line x1="1003.3" y1="1030.7" x2="1003.3" y2="1034.1" stroke="#262626" stroke-width="1.3"/>
<line x1="1032.8" y1="1030.7" x2="1032.8" y2="1034.1" stroke="#262626" stroke-width="1.3"/>
<line x1="1062.4" y1="1030.7" x2="1062.4" y2="1034.1" stroke="#262626" stroke-width="1.3"/>
<line x1="1092" y1="1030.7" x2="1092" y2="1034.1" stroke="#262626" stroke-width="1.3"/>
<line x1="1121.5" y1="1030.7" x2="1121.5" y2="1034.1" stroke="#262626" stroke-width="1.3"/>
<text x="946.1" y="829.2" font-size="29.5" text-anchor="end" fill="#000">4</text>
<text x="946.1" y="894.5" font-size="29.5" text-anchor="end" fill="#000">2</text>
<text x="946.1" y="967.2" font-size="29.5" text-anchor="end" fill="#000">0</text>
<text x="946.1" y="1032.1" font-size="29.5" text-anchor="end" fill="#000">-2</text>
<path d="M1244.7 938.9V938.9h1V939.3h1V934.2h1V942.8h1V944.7h1V937.2h1V935.4h1V941.4h1V950.8h1V947.9h1V940.5h1V933h1V938.2h1V934.9h1V932.9h1V943.2h1V934.9h1V940.9h1V940.6h1V924.3h1V936.4h1V942.3h1V941.4h1V936.4h1V922.3h1V938.5h1V939.9h1V939.5h1V935.8h1V939.1h1V936.3h1V917.5h1V943.6h1V942.4h1V944h1V928.7h1V940.4h1V941.3h1V948h1V942.2h1V938.8h1V930h1V937.8h1V936.2h1V939.1h1V928.8h1V935.5h1V932.4h1V921.9h1V934.3h1V944.5h1V948.5h1V954.1h1V960.3h1V950.5h1V939.6h1V930.6h1V932.7h1V905.8h1V883.6h1V872.8h1V863.2h1V844.3h1V830.3h1V837.8h1V849h1V860.6h1V873.3h1V872.9h1V890.6h1V899.3h1V909.2h1V907.9h1V933.2h1V932.3h1V940.4h1V942.1h1V943.8h1V951.1h1V951.3h1V961.1h1V961.1h1V962h1V969.1h1V933.4h1V943.4h1V934.1h1V921.4h1V897h1V881.5h1V868.7h1V847.5h1V852.1h1V851.3h1V847.9h1V863.8h1V869.2h1V874.5h1V889.7h1V893.5h1V913h1V925.2h1V933.3h1V934.9h1V934.4h1V946.1h1V957.7h1V946.7h1V937h1V946.5h1V962.1h1V955h1V962.1h1V944.4h1V952.5h1V941.6h1V932.2h1V923.8h1V898.6h1V883.9h1V865.3h1V845.1h1V853h1V843.7h1V842.9h1V858.4h1V860.8h1V878.1h1V878.7h1V876.9h1V909.6h1V916.9h1V907.3h1V923.9h1V936.1h1V929.7h1V947.1h1V950.6h1V956h1V958.8h1V964.1h1V956.1h1V946.6h1V942.8h1V934.1h1V937.8h1V927.9h1V897.7h1V882.8h1V875.6h1V861.2h1V852.9h1V834h1V842.1h1V858h1V868.6h1V863.7h1V886.7h1V891.8h1V906.7h1V910.6h1V923.9h1V919.7h1V943.7h1V945.3h1V936.9h1V956.8h1V958.6h1V965.1h1V964.4h1V969.7h1V959.3h1V953.3h1V943.4h1V942h1V936.5h1V914.1h1V893.4h1V866.8h1V856.8h1V856h1V844.2h1V852.7h1V853.8h1V860.7h1V877.5h1V877.1h1V899.9h1V914.9h1V926.5h1V936.5h1V932.9h1V935.1h1V937.7h1V938.5h1V943.3h1V943.3h1V930.2h1V936.7h1V929.6h1V941.7h1V944.5h1V926.3h1V943.7h1V934.7h1V945.9h1V941.3h1V939h1V929.8h1V932.6h1V944.1h1V933.2h1V944.7h1V934.5h1V938.7h1V939.2h1V931.6h1V944.2h1V926.7h1V945.9h1V933.1h1V945.5h1V946.2h1V938.5h1V938.7h1V945.2h1V935.2h1V935.8h1V939.7h1V946.8h1V939.9h1V948.6h1V941.8h1V942.5h1V940.8h1V940.6h1V939.2h1V931.3h1V950.6h1V942.9h1V945.2h1V949.9h1V951.6h1V953.3h1V938.9h1V948.4h1V979.2h-1V978h-1V982.5h-1V981.7h-1V977.8h-1V976.4h-1V973.5h-1V973.7h-1V975.6h-1V976h-1V978.1h-1V983.7h-1V990h-1V979.8h-1V982.9h-1V982.1h-1V973.6h-1V993.5h-1V988.3h-1V989.4h-1V986.4h-1V973.5h-1V971.1h-1V983.4h-1V971.8h-1V981.1h-1V980.7h-1V977.9h-1V973.3h-1V971.2h-1V971.3h-1V970.1h-1V978.1h-1V981.4h-1V977.9h-1V982.5h-1V975h-1V973.4h-1V973.4h-1V984.1h-1V973.5h-1V971.5h-1V971.7h-1V964.8h-1V981.5h-1V984.5h-1V980.5h-1V974.3h-1V976.1h-1V983h-1V982.5h-1V976.4h-1V979.4h-1V982.8h-1V986.3h-1V988.1h-1V994.5h-1V979h-1V976.9h-1V960.2h-1V964.1h-1V949.8h-1V948.3h-1V953.1h-1V955.1h-1V956.4h-1V958.3h-1V960.9h-1V974.2h-1V990.8h-1V1009.7h-1V1007.5h-1V1018.2h-1V1023.3h-1V1017h-1V1023.4h-1V1020.9h-1V1002.8h-1V1001h-1V992.2h-1V989.3h-1V984.9h-1V986.7h-1V981.1h-1V986.7h-1V993.7h-1V976.3h-1V970.9h-1V970.7h-1V956.7h-1V964.1h-1V960.2h-1V952h-1V954.7h-1V946.5h-1V950.7h-1V958.2h-1V980h-1V988.2h-1V1005.4h-1V1007.6h-1V1004.1h-1V1004.5h-1V1006.7h-1V1017.8h-1V1007.9h-1V1012.3h-1V988.4h-1V982.8h-1V982.8h-1V989h-1V1000.7h-1V982.3h-1V983.4h-1V975.1h-1V985.4h-1V971h-1V969.9h-1V963.7h-1V958h-1V957.5h-1V950.5h-1V941.6h-1V957.6h-1V962.7h-1V958.4h-1V978.5h-1V982.8h-1V998.9h-1V1012.7h-1V1006.5h-1V1015.8h-1V1011.7h-1V1026h-1V1017.7h-1V1018.8h-1V994.7h-1V987.8h-1V1009.6h-1V997h-1V987.4h-1V982.8h-1V985.5h-1V984.6h-1V979.2h-1V986.3h-1V975.2h-1V973.7h-1V980.7h-1V972h-1V972.6h-1V942.6h-1V944.9h-1V941.8h-1V949.2h-1V961.5h-1V975.7h-1V992.3h-1V1002h-1V1007.9h-1V1005.9h-1V1013.8h-1V1008.4h-1V1008h-1V1012h-1V1001.1h-1V1005.5h-1V995.4h-1V985.7h-1V998.4h-1V994.7h-1V976.7h-1V982.9h-1V976.9h-1V970.3h-1V968.8h-1V959.9h-1V969.6h-1V965.6h-1V968.1h-1V955.9h-1V954.3h-1V944.3h-1V951.1h-1V969.3h-1V978.7h-1V980.2h-1V999.2h-1V1010.9h-1V1007.4h-1V1022.3h-1V1010.4h-1V1010.3h-1V1013.8h-1V1000.1h-1V985.1h-1V979.3h-1V956.7h-1V973.4h-1V980.6h-1V973.6h-1V970.9h-1V976.5h-1V975.8h-1V981.4h-1V970.9h-1V995.5h-1V994.4h-1V973.2h-1V987.3h-1V979.9h-1V978.4h-1V972.4h-1V967.1h-1V978.9h-1V968.4h-1V973.6h-1V974.1h-1V976.5h-1V978.3h-1V973.6h-1V976.4h-1V965.8h-1V972.9h-1V974h-1V984.7h-1V979.1h-1V988.8h-1V973.3h-1V989.9h-1V984.4h-1V972.8h-1V980.9h-1V966.2h-1V973.8h-1V974.2h-1V965.9h-1V968.1h-1V970.1h-1V963.1h-1V999.9h-1V975.4h-1V972h-1V977.5h-1V975.5h-1V975.7h-1Z" fill="rgba(2,165,155,0.3)"/>
<path d="M1245.2 960.3l1-1.5l1-0.7l1-1.3l1 1.1l1-2.4l1-3.9l1 3.3l1 1.6l1-1l1-1.3l1-1.6l1-0.6l1 3.1l1 3.3l1-4.3l1-2.7l1 3.8l1-0.8l1-0.4l1 1.2l1-0.9l1 0.4l1-1.8l1 0.3l1 3.9l1-2.1l1-1.9l1 2.5l1-1l1-0.5l1-0.1l1 0.4l1 2.6l1 1.6l1-0.7l1-2.3l1 2.2l1 2.1l1-2.5l1-2.1l1 0.1l1 0.6l1 1.2l1 0.6l1-5.3l1 0.3l1 1.4l1-17.1l1 13.6l1 14.2l1 8.5l1 6.2l1 1.9l1-5.4l1-1.7l1-1.3l1-4.6l1-14.4l1-18.9l1-8.3l1-8.5l1-12.1l1-8.5l1-0.3l1 7.8l1 10.3l1 3.9l1 5.4l1 8.6l1 6.3l1 3.6l1 6.8l1 5.8l1 3.8l1 7.9l1 0.8l1-2.2l1 5.2l1 5.1l1 1.8l1 3.7l1 1.5l1-1.2l1-1.2l1-4.1l1-6.8l1-7.4l1-14.7l1-16.7l1-9.8l1-9.8l1-7.2l1-4.6l1 0l1 6.2l1 9.3l1 7.3l1 7.3l1 9.7l1 5.2l1 4l1 7l1 4l1 1.3l1 4.5l1 3.5l1 2.8l1-2.1l1 0.2l1 11.3l1 3.6l1-1.6l1-2.4l1-5.7l1-2.6l1-3.4l1-12.2l1-16.4l1-11.8l1-7l1-9.1l1-10l1-3.2l1 7.2l1 8.7l1 5.2l1 3.2l1 8.1l1 8.3l1 5.2l1 5l1 3.1l1 5l1 7.5l1 4.2l1-4l1 0.1l1 7l1 6.8l1 1.2l1-2.6l1-2.2l1-0.5l1-2.4l1-3l1-9.1l1-14.4l1-13.7l1-14.4l1-6.7l1-5.8l1-1.4l1 1.9l1 6.3l1 5.7l1 1.7l1 7.1l1 7.1l1 11l1 7.5l1-1.1l1 5.6l1 5.4l1-1.7l1 5.1l1 5.5l1 3.4l1 4.1l1 5.3l1 3.8l1-1l1-7.5l1-6.3l1-2.6l1-5.4l1-10.9l1-14.4l1-15.7l1-5.9l1-4.3l1-5.7l1 0.8l1 1.6l1-1.1l1 6.2l1 13.4l1 12.7l1 9.2l1 4.7l1 5.5l1-0.8l1-1.5l1-1.3l1 0.8l1 3.6l1-3.1l1-5.6l1 3.1l1 2.3l1 0.1l1-0.8l1-5l1 0.8l1 3l1-0.2l1 0l1 2l1-0.3l1-4.8l1 2.3l1 3.2l1-0.7l1 0.7l1-1.6l1-2.8l1 2.5l1 0l1-2.6l1 2.1l1 1l1-0.7l1 1.4l1-1.8l1 1.5l1 4.3l1-0.5l1 1.5l1-1.9l1-1.9l1 1.8l1 0.4l1-1.1l1-2.1l1 0.1l1 3.8l1-1.7l1-4l1 5.8l1 2.1l1-4.7l1-0.2l1 1.4l1-1l1-0.3l1 1.8" fill="none" stroke="#02b0a8" stroke-width="3" stroke-linejoin="round"/>
<path d="M1244.7 930.2V930.2h1V939.8h1V939.1h1V926.8h1V942.2h1V938.2h1V939.6h1V925.2h1V940.9h1V937.9h1V934.5h1V929.1h1V938.2h1V933h1V937.1h1V925.9h1V941.8h1V943.3h1V939.8h1V934.4h1V931.5h1V927.4h1V943.8h1V930.2h1V932.1h1V942h1V937.6h1V940.8h1V939.8h1V936.9h1V936.7h1V933.8h1V933.7h1V940.3h1V930.5h1V933.3h1V939.3h1V935.5h1V927.1h1V945.3h1V939.3h1V940.6h1V942.2h1V939.5h1V944.4h1V939.4h1V940.2h1V933.3h1V933.2h1V944.5h1V940.1h1V963.2h1V961.4h1V964.1h1V947.8h1V946.2h1V939.8h1V927.2h1V913h1V902.5h1V881h1V867.9h1V850.2h1V840.1h1V821.6h1V837.9h1V855.4h1V872.1h1V896.1h1V900.8h1V915.1h1V921.1h1V924.4h1V941.2h1V935.7h1V939.6h1V943.7h1V950.3h1V955.1h1V955.7h1V965.5h1V969h1V961.3h1V949.6h1V943.6h1V944.1h1V923.6h1V921.5h1V918.9h1V889.2h1V872.7h1V864.3h1V855.1h1V851.4h1V859.6h1V857.1h1V879.1h1V892.7h1V892.1h1V908.7h1V920.3h1V928.9h1V938h1V945.4h1V948.7h1V958h1V953.2h1V954.9h1V951h1V962h1V967h1V962.6h1V963.3h1V946.1h1V949.3h1V938.9h1V931.7h1V912.7h1V889.4h1V888.3h1V874.3h1V864.2h1V842.1h1V850.4h1V858.1h1V874.6h1V890.4h1V893.9h1V903.9h1V908.4h1V920.9h1V932.3h1V936.6h1V945.9h1V944.7h1V949.8h1V940.9h1V955.6h1V960.3h1V960.6h1V971h1V971.5h1V962.5h1V952.1h1V951h1V932.5h1V924.4h1V908.7h1V889h1V872h1V855.7h1V852.2h1V858.5h1V866.3h1V874.4h1V879.9h1V889.4h1V875.7h1V902.4h1V913h1V921.4h1V934.6h1V929.1h1V946.4h1V948.8h1V943.7h1V947.2h1V958.7h1V969.4h1V977.2h1V964.6h1V956.5h1V957.1h1V942.3h1V944h1V929h1V926.1h1V904.7h1V874h1V873.6h1V852.4h1V826.5h1V845.5h1V850.9h1V862h1V880.8h1V877.1h1V912.4h1V921.7h1V925.4h1V928.9h1V919.4h1V931.8h1V936.9h1V931.8h1V921.4h1V945.7h1V943.1h1V939.4h1V935.5h1V937.9h1V944.3h1V945.7h1V932.6h1V950.8h1V948.9h1V940.3h1V944.5h1V926h1V934.5h1V941.8h1V943.5h1V941.4h1V933.9h1V945.2h1V942.1h1V943.3h1V932.4h1V945.9h1V947.2h1V951.4h1V936.8h1V925.2h1V948.2h1V934.9h1V928.8h1V940.8h1V942.8h1V952.8h1V951.7h1V940.6h1V943.9h1V923h1V940.3h1V940.4h1V948.7h1V949.3h1V931.4h1V945.9h1V945.9h1V931.9h1V935h1V933h1V945h1V933.4h1V932.5h1V978.2h-1V981.9h-1V978.7h-1V994.9h-1V977.8h-1V972.9h-1V975.6h-1V979.8h-1V984.2h-1V976.7h-1V977.7h-1V980.2h-1V995.3h-1V980.1h-1V978h-1V976.8h-1V983.5h-1V991.4h-1V985.2h-1V973.7h-1V985.7h-1V975.4h-1V978.7h-1V982.9h-1V967.8h-1V991.8h-1V994.8h-1V978.3h-1V981.5h-1V977.6h-1V985.2h-1V971.4h-1V979h-1V981.3h-1V979h-1V980h-1V979.6h-1V992.1h-1V982.3h-1V977.7h-1V988.2h-1V979.8h-1V977.9h-1V988.8h-1V977.6h-1V975.1h-1V983.1h-1V983h-1V992.1h-1V988.7h-1V973.5h-1V978h-1V978.5h-1V982.8h-1V1006.9h-1V992.2h-1V998.4h-1V982.2h-1V993.6h-1V971.1h-1V964.2h-1V955.1h-1V961h-1V947.4h-1V953.2h-1V954.4h-1V959.7h-1V961.6h-1V982.2h-1V999.6h-1V1004.3h-1V1007.5h-1V1021.8h-1V1030.4h-1V1018.1h-1V1030.7h-1V1029.5h-1V1004.7h-1V999.5h-1V989.7h-1V988h-1V997.3h-1V1010.5h-1V998.6h-1V995.2h-1V985.4h-1V987.9h-1V972.2h-1V981.5h-1V969.9h-1V966.5h-1V960.8h-1V952.8h-1V950.7h-1V953.4h-1V956.2h-1V963.5h-1V981h-1V1001.2h-1V1000.2h-1V1014.9h-1V1027.9h-1V1030.3h-1V1027.9h-1V1017.2h-1V1021.9h-1V1018.3h-1V997.9h-1V988.3h-1V988.4h-1V1006.9h-1V1001.7h-1V995.4h-1V990.4h-1V998.4h-1V982.4h-1V991.6h-1V979.4h-1V980.9h-1V984.5h-1V968.8h-1V944.9h-1V944.2h-1V944.1h-1V962.4h-1V962.7h-1V969.9h-1V994.3h-1V996.6h-1V1011.7h-1V1018.5h-1V1010.3h-1V1011.9h-1V1021h-1V1018.7h-1V1028.3h-1V1007.8h-1V1004.3h-1V1003.9h-1V1010h-1V1000.8h-1V1001h-1V1006.3h-1V1000.3h-1V999h-1V990.5h-1V991.4h-1V971.8h-1V976.7h-1V966.5h-1V956h-1V957.2h-1V947h-1V950.6h-1V959.2h-1V964.9h-1V986.6h-1V1004.2h-1V1014.4h-1V1010.3h-1V1020.1h-1V1014.9h-1V1017.1h-1V1016.3h-1V1015.8h-1V1008.3h-1V1003.4h-1V998.6h-1V1001.8h-1V1001h-1V997.6h-1V1001.7h-1V998.3h-1V990.8h-1V993.9h-1V986.9h-1V974.7h-1V993.1h-1V972.3h-1V958.2h-1V950.7h-1V937.6h-1V957.4h-1V964.6h-1V967.5h-1V985.9h-1V985.4h-1V997.2h-1V1002.6h-1V1015.5h-1V1019.3h-1V1016.5h-1V1025.3h-1V1020.3h-1V1016.8h-1V994.8h-1V1003.8h-1V969.1h-1V970.9h-1V976.9h-1V985.1h-1V969.4h-1V977h-1V980.1h-1V975.5h-1V978.9h-1V981h-1V980h-1V968.9h-1V965.6h-1V968h-1V969.3h-1V974.7h-1V973h-1V968.3h-1V977.9h-1V968.8h-1V975h-1V982.8h-1V992.5h-1V985.8h-1V974.1h-1V976h-1V973.1h-1V965.9h-1V963.6h-1V966h-1V983h-1V974.1h-1V983.3h-1V974.8h-1V972h-1V969.5h-1V974.7h-1V974.1h-1V969.4h-1V969.7h-1V971.6h-1V973h-1V976h-1V976h-1V974.4h-1V968.7h-1V976.1h-1V970.9h-1V964.5h-1Z" fill="rgba(235,0,0,0.307)"/>
<path d="M1245.2 949.6l1 2.5l1 1l1 1.9l1 1.3l1 1.2l1-1.8l1 1.7l1 1.1l1-1.1l1-0.8l1-1.9l1 2.2l1-2l1 1l1 2.2l1 0.8l1 1.8l1-5.2l1-5.5l1-0.7l1 3l1 5.7l1-1l1 0.2l1 1.6l1-5.3l1 1.4l1-1.2l1-1.8l1 4.7l1-2.2l1 0.6l1 3.2l1-2.9l1-1.6l1 2.3l1-1.8l1 2.1l1 0.6l1-3.6l1 0.5l1 3.3l1 0.4l1-3.3l1-2.8l1 0l1-3l1 2l1 12l1 12.8l1 14.5l1 0l1-2.9l1-1.8l1 1.7l1-5l1-12.5l1-9.6l1-11.5l1-16.7l1-14.1l1-12l1-9.4l1 0.1l1 13.5l1 12.1l1 7.8l1 10.8l1 4.4l1 7.9l1 6.2l1 2.5l1 6.6l1 6.4l1 3.5l1-1.1l1 0.2l1 2.2l1 3.5l1 2.2l1 3.4l1 2l1-5.6l1-1.9l1-2.5l1-6.3l1-4.9l1-11.9l1-19.7l1-12.2l1-8.4l1-10.8l1-0.6l1 6.1l1 5l1 13.4l1 6.1l1 2.1l1 12.3l1 6.9l1 3.4l1 3.6l1 3.1l1 6.9l1 3l1-1.8l1 2.3l1 4.9l1 5.2l1 1.2l1-0.6l1-0.1l1-7l1-1l1 0.3l1-8.4l1-11.1l1-12.8l1-14.2l1-12.2l1-11.6l1-6.1l1-2.4l1 7.4l1 12.9l1 8.5l1 2.6l1 11.5l1 7.1l1 0.1l1 7.9l1 6l1 4.5l1 4.1l1 0.8l1-1.5l1 0.5l1 6.4l1 9.2l1-0.6l1-0.4l1 2.9l1-4.5l1-4.9l1-6.5l1-12.1l1-12.2l1-11.8l1-12.8l1-9.6l1-4.2l1-1.8l1 3.5l1 8.4l1 4.6l1 5l1 5.8l1 5.9l1 5.8l1 4.7l1 8.9l1 5.4l1 4.5l1 4l1-5.1l1-1.9l1 7.1l1 6.3l1 5.3l1 1.5l1-1.5l1-1.6l1-4.7l1-7.1l1-5l1-8.3l1-16.5l1-14.5l1-7.2l1-9.6l1-8.4l1-3.5l1 5.8l1 9.2l1 12.2l1 10.5l1 9.9l1 5.7l1-0.1l1 3.9l1 0l1 0l1-2l1-2.9l1 3.7l1 2.8l1-1.5l1-5.9l1-0.8l1 6.7l1 1.7l1 1.6l1-3.9l1 2.5l1 4.6l1-3.6l1-1.3l1-3l1 0.5l1 0.5l1 0.1l1 3l1-3.2l1 1.3l1 4.8l1-1.9l1-3.2l1 0.3l1 1.7l1-1.6l1-3.8l1 2.3l1 3.5l1-0.6l1 0.2l1-4.2l1 1.1l1 7.1l1 0l1-6l1-0.2l1 3.3l1-1.2l1 0.2l1 0.3l1 0.3l1-0.5l1-1.7l1-1.6l1-1.4l1-2l1 2.9l1 5.2l1-2.6l1-0.8" fill="none" stroke="#f40000" stroke-width="3" stroke-linejoin="round"/>
<line x1="1244.7" y1="807.6" x2="1244.7" y2="1030.7" stroke="#262626" stroke-width="1.4"/>
<line x1="1244.7" y1="1030.7" x2="1491" y2="1030.7" stroke="#262626" stroke-width="1.4"/>
<line x1="1241.3" y1="808.2" x2="1244.7" y2="808.2" stroke="#262626" stroke-width="1.3"/>
<line x1="1241.3" y1="881.8" x2="1244.7" y2="881.8" stroke="#262626" stroke-width="1.3"/>
<line x1="1241.3" y1="955.4" x2="1244.7" y2="955.4" stroke="#262626" stroke-width="1.3"/>
<line x1="1241.3" y1="1029" x2="1244.7" y2="1029" stroke="#262626" stroke-width="1.3"/>
<line x1="1293.6" y1="1030.7" x2="1293.6" y2="1034.1" stroke="#262626" stroke-width="1.3"/>
<line x1="1323.2" y1="1030.7" x2="1323.2" y2="1034.1" stroke="#262626" stroke-width="1.3"/>
<line x1="1352.7" y1="1030.7" x2="1352.7" y2="1034.1" stroke="#262626" stroke-width="1.3"/>
<line x1="1382.3" y1="1030.7" x2="1382.3" y2="1034.1" stroke="#262626" stroke-width="1.3"/>
<line x1="1411.8" y1="1030.7" x2="1411.8" y2="1034.1" stroke="#262626" stroke-width="1.3"/>
<text x="1236.4" y="829.2" font-size="29.5" text-anchor="end" fill="#000">4</text>
<text x="1236.4" y="891.6" font-size="29.5" text-anchor="end" fill="#000">2</text>
<text x="1236.4" y="966" font-size="29.5" text-anchor="end" fill="#000">0</text>
<text x="1236.4" y="1032.1" font-size="29.5" text-anchor="end" fill="#000">-2</text>
<path d="M93 1119.3V1119.3h1V1131.1h1V1135h1V1124.2h1V1134.2h1V1136.5h1V1119.9h1V1127.5h1V1133.6h1V1126.6h1V1125.5h1V1127.1h1V1136.1h1V1135.6h1V1137.9h1V1134h1V1134.6h1V1135h1V1119.8h1V1122.9h1V1136.4h1V1135.6h1V1122.1h1V1135.1h1V1116.1h1V1121.8h1V1124.3h1V1117.3h1V1121.4h1V1111.7h1V1125.7h1V1123.4h1V1120.5h1V1107h1V1127.5h1V1123.9h1V1129.6h1V1130.6h1V1128.6h1V1136.1h1V1132.9h1V1137.3h1V1145.9h1V1145h1V1142.2h1V1142.8h1V1149h1V1135.1h1V1137h1V1145.4h1V1148.1h1V1134.5h1V1121.1h1V1123.3h1V1128.5h1V1124.2h1V1127.7h1V1129.3h1V1128.7h1V1124.3h1V1135.5h1V1132.5h1V1137h1V1143h1V1157.1h1V1154.4h1V1151.5h1V1161.9h1V1168.2h1V1172.4h1V1168.6h1V1165.5h1V1160.4h1V1160.7h1V1154.2h1V1164.3h1V1165.3h1V1163.5h1V1171.8h1V1168.7h1V1170.5h1V1176.9h1V1181.8h1V1179.4h1V1174.2h1V1176.7h1V1177.9h1V1186.3h1V1174.6h1V1179.5h1V1182.9h1V1177.8h1V1174.1h1V1169h1V1163.2h1V1165.6h1V1169h1V1165h1V1163.2h1V1155.5h1V1157.5h1V1158.5h1V1148.9h1V1155.9h1V1158.6h1V1156.2h1V1160.4h1V1159.9h1V1153.2h1V1155.6h1V1158.7h1V1157.5h1V1159.5h1V1163.9h1V1157.3h1V1147.2h1V1157.2h1V1163.6h1V1165h1V1160.5h1V1159.3h1V1151.9h1V1153.2h1V1169.4h1V1169.5h1V1159.8h1V1157h1V1158.3h1V1161.5h1V1154.2h1V1153.4h1V1155.7h1V1161.3h1V1156.7h1V1149.6h1V1146.9h1V1141.2h1V1151.7h1V1146.5h1V1151.6h1V1148.1h1V1156h1V1151.3h1V1153.3h1V1139.4h1V1155.8h1V1147.8h1V1147.2h1V1148h1V1138h1V1151.7h1V1152.7h1V1144.4h1V1143.1h1V1145.2h1V1160.1h1V1154.5h1V1158.8h1V1145.6h1V1159.8h1V1154.9h1V1146.1h1V1147.4h1V1152.1h1V1158h1V1143.1h1V1148.7h1V1142.1h1V1138.5h1V1140.3h1V1140.3h1V1148.4h1V1148.1h1V1139.7h1V1144h1V1129.6h1V1138.5h1V1129.1h1V1143.9h1V1140.2h1V1142.3h1V1134.1h1V1136.8h1V1137.4h1V1139.8h1V1140.1h1V1138.9h1V1134.3h1V1123.3h1V1126.4h1V1138h1V1143.8h1V1141.1h1V1144.9h1V1146.4h1V1143.1h1V1135.2h1V1147h1V1142.3h1V1129.8h1V1149.7h1V1150.8h1V1140.5h1V1146.1h1V1142.4h1V1154.8h1V1143.5h1V1144.1h1V1149.2h1V1154.1h1V1155.8h1V1149.9h1V1153.6h1V1140.7h1V1154.9h1V1154.1h1V1155.2h1V1153.8h1V1144.9h1V1148.6h1V1149.6h1V1142.9h1V1145.6h1V1133h1V1135.8h1V1153.7h1V1143.1h1V1134.8h1V1150.5h1V1145.1h1V1149h1V1145.4h1V1136.1h1V1143.4h1V1143.5h1V1144.9h1V1140.4h1V1142.4h1V1139.3h1V1149.8h1V1151.9h1V1151.4h1V1158.6h1V1154.3h1V1147.8h1V1150.3h1V1298.6h-1V1302.5h-1V1301.7h-1V1298.7h-1V1303.1h-1V1308.5h-1V1299h-1V1296h-1V1288.9h-1V1287.6h-1V1290.1h-1V1298.7h-1V1293.2h-1V1293.5h-1V1288.2h-1V1293.9h-1V1294.8h-1V1294.9h-1V1289.6h-1V1293.9h-1V1295.2h-1V1306.7h-1V1296.6h-1V1297.3h-1V1294.1h-1V1293.6h-1V1294h-1V1299h-1V1304.9h-1V1297.6h-1V1310.3h-1V1304h-1V1296h-1V1300.4h-1V1298.1h-1V1298.7h-1V1300.1h-1V1293.8h-1V1288.2h-1V1299h-1V1295.6h-1V1296.2h-1V1293.6h-1V1291.9h-1V1303.9h-1V1298.7h-1V1286.2h-1V1298.3h-1V1292.4h-1V1280h-1V1285.4h-1V1301.5h-1V1292.5h-1V1286.5h-1V1289.5h-1V1292.1h-1V1294.3h-1V1280.2h-1V1281.2h-1V1295.9h-1V1286.8h-1V1283.5h-1V1291.3h-1V1302h-1V1285.3h-1V1288.8h-1V1287.6h-1V1300.2h-1V1285.5h-1V1304.8h-1V1297.2h-1V1287.6h-1V1289.9h-1V1308.9h-1V1295.8h-1V1288h-1V1294h-1V1295.8h-1V1293.9h-1V1303.9h-1V1290.9h-1V1294.5h-1V1295.3h-1V1300.5h-1V1304.2h-1V1306.5h-1V1303.4h-1V1308.9h-1V1299.7h-1V1310.5h-1V1304.4h-1V1307h-1V1300.7h-1V1298.8h-1V1305.7h-1V1310.6h-1V1295.3h-1V1296.5h-1V1305.3h-1V1305.4h-1V1303h-1V1307.8h-1V1302.9h-1V1307.8h-1V1303.6h-1V1307.4h-1V1300h-1V1296.2h-1V1294.6h-1V1307.8h-1V1311.6h-1V1311h-1V1310.2h-1V1309.1h-1V1304.3h-1V1304.4h-1V1310h-1V1309.4h-1V1309.6h-1V1309.1h-1V1306.1h-1V1316.6h-1V1309.8h-1V1315.9h-1V1317.8h-1V1314.1h-1V1308.8h-1V1308.7h-1V1310.3h-1V1307.4h-1V1305.6h-1V1312.2h-1V1320.9h-1V1318.7h-1V1318.7h-1V1307.7h-1V1304.7h-1V1307.1h-1V1311.4h-1V1309.9h-1V1308.9h-1V1307.3h-1V1305.4h-1V1311.6h-1V1300.1h-1V1301.4h-1V1302.9h-1V1317.3h-1V1314.4h-1V1321.6h-1V1317.4h-1V1320.2h-1V1311.7h-1V1315.2h-1V1319.5h-1V1331.3h-1V1320.7h-1V1325.9h-1V1329.6h-1V1327.4h-1V1315.5h-1V1314.2h-1V1317.3h-1V1316.3h-1V1324.1h-1V1326.5h-1V1313h-1V1322.4h-1V1313.2h-1V1319.2h-1V1314.4h-1V1310.1h-1V1311.4h-1V1304.3h-1V1303.9h-1V1310.7h-1V1306.4h-1V1310.1h-1V1306.1h-1V1306h-1V1300.1h-1V1301.2h-1V1294h-1V1287.9h-1V1281.2h-1V1285.6h-1V1282.6h-1V1271.6h-1V1271.4h-1V1269.4h-1V1274.6h-1V1282.6h-1V1274.7h-1V1277.1h-1V1289.6h-1V1296.1h-1V1295.2h-1V1288.9h-1V1281.9h-1V1298.2h-1V1301.7h-1V1298.4h-1V1303.4h-1V1293.7h-1V1294.1h-1V1291.8h-1V1288.6h-1V1298.2h-1V1281.6h-1V1281.8h-1V1279.6h-1V1281.6h-1V1283.5h-1V1278.6h-1V1288.5h-1V1281.6h-1V1276.9h-1V1281h-1V1280.5h-1V1280.9h-1V1299.3h-1V1288.4h-1V1284h-1V1290h-1V1288.6h-1V1288.6h-1V1278.7h-1V1281.9h-1V1287h-1V1292.3h-1V1280.7h-1V1282.3h-1V1285.8h-1V1281.6h-1V1286.9h-1V1285.4h-1V1282.8h-1V1278.1h-1V1278.6h-1V1275.4h-1V1276.3h-1V1276.7h-1V1272h-1V1272.4h-1V1279.8h-1V1280.6h-1Z" fill="rgba(2,165,155,0.3)"/>
<path d="M93.5 1209.9l1 0.5l1-0.5l1-3.6l1 0.2l1 0.8l1-1.3l1 3.2l1 1.3l1-0.2l1-2.8l1-1.1l1 4.5l1 0l1 1.8l1-0.1l1-1.1l1 0.9l1-3.1l1-1.7l1 3.3l1-1.3l1-0.2l1 2.9l1-3.3l1 1.2l1-2.9l1-3.7l1 4.1l1-3.5l1 1.3l1 2.9l1-3.6l1 3.1l1 0l1-3.5l1 2.1l1 2.4l1 3.8l1-0.5l1-2.4l1 5.2l1 6.6l1 3.4l1-2.3l1 2.3l1-0.5l1-11.8l1-3l1 8.4l1 2.7l1-7.9l1-9.1l1-1.2l1-1.4l1-2.1l1 1.8l1-3.3l1 1l1 2.3l1 5.9l1 6.2l1 1.7l1 9.3l1 0.8l1-1.6l1 6.6l1 5.2l1 4.1l1 2.2l1-0.4l1-1.2l1 1.9l1 3.6l1 2.5l1 1.1l1 1.8l1 2.8l1-0.9l1 1.4l1 2.8l1 2.2l1 0.8l1-0.2l1 0.8l1 1.1l1 3.6l1 2.3l1-4l1 0.2l1 0.3l1-8.4l1-1l1 2.4l1-4.9l1 2l1 1.8l1-5.6l1-1.1l1-2.3l1-7.4l1 1.6l1 3l1-3.4l1 4l1 0.6l1 0.4l1 2.3l1-4.6l1-2.1l1 0.4l1 2.6l1 0l1-0.7l1 0.1l1-1l1-0.9l1 2.3l1-0.3l1-2.9l1 0.6l1-0.8l1 2.3l1 2.3l1 0l1-2.8l1-1.3l1 0.9l1 0.5l1-2.5l1-4.8l1-0.4l1 2l1-3l1-6l1-0.2l1 0.1l1-1.7l1 2l1 4.5l1 2.6l1-1.4l1 1.4l1-2l1-5.3l1 1.7l1-0.2l1-3.7l1 1.3l1 3.5l1 3.3l1 0.7l1-4.3l1-0.4l1 1.4l1 2l1 1.4l1-1.6l1 0l1 2.4l1-0.2l1-7.1l1-1.5l1 4.3l1-0.2l1-2.2l1 1.2l1 0.2l1-2.4l1-3.6l1-4l1 5.2l1 1.3l1-4l1-0.9l1 1.5l1-3.1l1-2.4l1 4.2l1-1.3l1-1.8l1-1.3l1-0.6l1-0.8l1-1.1l1 3.2l1-2l1-5.4l1 2.3l1 2.8l1 3.5l1-0.5l1-1.2l1 5.6l1 2.7l1-2.9l1-4.1l1 5.3l1-0.5l1-3.1l1 5.6l1 3.4l1-2.7l1 1.9l1 6l1-1.4l1-4.2l1-2.2l1 2.4l1 2.9l1-2.1l1-0.4l1 0.9l1-0.3l1 5.9l1-1.1l1-2l1 3.1l1-6.2l1-1.6l1 3l1-0.5l1 2.3l1-4.5l1-0.2l1 4.7l1-5.1l1-0.1l1 3.2l1-1l1 0.7l1-0.2l1-1l1 3.1l1 0.4l1-2.6l1-4.6l1 1.8l1 4.7l1 1.6l1 4.9l1 1.1l1-0.6l1-1l1-3.1l1-0.6" fill="none" stroke="#02b0a8" stroke-width="3" stroke-linejoin="round"/>
<path d="M93 1133.6V1133.6h1V1134.4h1V1121.5h1V1135.2h1V1134.6h1V1134.4h1V1127.9h1V1122.3h1V1117.7h1V1125.3h1V1130.2h1V1133.5h1V1130.4h1V1142.9h1V1144.9h1V1146.1h1V1148.7h1V1150.4h1V1144.1h1V1147.5h1V1148.6h1V1142.2h1V1149.1h1V1146.8h1V1151.2h1V1145.9h1V1147.9h1V1147.9h1V1144.3h1V1147.8h1V1144.7h1V1150.9h1V1146h1V1138.6h1V1148h1V1155.8h1V1154.4h1V1155.2h1V1158.3h1V1150.7h1V1141.7h1V1155.4h1V1144.7h1V1153.7h1V1152.9h1V1151.1h1V1153.1h1V1150.5h1V1145.4h1V1152.7h1V1147.3h1V1152h1V1152.9h1V1147.6h1V1149.2h1V1145.8h1V1153h1V1155.8h1V1151.1h1V1155.4h1V1151.1h1V1147.9h1V1147.9h1V1154.8h1V1157.5h1V1147.8h1V1156.8h1V1139.7h1V1145h1V1144.3h1V1148.2h1V1150.2h1V1160.2h1V1159h1V1153.7h1V1157.5h1V1160.3h1V1158.3h1V1158.4h1V1163.3h1V1171.6h1V1164.4h1V1169.6h1V1167h1V1166.3h1V1159h1V1156.4h1V1159.2h1V1158.5h1V1148.8h1V1156.4h1V1156h1V1156.6h1V1150.3h1V1163.3h1V1169h1V1173.6h1V1166.5h1V1160.9h1V1160.7h1V1159.5h1V1158h1V1150.1h1V1143.6h1V1147.5h1V1151.5h1V1148.4h1V1151.8h1V1152.8h1V1147h1V1149.7h1V1133.1h1V1141.7h1V1142h1V1152.5h1V1143.6h1V1144.7h1V1143.1h1V1140.5h1V1147.9h1V1140.2h1V1144.3h1V1139.1h1V1143h1V1145.2h1V1138.4h1V1123.9h1V1145.4h1V1135.8h1V1131.6h1V1134h1V1135.6h1V1130.2h1V1119.7h1V1132.1h1V1129.1h1V1138.7h1V1135.6h1V1135.3h1V1130.1h1V1133.1h1V1131.6h1V1135.3h1V1142.9h1V1136.1h1V1132.4h1V1129.4h1V1131.6h1V1138.7h1V1134.4h1V1131.5h1V1127.7h1V1120.8h1V1134.6h1V1133.8h1V1142.9h1V1150.9h1V1141.4h1V1142.3h1V1141.4h1V1140.7h1V1143.3h1V1145.9h1V1136.9h1V1150.4h1V1153.4h1V1151.6h1V1141.3h1V1140.8h1V1144.8h1V1138.4h1V1140.2h1V1141.8h1V1145.9h1V1136.1h1V1144.5h1V1153.7h1V1139.4h1V1134.8h1V1141.5h1V1151.4h1V1145.1h1V1141.3h1V1144.3h1V1149.2h1V1147.3h1V1136.9h1V1146.9h1V1142.2h1V1149.1h1V1143.4h1V1139.9h1V1152.3h1V1148.7h1V1144.1h1V1155.8h1V1151.8h1V1146.4h1V1147h1V1149.2h1V1150.8h1V1152.1h1V1157.4h1V1151.4h1V1149.3h1V1144.8h1V1143.8h1V1149h1V1143.7h1V1150.9h1V1143.6h1V1142.1h1V1149h1V1138.7h1V1135h1V1132h1V1140.2h1V1145.9h1V1143.2h1V1146.6h1V1136.4h1V1125h1V1126.2h1V1117.5h1V1109.8h1V1108.3h1V1116.7h1V1120.2h1V1126.1h1V1125.5h1V1127.9h1V1130.6h1V1124h1V1135h1V1130.4h1V1139.5h1V1136.5h1V1141.1h1V1124h1V1145.9h1V1138h1V1130.6h1V1139.3h1V1130.5h1V1132.1h1V1136.4h1V1290.9h-1V1293.2h-1V1292.8h-1V1278.4h-1V1274.6h-1V1289.7h-1V1287.8h-1V1278.1h-1V1285.5h-1V1279.4h-1V1277.9h-1V1276.3h-1V1268.8h-1V1273.6h-1V1274.3h-1V1278.2h-1V1281.9h-1V1270.5h-1V1272.2h-1V1260.4h-1V1261h-1V1262.4h-1V1266.9h-1V1274.3h-1V1280.8h-1V1292.3h-1V1291.6h-1V1288.6h-1V1291.7h-1V1286.1h-1V1282.6h-1V1288h-1V1290.3h-1V1293.8h-1V1286.1h-1V1290.4h-1V1292.9h-1V1286.6h-1V1283.9h-1V1284.3h-1V1299.4h-1V1291.1h-1V1300.6h-1V1297.3h-1V1293.9h-1V1294.9h-1V1287.9h-1V1285.5h-1V1286.1h-1V1282.8h-1V1292h-1V1297.2h-1V1288h-1V1297.7h-1V1295.3h-1V1298.7h-1V1293.1h-1V1298.6h-1V1287.2h-1V1293h-1V1286.5h-1V1295.7h-1V1285.9h-1V1285.8h-1V1282.1h-1V1290.1h-1V1290h-1V1293.1h-1V1290h-1V1307.7h-1V1291h-1V1293.6h-1V1295.8h-1V1297.7h-1V1293h-1V1294.6h-1V1284.6h-1V1287.8h-1V1287h-1V1288h-1V1290.3h-1V1298.3h-1V1290.6h-1V1285.4h-1V1286.9h-1V1289.2h-1V1293.5h-1V1286.5h-1V1280.1h-1V1302.3h-1V1290.7h-1V1286.7h-1V1275.6h-1V1281.7h-1V1270.1h-1V1271.8h-1V1274h-1V1278.4h-1V1272.6h-1V1282.2h-1V1280.6h-1V1293.7h-1V1281.8h-1V1284.1h-1V1277.9h-1V1273.7h-1V1285h-1V1276.6h-1V1280.3h-1V1286h-1V1282.4h-1V1283.3h-1V1284.7h-1V1283h-1V1281.6h-1V1278h-1V1289.6h-1V1290.8h-1V1286.2h-1V1297.4h-1V1300.2h-1V1306.6h-1V1291.3h-1V1287.9h-1V1304.7h-1V1291.7h-1V1304.2h-1V1292.6h-1V1309h-1V1292.1h-1V1291.6h-1V1299.8h-1V1289.7h-1V1288.2h-1V1297.6h-1V1300.1h-1V1295.2h-1V1295.9h-1V1296.4h-1V1293.3h-1V1300.4h-1V1291.5h-1V1294.2h-1V1297.9h-1V1305.9h-1V1301.5h-1V1300.9h-1V1305.3h-1V1310.1h-1V1312.8h-1V1311.4h-1V1311.7h-1V1310h-1V1310.4h-1V1306.8h-1V1299.3h-1V1301.3h-1V1303.4h-1V1305.8h-1V1314.6h-1V1312.3h-1V1318.7h-1V1312.2h-1V1317.3h-1V1313.6h-1V1311.4h-1V1308.4h-1V1305.5h-1V1303.2h-1V1299.3h-1V1299.5h-1V1293.6h-1V1300.7h-1V1308.3h-1V1298.1h-1V1290.4h-1V1296.5h-1V1288.9h-1V1296.8h-1V1297.6h-1V1301.4h-1V1294.1h-1V1293.5h-1V1289.1h-1V1293.4h-1V1289.9h-1V1314.4h-1V1295.7h-1V1285.3h-1V1286.9h-1V1287.3h-1V1295.3h-1V1302.3h-1V1287.5h-1V1289h-1V1300.3h-1V1290.5h-1V1294.2h-1V1295.2h-1V1289.8h-1V1287.9h-1V1291.8h-1V1292.1h-1V1300h-1V1303.2h-1V1298.2h-1V1300h-1V1288h-1V1296.4h-1V1290.8h-1V1288.2h-1V1292.1h-1V1291.5h-1V1292.6h-1V1286.4h-1V1284.7h-1V1284.2h-1V1288.6h-1V1283.6h-1V1289.8h-1V1286.1h-1V1287.4h-1V1297.9h-1V1281.8h-1V1283.1h-1V1283.4h-1V1286.3h-1V1285.6h-1V1286h-1V1280.7h-1V1289.8h-1V1295.9h-1V1280h-1V1273.9h-1V1280.9h-1V1262.7h-1V1269.1h-1V1274.4h-1V1267h-1V1274h-1V1264.2h-1V1271.8h-1V1275.6h-1V1266.9h-1V1271.2h-1V1279.9h-1Z" fill="rgba(235,0,0,0.307)"/>
<path d="M93.5 1207.8l1-5l1-3.4l1 3.3l1 0.8l1-0.8l1 0.5l1-1.9l1-1.4l1 0l1 0.2l1 2.9l1 5l1 5.3l1 3.4l1-2.2l1-1.8l1 4.4l1 2l1-3.2l1-1.2l1 0.1l1 1.6l1 4.2l1-3.6l1-2.1l1 1.8l1-2.1l1 1.6l1 0.3l1-0.4l1 3l1 3.3l1-1.9l1-2.5l1 2.8l1 0.9l1-1.3l1 1.1l1 2.5l1 1.4l1 2.8l1-1.9l1-1.8l1-0.7l1-4.9l1 1.4l1 0.3l1-1.5l1 2.3l1 1l1-2.3l1-0.7l1 4.2l1-0.7l1-5l1 0.4l1 0l1 4.9l1 2.7l1-3.6l1 5.5l1-1.8l1-1.4l1 1.8l1 0.7l1 5l1-3.5l1-2.6l1 0.9l1 3.6l1 7.6l1 6.3l1-2.3l1-5l1 6l1-0.1l1 0.6l1 4l1 0.3l1 6.4l1 4.6l1-0.7l1-2.9l1 0.3l1-1.9l1-5.2l1-2.9l1-1.9l1 0.7l1-0.2l1 1.6l1 1.6l1-1.2l1 2l1 3.5l1 0.8l1-4.3l1-1.2l1 0.8l1-1.6l1-1.2l1-2.9l1-5l1-1.5l1 2.6l1-0.7l1-2.1l1 0.3l1-0.8l1-1.7l1-1.2l1-1.1l1 1.7l1 1.4l1-0.2l1 0.3l1-2l1 1l1 0.4l1-1.3l1 0.8l1-4.9l1 0.4l1 3l1-5.6l1-0.6l1-1.6l1-2.7l1-1.2l1-0.9l1 0.8l1 1.3l1 2.1l1-2.4l1 0.9l1 2.1l1-3.3l1 1.3l1 0.3l1-2.4l1 0.7l1 1.4l1 4l1 0.7l1-2.2l1-4.2l1-4l1 2.2l1 0l1-3.8l1-0.9l1 3.3l1 3l1 3.7l1 8.5l1 0.6l1-7.2l1 0.9l1 1l1-2.8l1 3.2l1-0.5l1 1.8l1 4.1l1-1l1-1l1-3.3l1-3.2l1 4.1l1 1.5l1-1l1 1.3l1 0.5l1-2.4l1 4.2l1 4.8l1-5.7l1-5.2l1 1.8l1 1.1l1-1.8l1 1l1 0.9l1 0.8l1 1.2l1-1.3l1 0.1l1 2.6l1 0.7l1 1.3l1 3.1l1 2.4l1-4.2l1-0.9l1-1.2l1-3.6l1 0.2l1 0.4l1 1.7l1 0.5l1-0.9l1 2.4l1-2l1-5l1 0.4l1 1.5l1-1.4l1 4.4l1 2l1-4l1-2.9l1 2.9l1 1.9l1-3.8l1-4.7l1-1.5l1 6.2l1-0.6l1 0.9l1-0.8l1-7.1l1-3.5l1-8.1l1-8.1l1-0.7l1-0.4l1 4.4l1 4.2l1 3.1l1 0l1-0.7l1 1.7l1 2.5l1 1.4l1 4.5l1 5.4l1-3.5l1-1.1l1 3.5l1-3.6l1-5.6l1 4.1l1 2.2l1 1.5l1 0.3" fill="none" stroke="#f40000" stroke-width="3" stroke-linejoin="round"/>
<line x1="93" y1="1108" x2="93" y2="1331.5" stroke="#262626" stroke-width="1.4"/>
<line x1="93" y1="1331.5" x2="338.6" y2="1331.5" stroke="#262626" stroke-width="1.4"/>
<line x1="89.6" y1="1109.2" x2="93" y2="1109.2" stroke="#262626" stroke-width="1.3"/>
<line x1="89.6" y1="1159.6" x2="93" y2="1159.6" stroke="#262626" stroke-width="1.3"/>
<line x1="89.6" y1="1210" x2="93" y2="1210" stroke="#262626" stroke-width="1.3"/>
<line x1="89.6" y1="1260.4" x2="93" y2="1260.4" stroke="#262626" stroke-width="1.3"/>
<line x1="89.6" y1="1310.8" x2="93" y2="1310.8" stroke="#262626" stroke-width="1.3"/>
<line x1="93" y1="1331.5" x2="93" y2="1334.9" stroke="#262626" stroke-width="1.3"/>
<line x1="155.6" y1="1331.5" x2="155.6" y2="1334.9" stroke="#262626" stroke-width="1.3"/>
<line x1="218.6" y1="1331.5" x2="218.6" y2="1334.9" stroke="#262626" stroke-width="1.3"/>
<line x1="281.6" y1="1331.5" x2="281.6" y2="1334.9" stroke="#262626" stroke-width="1.3"/>
<text x="84.7" y="1129.3" font-size="29.5" text-anchor="end" fill="#000">1</text>
<text x="84.7" y="1170" font-size="29.5" text-anchor="end" fill="#000">0.5</text>
<text x="84.7" y="1220.6" font-size="29.5" text-anchor="end" fill="#000">0</text>
<text x="84.7" y="1271.2" font-size="29.5" text-anchor="end" fill="#000">-0.5</text>
<text x="84.7" y="1321.3" font-size="29.5" text-anchor="end" fill="#000">-1</text>
<path d="M382.8 1238.8V1238.8h1V1241.4h1V1241.2h1V1246.1h1V1234.7h1V1242.5h1V1243.6h1V1241.6h1V1241h1V1247.8h1V1244.4h1V1241.2h1V1245.3h1V1244.8h1V1232.4h1V1239h1V1242.8h1V1244.1h1V1243h1V1242.1h1V1240.5h1V1240.4h1V1239.3h1V1238.3h1V1236.1h1V1243.7h1V1241.3h1V1244.2h1V1246.6h1V1246.2h1V1242h1V1248.3h1V1242.7h1V1239.7h1V1243h1V1240.5h1V1236.7h1V1242.6h1V1238.1h1V1242.8h1V1237.8h1V1240.1h1V1240h1V1240.7h1V1239.1h1V1244.8h1V1242h1V1236.2h1V1239h1V1245.6h1V1244h1V1240h1V1247.3h1V1247.1h1V1246.5h1V1242.6h1V1245.5h1V1241.2h1V1245.3h1V1238h1V1237.8h1V1239.5h1V1236.5h1V1236.7h1V1229.6h1V1208.9h1V1220.2h1V1219.7h1V1218.4h1V1222.9h1V1221.1h1V1224.6h1V1228.1h1V1225.8h1V1234.2h1V1239h1V1245.6h1V1246.7h1V1252h1V1264.7h1V1269.6h1V1275.5h1V1275.1h1V1266.4h1V1274.4h1V1276.2h1V1278.2h1V1281.1h1V1278.9h1V1274.2h1V1273.9h1V1272.6h1V1278.1h1V1276.8h1V1275.6h1V1272.6h1V1276.4h1V1277.5h1V1282.7h1V1280.8h1V1279.4h1V1279.2h1V1276.9h1V1273.9h1V1278.6h1V1275.1h1V1271.1h1V1263.8h1V1275.5h1V1270.8h1V1265h1V1266.4h1V1267.8h1V1273.6h1V1274.3h1V1270.2h1V1269h1V1268.2h1V1269h1V1262.1h1V1267.1h1V1266.7h1V1265.1h1V1269.7h1V1267.4h1V1263.2h1V1266h1V1257.8h1V1261.9h1V1263.4h1V1257h1V1258h1V1257.5h1V1254.5h1V1255.6h1V1254.1h1V1254.6h1V1252.4h1V1254.8h1V1250h1V1250h1V1242.9h1V1251.6h1V1250h1V1247h1V1237.7h1V1241.2h1V1243.2h1V1238.5h1V1236.2h1V1230.1h1V1227.2h1V1225.1h1V1213.9h1V1206.6h1V1195.3h1V1190.6h1V1183.5h1V1173.6h1V1166.6h1V1156.4h1V1144.1h1V1136.3h1V1133.4h1V1124.4h1V1124.2h1V1139.3h1V1151.1h1V1161.8h1V1174.9h1V1182.6h1V1195.6h1V1209.7h1V1214.2h1V1222h1V1222.5h1V1230.9h1V1231h1V1235.8h1V1242h1V1240.7h1V1242.4h1V1245.7h1V1251.1h1V1250.2h1V1257.1h1V1258.3h1V1259h1V1263.4h1V1263.2h1V1266.3h1V1258.4h1V1266.2h1V1258.6h1V1263h1V1265.4h1V1259.2h1V1258.7h1V1252.4h1V1260h1V1256.3h1V1254.2h1V1256.3h1V1248.7h1V1252.6h1V1251.1h1V1250.4h1V1249.5h1V1248.2h1V1255.5h1V1254.2h1V1247.3h1V1252.7h1V1249.8h1V1255.6h1V1258h1V1255.4h1V1260.7h1V1254.5h1V1255.6h1V1257.2h1V1256.2h1V1254.1h1V1260.9h1V1263.9h1V1262.5h1V1259.8h1V1254.8h1V1252.9h1V1249.8h1V1253.4h1V1258.1h1V1254.6h1V1258.7h1V1252.4h1V1254h1V1253.7h1V1249.9h1V1249.1h1V1245.7h1V1251.1h1V1249.3h1V1248.8h1V1248.1h1V1248.7h1V1243.3h1V1292h-1V1296.3h-1V1302.4h-1V1300.7h-1V1297.7h-1V1296.2h-1V1296.5h-1V1306.5h-1V1301.7h-1V1305.1h-1V1304h-1V1307.4h-1V1310.3h-1V1302.6h-1V1303.7h-1V1297h-1V1297.1h-1V1303.5h-1V1303.4h-1V1308.9h-1V1306.2h-1V1308.3h-1V1304.4h-1V1311.1h-1V1309.8h-1V1309.4h-1V1299.8h-1V1303h-1V1303.5h-1V1304.3h-1V1298.2h-1V1297.9h-1V1298.1h-1V1300.9h-1V1294.6h-1V1301.1h-1V1302.1h-1V1295.7h-1V1297h-1V1302.8h-1V1301.2h-1V1299.1h-1V1297.7h-1V1304.5h-1V1302.4h-1V1307.9h-1V1304.3h-1V1303.8h-1V1309.7h-1V1304.8h-1V1308.2h-1V1310.5h-1V1311h-1V1308.4h-1V1307.7h-1V1308.5h-1V1305.8h-1V1307.3h-1V1309.4h-1V1303.5h-1V1299.8h-1V1300.7h-1V1294.4h-1V1294.6h-1V1291.5h-1V1289.4h-1V1289.3h-1V1289.2h-1V1289h-1V1286.3h-1V1284.8h-1V1276.5h-1V1273.6h-1V1271.4h-1V1260.1h-1V1261h-1V1250.3h-1V1243.8h-1V1235.9h-1V1227.2h-1V1224.1h-1V1229.7h-1V1238.2h-1V1248.7h-1V1265.7h-1V1262.8h-1V1268.6h-1V1270.9h-1V1275.2h-1V1279.2h-1V1285.6h-1V1290h-1V1287.2h-1V1288.1h-1V1290.2h-1V1288.9h-1V1293.8h-1V1297.4h-1V1300.3h-1V1301h-1V1298.6h-1V1295.6h-1V1298.9h-1V1300.7h-1V1300.2h-1V1298.5h-1V1304.3h-1V1301.7h-1V1304h-1V1303.2h-1V1302.5h-1V1303.2h-1V1306.1h-1V1311.2h-1V1310.4h-1V1302.4h-1V1308.3h-1V1319.6h-1V1312.6h-1V1307.2h-1V1308.1h-1V1310.6h-1V1314.6h-1V1311.3h-1V1313.8h-1V1314.2h-1V1308.2h-1V1313.7h-1V1312.5h-1V1317.5h-1V1314.4h-1V1320.8h-1V1312.1h-1V1310.9h-1V1316.1h-1V1313.8h-1V1317.1h-1V1313.9h-1V1313.6h-1V1310.9h-1V1311.5h-1V1316.5h-1V1315.9h-1V1317.8h-1V1321.6h-1V1316.1h-1V1323.7h-1V1317.4h-1V1321.3h-1V1317.9h-1V1318.2h-1V1314h-1V1320.5h-1V1320.9h-1V1316.8h-1V1313.4h-1V1321.3h-1V1315.1h-1V1320.2h-1V1323.1h-1V1323.9h-1V1310.6h-1V1306.8h-1V1312.5h-1V1318h-1V1310.6h-1V1304.9h-1V1299.4h-1V1298.2h-1V1301h-1V1292.1h-1V1280.7h-1V1277h-1V1276.7h-1V1273.5h-1V1267.1h-1V1271.9h-1V1267.2h-1V1268.7h-1V1268.8h-1V1266.2h-1V1269.1h-1V1275.4h-1V1270.1h-1V1275.9h-1V1271.8h-1V1273h-1V1273.6h-1V1278h-1V1274.7h-1V1285h-1V1277.8h-1V1283.5h-1V1277.7h-1V1278.8h-1V1278.5h-1V1279.6h-1V1282.8h-1V1276.2h-1V1275h-1V1275h-1V1278.6h-1V1272.4h-1V1274.3h-1V1274.9h-1V1274h-1V1277.9h-1V1277.9h-1V1278.1h-1V1276.8h-1V1277h-1V1274.9h-1V1272h-1V1278.5h-1V1280.4h-1V1270.8h-1V1277.4h-1V1275.7h-1V1277.4h-1V1276.7h-1V1279.8h-1V1283.9h-1V1281.9h-1V1276.4h-1V1278.3h-1V1276.5h-1V1276.7h-1V1275.3h-1V1271.4h-1V1273.4h-1V1276.8h-1V1274.8h-1V1280.8h-1V1279.3h-1V1274h-1V1276.1h-1V1275.9h-1V1273.9h-1V1276.5h-1V1271h-1V1280.3h-1V1283.8h-1V1284.9h-1V1283.4h-1V1271.9h-1V1274.6h-1Z" fill="rgba(2,165,155,0.3)"/>
<path d="M383.3 1256.7l1 0.6l1 1.6l1 2.1l1-1.5l1-0.5l1 0.6l1-1.5l1 1.2l1 2.4l1-1.1l1-1.4l1 0l1-0.9l1-0.2l1 0.2l1 0.1l1-0.3l1 0l1 0.3l1 1.4l1-1.2l1-1.2l1 0.4l1 0.3l1 2l1 1.1l1 0.2l1 1.1l1-1.7l1-2.6l1 4.4l1-0.5l1-4.3l1 1.1l1 0.4l1 0.9l1-0.9l1-0.4l1 0.5l1-0.1l1 0.6l1-1.5l1-1.2l1 3.4l1-0.1l1-1.4l1-0.2l1 1l1 0.5l1-1l1 2.8l1 0.1l1-2.1l1 1.8l1 0.4l1-2.3l1-1.9l1 0.4l1-0.3l1-3.1l1 0.4l1-0.6l1-0.7l1-1.9l1-3l1 0.5l1-0.5l1-1.1l1 2.3l1 1.2l1 2.3l1 5l1 1.5l1 4.4l1 5.8l1 3.8l1 1.2l1 5.5l1 5.2l1 3l1 4.4l1-2.1l1-1.3l1 4.9l1 5.5l1 0.5l1-2.3l1-3.3l1-0.6l1 1.2l1 2l1 1.9l1-1.5l1-2.4l1-0.1l1 0.8l1 1.4l1 1.3l1-0.5l1-1.9l1 0.3l1-0.9l1-1.4l1 1.1l1-4.4l1-0.2l1 2.9l1-0.2l1-0.1l1-3.4l1-0.9l1-0.4l1 2l1 3.3l1-1l1-2.9l1-2.4l1 1.3l1-0.7l1-0.5l1-1.4l1-0.4l1 2.2l1-2.4l1-1.8l1-0.6l1-0.1l1 0.1l1-1.5l1-2.6l1 1.1l1 2.6l1-2.4l1-3.2l1 0.6l1 0.7l1-3.1l1-0.5l1 1.1l1-5l1-2.1l1 2.3l1-0.6l1-0.9l1-2.3l1 0.1l1-1.5l1-1.9l1-3l1-3.5l1-0.9l1-0.2l1-3.5l1-5.3l1-3.8l1-4.4l1-2.9l1-3.9l1-6.8l1-6.8l1-5.7l1-9l1-10.6l1-10.3l1-1.3l1 8l1 7.4l1 10.1l1 10.7l1 3.1l1 6.9l1 11.7l1 5.5l1 4.6l1 2.6l1 5.3l1 3.8l1 2.1l1 2.2l1-0.7l1 0.8l1 2.9l1 4.3l1 3.1l1 2.1l1 1.6l1 0l1 2.8l1 2.7l1-0.9l1 1.1l1 0.3l1 0.3l1 2l1-1.6l1-3.5l1-1.3l1-1.9l1 2.8l1-0.4l1-4.6l1 0.3l1-1.8l1-3.1l1-0.5l1 0.3l1-0.5l1 2l1 3.1l1-0.7l1-1.8l1-0.6l1 0.2l1 2.3l1 2.1l1 2l1 2.1l1-2.6l1-1.7l1 1.1l1 0.9l1 0.2l1 3.2l1 2.6l1-1.4l1-3.3l1 0l1-0.9l1-4.4l1 0.3l1 3.1l1 2.5l1 1.3l1-1.1l1-1.1l1-1.3l1-0.9l1-1.6l1-1.1l1-0.1l1-2l1 0.5l1 0.5l1-2.3l1-3.4" fill="none" stroke="#02b0a8" stroke-width="3" stroke-linejoin="round"/>
<path d="M382.8 1239.3V1239.3h1V1244.3h1V1246.2h1V1245.8h1V1239.8h1V1243.2h1V1244h1V1240.7h1V1241h1V1240.5h1V1243h1V1241.1h1V1246.1h1V1245.4h1V1248.3h1V1246.9h1V1248.8h1V1249.6h1V1245.1h1V1239.8h1V1243.4h1V1240.1h1V1243.2h1V1247.8h1V1241.4h1V1236.7h1V1247.3h1V1245.4h1V1245.4h1V1247h1V1246.6h1V1244.8h1V1242.9h1V1237.4h1V1242.1h1V1243.3h1V1246.5h1V1247.7h1V1245.1h1V1246.4h1V1247.4h1V1247.5h1V1247.4h1V1243.3h1V1238.6h1V1243.3h1V1247.1h1V1248.1h1V1243.1h1V1246.7h1V1242.5h1V1240.9h1V1246.4h1V1243h1V1243.9h1V1240.3h1V1242.8h1V1246.6h1V1241.2h1V1238.9h1V1230.8h1V1241.7h1V1236.4h1V1240.8h1V1230.5h1V1212.5h1V1202h1V1186.1h1V1199.9h1V1200.3h1V1217h1V1227.6h1V1232.3h1V1238.2h1V1243.6h1V1247.4h1V1255.8h1V1261.4h1V1265.9h1V1266.2h1V1272.3h1V1274.2h1V1269.2h1V1269.2h1V1276.8h1V1273.4h1V1274.6h1V1277.3h1V1280.9h1V1281.9h1V1285.3h1V1280.6h1V1281.3h1V1277.5h1V1279.4h1V1272.2h1V1271.7h1V1272.9h1V1274.6h1V1276.9h1V1280h1V1276.9h1V1279.7h1V1281.9h1V1282.4h1V1282.5h1V1280.5h1V1279.7h1V1273.8h1V1274.8h1V1272.7h1V1275.1h1V1266.2h1V1268.1h1V1273.7h1V1275.5h1V1272h1V1272h1V1271.8h1V1276.3h1V1278.6h1V1274.8h1V1270.2h1V1272.2h1V1266.9h1V1265.2h1V1266.5h1V1266.5h1V1266.6h1V1257.5h1V1251.4h1V1256.1h1V1255.7h1V1260.1h1V1258.6h1V1253.9h1V1251.7h1V1246.7h1V1238.4h1V1247.8h1V1244.9h1V1236.8h1V1234.1h1V1242.5h1V1239.7h1V1229.7h1V1230.1h1V1225.7h1V1212.6h1V1214.9h1V1211.9h1V1208.3h1V1195.6h1V1188.3h1V1171.3h1V1159.9h1V1153h1V1145.7h1V1128.8h1V1121.8h1V1116.2h1V1117.9h1V1116.9h1V1122h1V1125.2h1V1126.7h1V1133.2h1V1145.6h1V1158h1V1164h1V1176.4h1V1187.4h1V1188.5h1V1198.5h1V1208.8h1V1215h1V1215h1V1221.8h1V1223.8h1V1229.8h1V1231.9h1V1234.4h1V1236.9h1V1240h1V1233.3h1V1238.2h1V1244.6h1V1241.3h1V1247.3h1V1246.7h1V1246h1V1247.1h1V1245.4h1V1243.6h1V1243.3h1V1242.5h1V1241.3h1V1241.9h1V1243.1h1V1238.6h1V1242.1h1V1241.7h1V1243.6h1V1247.2h1V1242.5h1V1245.1h1V1243.3h1V1244.3h1V1241.6h1V1236.2h1V1237h1V1236.2h1V1239.2h1V1229.4h1V1235.6h1V1232.5h1V1234h1V1234.2h1V1229.8h1V1234.7h1V1233.7h1V1229h1V1232.2h1V1236.5h1V1240.1h1V1241.1h1V1242.8h1V1234.9h1V1239.3h1V1241.6h1V1236.2h1V1245.9h1V1245.2h1V1249.9h1V1244.1h1V1248.5h1V1245.4h1V1246.1h1V1239h1V1245.1h1V1239.3h1V1239.8h1V1245.8h1V1242.3h1V1242.6h1V1241.3h1V1295.8h-1V1288.2h-1V1294.7h-1V1294.1h-1V1292.4h-1V1300.8h-1V1297.8h-1V1299.5h-1V1301.1h-1V1298.5h-1V1300.5h-1V1306.4h-1V1296.3h-1V1299.7h-1V1304.6h-1V1297.8h-1V1301.5h-1V1296.2h-1V1292.1h-1V1300h-1V1296.1h-1V1295.3h-1V1295.6h-1V1293.5h-1V1288.5h-1V1283.3h-1V1291.7h-1V1290.9h-1V1298h-1V1293.5h-1V1290.4h-1V1290.2h-1V1296.7h-1V1293.5h-1V1298h-1V1291.2h-1V1301.2h-1V1298.9h-1V1296.2h-1V1296.5h-1V1295.1h-1V1298h-1V1298h-1V1298.9h-1V1295.6h-1V1297.4h-1V1293.9h-1V1297.3h-1V1302.2h-1V1292.9h-1V1295.6h-1V1294.8h-1V1296.5h-1V1304h-1V1300.4h-1V1296.9h-1V1296.1h-1V1296h-1V1299.2h-1V1298.8h-1V1292.2h-1V1290.9h-1V1291.2h-1V1291.3h-1V1292.1h-1V1284.5h-1V1284.2h-1V1284.9h-1V1277.8h-1V1278.3h-1V1275h-1V1268.1h-1V1261.1h-1V1252.9h-1V1249.5h-1V1246.3h-1V1240.9h-1V1234.6h-1V1224.2h-1V1220.1h-1V1220.7h-1V1227.4h-1V1225.1h-1V1223.9h-1V1220.2h-1V1218.7h-1V1221.5h-1V1223.9h-1V1236.8h-1V1239.4h-1V1242.8h-1V1255.4h-1V1263.2h-1V1262.4h-1V1265.4h-1V1276.1h-1V1264.8h-1V1268h-1V1272.3h-1V1275.1h-1V1281.4h-1V1292.3h-1V1284.2h-1V1284.4h-1V1288h-1V1292.9h-1V1294.6h-1V1291.1h-1V1295.3h-1V1304.3h-1V1305.1h-1V1304.5h-1V1302.5h-1V1302.1h-1V1302.5h-1V1310.6h-1V1307.7h-1V1309.9h-1V1307.5h-1V1309.4h-1V1309.7h-1V1313.1h-1V1316.4h-1V1310.5h-1V1315.8h-1V1319.4h-1V1312.6h-1V1313h-1V1318.3h-1V1316.4h-1V1320.7h-1V1322.1h-1V1324.7h-1V1319.7h-1V1319.3h-1V1315.1h-1V1316.7h-1V1320h-1V1317.5h-1V1318.6h-1V1317.9h-1V1319.5h-1V1321.6h-1V1317.1h-1V1313.5h-1V1323h-1V1325.8h-1V1319.3h-1V1317.7h-1V1315.8h-1V1312.5h-1V1315.4h-1V1315.9h-1V1317.4h-1V1319.5h-1V1321.1h-1V1322h-1V1317.8h-1V1316h-1V1317.3h-1V1316.2h-1V1313.8h-1V1311.5h-1V1315.6h-1V1308.6h-1V1306.9h-1V1305.1h-1V1306.8h-1V1301.3h-1V1291.1h-1V1284.4h-1V1280.8h-1V1275.4h-1V1273.8h-1V1269.4h-1V1263.4h-1V1268.3h-1V1261.2h-1V1260h-1V1260.2h-1V1265.7h-1V1271.4h-1V1271.9h-1V1282.8h-1V1272h-1V1272.7h-1V1278.3h-1V1278.4h-1V1282.2h-1V1275h-1V1274.8h-1V1276.8h-1V1276.5h-1V1277h-1V1275.9h-1V1276.6h-1V1273.5h-1V1278.6h-1V1280.8h-1V1279.7h-1V1275.9h-1V1271.4h-1V1271.8h-1V1276.1h-1V1274.9h-1V1277h-1V1277.9h-1V1277.9h-1V1278.4h-1V1275.5h-1V1278.7h-1V1272h-1V1271.2h-1V1271.9h-1V1275.8h-1V1275.9h-1V1273h-1V1278.5h-1V1279.9h-1V1276.2h-1V1274.5h-1V1275.4h-1V1279.6h-1V1278.9h-1V1274.1h-1V1272.8h-1V1273.4h-1V1275.1h-1V1282.8h-1V1276.8h-1V1281.8h-1V1274h-1V1272.3h-1V1274.7h-1V1277.8h-1V1274.3h-1V1267.7h-1V1267h-1V1276.8h-1V1269.7h-1V1270.8h-1V1271.6h-1V1269.5h-1V1274.6h-1V1272.8h-1V1270h-1Z" fill="rgba(235,0,0,0.307)"/>
<path d="M383.3 1257.3l1 2.4l1-0.1l1-2.6l1-0.6l1 1.3l1 0.6l1-2.4l1-1.1l1 0.5l1 1.5l1 2.3l1 0.7l1-1.8l1 1.1l1 2.6l1 0.6l1-0.5l1-2l1-0.6l1-1.3l1 1.1l1 1l1 0.4l1-1.6l1-3.6l1 4.7l1 1.5l1-2.5l1 1.1l1 1.8l1-0.8l1-3.3l1-2.3l1 1.6l1 3.7l1-0.2l1 0.6l1 1.6l1-1.8l1-0.1l1 0.1l1-2.3l1-2.2l1-0.2l1 2.4l1 2.9l1 0.6l1-2.5l1-0.4l1-1.9l1-1.4l1 3.9l1-0.1l1-0.8l1-0.3l1 1.1l1 2l1-0.6l1-0.2l1-3.4l1-0.9l1 1.1l1-0.5l1-1.9l1-6.2l1-5.3l1-3.4l1 1.6l1 4.3l1 1l1 6.4l1 3.6l1 2.9l1 5.9l1 2.7l1 7.8l1 6.9l1 2.3l1 3.4l1 4.1l1 0.8l1-0.1l1 1.5l1 1.5l1 0l1-2.9l1 2.5l1 2.5l1 0.4l1 1.7l1-0.4l1-1.5l1-0.8l1-0.9l1-3l1 0.8l1 2.9l1 0l1 2.1l1-1.4l1-3.8l1 1.9l1 2.7l1 1.1l1-2.1l1-1l1 0l1-1.2l1 0.8l1-0.4l1-1.5l1-0.1l1 1.1l1 1.7l1 1l1-4.4l1-3.1l1 0l1 1.8l1 2.3l1-2.2l1-2.1l1 1.1l1-1.9l1-3.7l1-0.4l1 0.2l1-0.6l1-2.5l1-2.2l1-0.6l1-0.2l1-0.8l1-1.6l1-3.3l1-2.4l1-3.9l1-0.4l1 1.7l1-4.4l1-4l1-0.5l1-1l1-0.4l1-3.4l1-5.2l1-3l1-4.5l1-3.9l1-0.6l1-2.6l1-8l1-3.8l1-7.1l1-10.4l1-6.3l1-6.7l1-9.7l1-8.5l1 0.4l1 2.2l1 0.3l1 2l1 0.6l1-2.1l1 0.5l1 9.1l1 8.8l1 4.4l1 8.5l1 8l1 7l1 6.3l1 8.6l1 8l1 2.4l1 2l1 5.5l1 3.9l1 1.3l1 4.8l1 2l1-1.3l1-0.7l1 2.7l1 3.2l1 1.9l1 0.5l1-1.7l1 0.5l1 1.5l1 2l1-2.3l1-1.1l1-1.1l1-2.2l1 4.5l1 0.5l1-2.1l1 2.9l1-0.5l1-0.6l1-0.3l1-2.3l1-0.1l1 1.3l1-1.5l1 0.8l1-0.5l1-2.4l1 0.6l1-0.4l1-0.2l1-1.2l1 0.1l1 0.6l1-1.9l1-2l1 0l1-1.7l1 2.1l1 4l1-0.8l1 0.7l1 2.4l1 0.3l1-2.1l1 0l1 0.6l1 1.4l1 2.6l1 0l1 1.3l1 0.5l1-1.8l1 0.5l1 1.5l1-0.4l1-1.6l1-4.2l1 0.3l1 3.6l1-1.2l1-1.6l1-0.3" fill="none" stroke="#f40000" stroke-width="3" stroke-linejoin="round"/>
<line x1="382.8" y1="1108" x2="382.8" y2="1331.5" stroke="#262626" stroke-width="1.4"/>
<line x1="382.8" y1="1331.5" x2="628.8" y2="1331.5" stroke="#262626" stroke-width="1.4"/>
<line x1="379.4" y1="1118.9" x2="382.8" y2="1118.9" stroke="#262626" stroke-width="1.3"/>
<line x1="379.4" y1="1189.3" x2="382.8" y2="1189.3" stroke="#262626" stroke-width="1.3"/>
<line x1="379.4" y1="1259.7" x2="382.8" y2="1259.7" stroke="#262626" stroke-width="1.3"/>
<line x1="379.4" y1="1330.1" x2="382.8" y2="1330.1" stroke="#262626" stroke-width="1.3"/>
<line x1="382.8" y1="1331.5" x2="382.8" y2="1334.9" stroke="#262626" stroke-width="1.3"/>
<line x1="445.8" y1="1331.5" x2="445.8" y2="1334.9" stroke="#262626" stroke-width="1.3"/>
<line x1="508.8" y1="1331.5" x2="508.8" y2="1334.9" stroke="#262626" stroke-width="1.3"/>
<line x1="571.4" y1="1331.5" x2="571.4" y2="1334.9" stroke="#262626" stroke-width="1.3"/>
<text x="374.5" y="1129.6" font-size="29.5" text-anchor="end" fill="#000">4</text>
<text x="374.5" y="1200.1" font-size="29.5" text-anchor="end" fill="#000">2</text>
<text x="374.5" y="1270.3" font-size="29.5" text-anchor="end" fill="#000">0</text>
<text x="374.5" y="1332.6" font-size="29.5" text-anchor="end" fill="#000">-2</text>
<path d="M664.7 1248.1V1248.1h1V1240.1h1V1242.7h1V1246.3h1V1250.9h1V1245.3h1V1248h1V1245h1V1247h1V1239.6h1V1241.2h1V1244.2h1V1243.2h1V1244.2h1V1244.9h1V1245h1V1244.5h1V1239h1V1237.2h1V1234.7h1V1245.5h1V1239.5h1V1249.3h1V1244.3h1V1241.6h1V1235.9h1V1249.6h1V1241.4h1V1240.3h1V1240.6h1V1242.2h1V1243.8h1V1241.7h1V1242.3h1V1246.5h1V1244.6h1V1244.4h1V1239.3h1V1240.4h1V1230.3h1V1237.4h1V1239.7h1V1241.6h1V1240.5h1V1238h1V1239.9h1V1243.5h1V1246.9h1V1244.7h1V1245.4h1V1242.9h1V1239.4h1V1242.4h1V1229.3h1V1239.6h1V1246.2h1V1241.2h1V1241.7h1V1244.1h1V1241.1h1V1238.4h1V1235.4h1V1230h1V1211.5h1V1183.9h1V1173.2h1V1159.2h1V1152.4h1V1140h1V1128.3h1V1128.9h1V1125.4h1V1134.8h1V1149.7h1V1150.4h1V1169.3h1V1181.7h1V1197.8h1V1219.3h1V1233.4h1V1241.1h1V1244h1V1246h1V1252.9h1V1253.3h1V1261.4h1V1256.9h1V1263h1V1265.4h1V1260.1h1V1264.3h1V1263h1V1269.2h1V1271.3h1V1262.6h1V1266.6h1V1268.1h1V1265.3h1V1267.7h1V1265.5h1V1267.9h1V1265.1h1V1263.5h1V1265.5h1V1264.5h1V1267.5h1V1268.9h1V1264.5h1V1267.5h1V1266.7h1V1262.1h1V1264h1V1255.3h1V1266h1V1261.8h1V1260.3h1V1266.7h1V1267.8h1V1266.1h1V1268.1h1V1259.8h1V1262.4h1V1255.4h1V1257.6h1V1262.7h1V1260.5h1V1260.7h1V1263.1h1V1263.9h1V1259.7h1V1257.7h1V1260.9h1V1256.9h1V1254.7h1V1254.5h1V1254h1V1253.1h1V1252.7h1V1250.3h1V1253.6h1V1244.2h1V1244.4h1V1248.5h1V1249.3h1V1251.2h1V1249.4h1V1250.4h1V1246.2h1V1243.2h1V1245.9h1V1249.2h1V1239.5h1V1242.2h1V1243.9h1V1242.6h1V1241.8h1V1237.9h1V1241.6h1V1237.6h1V1233.1h1V1241.4h1V1240.2h1V1240.2h1V1241.7h1V1240.8h1V1234.3h1V1236.2h1V1240.7h1V1236.1h1V1235.3h1V1228.9h1V1235.3h1V1232h1V1233.8h1V1225.8h1V1228.8h1V1235.3h1V1231.6h1V1228.1h1V1230.8h1V1231.8h1V1230.1h1V1233h1V1224.2h1V1228.8h1V1218.7h1V1223.9h1V1229.9h1V1227.1h1V1225.6h1V1225.2h1V1223.7h1V1231.6h1V1223.3h1V1228h1V1227.1h1V1222.4h1V1222.2h1V1224.3h1V1224.9h1V1223.5h1V1225.3h1V1227h1V1228.3h1V1227.8h1V1223.2h1V1222.5h1V1224.3h1V1219.5h1V1218.9h1V1217h1V1222.7h1V1218.6h1V1219.4h1V1216.6h1V1210.1h1V1216.7h1V1216.3h1V1214.8h1V1212.1h1V1206.6h1V1208.8h1V1206.7h1V1200.6h1V1206.5h1V1200.8h1V1200.9h1V1198.5h1V1198.5h1V1196.1h1V1191.8h1V1190.6h1V1192.8h1V1189.8h1V1193.4h1V1188.5h1V1193.3h1V1199.1h1V1198.6h1V1199.9h1V1197.6h1V1194.5h1V1201.2h1V1205.4h1V1199.2h1V1207.5h1V1215.1h1V1276h-1V1279.4h-1V1272.9h-1V1272.6h-1V1269.6h-1V1266.9h-1V1266.9h-1V1269.9h-1V1268.1h-1V1267h-1V1263h-1V1262.5h-1V1262.7h-1V1262.9h-1V1264.5h-1V1271.7h-1V1262.3h-1V1266.1h-1V1264.8h-1V1271.3h-1V1265.3h-1V1269.2h-1V1272.4h-1V1274.7h-1V1274.9h-1V1280.6h-1V1277.2h-1V1273.6h-1V1276.7h-1V1279.6h-1V1287.1h-1V1282h-1V1277.8h-1V1282.1h-1V1282.1h-1V1279.1h-1V1275.1h-1V1277h-1V1281.8h-1V1281.8h-1V1281.3h-1V1281.3h-1V1287.7h-1V1285.2h-1V1285.4h-1V1286.3h-1V1278.6h-1V1283.6h-1V1279.3h-1V1280.7h-1V1282.7h-1V1280.5h-1V1284.1h-1V1289.7h-1V1291.5h-1V1283.4h-1V1280.9h-1V1284.8h-1V1287.9h-1V1290.1h-1V1283.9h-1V1289.6h-1V1280h-1V1284.1h-1V1285.2h-1V1284.8h-1V1290.2h-1V1290h-1V1280.1h-1V1283.7h-1V1285.1h-1V1284.7h-1V1283.7h-1V1282.3h-1V1282.4h-1V1283.3h-1V1282.6h-1V1283.9h-1V1295.1h-1V1285.6h-1V1285.8h-1V1290.1h-1V1291.7h-1V1290.1h-1V1289.4h-1V1294.2h-1V1288.3h-1V1288.7h-1V1285.5h-1V1286.9h-1V1287.1h-1V1288.4h-1V1292.7h-1V1295.4h-1V1288h-1V1292.1h-1V1291.8h-1V1293.7h-1V1290h-1V1291.7h-1V1293.5h-1V1296.1h-1V1290.8h-1V1298.6h-1V1294h-1V1288.7h-1V1294h-1V1292h-1V1294h-1V1297.7h-1V1295h-1V1297.5h-1V1302.9h-1V1296.2h-1V1296.4h-1V1300.5h-1V1305.1h-1V1297.7h-1V1305.1h-1V1301.3h-1V1299.6h-1V1303.3h-1V1302.5h-1V1304.1h-1V1312.6h-1V1304.3h-1V1309h-1V1302.8h-1V1304.6h-1V1305.6h-1V1308.1h-1V1305.2h-1V1311.8h-1V1316.2h-1V1313.4h-1V1305.4h-1V1310.4h-1V1310.7h-1V1313.4h-1V1319h-1V1308.3h-1V1305.7h-1V1305.4h-1V1300.4h-1V1303.2h-1V1306.7h-1V1307.2h-1V1304.3h-1V1301.8h-1V1307.6h-1V1308.8h-1V1305.5h-1V1307.4h-1V1305.4h-1V1301.5h-1V1308.7h-1V1302.1h-1V1301.1h-1V1302.7h-1V1300.4h-1V1299.8h-1V1298h-1V1300.4h-1V1300.3h-1V1289.8h-1V1289.7h-1V1288h-1V1285.8h-1V1280.1h-1V1276.8h-1V1264.7h-1V1261.2h-1V1253.9h-1V1253.3h-1V1246.3h-1V1240.4h-1V1236h-1V1230.8h-1V1235.9h-1V1234.9h-1V1238h-1V1239.7h-1V1248.8h-1V1261.4h-1V1268.5h-1V1267.7h-1V1273.5h-1V1272.8h-1V1269.9h-1V1269.5h-1V1274.2h-1V1269.9h-1V1274.6h-1V1267.7h-1V1274.2h-1V1271.8h-1V1269.6h-1V1273.2h-1V1276.1h-1V1271.5h-1V1268h-1V1268.9h-1V1265.9h-1V1267.3h-1V1273.6h-1V1277.8h-1V1271.4h-1V1273h-1V1267.5h-1V1279.6h-1V1273.7h-1V1270.8h-1V1270.4h-1V1269.1h-1V1266.6h-1V1272.9h-1V1274.5h-1V1280.5h-1V1269.9h-1V1270.8h-1V1276.1h-1V1271.5h-1V1271.4h-1V1275.9h-1V1279.2h-1V1273.2h-1V1275.7h-1V1269.5h-1V1274.7h-1V1272.8h-1V1275.2h-1V1268.3h-1V1272.4h-1V1276.3h-1V1269.5h-1V1270.8h-1V1272.6h-1V1273.6h-1V1270h-1V1272.5h-1V1270.6h-1V1273.4h-1V1273.5h-1V1277.4h-1V1272.9h-1V1278.7h-1V1278.8h-1Z" fill="rgba(2,165,155,0.3)"/>
<path d="M665.2 1257.7l1-1.6l1-1.9l1 4.5l1 2.3l1-4.7l1 1.5l1 2.3l1-3.1l1-0.2l1 1.3l1-0.6l1-1l1 3.4l1-0.7l1-1.1l1 1.1l1-1.1l1-1.6l1-1.1l1 1.9l1 1.9l1 1.5l1 0.4l1-2.9l1 0.6l1 3.2l1-4l1-3.3l1-0.1l1 2.5l1 1.4l1-1.3l1 1.3l1 0.2l1-1.2l1-0.5l1-0.4l1-1.2l1-1.4l1 2.6l1 0.8l1-1.4l1-2.5l1-1.1l1 1.7l1 2.8l1 1.9l1-0.9l1 0l1-1.6l1 1l1 0.2l1-2.1l1 0.7l1 1l1-0.5l1-1.1l1 1.3l1-0.5l1-2.3l1-0.2l1-4.8l1-8.1l1-14.2l1-16l1-7.7l1-3.6l1-7.1l1-6.3l1 0.3l1-1.1l1 1.5l1 6.8l1 3.7l1 7l1 9.3l1 11.2l1 14.6l1 11.9l1 6.8l1 3.2l1 4.3l1 6l1 3.4l1 2.3l1 1.7l1 1.5l1 0.2l1-1.6l1 2.4l1 1.9l1 0.7l1 0.8l1-2.4l1-2.5l1 3.2l1 3l1-2.2l1-0.3l1 2.8l1-0.7l1-2.9l1-1.2l1 0.5l1 3.2l1 0.8l1 1.5l1-1.1l1-1.2l1 0.5l1-2.4l1 0.5l1 3.1l1-1.4l1-2.6l1 2.2l1-1.1l1-1.8l1-0.3l1-1.5l1-1.3l1-0.2l1 0.1l1-0.2l1 0.5l1-1.3l1 0.9l1-1.2l1-4l1 2.9l1-1.1l1-3l1 0.3l1-1.2l1 0.8l1-1.7l1-1.3l1 1.8l1-0.4l1-2.1l1-1.2l1 1.7l1 0.8l1-0.3l1 0.5l1 1.1l1-1l1-3.7l1 1.6l1 2.5l1-2.7l1-2.2l1 1.7l1 2.5l1-1.7l1-2l1 0.4l1 1l1 2.2l1-1.2l1-1.4l1 0l1 0.1l1 0.6l1-1.1l1-0.7l1 0.7l1 1.9l1-3l1-3.5l1 1.6l1-0.5l1-0.6l1-0.7l1 0.1l1 3.4l1 0.5l1-3.6l1 1.5l1 1.6l1-1.1l1 1.7l1-3.4l1-2.5l1 0.2l1 0.2l1 2.4l1-0.6l1-1.6l1-1.9l1 1.1l1 4.7l1 0.3l1-5.2l1-0.4l1 2.5l1-1.1l1-1.6l1-1.1l1-1.7l1 5.2l1 0.8l1-2.4l1-0.5l1-2l1 0.7l1 3.5l1 0.5l1-7.8l1-0.1l1 4.3l1 0.8l1-2l1-2.9l1 0.7l1 2.7l1 0.5l1-3.1l1-4l1-2.3l1 0.8l1 0.4l1-1.3l1 0.2l1-3.1l1-3.1l1 0.4l1-0.3l1-3.1l1-1.2l1 0.8l1 1.7l1-1.1l1-1l1-0.2l1 0.1l1 1.3l1 1.8l1 1.3l1-0.8l1 2l1 2.9l1 2l1 0.1l1 1l1 0.5" fill="none" stroke="#02b0a8" stroke-width="3" stroke-linejoin="round"/>
<path d="M664.7 1242.3V1242.3h1V1236.9h1V1240h1V1238.9h1V1240.4h1V1240.2h1V1240.6h1V1242.5h1V1244.1h1V1237.5h1V1237.7h1V1234.1h1V1235.9h1V1238.2h1V1235h1V1234.7h1V1235.2h1V1237.9h1V1236.5h1V1236.7h1V1230.1h1V1232.6h1V1238.5h1V1239.5h1V1236.7h1V1233.3h1V1237.6h1V1238.1h1V1239.3h1V1241.4h1V1241.8h1V1242.6h1V1242.6h1V1241.2h1V1237.1h1V1246.6h1V1242.2h1V1239.1h1V1242.2h1V1243.6h1V1243h1V1238.4h1V1239h1V1245.3h1V1239.9h1V1241h1V1243.7h1V1239.7h1V1240.3h1V1243.4h1V1237.8h1V1242.3h1V1238.1h1V1234.2h1V1235.3h1V1239.3h1V1235.2h1V1237.9h1V1233.6h1V1236.7h1V1234.7h1V1228.4h1V1215.1h1V1192.8h1V1173h1V1153.1h1V1133.8h1V1128.2h1V1113h1V1107h1V1107h1V1107.4h1V1110.9h1V1111.5h1V1120.3h1V1136.4h1V1152.7h1V1172.1h1V1192.8h1V1213.1h1V1222.3h1V1232.3h1V1241h1V1250.5h1V1252.6h1V1258.2h1V1261h1V1260.1h1V1261.6h1V1260.4h1V1261.7h1V1265.4h1V1255.6h1V1254.7h1V1260.5h1V1257.2h1V1251.7h1V1255.5h1V1259.8h1V1262h1V1260.8h1V1259.2h1V1262.9h1V1263.9h1V1264.7h1V1270h1V1268.5h1V1269.9h1V1261.6h1V1263.1h1V1263.1h1V1266.2h1V1266.3h1V1259.9h1V1263.7h1V1262.8h1V1260.6h1V1264.8h1V1258.7h1V1257.6h1V1266.4h1V1262.7h1V1261.1h1V1258.7h1V1264.7h1V1253.6h1V1262.6h1V1258.5h1V1260.3h1V1257.4h1V1257.3h1V1258.9h1V1258.3h1V1260.2h1V1254.3h1V1247.8h1V1251.8h1V1248.8h1V1247.8h1V1248.9h1V1253.5h1V1253.8h1V1243.8h1V1247.6h1V1247.3h1V1251.1h1V1251.6h1V1247.5h1V1248.9h1V1249.2h1V1247.5h1V1244.1h1V1240h1V1236.7h1V1239.9h1V1241.3h1V1233.7h1V1240.9h1V1232.3h1V1229.5h1V1232.5h1V1231h1V1231.7h1V1236.1h1V1231.4h1V1227.5h1V1234.9h1V1234.3h1V1232.3h1V1225h1V1230.6h1V1237h1V1231.8h1V1233h1V1232.9h1V1232.7h1V1225.1h1V1231.4h1V1231.9h1V1232h1V1230.5h1V1228.9h1V1228.9h1V1234.6h1V1226.8h1V1233.1h1V1226.6h1V1231.7h1V1229.5h1V1226.9h1V1228.1h1V1221.4h1V1229.6h1V1231.6h1V1232h1V1232.2h1V1224.1h1V1232.5h1V1223.5h1V1222.3h1V1227.9h1V1226.2h1V1233.4h1V1225.1h1V1228.1h1V1230.7h1V1224.3h1V1227.2h1V1223.6h1V1223.7h1V1224.6h1V1223.4h1V1231.2h1V1228h1V1226.5h1V1225.8h1V1222.4h1V1224.4h1V1225.7h1V1223.4h1V1219.9h1V1227.2h1V1228.3h1V1218.3h1V1214h1V1214.5h1V1216.7h1V1211.4h1V1217.2h1V1216.5h1V1211.3h1V1210.7h1V1220.2h1V1215.2h1V1220.5h1V1215.8h1V1219.9h1V1221.2h1V1215.1h1V1211.4h1V1214.1h1V1220.7h1V1214.6h1V1218.4h1V1220.5h1V1215.2h1V1221.1h1V1275.6h-1V1275.1h-1V1280.7h-1V1275.3h-1V1279h-1V1280.9h-1V1275.9h-1V1276.8h-1V1270.9h-1V1279.9h-1V1278.6h-1V1278.5h-1V1277.6h-1V1276h-1V1280.9h-1V1281h-1V1273.1h-1V1268.9h-1V1272h-1V1273.9h-1V1271.6h-1V1270.1h-1V1277.4h-1V1277.4h-1V1279.7h-1V1280.7h-1V1282.1h-1V1283.1h-1V1280.1h-1V1281.3h-1V1274.5h-1V1280.7h-1V1280.1h-1V1286.6h-1V1287.1h-1V1279.8h-1V1280h-1V1277.7h-1V1274.1h-1V1284.6h-1V1281h-1V1280.6h-1V1280h-1V1287.2h-1V1283.2h-1V1281h-1V1280.3h-1V1282.1h-1V1287.4h-1V1290.1h-1V1280.6h-1V1281.8h-1V1285h-1V1284.1h-1V1280.8h-1V1280.1h-1V1283h-1V1282.5h-1V1284h-1V1282.5h-1V1290.9h-1V1292.1h-1V1284.7h-1V1287.8h-1V1282.8h-1V1280.7h-1V1290.4h-1V1289.5h-1V1287.2h-1V1286.7h-1V1286h-1V1284.2h-1V1285.8h-1V1281h-1V1284.8h-1V1290.2h-1V1290.8h-1V1283h-1V1283.6h-1V1287.9h-1V1290.6h-1V1284.7h-1V1284.8h-1V1288.8h-1V1287.2h-1V1285.2h-1V1288.2h-1V1288.9h-1V1289.4h-1V1293.9h-1V1295.8h-1V1290.6h-1V1291.9h-1V1290.7h-1V1294.7h-1V1300.5h-1V1295.5h-1V1305.4h-1V1299h-1V1305.7h-1V1298.8h-1V1302h-1V1302.2h-1V1298h-1V1303h-1V1303h-1V1302.9h-1V1298.5h-1V1302.8h-1V1302.6h-1V1301.8h-1V1313.5h-1V1312h-1V1310.4h-1V1307.1h-1V1303.5h-1V1305.9h-1V1309.9h-1V1311.1h-1V1307.6h-1V1307.9h-1V1311.7h-1V1322.2h-1V1322.6h-1V1314.9h-1V1315.9h-1V1319.2h-1V1315h-1V1312.8h-1V1313.6h-1V1315.9h-1V1320.6h-1V1311.7h-1V1311h-1V1314.6h-1V1315h-1V1314.9h-1V1314.7h-1V1324.3h-1V1328.8h-1V1324.8h-1V1326.3h-1V1321.7h-1V1315.8h-1V1315.4h-1V1313.1h-1V1321.3h-1V1320.2h-1V1314.9h-1V1310.8h-1V1310h-1V1315.1h-1V1313.9h-1V1314.8h-1V1313.2h-1V1312.9h-1V1311h-1V1316.9h-1V1313.9h-1V1310.2h-1V1317.4h-1V1307.7h-1V1307.4h-1V1304.6h-1V1299.3h-1V1288.6h-1V1279.3h-1V1268.3h-1V1258.8h-1V1248.1h-1V1238.1h-1V1231.4h-1V1224.2h-1V1220.4h-1V1224.2h-1V1222.4h-1V1221.7h-1V1219.9h-1V1223.2h-1V1219.7h-1V1217.5h-1V1226.5h-1V1234.6h-1V1252h-1V1256.2h-1V1271.2h-1V1267.6h-1V1270.4h-1V1270.6h-1V1272.4h-1V1274.9h-1V1280.8h-1V1278h-1V1278.1h-1V1271.7h-1V1273.9h-1V1269.4h-1V1268.5h-1V1274.1h-1V1280h-1V1275.2h-1V1273.1h-1V1276.9h-1V1275h-1V1276.7h-1V1272.5h-1V1274.4h-1V1280.4h-1V1276.9h-1V1284.6h-1V1278.4h-1V1277.4h-1V1282h-1V1277.6h-1V1275.2h-1V1274.4h-1V1269.9h-1V1271.1h-1V1268.1h-1V1270.1h-1V1273h-1V1270.3h-1V1271.1h-1V1275.4h-1V1268.5h-1V1269.7h-1V1264.6h-1V1265.3h-1V1267.5h-1V1273.4h-1V1266.3h-1V1271.7h-1V1272.3h-1V1270.9h-1V1275.9h-1V1270.4h-1V1272.4h-1V1270.5h-1V1273h-1V1268.3h-1V1267.4h-1V1277.5h-1V1270.8h-1V1271.3h-1V1272.1h-1V1267.2h-1V1271.6h-1Z" fill="rgba(235,0,0,0.307)"/>
<path d="M665.2 1255.7l1-0.6l1-0.6l1 0.4l1-0.2l1 0.6l1-1.8l1 1.5l1 1.9l1-2.7l1 0.5l1 0.3l1-1.3l1 0.7l1-0.5l1 0.2l1-1.3l1 0.1l1 0.3l1-4l1-0.4l1 3.4l1 3.2l1 2.3l1-0.3l1-2.1l1-1l1-1.3l1-0.7l1 2l1 1.6l1 1.6l1 0.1l1-1.7l1 1.4l1 2.8l1 1.8l1-2.8l1 0.3l1 2.8l1-0.9l1-2.4l1-0.2l1 0.6l1-1.4l1 0.5l1 0.1l1-1.7l1-0.3l1-0.9l1 0.8l1 2.1l1-2.8l1 0.2l1 1.4l1-0.6l1-0.2l1-0.9l1-1.2l1-2.7l1 0.4l1-4.5l1-8.6l1-10.7l1-16.8l1-14.8l1-10.4l1-2l1-4.7l1-5.1l1 0.1l1 1.3l1-0.6l1-4.5l1 0.9l1 10.4l1 10l1 12.9l1 16.8l1 14.5l1 11.5l1 11.6l1 10.5l1 5l1 4.7l1 5l1 1.6l1-1.5l1-1l1 1.3l1 0.9l1 0.1l1-2.8l1 0.5l1 3.7l1-1l1-4.8l1-0.5l1 2.4l1-1l1 0.6l1-0.2l1 0.2l1 2.3l1 4.6l1 4l1-0.7l1-0.5l1-5.2l1-5.1l1 0.7l1 2.1l1 0.1l1-4l1 1.7l1 2.1l1-0.2l1-1l1-3.2l1 1.8l1 1.9l1-1.9l1-1.9l1 2.4l1 1.9l1-1.4l1-2.4l1 0.2l1-0.1l1-2l1-1.4l1-0.6l1 3l1-1.8l1-4.4l1 1.4l1-0.3l1-1.8l1 0.7l1-1.6l1 0.7l1 1.4l1-3.6l1-0.1l1 2l1 1l1 2.2l1-0.1l1-1.2l1-1.1l1-1.4l1 0.9l1-0.9l1-3.2l1-0.1l1 0.1l1 1.2l1-0.9l1-3.6l1-0.1l1 0.5l1-2.6l1 2.1l1 2.2l1-2.8l1 0.3l1 2.8l1 1.7l1-4.4l1-3.8l1 5.1l1 1.4l1-5.5l1-1.1l1 1.9l1-0.5l1 0.7l1 2.3l1-0.9l1-0.1l1 0.3l1-1.6l1-0.7l1 1.1l1-0.1l1 0.5l1-0.1l1-1.8l1-0.8l1 0.5l1 0.5l1-2.2l1 0.4l1 1.2l1-1l1 0l1 1l1 0.9l1-3.2l1-1.4l1 0.6l1 0.6l1 1l1-3l1-0.4l1 3.3l1 1.5l1-3.8l1-2.8l1 1.2l1 0.6l1 3l1 0.4l1-4.6l1 1.2l1 0.6l1-2.8l1 1l1-0.1l1 0.9l1 0.9l1 2.5l1-1.2l1-6.4l1-6.6l1-2.6l1 3l1 2l1-0.8l1-0.1l1 0.3l1 2.4l1 2.8l1-0.2l1 0.7l1 2.6l1 0.1l1-2.7l1-2.8l1 1.5l1 2.2l1-0.8l1-0.4l1-1.1l1 0l1 0.5l1 1.6" fill="none" stroke="#f40000" stroke-width="3" stroke-linejoin="round"/>
<line x1="664.7" y1="1108" x2="664.7" y2="1331.5" stroke="#262626" stroke-width="1.4"/>
<line x1="664.7" y1="1331.5" x2="911.3" y2="1331.5" stroke="#262626" stroke-width="1.4"/>
<line x1="661.3" y1="1108.5" x2="664.7" y2="1108.5" stroke="#262626" stroke-width="1.3"/>
<line x1="661.3" y1="1182.5" x2="664.7" y2="1182.5" stroke="#262626" stroke-width="1.3"/>
<line x1="661.3" y1="1256.5" x2="664.7" y2="1256.5" stroke="#262626" stroke-width="1.3"/>
<line x1="661.3" y1="1330.5" x2="664.7" y2="1330.5" stroke="#262626" stroke-width="1.3"/>
<line x1="664.7" y1="1331.5" x2="664.7" y2="1334.9" stroke="#262626" stroke-width="1.3"/>
<line x1="727.9" y1="1331.5" x2="727.9" y2="1334.9" stroke="#262626" stroke-width="1.3"/>
<line x1="791.1" y1="1331.5" x2="791.1" y2="1334.9" stroke="#262626" stroke-width="1.3"/>
<line x1="854.3" y1="1331.5" x2="854.3" y2="1334.9" stroke="#262626" stroke-width="1.3"/>
<text x="656.4" y="1129.1" font-size="29.5" text-anchor="end" fill="#000">4</text>
<text x="656.4" y="1193" font-size="29.5" text-anchor="end" fill="#000">2</text>
<text x="656.4" y="1267.1" font-size="29.5" text-anchor="end" fill="#000">0</text>
<text x="656.4" y="1332.1" font-size="29.5" text-anchor="end" fill="#000">-2</text>
<path d="M954.4 1247.3V1247.3h1V1243.7h1V1240.8h1V1246.3h1V1242.1h1V1246.7h1V1238.7h1V1241.5h1V1240.8h1V1243.9h1V1241.4h1V1241.5h1V1244.2h1V1241.8h1V1240.5h1V1239h1V1241.9h1V1240h1V1238.5h1V1238.2h1V1239.8h1V1235.8h1V1239.4h1V1237.2h1V1231.3h1V1238.1h1V1238.4h1V1239.9h1V1243h1V1238.8h1V1240.2h1V1236h1V1239.8h1V1237.2h1V1238.1h1V1235.7h1V1237.1h1V1236.6h1V1235.5h1V1243.8h1V1239.3h1V1237.1h1V1234.5h1V1235.9h1V1240.8h1V1237.8h1V1237.5h1V1239.7h1V1237.9h1V1235.2h1V1236.5h1V1237.7h1V1237.8h1V1238.1h1V1239.5h1V1235.7h1V1235.9h1V1233.5h1V1240.6h1V1241.3h1V1239.5h1V1236.8h1V1237.9h1V1234.7h1V1236.6h1V1236.6h1V1236.8h1V1232.6h1V1238.7h1V1236.6h1V1236h1V1241.2h1V1244.8h1V1243.3h1V1247.6h1V1251.1h1V1245.1h1V1254.4h1V1260.4h1V1260.1h1V1263.5h1V1263.2h1V1263.2h1V1263.8h1V1264.4h1V1261.3h1V1267.7h1V1267.7h1V1265.6h1V1262.7h1V1266.2h1V1262h1V1264.1h1V1265.6h1V1259.7h1V1262.2h1V1263.6h1V1258.5h1V1266h1V1269.4h1V1268.7h1V1264h1V1260h1V1269.5h1V1268.7h1V1270.5h1V1263.3h1V1258.5h1V1264.5h1V1269.4h1V1263.2h1V1267.9h1V1266.1h1V1265h1V1262.4h1V1261h1V1263.9h1V1267.8h1V1259.8h1V1264.3h1V1260.5h1V1262.1h1V1267.5h1V1266.5h1V1262.2h1V1264.8h1V1258.3h1V1264.8h1V1264.2h1V1264.5h1V1264.5h1V1263.3h1V1261.4h1V1261h1V1261h1V1262.2h1V1263.7h1V1260.6h1V1260.1h1V1261.7h1V1256h1V1252.9h1V1255h1V1257.8h1V1253.8h1V1257.6h1V1257.1h1V1255.2h1V1254.9h1V1253.4h1V1253h1V1249.6h1V1247.4h1V1246.6h1V1240.1h1V1234.5h1V1239.1h1V1232.8h1V1231.4h1V1228.9h1V1220.3h1V1215.3h1V1212.8h1V1209.9h1V1204.9h1V1198.9h1V1200.4h1V1196.6h1V1196.4h1V1194.5h1V1185.6h1V1182.1h1V1174.7h1V1166.8h1V1171.8h1V1173.6h1V1170.5h1V1163.9h1V1156.3h1V1155.4h1V1144.9h1V1135.6h1V1136.7h1V1126.8h1V1127.8h1V1127.5h1V1125.3h1V1121.4h1V1116h1V1118.4h1V1119.9h1V1116h1V1114.6h1V1116.9h1V1113.7h1V1113.1h1V1109.4h1V1114h1V1114.5h1V1114.6h1V1123.6h1V1127.5h1V1129h1V1141.6h1V1144.4h1V1149.8h1V1150.9h1V1150.8h1V1156.1h1V1153.5h1V1159.5h1V1165.4h1V1167.1h1V1166.9h1V1172.3h1V1171.1h1V1174.5h1V1175.3h1V1176h1V1180.3h1V1180.2h1V1182.9h1V1179.5h1V1182.4h1V1180.9h1V1175.1h1V1177.6h1V1179.4h1V1174.4h1V1177.7h1V1177.4h1V1181.2h1V1184.2h1V1189.3h1V1180.3h1V1190.2h1V1188.7h1V1190.9h1V1191.5h1V1193.5h1V1195.3h1V1194.6h1V1196.9h1V1199.4h1V1201.2h1V1202.7h1V1203.9h1V1275.7h-1V1270.3h-1V1275.6h-1V1276.9h-1V1275.6h-1V1276.4h-1V1276.1h-1V1277.2h-1V1275h-1V1279.8h-1V1281.7h-1V1278.2h-1V1277.7h-1V1279.4h-1V1279h-1V1275.8h-1V1276.3h-1V1275.6h-1V1280.7h-1V1277.3h-1V1276.8h-1V1275.9h-1V1278.4h-1V1278.2h-1V1278.9h-1V1283.3h-1V1282.8h-1V1285.4h-1V1287.1h-1V1283.9h-1V1284.5h-1V1286.1h-1V1282.5h-1V1278.3h-1V1278.5h-1V1278.5h-1V1282.5h-1V1276.7h-1V1274.4h-1V1275.2h-1V1273h-1V1272.5h-1V1266.8h-1V1262.6h-1V1257.6h-1V1252.7h-1V1254.8h-1V1243.4h-1V1238.3h-1V1236.7h-1V1236.3h-1V1239h-1V1238h-1V1235.7h-1V1238h-1V1237.2h-1V1232.6h-1V1230.2h-1V1230.5h-1V1229.6h-1V1230.6h-1V1228.7h-1V1229.4h-1V1229.4h-1V1230.8h-1V1233.6h-1V1236.3h-1V1238.8h-1V1237.7h-1V1243.2h-1V1242.7h-1V1242.5h-1V1242.5h-1V1243.6h-1V1248.8h-1V1246h-1V1249.6h-1V1254.3h-1V1251.6h-1V1250.5h-1V1252.7h-1V1254h-1V1259h-1V1259.6h-1V1266h-1V1262.3h-1V1271.1h-1V1273.3h-1V1274.4h-1V1274.9h-1V1278.8h-1V1285.5h-1V1284.9h-1V1286.1h-1V1284.8h-1V1284h-1V1291.5h-1V1287.4h-1V1292.8h-1V1297.6h-1V1296.2h-1V1301.8h-1V1296.4h-1V1290.4h-1V1291.7h-1V1288.4h-1V1293.2h-1V1296.8h-1V1292.6h-1V1294.6h-1V1295.1h-1V1295.7h-1V1296.2h-1V1299.6h-1V1296.8h-1V1297.1h-1V1296.4h-1V1295.7h-1V1294.7h-1V1297.1h-1V1293.9h-1V1297.5h-1V1298h-1V1302.5h-1V1297h-1V1294.5h-1V1294.6h-1V1294.5h-1V1295.8h-1V1300.7h-1V1296.2h-1V1296.1h-1V1298.6h-1V1300.1h-1V1300.8h-1V1298.7h-1V1302.4h-1V1297.8h-1V1300.2h-1V1296h-1V1300.5h-1V1299.8h-1V1303.6h-1V1304.1h-1V1301h-1V1295.9h-1V1295.9h-1V1300.2h-1V1297.5h-1V1297.7h-1V1299.4h-1V1297.4h-1V1294.9h-1V1294.4h-1V1296.1h-1V1298.9h-1V1299.5h-1V1301.3h-1V1299.2h-1V1297.9h-1V1299.6h-1V1292.9h-1V1295h-1V1297h-1V1295.7h-1V1297.6h-1V1296.9h-1V1292h-1V1288.9h-1V1291.9h-1V1284.5h-1V1280h-1V1278.3h-1V1276.4h-1V1278.5h-1V1272.6h-1V1268h-1V1272.1h-1V1269.1h-1V1267.6h-1V1268.2h-1V1266.3h-1V1267.6h-1V1262.3h-1V1263.1h-1V1264.9h-1V1270.9h-1V1267.1h-1V1266.8h-1V1263.8h-1V1267.1h-1V1265.7h-1V1266.3h-1V1264.7h-1V1264.2h-1V1268.2h-1V1271.4h-1V1263.7h-1V1269.7h-1V1266.5h-1V1278h-1V1270h-1V1268.8h-1V1268.1h-1V1264.9h-1V1262.5h-1V1265.8h-1V1264.3h-1V1263.7h-1V1257.7h-1V1260.7h-1V1263.5h-1V1262.9h-1V1267.3h-1V1270.7h-1V1267.2h-1V1267.8h-1V1264.1h-1V1263h-1V1264.8h-1V1265.3h-1V1273h-1V1270h-1V1267.2h-1V1263.2h-1V1266h-1V1263.5h-1V1269h-1V1266.8h-1V1271.5h-1V1265.2h-1V1264.1h-1V1267.3h-1V1269.5h-1V1268.9h-1V1269h-1V1266.8h-1V1270.5h-1V1265.5h-1V1266.7h-1V1267.5h-1V1270h-1V1269.2h-1V1268.1h-1V1267.2h-1V1269h-1V1268.6h-1Z" fill="rgba(2,165,155,0.3)"/>
<path d="M954.9 1257.3l1-0.3l1-0.3l1 0.7l1 0.1l1-1l1-0.8l1-0.4l1-0.3l1-0.1l1-1.8l1 0l1 3.5l1-0.3l1-3.1l1 0l1 0.6l1 0.7l1 0l1-2l1-0.7l1 0.7l1-0.7l1-0.4l1 0.4l1 0.5l1-1l1-1.1l1 1.2l1 0.7l1-0.7l1-0.5l1 1.1l1 0.9l1-0.4l1-0.9l1-1.8l1-0.3l1 1.6l1 0.3l1-1.4l1-1.1l1 0.6l1 1.3l1 0l1 0.3l1 0.4l1-0.7l1-1l1-0.6l1 1.5l1 0.6l1-2.3l1-0.4l1 0.7l1-0.3l1-0.2l1 0.9l1 1.2l1 1.4l1-0.8l1-2.5l1 0.3l1 0.9l1 1.1l1 1.5l1-0.3l1-2.5l1 1.2l1 2.5l1-0.5l1 1.8l1 2.2l1-0.4l1 2.4l1 3.1l1 2.8l1 4.3l1 2.1l1 2.1l1 3l1 2.4l1 1.1l1 0.3l1-1.8l1-0.5l1 2.4l1 0.1l1-0.2l1 1.2l1-0.7l1 0.4l1 0.6l1-1.2l1-1l1 1.1l1 0.9l1-0.9l1 0.2l1 0.8l1-1.4l1-1.6l1 1.6l1 2.8l1 0.5l1-0.8l1-1.1l1-2.1l1-0.3l1 2.4l1 1.9l1-0.6l1-0.2l1 0.2l1-1.7l1-2l1 1.4l1 1.4l1-1.7l1-2l1 0.2l1 0.3l1 1.6l1 1.7l1-0.6l1-1.5l1-1.8l1 0.9l1-0.4l1 0l1 0.2l1-1.2l1 0.3l1-0.8l1-0.4l1 1.5l1 0.9l1-1.9l1-1.1l1 0.8l1-1.2l1-2.1l1-0.4l1 0.4l1 1.1l1 0.2l1-2.7l1-0.6l1 0.2l1-1l1-1.1l1-2l1-2.4l1-0.3l1-1.2l1-2.7l1-3.4l1-3.3l1-1.8l1-3.7l1-5.8l1-4l1-3.4l1-2.5l1-2.3l1-3.7l1-2.1l1-2.3l1-0.9l1-1l1-3.5l1-0.5l1-2.8l1-4.6l1 0.3l1 0.4l1-1.4l1-3l1-3.5l1-2.2l1-3.6l1-5.1l1-2.1l1-1.5l1-1.1l1-0.2l1-1.1l1-0.1l1-1.3l1-0.9l1 2.8l1-0.6l1-0.6l1 1.5l1-1l1-1l1-0.9l1-1.5l1 0l1 3.6l1 3.9l1 3.4l1 4.3l1 4.8l1 2.9l1 2.8l1 1.8l1 0.1l1 3.1l1 0.7l1 0.2l1 1.9l1 1.1l1 1.9l1 0.9l1 0.5l1 1l1 1l1 0.5l1 0l1 0l1-0.6l1-0.9l1-0.4l1-2.1l1-2.3l1 0.2l1 1l1-0.1l1 0.2l1 1.8l1 1.5l1 0.7l1 2.4l1 0.7l1 0.6l1 1.8l1-1.3l1 0.5l1 3.5l1-0.2l1-1.5l1 2.8l1 2l1-1.5l1-0.4l1 2.8" fill="none" stroke="#02b0a8" stroke-width="3" stroke-linejoin="round"/>
<path d="M954.4 1244.9V1244.9h1V1241.5h1V1243.1h1V1245.3h1V1245.5h1V1244.4h1V1241.7h1V1243.2h1V1246.2h1V1244.2h1V1245h1V1244.8h1V1237.8h1V1241h1V1243h1V1243.1h1V1242.7h1V1240.9h1V1242.6h1V1239.6h1V1238.4h1V1243.4h1V1244.7h1V1239.1h1V1247.5h1V1243.1h1V1244.9h1V1241.2h1V1249.5h1V1246.6h1V1246.9h1V1253.8h1V1250.9h1V1252.2h1V1250.4h1V1253.1h1V1246.8h1V1252.1h1V1248.9h1V1248h1V1249.9h1V1249.1h1V1245.7h1V1243.5h1V1242.6h1V1246.2h1V1239.6h1V1244.7h1V1244.2h1V1241.9h1V1241.6h1V1242.9h1V1239.5h1V1240.7h1V1241.2h1V1245.6h1V1245.7h1V1247.6h1V1243.8h1V1248.7h1V1252.6h1V1249.2h1V1242.5h1V1238.3h1V1232.6h1V1225.1h1V1224h1V1228.7h1V1227.2h1V1233.8h1V1238.5h1V1240.7h1V1241.6h1V1245.3h1V1248.7h1V1251.2h1V1253.7h1V1257h1V1260.6h1V1262.9h1V1267.5h1V1267.9h1V1270.6h1V1271.3h1V1271.5h1V1267.5h1V1269h1V1269.8h1V1272.8h1V1272.5h1V1273.7h1V1273.3h1V1274.3h1V1271.1h1V1268.5h1V1274.8h1V1277.3h1V1271.8h1V1269.2h1V1274.3h1V1272.4h1V1273.9h1V1277.1h1V1277.3h1V1277.3h1V1276.4h1V1279.4h1V1274.3h1V1273.2h1V1274.7h1V1273.1h1V1271.7h1V1270.6h1V1270.8h1V1270.7h1V1271.1h1V1272.9h1V1273.2h1V1270.1h1V1274.6h1V1273.6h1V1268.3h1V1272.4h1V1268.3h1V1266.4h1V1270.9h1V1268.5h1V1268.9h1V1266.9h1V1269.8h1V1268.5h1V1266.7h1V1266.8h1V1266.4h1V1262h1V1264.1h1V1262.5h1V1264h1V1259h1V1254h1V1257.8h1V1254.5h1V1255h1V1254.7h1V1255.2h1V1250.7h1V1251.9h1V1246.6h1V1248.9h1V1244.8h1V1242.1h1V1238.8h1V1239.7h1V1234.2h1V1237.3h1V1234.7h1V1228.6h1V1228.4h1V1222.9h1V1220.4h1V1216.1h1V1210.8h1V1208.8h1V1202.8h1V1201.2h1V1196.4h1V1191.1h1V1193.5h1V1189.1h1V1186.4h1V1180.5h1V1171.6h1V1161.1h1V1160.6h1V1151.2h1V1151.5h1V1144.2h1V1140.7h1V1139.9h1V1137.1h1V1132.9h1V1133.3h1V1125.2h1V1125.7h1V1125.5h1V1121.9h1V1120h1V1118.1h1V1112.8h1V1116.2h1V1113.6h1V1111.7h1V1118.1h1V1122.9h1V1132.9h1V1135.9h1V1144.9h1V1152h1V1152.8h1V1161.1h1V1166.1h1V1164.2h1V1171.5h1V1178.7h1V1178.4h1V1174.8h1V1180.1h1V1176.7h1V1180.4h1V1180.8h1V1185h1V1184.9h1V1188.9h1V1189.3h1V1193.2h1V1190.4h1V1185.6h1V1186h1V1183.5h1V1185.3h1V1189.2h1V1190.3h1V1199.5h1V1202.5h1V1202.2h1V1199.9h1V1187.4h1V1183.7h1V1180.1h1V1180.5h1V1192.3h1V1198.4h1V1204.5h1V1201.7h1V1196.1h1V1186.5h1V1183.8h1V1184.5h1V1186.9h1V1190.7h1V1188.4h1V1199.3h1V1204.5h1V1205.4h1V1206h1V1211.9h1V1208.9h1V1279h-1V1276.1h-1V1273.8h-1V1271.1h-1V1273.4h-1V1267.7h-1V1263.2h-1V1261.5h-1V1259.6h-1V1255.3h-1V1256.5h-1V1262.4h-1V1267.7h-1V1271.7h-1V1274.3h-1V1274.5h-1V1266.5h-1V1262.5h-1V1260.6h-1V1266h-1V1270.9h-1V1279.4h-1V1280.8h-1V1281.4h-1V1284.9h-1V1274.8h-1V1274h-1V1265.8h-1V1267.2h-1V1267.5h-1V1275.6h-1V1274.6h-1V1279.5h-1V1277.8h-1V1272.5h-1V1271.3h-1V1268.4h-1V1274.9h-1V1270.3h-1V1266.2h-1V1266.3h-1V1268.6h-1V1270.2h-1V1273.5h-1V1273h-1V1265.3h-1V1264.9h-1V1264.9h-1V1259.2h-1V1254.9h-1V1250.9h-1V1251.8h-1V1246.7h-1V1238.5h-1V1235.4h-1V1236h-1V1236.9h-1V1237.5h-1V1234.7h-1V1235.3h-1V1237.2h-1V1245.3h-1V1243.5h-1V1240.1h-1V1241.5h-1V1239.6h-1V1238.1h-1V1237.7h-1V1237.6h-1V1233.9h-1V1239.4h-1V1241.6h-1V1241.4h-1V1241.1h-1V1245.2h-1V1248.1h-1V1248.3h-1V1249.9h-1V1258.8h-1V1256.4h-1V1253.1h-1V1263.6h-1V1256.5h-1V1258.1h-1V1263.9h-1V1269.7h-1V1264.4h-1V1273.4h-1V1274.4h-1V1278.3h-1V1285.1h-1V1287.1h-1V1283h-1V1282.3h-1V1287.6h-1V1288.9h-1V1291.5h-1V1290.2h-1V1293.3h-1V1291.8h-1V1297h-1V1298.4h-1V1297.7h-1V1296.2h-1V1301.9h-1V1297.9h-1V1303.1h-1V1300.1h-1V1303.8h-1V1305.4h-1V1303.1h-1V1306.2h-1V1305.1h-1V1304.8h-1V1308.5h-1V1309.1h-1V1307.3h-1V1307.3h-1V1309.8h-1V1307.5h-1V1307.2h-1V1308.6h-1V1309.4h-1V1313h-1V1313.1h-1V1313.1h-1V1310.9h-1V1311.4h-1V1311.7h-1V1320.6h-1V1313.7h-1V1313.2h-1V1311.3h-1V1319.1h-1V1316.5h-1V1314.9h-1V1318.9h-1V1319.9h-1V1315.3h-1V1322.9h-1V1319.1h-1V1319.8h-1V1319.8h-1V1321.4h-1V1324.3h-1V1321.8h-1V1318.2h-1V1321.4h-1V1315.5h-1V1317.3h-1V1319.6h-1V1320.4h-1V1316.9h-1V1316.3h-1V1314.1h-1V1317.3h-1V1315.8h-1V1315.3h-1V1311.5h-1V1309h-1V1309h-1V1307.8h-1V1304.6h-1V1308.4h-1V1305.1h-1V1299.7h-1V1299.8h-1V1296.5h-1V1293h-1V1286.1h-1V1284.5h-1V1281.9h-1V1280.6h-1V1273.3h-1V1276.5h-1V1269.2h-1V1273.1h-1V1268.8h-1V1267.5h-1V1264.6h-1V1268h-1V1264.5h-1V1269.9h-1V1275.6h-1V1271.8h-1V1278.8h-1V1275.5h-1V1272.9h-1V1276.3h-1V1276.9h-1V1275.6h-1V1277h-1V1272.2h-1V1270.4h-1V1268.9h-1V1264.2h-1V1269.8h-1V1272.4h-1V1270.6h-1V1276.3h-1V1277.6h-1V1274.2h-1V1272.6h-1V1272h-1V1274.6h-1V1272.9h-1V1274h-1V1273.3h-1V1273.6h-1V1276.9h-1V1279.8h-1V1273.8h-1V1274h-1V1278.8h-1V1277.7h-1V1276.7h-1V1273.1h-1V1276.4h-1V1278.6h-1V1270h-1V1269.8h-1V1272.3h-1V1272.1h-1V1269.8h-1V1265.5h-1V1264h-1V1267.6h-1V1266.5h-1V1264.9h-1V1266.9h-1V1273.8h-1V1271h-1V1268.9h-1V1270.9h-1V1266.7h-1V1268.7h-1V1266.4h-1V1266.9h-1V1269.9h-1V1268.6h-1V1268h-1V1270.4h-1V1268.8h-1V1273.2h-1V1274.2h-1V1273.6h-1V1274.6h-1Z" fill="rgba(235,0,0,0.307)"/>
<path d="M954.9 1256.9l1-1.4l1 2l1 0.7l1-0.2l1-1.4l1-1.4l1 0.4l1-0.1l1-0.4l1 0.3l1 0.1l1-0.1l1 0.2l1-0.1l1 0l1 0.6l1-1.7l1-0.1l1 1.3l1-0.6l1-0.8l1 0.3l1 2.4l1 0.7l1-0.5l1 1.1l1 1.1l1 2.6l1 0.2l1-0.8l1 2.1l1 2l1-1.2l1-0.6l1 1.1l1-1.6l1 0.3l1 0.6l1-0.5l1-1.7l1-1.6l1 0.5l1-1.3l1-2l1 0.7l1-0.5l1-1.2l1 0.2l1-1.2l1-1.5l1-0.1l1 1.3l1 0.7l1 0.5l1 1.2l1 2.2l1 1.6l1-1.1l1 0.6l1 3l1-1.6l1-1.5l1-2.6l1-4.2l1-2.9l1 0.4l1 1.9l1 0.6l1 1.7l1 0.7l1 0.5l1 1.3l1 1.8l1 3.5l1 3.6l1 2.8l1 1.9l1 2.8l1 5.1l1 1.6l1 1.5l1 3.4l1 0.7l1-0.6l1 0.3l1 1.3l1 0.6l1 1.3l1 1.8l1-0.5l1 0.2l1 0.5l1 0.5l1 0.8l1 0.7l1 1.1l1-1.6l1-1.6l1 2.1l1 1l1-1.1l1 0.4l1 0.1l1-0.8l1 0.3l1 1.3l1-0.3l1-1.3l1-1.4l1 0.1l1 0.4l1-0.2l1-1.6l1-1.1l1 1.6l1 1l1-0.8l1-2.2l1 0.6l1 1l1 0.3l1-0.1l1-1.6l1-0.2l1-0.1l1-2.1l1 1.2l1 1l1-1.4l1 0.1l1-0.6l1 0.3l1-1.6l1-1.9l1 0.8l1-1l1-0.6l1-1.8l1-1.1l1-0.6l1-1.9l1-3l1-0.9l1 1.2l1-1.7l1-1.6l1-1.2l1-2.5l1-3.4l1 0l1 0.3l1-3.3l1-1.9l1 0.6l1-2.1l1-2.5l1-1.9l1-2.1l1-3.2l1-4.7l1-3.2l1-2.3l1-2.9l1-1.9l1-2.7l1-2l1-0.9l1-2.2l1-2.4l1-3.5l1-4.2l1-4.1l1-6l1-5.3l1-3.3l1-3.7l1-3.2l1-0.7l1-1l1-1.7l1-0.8l1-0.7l1-2.3l1-2.9l1-2l1-2.6l1-2.5l1-0.8l1 1.5l1-1.9l1-2.2l1 3.2l1 5.7l1 5.2l1 5l1 4.8l1 4.2l1 5l1 3.8l1 1.7l1 2.9l1 5l1 3.3l1-0.5l1-1.3l1 1.2l1 1.3l1 1.8l1 3.3l1 0.2l1 0.8l1 3l1 1.1l1 1.2l1 0.8l1-3.4l1-2.7l1 0l1 1.1l1 2.4l1 4.5l1 5.4l1 2.3l1-0.4l1-3.2l1-5.8l1-5.3l1-3l1 2.7l1 4.5l1 4.6l1 4l1-2.7l1-5.2l1-2.6l1-3.1l1-2.6l1 2.3l1 4l1 3.7l1 3.7l1 4.2l1 2.3l1 1.1l1 3.7l1 0.2" fill="none" stroke="#f40000" stroke-width="3" stroke-linejoin="round"/>
<line x1="954.4" y1="1108" x2="954.4" y2="1331.5" stroke="#262626" stroke-width="1.4"/>
<line x1="954.4" y1="1331.5" x2="1201.1" y2="1331.5" stroke="#262626" stroke-width="1.4"/>
<line x1="951" y1="1107.7" x2="954.4" y2="1107.7" stroke="#262626" stroke-width="1.3"/>
<line x1="951" y1="1182.5" x2="954.4" y2="1182.5" stroke="#262626" stroke-width="1.3"/>
<line x1="951" y1="1257.3" x2="954.4" y2="1257.3" stroke="#262626" stroke-width="1.3"/>
<line x1="951" y1="1332.1" x2="954.4" y2="1332.1" stroke="#262626" stroke-width="1.3"/>
<line x1="954.4" y1="1331.5" x2="954.4" y2="1334.9" stroke="#262626" stroke-width="1.3"/>
<line x1="1017.6" y1="1331.5" x2="1017.6" y2="1334.9" stroke="#262626" stroke-width="1.3"/>
<line x1="1080.6" y1="1331.5" x2="1080.6" y2="1334.9" stroke="#262626" stroke-width="1.3"/>
<line x1="1143.7" y1="1331.5" x2="1143.7" y2="1334.9" stroke="#262626" stroke-width="1.3"/>
<text x="946.1" y="1129.1" font-size="29.5" text-anchor="end" fill="#000">4</text>
<text x="946.1" y="1193.3" font-size="29.5" text-anchor="end" fill="#000">2</text>
<text x="946.1" y="1267.9" font-size="29.5" text-anchor="end" fill="#000">0</text>
<text x="946.1" y="1332.1" font-size="29.5" text-anchor="end" fill="#000">-2</text>
<path d="M1243.9 1245.3V1245.3h1V1245.2h1V1244.2h1V1244.3h1V1240h1V1240.1h1V1235.6h1V1234.3h1V1238.3h1V1236.2h1V1232.3h1V1236.5h1V1233.7h1V1232.1h1V1229.5h1V1234.7h1V1236.4h1V1236.2h1V1235h1V1237.3h1V1236h1V1237.8h1V1232h1V1235.8h1V1231.7h1V1233.9h1V1226.4h1V1230.6h1V1229.5h1V1231h1V1230.3h1V1235.2h1V1229.5h1V1231.2h1V1230.2h1V1229.4h1V1230.2h1V1230.6h1V1227.6h1V1232.5h1V1234.3h1V1230.5h1V1232.9h1V1230.3h1V1225.4h1V1224.9h1V1232.6h1V1229.3h1V1228.4h1V1232.7h1V1232.3h1V1235.3h1V1234.5h1V1230.5h1V1229.5h1V1230.7h1V1227.1h1V1228h1V1227.7h1V1232.8h1V1232.4h1V1227.9h1V1219h1V1216.5h1V1213.7h1V1207.6h1V1209.4h1V1213.3h1V1214h1V1216.2h1V1223.4h1V1225.7h1V1232.7h1V1237.7h1V1239.1h1V1245h1V1251.1h1V1254.4h1V1259.4h1V1267.7h1V1270.5h1V1269.4h1V1267.9h1V1269.7h1V1272.6h1V1270h1V1264.4h1V1264.5h1V1265.5h1V1270.8h1V1270.3h1V1270.1h1V1270h1V1267.4h1V1272.1h1V1264.8h1V1264.9h1V1263.7h1V1269.3h1V1271.1h1V1272.3h1V1273.7h1V1265.4h1V1265.9h1V1273.2h1V1272.3h1V1269.2h1V1269.5h1V1269.9h1V1269.6h1V1269.2h1V1270.9h1V1268.4h1V1271.1h1V1271.7h1V1271.7h1V1269.2h1V1269.2h1V1272.6h1V1273.3h1V1275.1h1V1270.7h1V1268.5h1V1266.8h1V1269.2h1V1267.4h1V1269h1V1267.6h1V1267.5h1V1265.5h1V1264.7h1V1260.2h1V1269.2h1V1274.2h1V1268.4h1V1272h1V1273h1V1272.8h1V1272.4h1V1271.6h1V1267.2h1V1269.8h1V1268.1h1V1268.9h1V1266.2h1V1267.4h1V1270.8h1V1269.1h1V1268.9h1V1264.6h1V1272.1h1V1266.1h1V1266.2h1V1258.6h1V1262.7h1V1264.4h1V1261.7h1V1262.6h1V1262.3h1V1259.6h1V1264.9h1V1263.3h1V1262.5h1V1265.5h1V1263.9h1V1259.8h1V1261.3h1V1260.4h1V1258.4h1V1253.6h1V1255.6h1V1253h1V1258.2h1V1253.1h1V1248.7h1V1249.6h1V1247.1h1V1239h1V1238.9h1V1239.4h1V1244.1h1V1243h1V1239.6h1V1235.5h1V1233.6h1V1233.7h1V1231.7h1V1225h1V1222.7h1V1216h1V1220.8h1V1220.7h1V1213.7h1V1212.1h1V1211.3h1V1210.4h1V1207.8h1V1201h1V1200.7h1V1200.4h1V1197.1h1V1192.2h1V1191.3h1V1189.2h1V1186.4h1V1181.9h1V1180.6h1V1177.5h1V1176.3h1V1169.8h1V1172.5h1V1164.4h1V1163.9h1V1165.4h1V1166.2h1V1161.9h1V1161.8h1V1164.3h1V1162.2h1V1162.7h1V1164.2h1V1167.9h1V1166.9h1V1165.8h1V1165h1V1168.7h1V1171.9h1V1170.1h1V1172.1h1V1166.8h1V1162.9h1V1161.6h1V1165.3h1V1160.2h1V1164.5h1V1164.5h1V1158.8h1V1161.3h1V1163.3h1V1162.3h1V1168.4h1V1167.8h1V1162.4h1V1167.3h1V1171h1V1173.8h1V1168.2h1V1254.6h-1V1262.7h-1V1255.3h-1V1255.4h-1V1255.7h-1V1259.5h-1V1265.7h-1V1257.9h-1V1260.3h-1V1258.2h-1V1258.8h-1V1257.3h-1V1262.5h-1V1257.6h-1V1260h-1V1258.9h-1V1260.3h-1V1264h-1V1269.2h-1V1271.2h-1V1271.7h-1V1268h-1V1269.5h-1V1265.2h-1V1262.7h-1V1261.9h-1V1261.5h-1V1257.6h-1V1260.9h-1V1260.7h-1V1261.7h-1V1264.3h-1V1261.1h-1V1262.1h-1V1263h-1V1261.2h-1V1268.2h-1V1263.2h-1V1268.8h-1V1264.8h-1V1269.8h-1V1268.2h-1V1273h-1V1269.5h-1V1269.4h-1V1267.5h-1V1271.2h-1V1270.5h-1V1276.8h-1V1278.1h-1V1274.7h-1V1277.8h-1V1275.3h-1V1276.7h-1V1281.2h-1V1286.6h-1V1283.1h-1V1285.3h-1V1289.3h-1V1292.3h-1V1290.8h-1V1292.9h-1V1292.4h-1V1294.1h-1V1294.2h-1V1294.3h-1V1294.6h-1V1291.9h-1V1292.1h-1V1294.2h-1V1296.9h-1V1295.6h-1V1299.8h-1V1309.6h-1V1304h-1V1307.2h-1V1300.1h-1V1303.2h-1V1299.7h-1V1303.5h-1V1302.6h-1V1300.3h-1V1305.9h-1V1301.8h-1V1301.4h-1V1298.8h-1V1298.1h-1V1304.8h-1V1300.6h-1V1299.7h-1V1305.7h-1V1306.3h-1V1301h-1V1299.8h-1V1301.9h-1V1300.1h-1V1302.4h-1V1307.7h-1V1311.9h-1V1307h-1V1312.1h-1V1307.6h-1V1305h-1V1307.6h-1V1307h-1V1311.2h-1V1311h-1V1308h-1V1313.3h-1V1312h-1V1314.9h-1V1312.8h-1V1311.2h-1V1314.7h-1V1306.1h-1V1304.5h-1V1304.9h-1V1308.6h-1V1308.5h-1V1308.6h-1V1308.8h-1V1307.7h-1V1306.6h-1V1313.8h-1V1314.4h-1V1310.9h-1V1311.5h-1V1313h-1V1318.4h-1V1314.3h-1V1309.1h-1V1310.8h-1V1310.7h-1V1310.6h-1V1311.1h-1V1317h-1V1311.1h-1V1312.4h-1V1317.7h-1V1321.8h-1V1314h-1V1322.2h-1V1318.1h-1V1309.9h-1V1313.1h-1V1311.9h-1V1314.2h-1V1315.5h-1V1313.8h-1V1316.4h-1V1315.1h-1V1315.7h-1V1319.3h-1V1316.4h-1V1316.4h-1V1311.7h-1V1313.8h-1V1313.7h-1V1315.6h-1V1309.6h-1V1314.1h-1V1315.8h-1V1314.7h-1V1315.9h-1V1317.1h-1V1311.3h-1V1313h-1V1306.2h-1V1298.5h-1V1298.8h-1V1290.4h-1V1285.7h-1V1285.1h-1V1277.4h-1V1277.8h-1V1272.5h-1V1269.2h-1V1258.4h-1V1258.3h-1V1254h-1V1252.4h-1V1251.6h-1V1258.8h-1V1254.9h-1V1259.7h-1V1269.7h-1V1278.6h-1V1273.7h-1V1273.8h-1V1271.5h-1V1267h-1V1267.3h-1V1269.4h-1V1280.2h-1V1271.4h-1V1275h-1V1276.6h-1V1270.7h-1V1275.4h-1V1270.9h-1V1271.9h-1V1270.4h-1V1268.3h-1V1270h-1V1270.2h-1V1267.6h-1V1270.4h-1V1269.9h-1V1272.4h-1V1270.3h-1V1268.2h-1V1267.5h-1V1270.4h-1V1268.6h-1V1275.2h-1V1275.8h-1V1265.3h-1V1267.5h-1V1272.3h-1V1267.6h-1V1267.7h-1V1266.6h-1V1272.9h-1V1271.1h-1V1272.2h-1V1276.2h-1V1268.6h-1V1270.6h-1V1272.1h-1V1271.6h-1V1267.6h-1V1269.5h-1V1270.5h-1V1266h-1V1269.9h-1V1269.3h-1V1264.9h-1V1263.2h-1V1265.4h-1V1274.5h-1V1274.6h-1V1270.4h-1V1274.8h-1V1272.3h-1V1271h-1V1267.2h-1V1265h-1Z" fill="rgba(2,165,155,0.3)"/>
<path d="M1244.4 1255.3l1 2.1l1 0.9l1-0.6l1-0.1l1-2.4l1-0.1l1 2.1l1-2.3l1-3.8l1-0.2l1 4l1 1.9l1-1l1 1.8l1-1.3l1 0.2l1 2.9l1-0.5l1-1l1-1.4l1 0.3l1-2.6l1 1.7l1 0.9l1-3l1 1.3l1 1l1 0.7l1-3.6l1 0l1 5.1l1-1.6l1-0.3l1 0.8l1-3.1l1-0.1l1 1.7l1-0.9l1 1.4l1 1.7l1-1.9l1 1.4l1 0.3l1-3.2l1-0.2l1 1.8l1 0.6l1 0.6l1 0.5l1 0.1l1 1.4l1 1.2l1-1.7l1-2.9l1-1.6l1-0.6l1 1.1l1 0.6l1 2.8l1-1l1-6.3l1-6.2l1-3l1-3.2l1-4l1-1.8l1 4.7l1 2.3l1 1.8l1 7.6l1 3.8l1 3.5l1 3.3l1 3.8l1 4.5l1 5.4l1 3.2l1 2.6l1 6.7l1 2l1-1.7l1-0.7l1 0.6l1 1l1-0.3l1-3.6l1-1l1 2.2l1 1.1l1-0.3l1 0l1 0.4l1 2.1l1 2.1l1-4.1l1 0.5l1 2.2l1-1l1 0.3l1 0.1l1 1.1l1-2.8l1-1.5l1 4.9l1-0.5l1-2.3l1 3.1l1-1.7l1-2.9l1 2.5l1-0.2l1-1.5l1 1.9l1 0.9l1-1.9l1-0.4l1 1.7l1 1.9l1 1l1-2.4l1-3l1-1.7l1 0.7l1-0.1l1 0.8l1 2.2l1-0.2l1-1l1-2.3l1-1.1l1-0.2l1 4.3l1 3.6l1-3.8l1-1.3l1 1.8l1 0.5l1-1l1-0.7l1 1l1 0.9l1-2.4l1-0.3l1-0.9l1-0.2l1 2.8l1-2l1 0.3l1 1.5l1-2.6l1-3.3l1-0.9l1-0.6l1 0.4l1 1.8l1-0.9l1-1.6l1 2.1l1-0.8l1-0.9l1 0.4l1-1.3l1 1.9l1 1.2l1-2.3l1-0.2l1 0.2l1-2.5l1-2.8l1-0.2l1 2l1 0.7l1-2l1-4.5l1 0.2l1 3.5l1-3.1l1-5.8l1 1.3l1 2.5l1-2l1-1.5l1-2.7l1-1.3l1 1.8l1-1.6l1-3l1-3.7l1-3.9l1 0.1l1 0.2l1-2.5l1-3.1l1-2.1l1 0l1-1.6l1-2.5l1-2.1l1-2.9l1-1.4l1 0.1l1-0.2l1-0.9l1-1.6l1-0.4l1-2l1-3.8l1-1.8l1-0.5l1-0.1l1-2.2l1-4.3l1 3.1l1 0.3l1-4.5l1 0.7l1-0.7l1-2l1 1.1l1 3.4l1 4l1-0.8l1-1.3l1 3.8l1 0.9l1 0.6l1 0l1-1.1l1-2l1-4.1l1-0.4l1-1l1-2l1 1.2l1-1.9l1-4l1 4.1l1 1.6l1-1.3l1 5.2l1-1.1l1-3.1l1 0l1 3.5l1 1.5l1-2.3" fill="none" stroke="#02b0a8" stroke-width="3" stroke-linejoin="round"/>
<path d="M1243.9 1247.9V1247.9h1V1244.6h1V1244.3h1V1243.6h1V1244.4h1V1241.6h1V1238.3h1V1237.7h1V1238.7h1V1242.8h1V1248.3h1V1244.2h1V1246.8h1V1245.3h1V1247.2h1V1242.4h1V1241h1V1234.1h1V1244.6h1V1243.7h1V1241.4h1V1241.7h1V1245.1h1V1243.3h1V1241.3h1V1243.2h1V1238.6h1V1237.8h1V1244.2h1V1243.1h1V1244.2h1V1242.3h1V1239.4h1V1244h1V1246.9h1V1247.9h1V1244.2h1V1251.8h1V1245.9h1V1240.5h1V1241.8h1V1241.2h1V1242.6h1V1243.7h1V1241.5h1V1239h1V1243.3h1V1244.2h1V1240.7h1V1245.8h1V1247.3h1V1239.6h1V1237h1V1244.1h1V1242.4h1V1240.5h1V1239.6h1V1232.8h1V1237.6h1V1229.3h1V1223.4h1V1216h1V1213.3h1V1204.9h1V1197.6h1V1197.1h1V1196.6h1V1196.5h1V1204.2h1V1211.6h1V1215.3h1V1230.6h1V1240.7h1V1243.2h1V1253h1V1263.8h1V1265.5h1V1267.5h1V1269.1h1V1274.1h1V1269h1V1272.3h1V1274.3h1V1274.6h1V1273h1V1272.3h1V1277.9h1V1274.9h1V1273.5h1V1277.1h1V1273.3h1V1275.9h1V1276.3h1V1274.7h1V1273.3h1V1273h1V1272.7h1V1274.1h1V1271.8h1V1271.8h1V1275.3h1V1278.4h1V1275.3h1V1275.8h1V1269.4h1V1276.9h1V1271.6h1V1269.7h1V1272.2h1V1276.6h1V1271.1h1V1272.2h1V1275.1h1V1276.9h1V1282.2h1V1277.7h1V1273.2h1V1278.2h1V1279h1V1276.8h1V1271.1h1V1267.9h1V1272.1h1V1275.3h1V1276.6h1V1271.9h1V1268.7h1V1267.2h1V1272.9h1V1270.4h1V1266.4h1V1268.3h1V1271.5h1V1267.1h1V1271.8h1V1271.2h1V1270.3h1V1268.6h1V1274h1V1271h1V1273h1V1275.9h1V1273.1h1V1272.8h1V1273.9h1V1273.5h1V1272.2h1V1266h1V1270h1V1259.5h1V1266.8h1V1267.5h1V1264.8h1V1266.5h1V1268.7h1V1267.4h1V1263.1h1V1264h1V1268.2h1V1267h1V1264.3h1V1256.2h1V1265.9h1V1262.4h1V1261.1h1V1262.6h1V1255.5h1V1250.6h1V1251.3h1V1249.4h1V1255.6h1V1255.7h1V1254.4h1V1246.5h1V1248.9h1V1251.3h1V1243.9h1V1239.7h1V1235.6h1V1230.7h1V1236.9h1V1234.7h1V1232h1V1224.7h1V1222.1h1V1220.6h1V1212.1h1V1208.9h1V1207.7h1V1203.4h1V1192.9h1V1192.8h1V1183.3h1V1175.9h1V1171.3h1V1169.1h1V1162.2h1V1160.9h1V1157.8h1V1151.9h1V1136.1h1V1143.5h1V1137.5h1V1138.8h1V1134.4h1V1132.9h1V1127.8h1V1132.5h1V1136h1V1139.4h1V1140.7h1V1139.6h1V1135.8h1V1140.1h1V1139h1V1142.7h1V1141.7h1V1136.1h1V1134.8h1V1133.2h1V1140.7h1V1140h1V1138.3h1V1149.7h1V1144.5h1V1148.5h1V1143.6h1V1147.8h1V1154.8h1V1154.8h1V1148.8h1V1154.9h1V1152.2h1V1154.8h1V1155.9h1V1157.6h1V1161.2h1V1161h1V1165.3h1V1171.4h1V1175.1h1V1175.3h1V1174.2h1V1181.8h1V1187.4h1V1185.7h1V1188.4h1V1264.6h-1V1261h-1V1263.3h-1V1261.9h-1V1264.2h-1V1257.8h-1V1259.7h-1V1268.8h-1V1257.8h-1V1254.6h-1V1254.8h-1V1253.4h-1V1254.6h-1V1251.9h-1V1262.1h-1V1259.6h-1V1257.6h-1V1260.8h-1V1261.7h-1V1255.1h-1V1253h-1V1253.6h-1V1253.5h-1V1251.3h-1V1251h-1V1247.6h-1V1244.1h-1V1240.1h-1V1238.6h-1V1248.8h-1V1244.9h-1V1247.3h-1V1245.2h-1V1244.3h-1V1242.1h-1V1242.3h-1V1251.4h-1V1239.7h-1V1236.9h-1V1237h-1V1230.6h-1V1230h-1V1238.1h-1V1231.3h-1V1237h-1V1236.3h-1V1240.9h-1V1246.3h-1V1245.1h-1V1252.6h-1V1248.9h-1V1252.4h-1V1255.9h-1V1261.2h-1V1260.3h-1V1264.9h-1V1272.2h-1V1273.5h-1V1276.6h-1V1277.4h-1V1277.3h-1V1281.2h-1V1282.5h-1V1284.1h-1V1291h-1V1287.1h-1V1293.3h-1V1293.2h-1V1292.1h-1V1292.9h-1V1298.6h-1V1305.2h-1V1300.1h-1V1301.6h-1V1299.5h-1V1305.9h-1V1308.2h-1V1297.4h-1V1299.5h-1V1301h-1V1297.1h-1V1300.1h-1V1300.1h-1V1301.3h-1V1301.8h-1V1304.7h-1V1308.2h-1V1305.4h-1V1305h-1V1305.7h-1V1299.9h-1V1307h-1V1304.5h-1V1307.9h-1V1305.5h-1V1302.4h-1V1304.8h-1V1309.4h-1V1306.1h-1V1307.1h-1V1309.3h-1V1311.1h-1V1310.4h-1V1306.5h-1V1307.6h-1V1309.1h-1V1311.8h-1V1308.9h-1V1309.5h-1V1306.9h-1V1306.1h-1V1306.2h-1V1306h-1V1309.6h-1V1307.3h-1V1311.1h-1V1315.4h-1V1309.4h-1V1307.5h-1V1302.9h-1V1303.6h-1V1306.8h-1V1308.6h-1V1315h-1V1310h-1V1309.5h-1V1307.1h-1V1314.8h-1V1320.2h-1V1315.8h-1V1313.4h-1V1311.7h-1V1317.5h-1V1314.7h-1V1312.7h-1V1306.8h-1V1308.6h-1V1310.2h-1V1311.1h-1V1309h-1V1313.6h-1V1312.3h-1V1306.6h-1V1307.4h-1V1306h-1V1314.9h-1V1309.8h-1V1307.9h-1V1305.7h-1V1312.2h-1V1313.4h-1V1306.7h-1V1306.8h-1V1312.9h-1V1310.1h-1V1313h-1V1311.9h-1V1310.3h-1V1308.2h-1V1313.6h-1V1310.4h-1V1309.4h-1V1306.6h-1V1310h-1V1306.5h-1V1309.3h-1V1307.6h-1V1302.6h-1V1302.8h-1V1299.2h-1V1296.9h-1V1293.5h-1V1291.3h-1V1283.2h-1V1274.1h-1V1272.2h-1V1269h-1V1269.6h-1V1266.6h-1V1266.3h-1V1262.4h-1V1261.5h-1V1265h-1V1265.5h-1V1270.2h-1V1268.6h-1V1273.7h-1V1271.4h-1V1269.8h-1V1276.8h-1V1274.6h-1V1271.4h-1V1275h-1V1273.3h-1V1273.9h-1V1269.2h-1V1275.3h-1V1272.7h-1V1275.2h-1V1268.6h-1V1271.6h-1V1271.6h-1V1275h-1V1269.9h-1V1269.3h-1V1270.3h-1V1268.4h-1V1269.8h-1V1274.7h-1V1275.1h-1V1275h-1V1274.1h-1V1280.7h-1V1274.1h-1V1270.4h-1V1268h-1V1268.3h-1V1276.1h-1V1269.9h-1V1269.9h-1V1273.6h-1V1271h-1V1269.7h-1V1271.1h-1V1270.2h-1V1268.2h-1V1265.4h-1V1267.6h-1V1275.8h-1V1271.5h-1V1276.6h-1V1274.6h-1V1273.8h-1V1272.7h-1V1267.1h-1V1271.5h-1V1276.3h-1V1278.5h-1V1272.9h-1V1265.5h-1V1267.4h-1V1269.3h-1V1270.2h-1V1271.4h-1V1271.9h-1V1274.2h-1V1279.2h-1Z" fill="rgba(235,0,0,0.307)"/>
<path d="M1244.4 1260.2l1-1.7l1-1.4l1 2.2l1-1.3l1-0.2l1-1.9l1-3l1 4.1l1 1.9l1 0.3l1-1.1l1-1.7l1-0.1l1 2.1l1 1.1l1-2.8l1-0.2l1 0.9l1-3l1-1.3l1 3.5l1 0.8l1-0.7l1 0.3l1-1.2l1-0.6l1 1.6l1 0.3l1-0.8l1-1l1 0.7l1 1.2l1 0.2l1 3.6l1-0.7l1-3.9l1 5.1l1-2.1l1-5.4l1 2.1l1-0.7l1-1.4l1 1.8l1 0.8l1-1.1l1-1.7l1 0.9l1 2.5l1 1.6l1-0.1l1-5.1l1-0.3l1 2.7l1 3.1l1-2.4l1-4.8l1 3.7l1-1l1-3.2l1 2.9l1-1.5l1-1.2l1-1l1-4l1-0.1l1-0.3l1-0.4l1 1.5l1 3.8l1 1.6l1 3.4l1 3.6l1 5.1l1 8.4l1 5.8l1 2.1l1 2.6l1 5.1l1-0.5l1 1.7l1 2.8l1-1.1l1-0.3l1-1l1 2l1 1.3l1-2.2l1-0.6l1 0.3l1 1.7l1 1.4l1 0.2l1-1.3l1-2.8l1-0.6l1 2.5l1 2l1-3.9l1-1.1l1 4.6l1 0.4l1-3.6l1-1l1 0.8l1 3l1-0.2l1-4.2l1 0.3l1 2.5l1-0.2l1-2.7l1 2l1 4.7l1 0.1l1-4l1-0.2l1 2.7l1 0.1l1-1.5l1-3.7l1-1.5l1 3.2l1 2.7l1-1.6l1-2.5l1-1.6l1-0.3l1 3.8l1 0.9l1-1.6l1-2.8l1 1.2l1 1.6l1-0.3l1-1l1-0.5l1 0.6l1-0.8l1 0.9l1 0.1l1-0.5l1-0.6l1 1.7l1-2.4l1 0.4l1 2.5l1-1.9l1-1l1-2.7l1-1.3l1 0.2l1 1.6l1-2.4l1 0.9l1-1.2l1-4.8l1 2.7l1 2.6l1-0.5l1-2.2l1-0.2l1 1.3l1-2.2l1-0.5l1-0.4l1-1l1-0.9l1-2.7l1 0.1l1 2.2l1 0.1l1-0.8l1-2.5l1-0.5l1 1l1-4.5l1-3.1l1-1.6l1-1.4l1-1l1-1.9l1-2.4l1-3.8l1-3.2l1-1.2l1-4.9l1-1.1l1 0.2l1-3.7l1-4.1l1-3.9l1-4.4l1-4.6l1-1.3l1-5.3l1-3.7l1 0l1-2.4l1-4.6l1-5.6l1-1.3l1-0.6l1-1.8l1-0.9l1-4.1l1-0.5l1 1.5l1 1.8l1 5.2l1 3l1-0.7l1 0.8l1 1.2l1-0.3l1 1l1-0.2l1-2.3l1-3.9l1 0.6l1 4.4l1 2.4l1 1l1 3.4l1 1.4l1-2.1l1 0.8l1 2.8l1 1.4l1 0.3l1 1.2l1-0.2l1-3.5l1 1.6l1 0l1 0.6l1 0.6l1-2l1 4.4l1 4.6l1 1.9l1 0l1 1.5l1 1.8l1 3l1-0.1l1 1.3" fill="none" stroke="#f40000" stroke-width="3" stroke-linejoin="round"/>
<line x1="1243.9" y1="1108" x2="1243.9" y2="1331.5" stroke="#262626" stroke-width="1.4"/>
<line x1="1243.9" y1="1331.5" x2="1491" y2="1331.5" stroke="#262626" stroke-width="1.4"/>
<line x1="1240.5" y1="1108.5" x2="1243.9" y2="1108.5" stroke="#262626" stroke-width="1.3"/>
<line x1="1240.5" y1="1182.5" x2="1243.9" y2="1182.5" stroke="#262626" stroke-width="1.3"/>
<line x1="1240.5" y1="1256.5" x2="1243.9" y2="1256.5" stroke="#262626" stroke-width="1.3"/>
<line x1="1240.5" y1="1330.5" x2="1243.9" y2="1330.5" stroke="#262626" stroke-width="1.3"/>
<line x1="1243.9" y1="1331.5" x2="1243.9" y2="1334.9" stroke="#262626" stroke-width="1.3"/>
<line x1="1307.5" y1="1331.5" x2="1307.5" y2="1334.9" stroke="#262626" stroke-width="1.3"/>
<line x1="1371" y1="1331.5" x2="1371" y2="1334.9" stroke="#262626" stroke-width="1.3"/>
<line x1="1434.6" y1="1331.5" x2="1434.6" y2="1334.9" stroke="#262626" stroke-width="1.3"/>
<text x="1235.6" y="1129.1" font-size="29.5" text-anchor="end" fill="#000">4</text>
<text x="1235.6" y="1193" font-size="29.5" text-anchor="end" fill="#000">2</text>
<text x="1235.6" y="1267.1" font-size="29.5" text-anchor="end" fill="#000">0</text>
<text x="1235.6" y="1332.1" font-size="29.5" text-anchor="end" fill="#000">-2</text>
<text x="0.5" y="759.8" font-size="44" text-anchor="start" fill="#000">f</text>
<text x="345" y="793.5" font-size="29" text-anchor="end" fill="#000">Type 1</text>
<text x="632.7" y="793.5" font-size="29" text-anchor="end" fill="#000">Type 2</text>
<text x="915.5" y="793.5" font-size="29" text-anchor="end" fill="#000">Type 3</text>
<text x="1203" y="793.5" font-size="29" text-anchor="end" fill="#000">Type 4</text>
<text x="1492" y="793.5" font-size="29" text-anchor="end" fill="#000">Type 5</text>
<text x="141.8" y="1065.3" font-size="29.5" text-anchor="middle" fill="#000">1</text>
<text x="171.5" y="1065.3" font-size="29.5" text-anchor="middle" fill="#000">2</text>
<text x="200.9" y="1065.3" font-size="29.5" text-anchor="middle" fill="#000">3</text>
<text x="230.6" y="1065.3" font-size="29.5" text-anchor="middle" fill="#000">4</text>
<text x="260" y="1065.3" font-size="29.5" text-anchor="middle" fill="#000">5</text>
<text x="214.3" y="1091.3" font-size="29" text-anchor="middle" fill="#000">Stimulus</text>
<text x="431.5" y="1065.3" font-size="29.5" text-anchor="middle" fill="#000">1</text>
<text x="461.1" y="1065.3" font-size="29.5" text-anchor="middle" fill="#000">2</text>
<text x="490.6" y="1065.3" font-size="29.5" text-anchor="middle" fill="#000">3</text>
<text x="520.1" y="1065.3" font-size="29.5" text-anchor="middle" fill="#000">4</text>
<text x="549.7" y="1065.3" font-size="29.5" text-anchor="middle" fill="#000">5</text>
<text x="503.8" y="1091.3" font-size="29" text-anchor="middle" fill="#000">Stimulus</text>
<text x="714.1" y="1065.3" font-size="29.5" text-anchor="middle" fill="#000">1</text>
<text x="743.6" y="1065.3" font-size="29.5" text-anchor="middle" fill="#000">2</text>
<text x="773.2" y="1065.3" font-size="29.5" text-anchor="middle" fill="#000">3</text>
<text x="802.7" y="1065.3" font-size="29.5" text-anchor="middle" fill="#000">4</text>
<text x="832.3" y="1065.3" font-size="29.5" text-anchor="middle" fill="#000">5</text>
<text x="786.4" y="1091.3" font-size="29" text-anchor="middle" fill="#000">Stimulus</text>
<text x="1003.6" y="1065.3" font-size="29.5" text-anchor="middle" fill="#000">1</text>
<text x="1033.1" y="1065.3" font-size="29.5" text-anchor="middle" fill="#000">2</text>
<text x="1062.7" y="1065.3" font-size="29.5" text-anchor="middle" fill="#000">3</text>
<text x="1092.2" y="1065.3" font-size="29.5" text-anchor="middle" fill="#000">4</text>
<text x="1121.8" y="1065.3" font-size="29.5" text-anchor="middle" fill="#000">5</text>
<text x="1075.9" y="1091.3" font-size="29" text-anchor="middle" fill="#000">Stimulus</text>
<text x="1293.9" y="1065.3" font-size="29.5" text-anchor="middle" fill="#000">1</text>
<text x="1323.5" y="1065.3" font-size="29.5" text-anchor="middle" fill="#000">2</text>
<text x="1353" y="1065.3" font-size="29.5" text-anchor="middle" fill="#000">3</text>
<text x="1382.6" y="1065.3" font-size="29.5" text-anchor="middle" fill="#000">4</text>
<text x="1412.1" y="1065.3" font-size="29.5" text-anchor="middle" fill="#000">5</text>
<text x="1366.2" y="1091.3" font-size="29" text-anchor="middle" fill="#000">Stimulus</text>
<text x="155.6" y="1367.3" font-size="29.5" text-anchor="middle" fill="#000">0</text>
<text x="281.6" y="1367.3" font-size="29.5" text-anchor="middle" fill="#000">300</text>
<text x="214.8" y="1395.6" font-size="29.3" text-anchor="middle" fill="#000">Time (ms)</text>
<text x="445.8" y="1367.3" font-size="29.5" text-anchor="middle" fill="#000">0</text>
<text x="571.4" y="1367.3" font-size="29.5" text-anchor="middle" fill="#000">300</text>
<text x="505" y="1395.6" font-size="29.3" text-anchor="middle" fill="#000">Time (ms)</text>
<text x="727.9" y="1367.3" font-size="29.5" text-anchor="middle" fill="#000">0</text>
<text x="854.3" y="1367.3" font-size="29.5" text-anchor="middle" fill="#000">300</text>
<text x="787.1" y="1395.6" font-size="29.3" text-anchor="middle" fill="#000">Time (ms)</text>
<text x="1018.4" y="1367.3" font-size="29.5" text-anchor="middle" fill="#000">0</text>
<text x="1144.5" y="1367.3" font-size="29.5" text-anchor="middle" fill="#000">300</text>
<text x="1077.6" y="1395.6" font-size="29.3" text-anchor="middle" fill="#000">Time (ms)</text>
<text x="1307.5" y="1367.3" font-size="29.5" text-anchor="middle" fill="#000">0</text>
<text x="1434.6" y="1367.3" font-size="29.5" text-anchor="middle" fill="#000">300</text>
<text x="1366.7" y="1395.6" font-size="29.3" text-anchor="middle" fill="#000">Time (ms)</text>
<text x="24" y="918.5" font-size="29.2" text-anchor="middle" fill="#000" transform="rotate(-90 24 918.5)">Rate (z-scored)</text>
<text x="24" y="1218.6" font-size="29.2" text-anchor="middle" fill="#000" transform="rotate(-90 24 1218.6)">Rate (z-scored)</text>
<text x="338.5" y="1019" font-size="29" text-anchor="end" fill="#000">500 ms</text>
<line x1="287.4" y1="1026.4" x2="338.8" y2="1026.4" stroke="#111" stroke-width="2"/>
<defs>
<filter id="rfdot" x="0" y="0" width="1" height="1" color-interpolation-filters="sRGB">
<feTurbulence type="fractalNoise" baseFrequency="0.42 0.42" numOctaves="1" seed="3" result="n"/>
<feColorMatrix in="n" type="matrix" values="1 0 0 0 0 1 0 0 0 0 1 0 0 0 0 0 0 0 0 1" result="g"/>
<feComposite in="SourceGraphic" in2="g" operator="arithmetic" k1="0" k2="1" k3="2.0" k4="-1.0" result="c"/>
<feComponentTransfer in="c" result="o"><feFuncR type="linear" slope="-7" intercept="4"/><feFuncG type="linear" slope="-7" intercept="4"/><feFuncB type="linear" slope="-7" intercept="4"/><feFuncA type="linear" slope="0" intercept="1"/></feComponentTransfer>
<feComposite in="o" in2="SourceAlpha" operator="in"/>
</filter>
<filter id="rfdash" x="0" y="0" width="1" height="1" color-interpolation-filters="sRGB">
<feTurbulence type="fractalNoise" baseFrequency="0.34 0.95" numOctaves="1" seed="9" result="n"/>
<feColorMatrix in="n" type="matrix" values="1 0 0 0 0 1 0 0 0 0 1 0 0 0 0 0 0 0 0 1" result="g"/>
<feComposite in="SourceGraphic" in2="g" operator="arithmetic" k1="0" k2="1" k3="2.0" k4="-1.0" result="c"/>
<feComponentTransfer in="c" result="o"><feFuncR type="linear" slope="-5" intercept="3"/><feFuncG type="linear" slope="-5" intercept="3"/><feFuncB type="linear" slope="-5" intercept="3"/><feFuncA type="linear" slope="0" intercept="1"/></feComponentTransfer>
<feComposite in="o" in2="SourceAlpha" operator="in"/>
</filter>
</defs>
<g filter="url(#rfdot)">
<path fill="rgb(38,38,38)" d="M49.8 1494.3h34v129.9h-34zM185.8 1494.3h104v129.9h-104z"/>
<path fill="rgb(83,83,83)" d="M83.8 1494.3h2v129.9h-2zM103.8 1494.3h2v129.9h-2zM124.8 1494.3h2v129.9h-2zM144.8 1494.3h2v129.9h-2zM165.8 1494.3h2v129.9h-2z"/>
<path fill="rgb(13,13,13)" d="M85.8 1494.3h5v129.9h-5zM95.8 1494.3h8v129.9h-8zM105.8 1494.3h6v129.9h-6zM115.8 1494.3h9v129.9h-9zM126.8 1494.3h5v129.9h-5zM136.8 1494.3h8v129.9h-8zM146.8 1494.3h6v129.9h-6zM157.8 1494.3h8v129.9h-8zM167.8 1494.3h5v129.9h-5zM177.8 1494.3h8v129.9h-8z"/>
<path fill="rgb(70,70,70)" d="M90.8 1494.3h5v129.9h-5zM111.8 1494.3h4v129.9h-4zM131.8 1494.3h5v129.9h-5zM152.8 1494.3h5v129.9h-5zM172.8 1494.3h5v129.9h-5z"/>
</g>
<g filter="url(#rfdot)">
<path fill="rgb(38,38,38)" d="M49.8 1694.4h34v129.6h-34zM104.8 1694.4h13v129.6h-13zM138.8 1694.4h13v129.6h-13zM172.8 1694.4h13v129.6h-13zM207.8 1694.4h13v129.6h-13z"/>
<path fill="rgb(57,57,57)" d="M83.8 1694.4h2v129.6h-2zM117.8 1694.4h2v129.6h-2zM151.8 1694.4h2v129.6h-2zM185.8 1694.4h2v129.6h-2zM220.8 1694.4h2v129.6h-2z"/>
<path fill="rgb(32,32,32)" d="M85.8 1694.4h5v129.6h-5zM119.8 1694.4h5v129.6h-5zM153.8 1694.4h6v129.6h-6zM187.8 1694.4h6v129.6h-6zM222.8 1694.4h5v129.6h-5z"/>
<path fill="rgb(51,51,51)" d="M90.8 1694.4h14v129.6h-14zM124.8 1694.4h14v129.6h-14zM159.8 1694.4h13v129.6h-13zM193.8 1694.4h14v129.6h-14zM227.8 1694.4h14v129.6h-14z"/>
<path fill="rgb(45,45,45)" d="M241.8 1694.4h48v129.6h-48z"/>
</g>
<g filter="url(#rfdash)">
<path fill="rgb(134,134,134)" d="M325.5 1494.3h33v129.9h-33z"/>
<path fill="rgb(255,255,255)" d="M358.5 1494.3h3v129.9h-3zM379.5 1494.3h3v129.9h-3zM400.5 1494.3h2v129.9h-2zM420.5 1494.3h3v129.9h-3zM441.5 1494.3h1v129.9h-1z"/>
<path fill="rgb(26,26,26)" d="M361.5 1494.3h7v129.9h-7zM382.5 1494.3h6v129.9h-6zM402.5 1494.3h7v129.9h-7zM423.5 1494.3h6v129.9h-6z"/>
<path fill="rgb(96,96,96)" d="M368.5 1494.3h6v129.9h-6zM388.5 1494.3h7v129.9h-7zM409.5 1494.3h7v129.9h-7zM429.5 1494.3h7v129.9h-7z"/>
<path fill="rgb(45,45,45)" d="M374.5 1494.3h5v129.9h-5zM395.5 1494.3h5v129.9h-5zM416.5 1494.3h4v129.9h-4zM436.5 1494.3h5v129.9h-5z"/>
<path fill="rgb(128,128,128)" d="M442.5 1494.3h2v129.9h-2z"/>
<path fill="rgb(19,19,19)" d="M444.5 1494.3h8v129.9h-8z"/>
<path fill="rgb(76,76,76)" d="M452.5 1494.3h17v129.9h-17z"/>
<path fill="rgb(115,115,115)" d="M469.5 1494.3h98v129.9h-98z"/>
<path fill="#000" d="M325.5 1496h242v2h-242zM325.5 1499h242v1h-242zM325.5 1501h242v2h-242zM325.5 1504h242v1h-242zM325.5 1506h242v2h-242zM325.5 1509h242v2h-242zM325.5 1512h242v1h-242zM325.5 1514h242v2h-242zM325.5 1517h242v1h-242zM325.5 1519h242v2h-242zM325.5 1522h242v2h-242zM325.5 1525h242v1h-242zM325.5 1527h242v2h-242zM325.5 1530h242v1h-242zM325.5 1532h242v2h-242zM325.5 1535h242v2h-242zM325.5 1538h242v1h-242zM325.5 1540h242v2h-242zM325.5 1543h242v1h-242zM325.5 1545h242v2h-242zM325.5 1548h242v2h-242zM325.5 1551h242v1h-242zM325.5 1553h242v2h-242zM325.5 1556h242v1h-242zM325.5 1558h242v2h-242zM325.5 1561h242v2h-242zM325.5 1564h242v1h-242zM325.5 1566h242v2h-242zM325.5 1569h242v1h-242zM325.5 1571h242v2h-242zM325.5 1574h242v2h-242zM325.5 1577h242v1h-242zM325.5 1579h242v2h-242zM325.5 1582h242v1h-242zM325.5 1584h242v2h-242zM325.5 1587h242v2h-242zM325.5 1590h242v1h-242zM325.5 1592h242v2h-242zM325.5 1595h242v1h-242zM325.5 1597h242v2h-242zM325.5 1600h242v2h-242zM325.5 1603h242v1h-242zM325.5 1605h242v2h-242zM325.5 1608h242v1h-242zM325.5 1610h242v2h-242zM325.5 1613h242v2h-242zM325.5 1616h242v1h-242zM325.5 1618h242v2h-242zM325.5 1621h242v1h-242zM325.5 1623h242v2h-242z"/>
</g>
<g filter="url(#rfdash)">
<path fill="rgb(121,121,121)" d="M325.5 1694.4h33v129.6h-33z"/>
<path fill="rgb(255,255,255)" d="M358.5 1694.4h3v129.6h-3zM393.5 1694.4h2v129.6h-2zM427.5 1694.4h3v129.6h-3zM461.5 1694.4h3v129.6h-3zM496.5 1694.4h2v129.6h-2z"/>
<path fill="rgb(38,38,38)" d="M361.5 1694.4h3v129.6h-3zM395.5 1694.4h3v129.6h-3zM430.5 1694.4h2v129.6h-2zM464.5 1694.4h2v129.6h-2zM498.5 1694.4h3v129.6h-3z"/>
<path fill="rgb(89,89,89)" d="M364.5 1694.4h5v129.6h-5zM398.5 1694.4h5v129.6h-5zM432.5 1694.4h6v129.6h-6zM466.5 1694.4h6v129.6h-6zM501.5 1694.4h5v129.6h-5z"/>
<path fill="rgb(191,191,191)" d="M369.5 1694.4h2v129.6h-2zM403.5 1694.4h2v129.6h-2zM438.5 1694.4h2v129.6h-2zM472.5 1694.4h2v129.6h-2zM506.5 1694.4h2v129.6h-2z"/>
<path fill="rgb(45,45,45)" d="M371.5 1694.4h2v129.6h-2zM405.5 1694.4h2v129.6h-2zM440.5 1694.4h2v129.6h-2zM474.5 1694.4h2v129.6h-2zM508.5 1694.4h2v129.6h-2z"/>
<path fill="rgb(96,96,96)" d="M373.5 1694.4h19v129.6h-19zM407.5 1694.4h20v129.6h-20zM442.5 1694.4h19v129.6h-19zM476.5 1694.4h19v129.6h-19z"/>
<path fill="rgb(108,108,108)" d="M392.5 1694.4h1v129.6h-1zM495.5 1694.4h1v129.6h-1zM510.5 1694.4h57v129.6h-57z"/>
<path fill="#000" d="M325.5 1696h242v2h-242zM325.5 1699h242v1h-242zM325.5 1701h242v2h-242zM325.5 1704h242v1h-242zM325.5 1706h242v2h-242zM325.5 1709h242v2h-242zM325.5 1712h242v1h-242zM325.5 1714h242v2h-242zM325.5 1717h242v1h-242zM325.5 1719h242v2h-242zM325.5 1722h242v2h-242zM325.5 1725h242v1h-242zM325.5 1727h242v2h-242zM325.5 1730h242v1h-242zM325.5 1732h242v2h-242zM325.5 1735h242v2h-242zM325.5 1738h242v1h-242zM325.5 1740h242v2h-242zM325.5 1743h242v1h-242zM325.5 1745h242v2h-242zM325.5 1748h242v2h-242zM325.5 1751h242v1h-242zM325.5 1753h242v2h-242zM325.5 1756h242v1h-242zM325.5 1758h242v2h-242zM325.5 1761h242v2h-242zM325.5 1764h242v1h-242zM325.5 1766h242v2h-242zM325.5 1769h242v1h-242zM325.5 1771h242v2h-242zM325.5 1774h242v2h-242zM325.5 1777h242v1h-242zM325.5 1779h242v2h-242zM325.5 1782h242v1h-242zM325.5 1784h242v2h-242zM325.5 1787h242v2h-242zM325.5 1790h242v1h-242zM325.5 1792h242v2h-242zM325.5 1795h242v1h-242zM325.5 1797h242v2h-242zM325.5 1800h242v2h-242zM325.5 1803h242v1h-242zM325.5 1805h242v2h-242zM325.5 1808h242v1h-242zM325.5 1810h242v2h-242zM325.5 1813h242v2h-242zM325.5 1816h242v1h-242zM325.5 1818h242v2h-242zM325.5 1821h242v1h-242zM325.5 1823h242v2h-242z"/>
</g>
<g filter="url(#rfdash)">
<path fill="rgb(128,128,128)" d="M590.7 1494.3h33v129.9h-33z"/>
<path fill="rgb(96,96,96)" d="M623.7 1494.3h2v129.9h-2zM644.7 1494.3h2v129.9h-2zM664.7 1494.3h3v129.9h-3zM685.7 1494.3h2v129.9h-2zM719.7 1494.3h113v129.9h-113z"/>
<path fill="rgb(26,26,26)" d="M625.7 1494.3h8v129.9h-8zM646.7 1494.3h7v129.9h-7zM667.7 1494.3h7v129.9h-7zM687.7 1494.3h8v129.9h-8zM706.7 1494.3h13v129.9h-13z"/>
<path fill="rgb(121,121,121)" d="M633.7 1494.3h10v129.9h-10zM653.7 1494.3h10v129.9h-10zM674.7 1494.3h10v129.9h-10zM695.7 1494.3h9v129.9h-9z"/>
<path fill="rgb(64,64,64)" d="M643.7 1494.3h1v129.9h-1zM663.7 1494.3h1v129.9h-1zM684.7 1494.3h1v129.9h-1zM704.7 1494.3h2v129.9h-2z"/>
<path fill="#000" d="M590.7 1496h242v2h-242zM590.7 1499h242v1h-242zM590.7 1501h242v2h-242zM590.7 1504h242v1h-242zM590.7 1506h242v2h-242zM590.7 1509h242v2h-242zM590.7 1512h242v1h-242zM590.7 1514h242v2h-242zM590.7 1517h242v1h-242zM590.7 1519h242v2h-242zM590.7 1522h242v2h-242zM590.7 1525h242v1h-242zM590.7 1527h242v2h-242zM590.7 1530h242v1h-242zM590.7 1532h242v2h-242zM590.7 1535h242v2h-242zM590.7 1538h242v1h-242zM590.7 1540h242v2h-242zM590.7 1543h242v1h-242zM590.7 1545h242v2h-242zM590.7 1548h242v2h-242zM590.7 1551h242v1h-242zM590.7 1553h242v2h-242zM590.7 1556h242v1h-242zM590.7 1558h242v2h-242zM590.7 1561h242v2h-242zM590.7 1564h242v1h-242zM590.7 1566h242v2h-242zM590.7 1569h242v1h-242zM590.7 1571h242v2h-242zM590.7 1574h242v2h-242zM590.7 1577h242v1h-242zM590.7 1579h242v2h-242zM590.7 1582h242v1h-242zM590.7 1584h242v2h-242zM590.7 1587h242v2h-242zM590.7 1590h242v1h-242zM590.7 1592h242v2h-242zM590.7 1595h242v1h-242zM590.7 1597h242v2h-242zM590.7 1600h242v2h-242zM590.7 1603h242v1h-242zM590.7 1605h242v2h-242zM590.7 1608h242v1h-242zM590.7 1610h242v2h-242zM590.7 1613h242v2h-242zM590.7 1616h242v1h-242zM590.7 1618h242v2h-242zM590.7 1621h242v1h-242zM590.7 1623h242v2h-242z"/>
</g>
<g filter="url(#rfdash)">
<path fill="rgb(121,121,121)" d="M590.7 1694.4h33v129.6h-33zM629.7 1694.4h11v129.6h-11zM663.7 1694.4h12v129.6h-12zM697.7 1694.4h12v129.6h-12zM732.7 1694.4h11v129.6h-11zM766.7 1694.4h8v129.6h-8z"/>
<path fill="rgb(45,45,45)" d="M623.7 1694.4h6v129.6h-6zM658.7 1694.4h5v129.6h-5zM692.7 1694.4h5v129.6h-5zM726.7 1694.4h6v129.6h-6zM760.7 1694.4h6v129.6h-6z"/>
<path fill="rgb(89,89,89)" d="M640.7 1694.4h18v129.6h-18zM675.7 1694.4h17v129.6h-17zM709.7 1694.4h17v129.6h-17zM743.7 1694.4h17v129.6h-17z"/>
<path fill="rgb(96,96,96)" d="M774.7 1694.4h58v129.6h-58z"/>
<path fill="#000" d="M590.7 1696h242v2h-242zM590.7 1699h242v1h-242zM590.7 1701h242v2h-242zM590.7 1704h242v1h-242zM590.7 1706h242v2h-242zM590.7 1709h242v2h-242zM590.7 1712h242v1h-242zM590.7 1714h242v2h-242zM590.7 1717h242v1h-242zM590.7 1719h242v2h-242zM590.7 1722h242v2h-242zM590.7 1725h242v1h-242zM590.7 1727h242v2h-242zM590.7 1730h242v1h-242zM590.7 1732h242v2h-242zM590.7 1735h242v2h-242zM590.7 1738h242v1h-242zM590.7 1740h242v2h-242zM590.7 1743h242v1h-242zM590.7 1745h242v2h-242zM590.7 1748h242v2h-242zM590.7 1751h242v1h-242zM590.7 1753h242v2h-242zM590.7 1756h242v1h-242zM590.7 1758h242v2h-242zM590.7 1761h242v2h-242zM590.7 1764h242v1h-242zM590.7 1766h242v2h-242zM590.7 1769h242v1h-242zM590.7 1771h242v2h-242zM590.7 1774h242v2h-242zM590.7 1777h242v1h-242zM590.7 1779h242v2h-242zM590.7 1782h242v1h-242zM590.7 1784h242v2h-242zM590.7 1787h242v2h-242zM590.7 1790h242v1h-242zM590.7 1792h242v2h-242zM590.7 1795h242v1h-242zM590.7 1797h242v2h-242zM590.7 1800h242v2h-242zM590.7 1803h242v1h-242zM590.7 1805h242v2h-242zM590.7 1808h242v1h-242zM590.7 1810h242v2h-242zM590.7 1813h242v2h-242zM590.7 1816h242v1h-242zM590.7 1818h242v2h-242zM590.7 1821h242v1h-242zM590.7 1823h242v2h-242z"/>
</g>
<g filter="url(#rfdash)">
<path fill="rgb(134,134,134)" d="M865.8 1494.3h34v129.9h-34z"/>
<path fill="rgb(19,19,19)" d="M899.8 1494.3h4v129.9h-4zM919.8 1494.3h5v129.9h-5zM940.8 1494.3h5v129.9h-5zM960.8 1494.3h5v129.9h-5zM981.8 1494.3h14v129.9h-14z"/>
<path fill="rgb(89,89,89)" d="M903.8 1494.3h9v129.9h-9zM924.8 1494.3h9v129.9h-9zM945.8 1494.3h8v129.9h-8zM965.8 1494.3h9v129.9h-9zM995.8 1494.3h112v129.9h-112z"/>
<path fill="rgb(38,38,38)" d="M912.8 1494.3h7v129.9h-7zM933.8 1494.3h7v129.9h-7zM953.8 1494.3h7v129.9h-7zM974.8 1494.3h7v129.9h-7z"/>
<path fill="#000" d="M865.8 1496h242v2h-242zM865.8 1499h242v1h-242zM865.8 1501h242v2h-242zM865.8 1504h242v1h-242zM865.8 1506h242v2h-242zM865.8 1509h242v2h-242zM865.8 1512h242v1h-242zM865.8 1514h242v2h-242zM865.8 1517h242v1h-242zM865.8 1519h242v2h-242zM865.8 1522h242v2h-242zM865.8 1525h242v1h-242zM865.8 1527h242v2h-242zM865.8 1530h242v1h-242zM865.8 1532h242v2h-242zM865.8 1535h242v2h-242zM865.8 1538h242v1h-242zM865.8 1540h242v2h-242zM865.8 1543h242v1h-242zM865.8 1545h242v2h-242zM865.8 1548h242v2h-242zM865.8 1551h242v1h-242zM865.8 1553h242v2h-242zM865.8 1556h242v1h-242zM865.8 1558h242v2h-242zM865.8 1561h242v2h-242zM865.8 1564h242v1h-242zM865.8 1566h242v2h-242zM865.8 1569h242v1h-242zM865.8 1571h242v2h-242zM865.8 1574h242v2h-242zM865.8 1577h242v1h-242zM865.8 1579h242v2h-242zM865.8 1582h242v1h-242zM865.8 1584h242v2h-242zM865.8 1587h242v2h-242zM865.8 1590h242v1h-242zM865.8 1592h242v2h-242zM865.8 1595h242v1h-242zM865.8 1597h242v2h-242zM865.8 1600h242v2h-242zM865.8 1603h242v1h-242zM865.8 1605h242v2h-242zM865.8 1608h242v1h-242zM865.8 1610h242v2h-242zM865.8 1613h242v2h-242zM865.8 1616h242v1h-242zM865.8 1618h242v2h-242zM865.8 1621h242v1h-242zM865.8 1623h242v2h-242z"/>
</g>
<g filter="url(#rfdash)">
<path fill="rgb(108,108,108)" d="M865.8 1694.4h34v129.6h-34z"/>
<path fill="rgb(19,19,19)" d="M899.8 1694.4h6v129.6h-6zM933.8 1694.4h6v129.6h-6zM967.8 1694.4h6v129.6h-6zM1002.8 1694.4h6v129.6h-6zM1036.8 1694.4h6v129.6h-6z"/>
<path fill="rgb(96,96,96)" d="M905.8 1694.4h14v129.6h-14zM939.8 1694.4h14v129.6h-14zM973.8 1694.4h15v129.6h-15zM1008.8 1694.4h14v129.6h-14zM1042.8 1694.4h14v129.6h-14z"/>
<path fill="rgb(64,64,64)" d="M919.8 1694.4h14v129.6h-14zM953.8 1694.4h14v129.6h-14zM988.8 1694.4h14v129.6h-14zM1022.8 1694.4h14v129.6h-14z"/>
<path fill="rgb(76,76,76)" d="M1056.8 1694.4h51v129.6h-51z"/>
<path fill="#000" d="M865.8 1696h242v2h-242zM865.8 1699h242v1h-242zM865.8 1701h242v2h-242zM865.8 1704h242v1h-242zM865.8 1706h242v2h-242zM865.8 1709h242v2h-242zM865.8 1712h242v1h-242zM865.8 1714h242v2h-242zM865.8 1717h242v1h-242zM865.8 1719h242v2h-242zM865.8 1722h242v2h-242zM865.8 1725h242v1h-242zM865.8 1727h242v2h-242zM865.8 1730h242v1h-242zM865.8 1732h242v2h-242zM865.8 1735h242v2h-242zM865.8 1738h242v1h-242zM865.8 1740h242v2h-242zM865.8 1743h242v1h-242zM865.8 1745h242v2h-242zM865.8 1748h242v2h-242zM865.8 1751h242v1h-242zM865.8 1753h242v2h-242zM865.8 1756h242v1h-242zM865.8 1758h242v2h-242zM865.8 1761h242v2h-242zM865.8 1764h242v1h-242zM865.8 1766h242v2h-242zM865.8 1769h242v1h-242zM865.8 1771h242v2h-242zM865.8 1774h242v2h-242zM865.8 1777h242v1h-242zM865.8 1779h242v2h-242zM865.8 1782h242v1h-242zM865.8 1784h242v2h-242zM865.8 1787h242v2h-242zM865.8 1790h242v1h-242zM865.8 1792h242v2h-242zM865.8 1795h242v1h-242zM865.8 1797h242v2h-242zM865.8 1800h242v2h-242zM865.8 1803h242v1h-242zM865.8 1805h242v2h-242zM865.8 1808h242v1h-242zM865.8 1810h242v2h-242zM865.8 1813h242v2h-242zM865.8 1816h242v1h-242zM865.8 1818h242v2h-242zM865.8 1821h242v1h-242zM865.8 1823h242v2h-242z"/>
</g>
<path d="M360.2 1495.3V1623.2M380.8 1495.3V1623.2M401.4 1495.3V1623.2M422 1495.3V1623.2" stroke="#000" stroke-opacity="0.9" stroke-width="1.8" stroke-dasharray="1.1 1.4"/>
<path d="M442.6 1495.3V1623.2" stroke="#000" stroke-opacity="0.6" stroke-width="1.2" stroke-dasharray="1.1 1.4"/>
<path d="M360.2 1695.4V1823M394.5 1695.4V1823M428.8 1695.4V1823M463.1 1695.4V1823M497.4 1695.4V1823" stroke="#000" stroke-opacity="0.85" stroke-width="1.6" stroke-dasharray="1.1 1.4"/>
<path d="M370.5 1695.4V1823M404.8 1695.4V1823M439.1 1695.4V1823M473.4 1695.4V1823" stroke="#000" stroke-opacity="0.5" stroke-width="1.0" stroke-dasharray="1.1 1.4"/>
<path d="M899.7 1495.3V1623.2M982.4 1495.3V1623.2" stroke="#000" stroke-opacity="0.7" stroke-width="1.3" stroke-dasharray="1.1 1.4"/>
<path d="M899.7 1695.4V1823" stroke="#000" stroke-opacity="0.5" stroke-width="1.0" stroke-dasharray="1.1 1.4"/>
<path stroke="#dcdcdc" stroke-width="1" d="M58.3 1670.9v-7.5M58.3 1663.4v-7.5M63.3 1670.9v-7.5M73.3 1670.9v-7.5M86.3 1670.9v-7.5M92.3 1663.4v-7.5M92.3 1655.9v-7.5M96.3 1670.9v-7.5M98.3 1663.4v-7.5M99.3 1670.9v-7.5M134.3 1663.4v-7.5M134.3 1655.9v-7.5M134.3 1648.4v-7.5M142.3 1670.9v-7.5M142.3 1663.4v-7.5M155.3 1670.9v-7.5M155.3 1663.4v-7.5M155.3 1655.9v-7.5M155.3 1648.4v-7.5M166.3 1663.4v-7.5M174.3 1670.9v-7.5M184.3 1663.4v-7.5M199.3 1670.9v-7.5M237.3 1670.9v-7.5M255.3 1670.9v-7.5"/>
<path stroke="#c0c0c0" stroke-width="1" d="M51.3 1678.4v-7.5M52.3 1678.4v-7.5M55.3 1670.9v-7.5M56.3 1678.4v-7.5M57.3 1670.9v-7.5M58.3 1678.4v-7.5M59.3 1670.9v-7.5M63.3 1678.4v-7.5M66.3 1678.4v-7.5M67.3 1678.4v-7.5M73.3 1678.4v-7.5M75.3 1670.9v-7.5M76.3 1670.9v-7.5M78.3 1670.9v-7.5M79.3 1670.9v-7.5M83.3 1663.4v-7.5M86.3 1678.4v-7.5M87.3 1678.4v-7.5M88.3 1670.9v-7.5M92.3 1670.9v-7.5M94.3 1678.4v-7.5M95.3 1678.4v-7.5M96.3 1678.4v-7.5M97.3 1678.4v-7.5M98.3 1670.9v-7.5M99.3 1678.4v-7.5M103.3 1678.4v-7.5M104.3 1663.4v-7.5M109.3 1678.4v-7.5M110.3 1663.4v-7.5M112.3 1663.4v-7.5M112.3 1655.9v-7.5M116.3 1678.4v-7.5M120.3 1670.9v-7.5M126.3 1670.9v-7.5M127.3 1678.4v-7.5M134.3 1670.9v-7.5M135.3 1670.9v-7.5M136.3 1670.9v-7.5M138.3 1670.9v-7.5M142.3 1678.4v-7.5M145.3 1670.9v-7.5M146.3 1670.9v-7.5M147.3 1678.4v-7.5M151.3 1678.4v-7.5M155.3 1678.4v-7.5M162.3 1678.4v-7.5M164.3 1678.4v-7.5M165.3 1678.4v-7.5M166.3 1670.9v-7.5M167.3 1670.9v-7.5M171.3 1678.4v-7.5M174.3 1678.4v-7.5M176.3 1678.4v-7.5M180.3 1678.4v-7.5M182.3 1663.4v-7.5M183.3 1678.4v-7.5M184.3 1670.9v-7.5M186.3 1678.4v-7.5M199.3 1678.4v-7.5M204.3 1678.4v-7.5M208.3 1678.4v-7.5M211.3 1670.9v-7.5M214.3 1678.4v-7.5M217.3 1678.4v-7.5M219.3 1678.4v-7.5M220.3 1670.9v-7.5M226.3 1678.4v-7.5M230.3 1678.4v-7.5M231.3 1678.4v-7.5M233.3 1678.4v-7.5M236.3 1670.9v-7.5M237.3 1678.4v-7.5M238.3 1678.4v-7.5M243.3 1670.9v-7.5M245.3 1670.9v-7.5M246.3 1678.4v-7.5M247.3 1678.4v-7.5M249.3 1670.9v-7.5M250.3 1670.9v-7.5M255.3 1678.4v-7.5M257.3 1670.9v-7.5M263.3 1678.4v-7.5M265.3 1670.9v-7.5M268.3 1670.9v-7.5M271.3 1670.9v-7.5M273.3 1670.9v-7.5M274.3 1670.9v-7.5M275.3 1670.9v-7.5M277.3 1678.4v-7.5M279.3 1663.4v-7.5M282.3 1678.4v-7.5M287.3 1678.4v-7.5"/>
<path stroke="#8a8a8a" stroke-width="1" d="M53.3 1678.4v-7.5M54.3 1678.4v-7.5M55.3 1678.4v-7.5M57.3 1678.4v-7.5M59.3 1678.4v-7.5M61.3 1678.4v-7.5M64.3 1678.4v-7.5M68.3 1678.4v-7.5M69.3 1678.4v-7.5M70.3 1678.4v-7.5M71.3 1678.4v-7.5M75.3 1678.4v-7.5M76.3 1678.4v-7.5M78.3 1678.4v-7.5M79.3 1678.4v-7.5M81.3 1678.4v-7.5M83.3 1670.9v-7.5M84.3 1663.4v-7.5M85.3 1678.4v-7.5M88.3 1678.4v-7.5M91.3 1678.4v-7.5M92.3 1678.4v-7.5M93.3 1678.4v-7.5M98.3 1678.4v-7.5M100.3 1678.4v-7.5M102.3 1678.4v-7.5M104.3 1670.9v-7.5M105.3 1678.4v-7.5M106.3 1678.4v-7.5M108.3 1678.4v-7.5M110.3 1670.9v-7.5M111.3 1678.4v-7.5M112.3 1670.9v-7.5M113.3 1678.4v-7.5M119.3 1678.4v-7.5M120.3 1678.4v-7.5M121.3 1678.4v-7.5M122.3 1670.9v-7.5M123.3 1678.4v-7.5M124.3 1678.4v-7.5M126.3 1678.4v-7.5M130.3 1678.4v-7.5M131.3 1678.4v-7.5M132.3 1670.9v-7.5M133.3 1678.4v-7.5M134.3 1678.4v-7.5M135.3 1678.4v-7.5M136.3 1678.4v-7.5M137.3 1678.4v-7.5M138.3 1678.4v-7.5M140.3 1678.4v-7.5M141.3 1678.4v-7.5M143.3 1678.4v-7.5M145.3 1678.4v-7.5M146.3 1678.4v-7.5M148.3 1678.4v-7.5M149.3 1678.4v-7.5M152.3 1678.4v-7.5M153.3 1678.4v-7.5M154.3 1670.9v-7.5M159.3 1678.4v-7.5M160.3 1678.4v-7.5M166.3 1678.4v-7.5M167.3 1678.4v-7.5M172.3 1678.4v-7.5M173.3 1678.4v-7.5M175.3 1678.4v-7.5M177.3 1678.4v-7.5M178.3 1678.4v-7.5M179.3 1670.9v-7.5M181.3 1678.4v-7.5M182.3 1670.9v-7.5M184.3 1678.4v-7.5M188.3 1670.9v-7.5M189.3 1678.4v-7.5M193.3 1678.4v-7.5M195.3 1678.4v-7.5M196.3 1678.4v-7.5M198.3 1678.4v-7.5M200.3 1678.4v-7.5M201.3 1678.4v-7.5M203.3 1678.4v-7.5M205.3 1678.4v-7.5M209.3 1678.4v-7.5M210.3 1670.9v-7.5M211.3 1678.4v-7.5M212.3 1678.4v-7.5M213.3 1678.4v-7.5M216.3 1678.4v-7.5M218.3 1678.4v-7.5M220.3 1678.4v-7.5M222.3 1678.4v-7.5M223.3 1678.4v-7.5M224.3 1678.4v-7.5M227.3 1678.4v-7.5M228.3 1678.4v-7.5M229.3 1678.4v-7.5M232.3 1678.4v-7.5M235.3 1678.4v-7.5M236.3 1678.4v-7.5M239.3 1678.4v-7.5M240.3 1678.4v-7.5M241.3 1678.4v-7.5M243.3 1678.4v-7.5M244.3 1678.4v-7.5M245.3 1678.4v-7.5M248.3 1678.4v-7.5M249.3 1678.4v-7.5M250.3 1678.4v-7.5M251.3 1678.4v-7.5M252.3 1678.4v-7.5M253.3 1670.9v-7.5M254.3 1678.4v-7.5M256.3 1678.4v-7.5M257.3 1678.4v-7.5M258.3 1678.4v-7.5M259.3 1678.4v-7.5M261.3 1678.4v-7.5M264.3 1678.4v-7.5M265.3 1678.4v-7.5M266.3 1678.4v-7.5M268.3 1678.4v-7.5M270.3 1678.4v-7.5M271.3 1678.4v-7.5M273.3 1678.4v-7.5M274.3 1678.4v-7.5M275.3 1678.4v-7.5M279.3 1670.9v-7.5M280.3 1678.4v-7.5M283.3 1678.4v-7.5M284.3 1678.4v-7.5M285.3 1678.4v-7.5M286.3 1678.4v-7.5M288.3 1670.9v-7.5"/>
<path stroke="#111" stroke-width="1" d="M72.3 1678.4v-7.5M77.3 1678.4v-7.5M80.3 1678.4v-7.5M82.3 1678.4v-7.5M83.3 1678.4v-7.5M84.3 1678.4v-7.5M84.3 1670.9v-7.5M90.3 1678.4v-7.5M101.3 1678.4v-7.5M104.3 1678.4v-7.5M110.3 1678.4v-7.5M112.3 1678.4v-7.5M114.3 1678.4v-7.5M122.3 1678.4v-7.5M125.3 1678.4v-7.5M125.3 1670.9v-7.5M128.3 1678.4v-7.5M129.3 1678.4v-7.5M132.3 1678.4v-7.5M144.3 1678.4v-7.5M150.3 1678.4v-7.5M154.3 1678.4v-7.5M161.3 1678.4v-7.5M163.3 1678.4v-7.5M168.3 1678.4v-7.5M170.3 1678.4v-7.5M179.3 1678.4v-7.5M182.3 1678.4v-7.5M188.3 1678.4v-7.5M191.3 1678.4v-7.5M192.3 1678.4v-7.5M197.3 1678.4v-7.5M206.3 1678.4v-7.5M210.3 1678.4v-7.5M215.3 1678.4v-7.5M221.3 1678.4v-7.5M225.3 1678.4v-7.5M242.3 1678.4v-7.5M253.3 1678.4v-7.5M267.3 1678.4v-7.5M269.3 1678.4v-7.5M279.3 1678.4v-7.5M281.3 1678.4v-7.5M288.3 1678.4v-7.5M289.3 1678.4v-7.5"/>
<path stroke="#d8d8d8" stroke-width="1" d="M53.3 1871.1v-7.5M96.3 1871.1v-7.5M96.3 1863.6v-7.5M97.3 1871.1v-7.5M98.3 1871.1v-7.5M110.3 1871.1v-7.5M116.3 1863.6v-7.5M129.3 1871.1v-7.5M131.3 1871.1v-7.5M131.3 1863.6v-7.5M131.3 1856.1v-7.5M135.3 1871.1v-7.5M145.3 1871.1v-7.5M145.3 1863.6v-7.5M155.3 1863.6v-7.5M161.3 1871.1v-7.5M162.3 1871.1v-7.5M162.3 1863.6v-7.5M163.3 1871.1v-7.5M167.3 1871.1v-7.5M170.3 1863.6v-7.5M191.3 1871.1v-7.5M196.3 1871.1v-7.5M197.3 1871.1v-7.5M199.3 1871.1v-7.5M204.3 1871.1v-7.5M211.3 1871.1v-7.5M211.3 1863.6v-7.5M215.3 1871.1v-7.5M221.3 1871.1v-7.5M221.3 1863.6v-7.5M221.3 1856.1v-7.5M231.3 1871.1v-7.5M231.3 1863.6v-7.5M233.3 1871.1v-7.5M239.3 1863.6v-7.5M250.3 1863.6v-7.5M250.3 1856.1v-7.5M251.3 1863.6v-7.5M253.3 1871.1v-7.5M253.3 1863.6v-7.5M278.3 1871.1v-7.5"/>
<path stroke="#b0b0b0" stroke-width="1" d="M53.3 1878.6v-7.5M54.3 1878.6v-7.5M58.3 1878.6v-7.5M59.3 1878.6v-7.5M63.3 1878.6v-7.5M69.3 1878.6v-7.5M70.3 1871.1v-7.5M75.3 1878.6v-7.5M77.3 1871.1v-7.5M84.3 1863.6v-7.5M85.3 1878.6v-7.5M87.3 1871.1v-7.5M88.3 1871.1v-7.5M89.3 1878.6v-7.5M90.3 1878.6v-7.5M91.3 1878.6v-7.5M92.3 1878.6v-7.5M93.3 1871.1v-7.5M96.3 1878.6v-7.5M97.3 1878.6v-7.5M98.3 1878.6v-7.5M100.3 1871.1v-7.5M101.3 1871.1v-7.5M103.3 1878.6v-7.5M110.3 1878.6v-7.5M114.3 1871.1v-7.5M115.3 1871.1v-7.5M116.3 1871.1v-7.5M117.3 1871.1v-7.5M120.3 1871.1v-7.5M126.3 1871.1v-7.5M128.3 1878.6v-7.5M129.3 1878.6v-7.5M130.3 1878.6v-7.5M131.3 1878.6v-7.5M135.3 1878.6v-7.5M136.3 1878.6v-7.5M140.3 1878.6v-7.5M141.3 1871.1v-7.5M145.3 1878.6v-7.5M146.3 1871.1v-7.5M147.3 1878.6v-7.5M148.3 1878.6v-7.5M150.3 1871.1v-7.5M152.3 1871.1v-7.5M154.3 1871.1v-7.5M155.3 1871.1v-7.5M159.3 1871.1v-7.5M161.3 1878.6v-7.5M162.3 1878.6v-7.5M163.3 1878.6v-7.5M164.3 1878.6v-7.5M166.3 1878.6v-7.5M167.3 1878.6v-7.5M170.3 1871.1v-7.5M173.3 1871.1v-7.5M180.3 1878.6v-7.5M181.3 1871.1v-7.5M185.3 1878.6v-7.5M187.3 1863.6v-7.5M187.3 1856.1v-7.5M191.3 1878.6v-7.5M194.3 1871.1v-7.5M196.3 1878.6v-7.5M197.3 1878.6v-7.5M199.3 1878.6v-7.5M201.3 1871.1v-7.5M203.3 1878.6v-7.5M204.3 1878.6v-7.5M205.3 1878.6v-7.5M208.3 1878.6v-7.5M211.3 1878.6v-7.5M212.3 1878.6v-7.5M213.3 1878.6v-7.5M215.3 1878.6v-7.5M221.3 1878.6v-7.5M222.3 1878.6v-7.5M223.3 1871.1v-7.5M225.3 1871.1v-7.5M227.3 1878.6v-7.5M231.3 1878.6v-7.5M232.3 1871.1v-7.5M233.3 1878.6v-7.5M235.3 1871.1v-7.5M237.3 1871.1v-7.5M239.3 1871.1v-7.5M242.3 1878.6v-7.5M247.3 1878.6v-7.5M249.3 1878.6v-7.5M250.3 1871.1v-7.5M251.3 1871.1v-7.5M252.3 1878.6v-7.5M253.3 1878.6v-7.5M254.3 1878.6v-7.5M255.3 1878.6v-7.5M259.3 1871.1v-7.5M266.3 1871.1v-7.5M267.3 1871.1v-7.5M273.3 1871.1v-7.5M275.3 1871.1v-7.5M278.3 1878.6v-7.5M284.3 1871.1v-7.5M285.3 1878.6v-7.5M287.3 1871.1v-7.5"/>
<path stroke="#707070" stroke-width="1" d="M51.3 1878.6v-7.5M52.3 1878.6v-7.5M55.3 1878.6v-7.5M57.3 1878.6v-7.5M60.3 1878.6v-7.5M61.3 1878.6v-7.5M62.3 1878.6v-7.5M64.3 1871.1v-7.5M65.3 1878.6v-7.5M66.3 1871.1v-7.5M67.3 1878.6v-7.5M70.3 1878.6v-7.5M71.3 1878.6v-7.5M73.3 1878.6v-7.5M74.3 1878.6v-7.5M76.3 1878.6v-7.5M77.3 1878.6v-7.5M78.3 1878.6v-7.5M80.3 1878.6v-7.5M81.3 1878.6v-7.5M82.3 1871.1v-7.5M84.3 1871.1v-7.5M87.3 1878.6v-7.5M88.3 1878.6v-7.5M93.3 1878.6v-7.5M95.3 1871.1v-7.5M99.3 1878.6v-7.5M100.3 1878.6v-7.5M101.3 1878.6v-7.5M102.3 1878.6v-7.5M104.3 1878.6v-7.5M105.3 1871.1v-7.5M106.3 1878.6v-7.5M108.3 1878.6v-7.5M111.3 1871.1v-7.5M112.3 1878.6v-7.5M113.3 1878.6v-7.5M114.3 1878.6v-7.5M115.3 1878.6v-7.5M116.3 1878.6v-7.5M117.3 1878.6v-7.5M118.3 1878.6v-7.5M120.3 1878.6v-7.5M121.3 1871.1v-7.5M123.3 1878.6v-7.5M124.3 1878.6v-7.5M126.3 1878.6v-7.5M127.3 1878.6v-7.5M132.3 1878.6v-7.5M133.3 1871.1v-7.5M134.3 1878.6v-7.5M137.3 1878.6v-7.5M138.3 1878.6v-7.5M141.3 1878.6v-7.5M144.3 1878.6v-7.5M146.3 1878.6v-7.5M149.3 1878.6v-7.5M150.3 1878.6v-7.5M151.3 1878.6v-7.5M152.3 1878.6v-7.5M154.3 1878.6v-7.5M155.3 1878.6v-7.5M157.3 1878.6v-7.5M158.3 1878.6v-7.5M159.3 1878.6v-7.5M165.3 1878.6v-7.5M168.3 1878.6v-7.5M169.3 1878.6v-7.5M170.3 1878.6v-7.5M171.3 1878.6v-7.5M172.3 1878.6v-7.5M173.3 1878.6v-7.5M174.3 1871.1v-7.5M175.3 1878.6v-7.5M181.3 1878.6v-7.5M182.3 1878.6v-7.5M183.3 1878.6v-7.5M184.3 1878.6v-7.5M187.3 1871.1v-7.5M189.3 1878.6v-7.5M192.3 1878.6v-7.5M193.3 1878.6v-7.5M194.3 1878.6v-7.5M195.3 1871.1v-7.5M198.3 1878.6v-7.5M200.3 1878.6v-7.5M201.3 1878.6v-7.5M202.3 1878.6v-7.5M210.3 1878.6v-7.5M214.3 1878.6v-7.5M217.3 1878.6v-7.5M218.3 1878.6v-7.5M219.3 1878.6v-7.5M223.3 1878.6v-7.5M225.3 1878.6v-7.5M226.3 1878.6v-7.5M228.3 1878.6v-7.5M232.3 1878.6v-7.5M235.3 1878.6v-7.5M236.3 1878.6v-7.5M237.3 1878.6v-7.5M238.3 1878.6v-7.5M239.3 1878.6v-7.5M240.3 1878.6v-7.5M241.3 1878.6v-7.5M243.3 1878.6v-7.5M245.3 1878.6v-7.5M246.3 1878.6v-7.5M250.3 1878.6v-7.5M251.3 1878.6v-7.5M256.3 1878.6v-7.5M257.3 1878.6v-7.5M259.3 1878.6v-7.5M263.3 1878.6v-7.5M264.3 1878.6v-7.5M266.3 1878.6v-7.5M267.3 1878.6v-7.5M269.3 1878.6v-7.5M270.3 1871.1v-7.5M271.3 1878.6v-7.5M273.3 1878.6v-7.5M275.3 1878.6v-7.5M284.3 1878.6v-7.5M286.3 1878.6v-7.5M287.3 1878.6v-7.5M288.3 1878.6v-7.5M289.3 1878.6v-7.5"/>
<path stroke="#111" stroke-width="1" d="M64.3 1878.6v-7.5M66.3 1878.6v-7.5M72.3 1878.6v-7.5M82.3 1878.6v-7.5M83.3 1878.6v-7.5M84.3 1878.6v-7.5M95.3 1878.6v-7.5M105.3 1878.6v-7.5M109.3 1878.6v-7.5M111.3 1878.6v-7.5M119.3 1878.6v-7.5M121.3 1878.6v-7.5M122.3 1878.6v-7.5M133.3 1878.6v-7.5M139.3 1878.6v-7.5M142.3 1878.6v-7.5M153.3 1878.6v-7.5M160.3 1878.6v-7.5M174.3 1878.6v-7.5M178.3 1878.6v-7.5M179.3 1878.6v-7.5M186.3 1878.6v-7.5M187.3 1878.6v-7.5M190.3 1878.6v-7.5M195.3 1878.6v-7.5M206.3 1878.6v-7.5M209.3 1878.6v-7.5M220.3 1878.6v-7.5M224.3 1878.6v-7.5M229.3 1878.6v-7.5M230.3 1878.6v-7.5M234.3 1878.6v-7.5M244.3 1878.6v-7.5M261.3 1878.6v-7.5M270.3 1878.6v-7.5M281.3 1878.6v-7.5M282.3 1878.6v-7.5"/>
<path stroke="#bbb" stroke-width="1" d="M328 1676v-2.4M367 1676v-2.4M375 1676v-2.4M378 1676v-2.4M380 1676v-2.4M381 1676v-2.4M388 1676v-2.4M391 1673.6v-2.4M392 1676v-2.4M398 1676v-2.4M409 1673.6v-2.4M410 1673.6v-2.4M410 1671.2v-2.4M412 1673.6v-2.4M413 1676v-2.4M454 1673.6v-2.4M454 1671.2v-2.4M563 1676v-2.4"/>
<path stroke="#888" stroke-width="1" d="M327 1678.4v-2.4M328 1678.4v-2.4M332 1678.4v-2.4M335 1678.4v-2.4M336 1673.6v-2.4M337 1678.4v-2.4M341 1678.4v-2.4M342 1678.4v-2.4M343 1678.4v-2.4M351 1678.4v-2.4M352 1678.4v-2.4M355 1676v-2.4M357 1676v-2.4M358 1678.4v-2.4M362 1678.4v-2.4M366 1678.4v-2.4M367 1678.4v-2.4M369 1673.6v-2.4M371 1676v-2.4M372 1676v-2.4M375 1678.4v-2.4M377 1678.4v-2.4M378 1678.4v-2.4M380 1678.4v-2.4M381 1678.4v-2.4M383 1676v-2.4M385 1678.4v-2.4M388 1678.4v-2.4M389 1676v-2.4M390 1673.6v-2.4M390 1671.2v-2.4M391 1676v-2.4M392 1678.4v-2.4M396 1678.4v-2.4M397 1678.4v-2.4M398 1678.4v-2.4M400 1678.4v-2.4M401 1676v-2.4M404 1678.4v-2.4M409 1676v-2.4M410 1676v-2.4M412 1676v-2.4M413 1678.4v-2.4M415 1676v-2.4M417 1676v-2.4M419 1678.4v-2.4M425 1678.4v-2.4M427 1676v-2.4M429 1678.4v-2.4M431 1673.6v-2.4M433 1676v-2.4M434 1678.4v-2.4M436 1678.4v-2.4M453 1676v-2.4M454 1676v-2.4M458 1678.4v-2.4M459 1676v-2.4M460 1678.4v-2.4M461 1678.4v-2.4M462 1678.4v-2.4M463 1678.4v-2.4M464 1678.4v-2.4M471 1678.4v-2.4M473 1676v-2.4M479 1676v-2.4M481 1678.4v-2.4M482 1678.4v-2.4M487 1678.4v-2.4M488 1673.6v-2.4M493 1678.4v-2.4M498 1676v-2.4M502 1678.4v-2.4M503 1678.4v-2.4M505 1678.4v-2.4M508 1678.4v-2.4M509 1678.4v-2.4M513 1678.4v-2.4M514 1678.4v-2.4M518 1678.4v-2.4M531 1678.4v-2.4M534 1678.4v-2.4M536 1678.4v-2.4M543 1678.4v-2.4M546 1678.4v-2.4M551 1678.4v-2.4M556 1678.4v-2.4M557 1678.4v-2.4M562 1678.4v-2.4M563 1678.4v-2.4"/>
<path stroke="#444" stroke-width="1" d="M329 1678.4v-2.4M330 1678.4v-2.4M331 1678.4v-2.4M333 1678.4v-2.4M334 1678.4v-2.4M336 1676v-2.4M338 1678.4v-2.4M339 1678.4v-2.4M340 1678.4v-2.4M344 1678.4v-2.4M345 1678.4v-2.4M346 1678.4v-2.4M347 1678.4v-2.4M349 1678.4v-2.4M350 1678.4v-2.4M354 1678.4v-2.4M355 1678.4v-2.4M356 1678.4v-2.4M357 1678.4v-2.4M360 1676v-2.4M364 1678.4v-2.4M365 1678.4v-2.4M369 1676v-2.4M371 1678.4v-2.4M372 1678.4v-2.4M373 1678.4v-2.4M379 1678.4v-2.4M383 1678.4v-2.4M384 1678.4v-2.4M387 1678.4v-2.4M389 1678.4v-2.4M390 1676v-2.4M391 1678.4v-2.4M393 1678.4v-2.4M394 1678.4v-2.4M395 1678.4v-2.4M399 1678.4v-2.4M401 1678.4v-2.4M402 1678.4v-2.4M405 1678.4v-2.4M406 1678.4v-2.4M409 1678.4v-2.4M410 1678.4v-2.4M411 1673.6v-2.4M412 1678.4v-2.4M414 1678.4v-2.4M415 1678.4v-2.4M416 1678.4v-2.4M417 1678.4v-2.4M418 1678.4v-2.4M420 1678.4v-2.4M421 1676v-2.4M422 1673.6v-2.4M422 1671.2v-2.4M423 1678.4v-2.4M426 1678.4v-2.4M427 1678.4v-2.4M428 1678.4v-2.4M431 1676v-2.4M433 1678.4v-2.4M435 1678.4v-2.4M437 1678.4v-2.4M438 1676v-2.4M440 1678.4v-2.4M443 1678.4v-2.4M444 1678.4v-2.4M445 1678.4v-2.4M449 1678.4v-2.4M450 1678.4v-2.4M451 1676v-2.4M453 1678.4v-2.4M454 1678.4v-2.4M455 1678.4v-2.4M459 1678.4v-2.4M465 1678.4v-2.4M466 1678.4v-2.4M467 1678.4v-2.4M468 1678.4v-2.4M469 1678.4v-2.4M470 1678.4v-2.4M472 1678.4v-2.4M473 1678.4v-2.4M474 1678.4v-2.4M475 1678.4v-2.4M477 1678.4v-2.4M479 1678.4v-2.4M483 1678.4v-2.4M484 1678.4v-2.4M485 1678.4v-2.4M486 1678.4v-2.4M488 1676v-2.4M489 1678.4v-2.4M490 1678.4v-2.4M492 1676v-2.4M494 1678.4v-2.4M495 1678.4v-2.4M497 1678.4v-2.4M498 1678.4v-2.4M499 1678.4v-2.4M500 1678.4v-2.4M501 1678.4v-2.4M504 1678.4v-2.4M506 1678.4v-2.4M507 1678.4v-2.4M511 1678.4v-2.4M515 1678.4v-2.4M516 1678.4v-2.4M517 1678.4v-2.4M519 1678.4v-2.4M520 1678.4v-2.4M521 1678.4v-2.4M522 1678.4v-2.4M523 1678.4v-2.4M524 1678.4v-2.4M525 1678.4v-2.4M526 1678.4v-2.4M529 1678.4v-2.4M532 1678.4v-2.4M533 1678.4v-2.4M535 1678.4v-2.4M538 1678.4v-2.4M540 1678.4v-2.4M541 1678.4v-2.4M542 1678.4v-2.4M544 1678.4v-2.4M547 1678.4v-2.4M548 1676v-2.4M549 1678.4v-2.4M550 1678.4v-2.4M552 1678.4v-2.4M553 1678.4v-2.4M554 1678.4v-2.4M559 1678.4v-2.4M560 1678.4v-2.4M561 1678.4v-2.4M566 1678.4v-2.4"/>
<path stroke="#222" stroke-width="1" d="M359.9 1678.4v-38M380.5 1678.4v-38M401.1 1678.4v-34M421.6 1678.4v-30M442.2 1678.4v-12"/>
<path stroke="#111" stroke-width="1" d="M336 1678.4v-2.4M348 1678.4v-2.4M353 1678.4v-2.4M359 1678.4v-2.4M360 1678.4v-2.4M363 1678.4v-2.4M368 1678.4v-2.4M369 1678.4v-2.4M370 1678.4v-2.4M370 1676v-2.4M374 1678.4v-2.4M376 1678.4v-2.4M390 1678.4v-2.4M403 1678.4v-2.4M407 1678.4v-2.4M411 1678.4v-2.4M411 1676v-2.4M421 1678.4v-2.4M422 1678.4v-2.4M422 1676v-2.4M430 1678.4v-2.4M431 1678.4v-2.4M432 1678.4v-2.4M432 1676v-2.4M438 1678.4v-2.4M439 1678.4v-2.4M442 1678.4v-2.4M446 1678.4v-2.4M447 1678.4v-2.4M451 1678.4v-2.4M452 1678.4v-2.4M457 1678.4v-2.4M476 1678.4v-2.4M488 1678.4v-2.4M491 1678.4v-2.4M492 1678.4v-2.4M527 1678.4v-2.4M528 1678.4v-2.4M548 1678.4v-2.4M558 1678.4v-2.4M565 1678.4v-2.4"/>
<path stroke="#bbb" stroke-width="1" d="M335 1876.2v-2.4M349 1876.2v-2.4M369 1876.2v-2.4M372 1876.2v-2.4M372 1873.8v-2.4M403 1876.2v-2.4M437 1876.2v-2.4M440 1873.8v-2.4M463 1873.8v-2.4M463 1871.4v-2.4M472 1873.8v-2.4M490 1876.2v-2.4M498 1876.2v-2.4M500 1876.2v-2.4M501 1873.8v-2.4M506 1876.2v-2.4M506 1873.8v-2.4M507 1873.8v-2.4M507 1871.4v-2.4M521 1876.2v-2.4M521 1873.8v-2.4M544 1876.2v-2.4"/>
<path stroke="#888" stroke-width="1" d="M335 1878.6v-2.4M338 1878.6v-2.4M341 1878.6v-2.4M345 1878.6v-2.4M349 1878.6v-2.4M352 1878.6v-2.4M360 1873.8v-2.4M360 1871.4v-2.4M361 1878.6v-2.4M367 1878.6v-2.4M369 1878.6v-2.4M372 1878.6v-2.4M379 1878.6v-2.4M383 1878.6v-2.4M390 1878.6v-2.4M392 1878.6v-2.4M393 1878.6v-2.4M400 1878.6v-2.4M401 1878.6v-2.4M403 1878.6v-2.4M404 1873.8v-2.4M410 1878.6v-2.4M411 1878.6v-2.4M412 1878.6v-2.4M418 1876.2v-2.4M428 1876.2v-2.4M431 1876.2v-2.4M434 1878.6v-2.4M437 1878.6v-2.4M438 1876.2v-2.4M439 1873.8v-2.4M440 1876.2v-2.4M441 1876.2v-2.4M444 1876.2v-2.4M447 1878.6v-2.4M450 1876.2v-2.4M451 1876.2v-2.4M453 1878.6v-2.4M456 1878.6v-2.4M460 1878.6v-2.4M461 1878.6v-2.4M463 1876.2v-2.4M470 1878.6v-2.4M471 1876.2v-2.4M472 1876.2v-2.4M476 1878.6v-2.4M477 1876.2v-2.4M482 1876.2v-2.4M486 1878.6v-2.4M487 1878.6v-2.4M488 1878.6v-2.4M490 1878.6v-2.4M493 1876.2v-2.4M494 1878.6v-2.4M497 1873.8v-2.4M497 1871.4v-2.4M497 1869v-2.4M498 1878.6v-2.4M499 1878.6v-2.4M500 1878.6v-2.4M501 1876.2v-2.4M503 1878.6v-2.4M504 1878.6v-2.4M506 1878.6v-2.4M507 1876.2v-2.4M509 1878.6v-2.4M512 1878.6v-2.4M517 1878.6v-2.4M519 1878.6v-2.4M521 1878.6v-2.4M522 1878.6v-2.4M531 1878.6v-2.4M533 1878.6v-2.4M537 1878.6v-2.4M538 1878.6v-2.4M541 1878.6v-2.4M542 1878.6v-2.4M543 1878.6v-2.4M544 1878.6v-2.4M549 1878.6v-2.4M550 1878.6v-2.4M553 1878.6v-2.4M554 1876.2v-2.4M557 1876.2v-2.4M565 1878.6v-2.4"/>
<path stroke="#444" stroke-width="1" d="M330 1878.6v-2.4M333 1878.6v-2.4M334 1876.2v-2.4M336 1878.6v-2.4M339 1878.6v-2.4M340 1878.6v-2.4M342 1878.6v-2.4M343 1878.6v-2.4M344 1878.6v-2.4M348 1878.6v-2.4M350 1878.6v-2.4M351 1878.6v-2.4M353 1878.6v-2.4M354 1878.6v-2.4M355 1878.6v-2.4M356 1878.6v-2.4M359 1878.6v-2.4M360 1876.2v-2.4M362 1878.6v-2.4M363 1878.6v-2.4M364 1878.6v-2.4M365 1876.2v-2.4M366 1878.6v-2.4M368 1878.6v-2.4M370 1878.6v-2.4M371 1876.2v-2.4M374 1878.6v-2.4M375 1878.6v-2.4M376 1878.6v-2.4M377 1878.6v-2.4M382 1878.6v-2.4M384 1878.6v-2.4M387 1878.6v-2.4M389 1878.6v-2.4M394 1873.8v-2.4M394 1871.4v-2.4M395 1878.6v-2.4M396 1878.6v-2.4M398 1878.6v-2.4M402 1878.6v-2.4M404 1876.2v-2.4M406 1878.6v-2.4M407 1878.6v-2.4M408 1878.6v-2.4M409 1878.6v-2.4M413 1878.6v-2.4M414 1878.6v-2.4M415 1878.6v-2.4M416 1878.6v-2.4M418 1878.6v-2.4M419 1878.6v-2.4M420 1878.6v-2.4M421 1878.6v-2.4M423 1878.6v-2.4M424 1878.6v-2.4M425 1878.6v-2.4M426 1878.6v-2.4M427 1878.6v-2.4M428 1878.6v-2.4M431 1878.6v-2.4M432 1878.6v-2.4M433 1878.6v-2.4M435 1878.6v-2.4M438 1878.6v-2.4M439 1876.2v-2.4M440 1878.6v-2.4M441 1878.6v-2.4M442 1878.6v-2.4M443 1878.6v-2.4M444 1878.6v-2.4M446 1878.6v-2.4M448 1878.6v-2.4M450 1878.6v-2.4M451 1878.6v-2.4M454 1878.6v-2.4M455 1878.6v-2.4M457 1878.6v-2.4M458 1878.6v-2.4M463 1878.6v-2.4M464 1878.6v-2.4M465 1878.6v-2.4M466 1878.6v-2.4M467 1878.6v-2.4M468 1878.6v-2.4M471 1878.6v-2.4M472 1878.6v-2.4M473 1876.2v-2.4M474 1876.2v-2.4M477 1878.6v-2.4M478 1878.6v-2.4M480 1878.6v-2.4M481 1878.6v-2.4M482 1878.6v-2.4M485 1878.6v-2.4M489 1878.6v-2.4M492 1878.6v-2.4M493 1878.6v-2.4M497 1876.2v-2.4M501 1878.6v-2.4M505 1878.6v-2.4M507 1878.6v-2.4M508 1873.8v-2.4M511 1878.6v-2.4M513 1878.6v-2.4M514 1878.6v-2.4M516 1878.6v-2.4M523 1878.6v-2.4M524 1878.6v-2.4M525 1878.6v-2.4M526 1878.6v-2.4M527 1878.6v-2.4M528 1878.6v-2.4M530 1878.6v-2.4M534 1878.6v-2.4M535 1878.6v-2.4M536 1878.6v-2.4M540 1878.6v-2.4M545 1878.6v-2.4M547 1878.6v-2.4M548 1878.6v-2.4M551 1878.6v-2.4M552 1878.6v-2.4M554 1878.6v-2.4M555 1878.6v-2.4M556 1878.6v-2.4M557 1878.6v-2.4M559 1878.6v-2.4M560 1878.6v-2.4M561 1878.6v-2.4M562 1878.6v-2.4M563 1878.6v-2.4M564 1878.6v-2.4M566 1878.6v-2.4"/>
<path stroke="#222" stroke-width="1" d="M359.9 1878.6v-36M394.2 1878.6v-22M395.6 1878.6v-10M428.5 1878.6v-14M462.8 1878.6v-26M497.1 1878.6v-14"/>
<path stroke="#111" stroke-width="1" d="M329 1878.6v-2.4M331 1878.6v-2.4M334 1878.6v-2.4M337 1878.6v-2.4M347 1878.6v-2.4M358 1878.6v-2.4M360 1878.6v-2.4M365 1878.6v-2.4M371 1878.6v-2.4M373 1878.6v-2.4M378 1878.6v-2.4M380 1878.6v-2.4M381 1878.6v-2.4M386 1878.6v-2.4M391 1878.6v-2.4M394 1878.6v-2.4M394 1876.2v-2.4M399 1878.6v-2.4M404 1878.6v-2.4M405 1878.6v-2.4M405 1876.2v-2.4M422 1878.6v-2.4M430 1878.6v-2.4M439 1878.6v-2.4M445 1878.6v-2.4M449 1878.6v-2.4M452 1878.6v-2.4M462 1878.6v-2.4M469 1878.6v-2.4M473 1878.6v-2.4M474 1878.6v-2.4M475 1878.6v-2.4M479 1878.6v-2.4M483 1878.6v-2.4M491 1878.6v-2.4M495 1878.6v-2.4M497 1878.6v-2.4M502 1878.6v-2.4M508 1878.6v-2.4M508 1876.2v-2.4M518 1878.6v-2.4M520 1878.6v-2.4M529 1878.6v-2.4M532 1878.6v-2.4M539 1878.6v-2.4M546 1878.6v-2.4M558 1878.6v-2.4"/>
<path stroke="#c4c4c4" stroke-width="1" d="M593.2 1673.2v-5.2M593.2 1668v-5.2M597.2 1673.2v-5.2M598.2 1673.2v-5.2M600.2 1668v-5.2M601.2 1668v-5.2M601.2 1662.8v-5.2M606.2 1668v-5.2M608.2 1673.2v-5.2M608.2 1668v-5.2M614.2 1668v-5.2M616.2 1673.2v-5.2M616.2 1668v-5.2M618.2 1673.2v-5.2M618.2 1668v-5.2M619.2 1668v-5.2M619.2 1662.8v-5.2M619.2 1657.6v-5.2M619.2 1652.4v-5.2M620.2 1673.2v-5.2M620.2 1668v-5.2M621.2 1673.2v-5.2M622.2 1673.2v-5.2M640.2 1668v-5.2M640.2 1662.8v-5.2M656.2 1668v-5.2M676.2 1668v-5.2M676.2 1662.8v-5.2M678.2 1668v-5.2M678.2 1662.8v-5.2M679.2 1668v-5.2M679.2 1662.8v-5.2M680.2 1668v-5.2M693.2 1673.2v-5.2M700.2 1668v-5.2M700.2 1662.8v-5.2M700.2 1657.6v-5.2M700.2 1652.4v-5.2M700.2 1647.2v-5.2M702.2 1673.2v-5.2M702.2 1668v-5.2M702.2 1662.8v-5.2M702.2 1657.6v-5.2M706.2 1673.2v-5.2M711.2 1673.2v-5.2M717.2 1673.2v-5.2M722.2 1668v-5.2M722.2 1662.8v-5.2M722.2 1657.6v-5.2M723.2 1673.2v-5.2M725.2 1668v-5.2M731.2 1673.2v-5.2M731.2 1668v-5.2M731.2 1662.8v-5.2M731.2 1657.6v-5.2M732.2 1668v-5.2M732.2 1662.8v-5.2M740.2 1668v-5.2M742.2 1668v-5.2M743.2 1668v-5.2M743.2 1662.8v-5.2M743.2 1657.6v-5.2M746.2 1668v-5.2M748.2 1668v-5.2M748.2 1662.8v-5.2M748.2 1657.6v-5.2M751.2 1668v-5.2M751.2 1662.8v-5.2M751.2 1657.6v-5.2M752.2 1673.2v-5.2M752.2 1668v-5.2M758.2 1668v-5.2M758.2 1662.8v-5.2M760.2 1673.2v-5.2M760.2 1668v-5.2M760.2 1662.8v-5.2M760.2 1657.6v-5.2M761.2 1668v-5.2M768.2 1673.2v-5.2M768.2 1668v-5.2M769.2 1668v-5.2M773.2 1668v-5.2M773.2 1662.8v-5.2M774.2 1673.2v-5.2M774.2 1668v-5.2M774.2 1662.8v-5.2M775.2 1673.2v-5.2M775.2 1668v-5.2M775.2 1662.8v-5.2M776.2 1668v-5.2M776.2 1662.8v-5.2M777.2 1673.2v-5.2M782.2 1673.2v-5.2M788.2 1668v-5.2M788.2 1662.8v-5.2M789.2 1668v-5.2M794.2 1673.2v-5.2M800.2 1673.2v-5.2M802.2 1673.2v-5.2M807.2 1673.2v-5.2M810.2 1673.2v-5.2M810.2 1668v-5.2M811.2 1668v-5.2M812.2 1673.2v-5.2M812.2 1668v-5.2M816.2 1668v-5.2M817.2 1673.2v-5.2M819.2 1668v-5.2M819.2 1662.8v-5.2M819.2 1657.6v-5.2M820.2 1673.2v-5.2M824.2 1673.2v-5.2M824.2 1668v-5.2M827.2 1668v-5.2M827.2 1662.8v-5.2M827.2 1657.6v-5.2M831.2 1673.2v-5.2"/>
<path stroke="#777" stroke-width="1" d="M593.2 1678.4v-5.2M596.2 1673.2v-5.2M597.2 1678.4v-5.2M598.2 1678.4v-5.2M599.2 1678.4v-5.2M600.2 1673.2v-5.2M601.2 1673.2v-5.2M603.2 1673.2v-5.2M604.2 1678.4v-5.2M606.2 1673.2v-5.2M607.2 1673.2v-5.2M608.2 1678.4v-5.2M610.2 1668v-5.2M612.2 1673.2v-5.2M613.2 1668v-5.2M614.2 1673.2v-5.2M616.2 1678.4v-5.2M617.2 1673.2v-5.2M618.2 1678.4v-5.2M619.2 1673.2v-5.2M620.2 1678.4v-5.2M621.2 1678.4v-5.2M622.2 1678.4v-5.2M630.2 1673.2v-5.2M633.2 1678.4v-5.2M635.2 1668v-5.2M636.2 1668v-5.2M636.2 1662.8v-5.2M637.2 1668v-5.2M638.2 1668v-5.2M639.2 1668v-5.2M639.2 1662.8v-5.2M639.2 1657.6v-5.2M639.2 1652.4v-5.2M640.2 1673.2v-5.2M641.2 1678.4v-5.2M642.2 1678.4v-5.2M643.2 1678.4v-5.2M654.2 1673.2v-5.2M656.2 1673.2v-5.2M657.2 1668v-5.2M657.2 1662.8v-5.2M657.2 1657.6v-5.2M658.2 1668v-5.2M659.2 1668v-5.2M659.2 1662.8v-5.2M660.2 1668v-5.2M660.2 1662.8v-5.2M660.2 1657.6v-5.2M661.2 1673.2v-5.2M671.2 1678.4v-5.2M673.2 1678.4v-5.2M674.2 1673.2v-5.2M675.2 1678.4v-5.2M676.2 1673.2v-5.2M677.2 1668v-5.2M678.2 1673.2v-5.2M679.2 1673.2v-5.2M680.2 1673.2v-5.2M683.2 1673.2v-5.2M684.2 1673.2v-5.2M693.2 1678.4v-5.2M694.2 1678.4v-5.2M697.2 1673.2v-5.2M698.2 1668v-5.2M698.2 1662.8v-5.2M699.2 1668v-5.2M699.2 1662.8v-5.2M699.2 1657.6v-5.2M699.2 1652.4v-5.2M699.2 1647.2v-5.2M700.2 1673.2v-5.2M702.2 1678.4v-5.2M705.2 1673.2v-5.2M706.2 1678.4v-5.2M711.2 1678.4v-5.2M713.2 1678.4v-5.2M717.2 1678.4v-5.2M719.2 1668v-5.2M720.2 1668v-5.2M720.2 1662.8v-5.2M720.2 1657.6v-5.2M721.2 1673.2v-5.2M722.2 1673.2v-5.2M723.2 1678.4v-5.2M725.2 1673.2v-5.2M728.2 1668v-5.2M728.2 1662.8v-5.2M731.2 1678.4v-5.2M732.2 1673.2v-5.2M737.2 1673.2v-5.2M738.2 1673.2v-5.2M739.2 1678.4v-5.2M740.2 1673.2v-5.2M742.2 1673.2v-5.2M743.2 1673.2v-5.2M744.2 1678.4v-5.2M745.2 1678.4v-5.2M746.2 1673.2v-5.2M747.2 1678.4v-5.2M748.2 1673.2v-5.2M749.2 1673.2v-5.2M751.2 1673.2v-5.2M752.2 1678.4v-5.2M754.2 1678.4v-5.2M756.2 1673.2v-5.2M757.2 1673.2v-5.2M758.2 1673.2v-5.2M759.2 1678.4v-5.2M760.2 1678.4v-5.2M761.2 1673.2v-5.2M763.2 1673.2v-5.2M766.2 1678.4v-5.2M767.2 1668v-5.2M767.2 1662.8v-5.2M768.2 1678.4v-5.2M769.2 1673.2v-5.2M770.2 1673.2v-5.2M772.2 1678.4v-5.2M773.2 1673.2v-5.2M774.2 1678.4v-5.2M775.2 1678.4v-5.2M776.2 1673.2v-5.2M777.2 1678.4v-5.2M781.2 1678.4v-5.2M782.2 1678.4v-5.2M786.2 1673.2v-5.2M788.2 1673.2v-5.2M789.2 1673.2v-5.2M790.2 1673.2v-5.2M792.2 1673.2v-5.2M794.2 1678.4v-5.2M795.2 1678.4v-5.2M796.2 1678.4v-5.2M798.2 1668v-5.2M799.2 1673.2v-5.2M800.2 1678.4v-5.2M801.2 1673.2v-5.2M802.2 1678.4v-5.2M804.2 1678.4v-5.2M805.2 1668v-5.2M805.2 1662.8v-5.2M807.2 1678.4v-5.2M810.2 1678.4v-5.2M811.2 1673.2v-5.2M812.2 1678.4v-5.2M813.2 1668v-5.2M814.2 1673.2v-5.2M816.2 1673.2v-5.2M817.2 1678.4v-5.2M818.2 1673.2v-5.2M819.2 1673.2v-5.2M820.2 1678.4v-5.2M821.2 1673.2v-5.2M824.2 1678.4v-5.2M825.2 1673.2v-5.2M826.2 1673.2v-5.2M827.2 1673.2v-5.2M829.2 1678.4v-5.2M831.2 1678.4v-5.2"/>
<path stroke="#1a1a1a" stroke-width="1" d="M592.2 1673.2v-5.2M594.2 1678.4v-5.2M596.2 1678.4v-5.2M600.2 1678.4v-5.2M601.2 1678.4v-5.2M602.2 1678.4v-5.2M603.2 1678.4v-5.2M606.2 1678.4v-5.2M607.2 1678.4v-5.2M609.2 1678.4v-5.2M610.2 1673.2v-5.2M612.2 1678.4v-5.2M613.2 1673.2v-5.2M614.2 1678.4v-5.2M615.2 1678.4v-5.2M617.2 1678.4v-5.2M619.2 1678.4v-5.2M623.2 1678.4v-5.2M624.2 1678.4v-5.2M630.2 1678.4v-5.2M632.2 1678.4v-5.2M635.2 1673.2v-5.2M636.2 1673.2v-5.2M637.2 1673.2v-5.2M638.2 1673.2v-5.2M639.2 1673.2v-5.2M640.2 1678.4v-5.2M644.2 1678.4v-5.2M650.2 1678.4v-5.2M651.2 1678.4v-5.2M654.2 1678.4v-5.2M655.2 1678.4v-5.2M656.2 1678.4v-5.2M657.2 1673.2v-5.2M658.2 1673.2v-5.2M659.2 1673.2v-5.2M660.2 1673.2v-5.2M661.2 1678.4v-5.2M663.2 1678.4v-5.2M670.2 1678.4v-5.2M672.2 1678.4v-5.2M674.2 1678.4v-5.2M676.2 1678.4v-5.2M677.2 1673.2v-5.2M678.2 1678.4v-5.2M679.2 1678.4v-5.2M680.2 1678.4v-5.2M683.2 1678.4v-5.2M684.2 1678.4v-5.2M686.2 1678.4v-5.2M691.2 1678.4v-5.2M696.2 1678.4v-5.2M697.2 1678.4v-5.2M698.2 1673.2v-5.2M699.2 1673.2v-5.2M700.2 1678.4v-5.2M701.2 1668v-5.2M701.2 1662.8v-5.2M701.2 1657.6v-5.2M701.2 1652.4v-5.2M701.2 1647.2v-5.2M703.2 1678.4v-5.2M705.2 1678.4v-5.2M716.2 1678.4v-5.2M719.2 1673.2v-5.2M720.2 1673.2v-5.2M721.2 1678.4v-5.2M722.2 1678.4v-5.2M724.2 1678.4v-5.2M725.2 1678.4v-5.2M726.2 1678.4v-5.2M727.2 1678.4v-5.2M728.2 1673.2v-5.2M730.2 1678.4v-5.2M732.2 1678.4v-5.2M734.2 1678.4v-5.2M737.2 1678.4v-5.2M738.2 1678.4v-5.2M740.2 1678.4v-5.2M741.2 1678.4v-5.2M742.2 1678.4v-5.2M743.2 1678.4v-5.2M746.2 1678.4v-5.2M748.2 1678.4v-5.2M749.2 1678.4v-5.2M751.2 1678.4v-5.2M753.2 1678.4v-5.2M755.2 1678.4v-5.2M756.2 1678.4v-5.2M757.2 1678.4v-5.2M758.2 1678.4v-5.2M761.2 1678.4v-5.2M762.2 1678.4v-5.2M763.2 1678.4v-5.2M764.2 1673.2v-5.2M767.2 1673.2v-5.2M769.2 1678.4v-5.2M770.2 1678.4v-5.2M771.2 1673.2v-5.2M773.2 1678.4v-5.2M776.2 1678.4v-5.2M779.2 1678.4v-5.2M783.2 1678.4v-5.2M785.2 1678.4v-5.2M786.2 1678.4v-5.2M788.2 1678.4v-5.2M789.2 1678.4v-5.2M790.2 1678.4v-5.2M792.2 1678.4v-5.2M793.2 1678.4v-5.2M797.2 1678.4v-5.2M798.2 1673.2v-5.2M799.2 1678.4v-5.2M801.2 1678.4v-5.2M805.2 1673.2v-5.2M808.2 1678.4v-5.2M809.2 1678.4v-5.2M811.2 1678.4v-5.2M813.2 1673.2v-5.2M814.2 1678.4v-5.2M815.2 1678.4v-5.2M816.2 1678.4v-5.2M818.2 1678.4v-5.2M819.2 1678.4v-5.2M821.2 1678.4v-5.2M822.2 1678.4v-5.2M825.2 1678.4v-5.2M826.2 1678.4v-5.2M827.2 1678.4v-5.2M828.2 1673.2v-5.2M830.2 1678.4v-5.2"/>
<path stroke="#111" stroke-width="1" d="M592.2 1678.4v-5.2M595.2 1678.4v-5.2M605.2 1678.4v-5.2M610.2 1678.4v-5.2M613.2 1678.4v-5.2M629.2 1678.4v-5.2M631.2 1678.4v-5.2M634.2 1678.4v-5.2M635.2 1678.4v-5.2M636.2 1678.4v-5.2M637.2 1678.4v-5.2M638.2 1678.4v-5.2M639.2 1678.4v-5.2M645.2 1678.4v-5.2M653.2 1678.4v-5.2M657.2 1678.4v-5.2M658.2 1678.4v-5.2M659.2 1678.4v-5.2M660.2 1678.4v-5.2M677.2 1678.4v-5.2M681.2 1678.4v-5.2M682.2 1678.4v-5.2M685.2 1678.4v-5.2M698.2 1678.4v-5.2M699.2 1678.4v-5.2M701.2 1678.4v-5.2M701.2 1673.2v-5.2M712.2 1678.4v-5.2M715.2 1678.4v-5.2M718.2 1678.4v-5.2M718.2 1673.2v-5.2M719.2 1678.4v-5.2M720.2 1678.4v-5.2M728.2 1678.4v-5.2M736.2 1678.4v-5.2M750.2 1678.4v-5.2M764.2 1678.4v-5.2M765.2 1678.4v-5.2M767.2 1678.4v-5.2M771.2 1678.4v-5.2M778.2 1678.4v-5.2M784.2 1678.4v-5.2M787.2 1678.4v-5.2M791.2 1678.4v-5.2M798.2 1678.4v-5.2M803.2 1678.4v-5.2M805.2 1678.4v-5.2M806.2 1678.4v-5.2M813.2 1678.4v-5.2M823.2 1678.4v-5.2M828.2 1678.4v-5.2"/>
<path stroke="#c4c4c4" stroke-width="1" d="M592.2 1873.4v-5.2M594.2 1868.2v-5.2M595.2 1873.4v-5.2M595.2 1868.2v-5.2M595.2 1863v-5.2M595.2 1857.8v-5.2M596.2 1873.4v-5.2M596.2 1868.2v-5.2M596.2 1863v-5.2M599.2 1868.2v-5.2M600.2 1868.2v-5.2M600.2 1863v-5.2M602.2 1873.4v-5.2M603.2 1873.4v-5.2M604.2 1868.2v-5.2M604.2 1863v-5.2M604.2 1857.8v-5.2M604.2 1852.6v-5.2M605.2 1873.4v-5.2M605.2 1868.2v-5.2M605.2 1863v-5.2M608.2 1873.4v-5.2M613.2 1868.2v-5.2M617.2 1868.2v-5.2M617.2 1863v-5.2M617.2 1857.8v-5.2M618.2 1873.4v-5.2M618.2 1868.2v-5.2M619.2 1873.4v-5.2M621.2 1873.4v-5.2M623.2 1873.4v-5.2M623.2 1868.2v-5.2M623.2 1863v-5.2M623.2 1857.8v-5.2M624.2 1868.2v-5.2M624.2 1863v-5.2M630.2 1873.4v-5.2M630.2 1868.2v-5.2M631.2 1868.2v-5.2M632.2 1868.2v-5.2M632.2 1863v-5.2M632.2 1857.8v-5.2M633.2 1868.2v-5.2M636.2 1868.2v-5.2M636.2 1863v-5.2M640.2 1873.4v-5.2M646.2 1873.4v-5.2M646.2 1868.2v-5.2M648.2 1868.2v-5.2M648.2 1863v-5.2M652.2 1868.2v-5.2M653.2 1873.4v-5.2M653.2 1868.2v-5.2M665.2 1868.2v-5.2M670.2 1868.2v-5.2M670.2 1863v-5.2M670.2 1857.8v-5.2M671.2 1868.2v-5.2M671.2 1863v-5.2M671.2 1857.8v-5.2M671.2 1852.6v-5.2M671.2 1847.4v-5.2M675.2 1873.4v-5.2M676.2 1873.4v-5.2M684.2 1868.2v-5.2M685.2 1873.4v-5.2M699.2 1873.4v-5.2M701.2 1868.2v-5.2M713.2 1868.2v-5.2M717.2 1868.2v-5.2M718.2 1873.4v-5.2M719.2 1873.4v-5.2M736.2 1868.2v-5.2M736.2 1863v-5.2M736.2 1857.8v-5.2M737.2 1868.2v-5.2M737.2 1863v-5.2M737.2 1857.8v-5.2M737.2 1852.6v-5.2M740.2 1868.2v-5.2M742.2 1868.2v-5.2M745.2 1873.4v-5.2M746.2 1873.4v-5.2M747.2 1873.4v-5.2M749.2 1873.4v-5.2M749.2 1868.2v-5.2M757.2 1868.2v-5.2M759.2 1873.4v-5.2M767.2 1868.2v-5.2M767.2 1863v-5.2M768.2 1868.2v-5.2M772.2 1868.2v-5.2M772.2 1863v-5.2M772.2 1857.8v-5.2M777.2 1868.2v-5.2M777.2 1863v-5.2M777.2 1857.8v-5.2M778.2 1873.4v-5.2M781.2 1868.2v-5.2M782.2 1873.4v-5.2M784.2 1868.2v-5.2M784.2 1863v-5.2M785.2 1868.2v-5.2M786.2 1873.4v-5.2M792.2 1868.2v-5.2M793.2 1873.4v-5.2M794.2 1873.4v-5.2M794.2 1868.2v-5.2M796.2 1868.2v-5.2M796.2 1863v-5.2M797.2 1873.4v-5.2M797.2 1868.2v-5.2M799.2 1873.4v-5.2M800.2 1873.4v-5.2M800.2 1868.2v-5.2M800.2 1863v-5.2M800.2 1857.8v-5.2M801.2 1868.2v-5.2M802.2 1873.4v-5.2M805.2 1868.2v-5.2M805.2 1863v-5.2M814.2 1873.4v-5.2M814.2 1868.2v-5.2M822.2 1873.4v-5.2M822.2 1868.2v-5.2M822.2 1863v-5.2M822.2 1857.8v-5.2M825.2 1868.2v-5.2M825.2 1863v-5.2M826.2 1868.2v-5.2M826.2 1863v-5.2M827.2 1868.2v-5.2M830.2 1873.4v-5.2"/>
<path stroke="#777" stroke-width="1" d="M592.2 1878.6v-5.2M593.2 1873.4v-5.2M594.2 1873.4v-5.2M595.2 1878.6v-5.2M596.2 1878.6v-5.2M599.2 1873.4v-5.2M600.2 1873.4v-5.2M602.2 1878.6v-5.2M603.2 1878.6v-5.2M604.2 1873.4v-5.2M605.2 1878.6v-5.2M606.2 1878.6v-5.2M608.2 1878.6v-5.2M610.2 1873.4v-5.2M611.2 1873.4v-5.2M612.2 1873.4v-5.2M613.2 1873.4v-5.2M615.2 1873.4v-5.2M617.2 1873.4v-5.2M618.2 1878.6v-5.2M619.2 1878.6v-5.2M620.2 1878.6v-5.2M621.2 1878.6v-5.2M622.2 1873.4v-5.2M623.2 1878.6v-5.2M624.2 1873.4v-5.2M630.2 1878.6v-5.2M631.2 1873.4v-5.2M632.2 1873.4v-5.2M633.2 1873.4v-5.2M634.2 1868.2v-5.2M634.2 1863v-5.2M634.2 1857.8v-5.2M634.2 1852.6v-5.2M636.2 1873.4v-5.2M638.2 1868.2v-5.2M638.2 1863v-5.2M638.2 1857.8v-5.2M638.2 1852.6v-5.2M638.2 1847.4v-5.2M639.2 1868.2v-5.2M640.2 1878.6v-5.2M642.2 1873.4v-5.2M643.2 1878.6v-5.2M645.2 1873.4v-5.2M646.2 1878.6v-5.2M647.2 1873.4v-5.2M648.2 1873.4v-5.2M649.2 1878.6v-5.2M650.2 1873.4v-5.2M651.2 1873.4v-5.2M652.2 1873.4v-5.2M653.2 1878.6v-5.2M655.2 1873.4v-5.2M665.2 1873.4v-5.2M666.2 1868.2v-5.2M666.2 1863v-5.2M666.2 1857.8v-5.2M666.2 1852.6v-5.2M668.2 1868.2v-5.2M668.2 1863v-5.2M668.2 1857.8v-5.2M669.2 1868.2v-5.2M669.2 1863v-5.2M669.2 1857.8v-5.2M669.2 1852.6v-5.2M669.2 1847.4v-5.2M670.2 1873.4v-5.2M671.2 1873.4v-5.2M672.2 1868.2v-5.2M672.2 1863v-5.2M672.2 1857.8v-5.2M672.2 1852.6v-5.2M672.2 1847.4v-5.2M675.2 1878.6v-5.2M676.2 1878.6v-5.2M677.2 1868.2v-5.2M679.2 1868.2v-5.2M681.2 1878.6v-5.2M684.2 1873.4v-5.2M685.2 1878.6v-5.2M691.2 1868.2v-5.2M698.2 1878.6v-5.2M699.2 1878.6v-5.2M700.2 1868.2v-5.2M700.2 1863v-5.2M700.2 1857.8v-5.2M700.2 1852.6v-5.2M701.2 1873.4v-5.2M702.2 1873.4v-5.2M703.2 1868.2v-5.2M703.2 1863v-5.2M703.2 1857.8v-5.2M704.2 1868.2v-5.2M704.2 1863v-5.2M704.2 1857.8v-5.2M704.2 1852.6v-5.2M704.2 1847.4v-5.2M705.2 1868.2v-5.2M705.2 1863v-5.2M705.2 1857.8v-5.2M705.2 1852.6v-5.2M705.2 1847.4v-5.2M706.2 1868.2v-5.2M709.2 1878.6v-5.2M712.2 1878.6v-5.2M713.2 1873.4v-5.2M714.2 1878.6v-5.2M717.2 1873.4v-5.2M718.2 1878.6v-5.2M719.2 1878.6v-5.2M720.2 1873.4v-5.2M721.2 1873.4v-5.2M732.2 1878.6v-5.2M735.2 1868.2v-5.2M736.2 1873.4v-5.2M737.2 1873.4v-5.2M738.2 1868.2v-5.2M738.2 1863v-5.2M740.2 1873.4v-5.2M741.2 1868.2v-5.2M742.2 1873.4v-5.2M743.2 1873.4v-5.2M744.2 1873.4v-5.2M745.2 1878.6v-5.2M746.2 1878.6v-5.2M747.2 1878.6v-5.2M748.2 1873.4v-5.2M749.2 1878.6v-5.2M752.2 1873.4v-5.2M754.2 1873.4v-5.2M757.2 1873.4v-5.2M758.2 1878.6v-5.2M759.2 1878.6v-5.2M761.2 1873.4v-5.2M767.2 1873.4v-5.2M768.2 1873.4v-5.2M770.2 1868.2v-5.2M770.2 1863v-5.2M770.2 1857.8v-5.2M772.2 1873.4v-5.2M774.2 1868.2v-5.2M775.2 1868.2v-5.2M775.2 1863v-5.2M777.2 1873.4v-5.2M778.2 1878.6v-5.2M779.2 1873.4v-5.2M781.2 1873.4v-5.2M782.2 1878.6v-5.2M784.2 1873.4v-5.2M785.2 1873.4v-5.2M786.2 1878.6v-5.2M787.2 1873.4v-5.2M788.2 1878.6v-5.2M789.2 1878.6v-5.2M790.2 1878.6v-5.2M791.2 1878.6v-5.2M792.2 1873.4v-5.2M793.2 1878.6v-5.2M794.2 1878.6v-5.2M796.2 1873.4v-5.2M797.2 1878.6v-5.2M798.2 1873.4v-5.2M799.2 1878.6v-5.2M800.2 1878.6v-5.2M801.2 1873.4v-5.2M802.2 1878.6v-5.2M805.2 1873.4v-5.2M807.2 1873.4v-5.2M809.2 1878.6v-5.2M810.2 1873.4v-5.2M811.2 1873.4v-5.2M813.2 1873.4v-5.2M814.2 1878.6v-5.2M816.2 1878.6v-5.2M821.2 1873.4v-5.2M822.2 1878.6v-5.2M823.2 1868.2v-5.2M823.2 1863v-5.2M825.2 1873.4v-5.2M826.2 1873.4v-5.2M827.2 1873.4v-5.2M828.2 1878.6v-5.2M830.2 1878.6v-5.2"/>
<path stroke="#1a1a1a" stroke-width="1" d="M593.2 1878.6v-5.2M594.2 1878.6v-5.2M597.2 1878.6v-5.2M598.2 1878.6v-5.2M599.2 1878.6v-5.2M600.2 1878.6v-5.2M601.2 1878.6v-5.2M604.2 1878.6v-5.2M607.2 1878.6v-5.2M610.2 1878.6v-5.2M611.2 1878.6v-5.2M612.2 1878.6v-5.2M613.2 1878.6v-5.2M614.2 1878.6v-5.2M615.2 1878.6v-5.2M616.2 1878.6v-5.2M617.2 1878.6v-5.2M622.2 1878.6v-5.2M624.2 1878.6v-5.2M629.2 1878.6v-5.2M631.2 1878.6v-5.2M632.2 1878.6v-5.2M633.2 1878.6v-5.2M634.2 1873.4v-5.2M635.2 1873.4v-5.2M636.2 1878.6v-5.2M638.2 1873.4v-5.2M639.2 1873.4v-5.2M641.2 1878.6v-5.2M642.2 1878.6v-5.2M645.2 1878.6v-5.2M647.2 1878.6v-5.2M648.2 1878.6v-5.2M650.2 1878.6v-5.2M651.2 1878.6v-5.2M652.2 1878.6v-5.2M654.2 1878.6v-5.2M655.2 1878.6v-5.2M656.2 1878.6v-5.2M658.2 1878.6v-5.2M664.2 1878.6v-5.2M665.2 1878.6v-5.2M666.2 1873.4v-5.2M667.2 1868.2v-5.2M667.2 1863v-5.2M668.2 1873.4v-5.2M669.2 1873.4v-5.2M670.2 1878.6v-5.2M671.2 1878.6v-5.2M672.2 1873.4v-5.2M674.2 1873.4v-5.2M677.2 1873.4v-5.2M679.2 1873.4v-5.2M684.2 1878.6v-5.2M687.2 1878.6v-5.2M688.2 1878.6v-5.2M689.2 1878.6v-5.2M690.2 1873.4v-5.2M691.2 1873.4v-5.2M692.2 1878.6v-5.2M700.2 1873.4v-5.2M701.2 1878.6v-5.2M702.2 1878.6v-5.2M703.2 1873.4v-5.2M704.2 1873.4v-5.2M705.2 1873.4v-5.2M706.2 1873.4v-5.2M707.2 1878.6v-5.2M708.2 1873.4v-5.2M710.2 1878.6v-5.2M713.2 1878.6v-5.2M715.2 1878.6v-5.2M716.2 1878.6v-5.2M717.2 1878.6v-5.2M720.2 1878.6v-5.2M721.2 1878.6v-5.2M722.2 1873.4v-5.2M724.2 1878.6v-5.2M726.2 1878.6v-5.2M733.2 1878.6v-5.2M734.2 1878.6v-5.2M735.2 1873.4v-5.2M736.2 1878.6v-5.2M737.2 1878.6v-5.2M738.2 1873.4v-5.2M740.2 1878.6v-5.2M741.2 1873.4v-5.2M742.2 1878.6v-5.2M743.2 1878.6v-5.2M744.2 1878.6v-5.2M748.2 1878.6v-5.2M750.2 1878.6v-5.2M752.2 1878.6v-5.2M753.2 1878.6v-5.2M754.2 1878.6v-5.2M755.2 1878.6v-5.2M757.2 1878.6v-5.2M760.2 1873.4v-5.2M761.2 1878.6v-5.2M767.2 1878.6v-5.2M768.2 1878.6v-5.2M769.2 1873.4v-5.2M770.2 1873.4v-5.2M771.2 1868.2v-5.2M771.2 1863v-5.2M772.2 1878.6v-5.2M773.2 1868.2v-5.2M773.2 1863v-5.2M773.2 1857.8v-5.2M773.2 1852.6v-5.2M773.2 1847.4v-5.2M774.2 1873.4v-5.2M775.2 1873.4v-5.2M777.2 1878.6v-5.2M779.2 1878.6v-5.2M780.2 1878.6v-5.2M781.2 1878.6v-5.2M784.2 1878.6v-5.2M785.2 1878.6v-5.2M787.2 1878.6v-5.2M792.2 1878.6v-5.2M796.2 1878.6v-5.2M798.2 1878.6v-5.2M801.2 1878.6v-5.2M803.2 1878.6v-5.2M804.2 1878.6v-5.2M805.2 1878.6v-5.2M806.2 1878.6v-5.2M807.2 1878.6v-5.2M810.2 1878.6v-5.2M811.2 1878.6v-5.2M812.2 1878.6v-5.2M813.2 1878.6v-5.2M815.2 1878.6v-5.2M818.2 1878.6v-5.2M819.2 1878.6v-5.2M821.2 1878.6v-5.2M823.2 1873.4v-5.2M824.2 1878.6v-5.2M825.2 1878.6v-5.2M826.2 1878.6v-5.2M827.2 1878.6v-5.2M829.2 1878.6v-5.2M831.2 1878.6v-5.2"/>
<path stroke="#111" stroke-width="1" d="M634.2 1878.6v-5.2M635.2 1878.6v-5.2M638.2 1878.6v-5.2M639.2 1878.6v-5.2M644.2 1878.6v-5.2M666.2 1878.6v-5.2M667.2 1878.6v-5.2M667.2 1873.4v-5.2M668.2 1878.6v-5.2M669.2 1878.6v-5.2M672.2 1878.6v-5.2M673.2 1878.6v-5.2M674.2 1878.6v-5.2M677.2 1878.6v-5.2M679.2 1878.6v-5.2M690.2 1878.6v-5.2M691.2 1878.6v-5.2M700.2 1878.6v-5.2M703.2 1878.6v-5.2M704.2 1878.6v-5.2M705.2 1878.6v-5.2M706.2 1878.6v-5.2M708.2 1878.6v-5.2M722.2 1878.6v-5.2M723.2 1878.6v-5.2M725.2 1878.6v-5.2M727.2 1878.6v-5.2M735.2 1878.6v-5.2M738.2 1878.6v-5.2M739.2 1878.6v-5.2M739.2 1873.4v-5.2M741.2 1878.6v-5.2M760.2 1878.6v-5.2M769.2 1878.6v-5.2M770.2 1878.6v-5.2M771.2 1878.6v-5.2M771.2 1873.4v-5.2M773.2 1878.6v-5.2M773.2 1873.4v-5.2M774.2 1878.6v-5.2M775.2 1878.6v-5.2M776.2 1878.6v-5.2M783.2 1878.6v-5.2M795.2 1878.6v-5.2M808.2 1878.6v-5.2M817.2 1878.6v-5.2M823.2 1878.6v-5.2"/>
<path stroke="#c8c8c8" stroke-width="1" d="M875.3 1674.4v-4M877.3 1670.4v-4M882.3 1674.4v-4M898.3 1674.4v-4M898.3 1670.4v-4M905.3 1674.4v-4M906.3 1674.4v-4M906.3 1670.4v-4M910.3 1674.4v-4M910.3 1670.4v-4M929.3 1670.4v-4M950.3 1670.4v-4M968.3 1670.4v-4M972.3 1674.4v-4M988.3 1674.4v-4M988.3 1670.4v-4M988.3 1666.4v-4M989.3 1670.4v-4M1004.3 1674.4v-4M1019.3 1674.4v-4M1025.3 1674.4v-4M1026.3 1670.4v-4M1032.3 1674.4v-4M1044.3 1674.4v-4M1052.3 1674.4v-4M1052.3 1670.4v-4M1063.3 1670.4v-4M1067.3 1674.4v-4M1067.3 1670.4v-4M1070.3 1674.4v-4M1070.3 1670.4v-4M1089.3 1670.4v-4"/>
<path stroke="#888" stroke-width="1" d="M867.3 1674.4v-4M868.3 1678.4v-4M869.3 1674.4v-4M870.3 1678.4v-4M872.3 1674.4v-4M874.3 1674.4v-4M875.3 1678.4v-4M877.3 1674.4v-4M878.3 1674.4v-4M879.3 1674.4v-4M881.3 1674.4v-4M882.3 1678.4v-4M888.3 1674.4v-4M889.3 1678.4v-4M890.3 1674.4v-4M892.3 1670.4v-4M893.3 1674.4v-4M894.3 1674.4v-4M898.3 1678.4v-4M899.3 1678.4v-4M905.3 1678.4v-4M906.3 1678.4v-4M907.3 1674.4v-4M908.3 1674.4v-4M909.3 1670.4v-4M910.3 1678.4v-4M914.3 1678.4v-4M929.3 1674.4v-4M931.3 1678.4v-4M933.3 1678.4v-4M941.3 1678.4v-4M946.3 1674.4v-4M950.3 1674.4v-4M951.3 1678.4v-4M952.3 1674.4v-4M955.3 1674.4v-4M959.3 1678.4v-4M965.3 1678.4v-4M968.3 1674.4v-4M970.3 1670.4v-4M970.3 1666.4v-4M971.3 1670.4v-4M972.3 1678.4v-4M974.3 1678.4v-4M975.3 1678.4v-4M976.3 1678.4v-4M977.3 1678.4v-4M988.3 1678.4v-4M989.3 1674.4v-4M991.3 1670.4v-4M991.3 1666.4v-4M991.3 1662.4v-4M992.3 1678.4v-4M998.3 1674.4v-4M1001.3 1674.4v-4M1004.3 1678.4v-4M1005.3 1678.4v-4M1006.3 1678.4v-4M1008.3 1678.4v-4M1009.3 1674.4v-4M1012.3 1674.4v-4M1019.3 1678.4v-4M1021.3 1674.4v-4M1025.3 1678.4v-4M1026.3 1674.4v-4M1027.3 1678.4v-4M1029.3 1678.4v-4M1032.3 1678.4v-4M1033.3 1678.4v-4M1036.3 1674.4v-4M1039.3 1674.4v-4M1044.3 1678.4v-4M1045.3 1678.4v-4M1046.3 1674.4v-4M1047.3 1674.4v-4M1050.3 1674.4v-4M1052.3 1678.4v-4M1053.3 1678.4v-4M1054.3 1678.4v-4M1059.3 1674.4v-4M1061.3 1678.4v-4M1062.3 1678.4v-4M1063.3 1674.4v-4M1065.3 1674.4v-4M1067.3 1678.4v-4M1068.3 1678.4v-4M1070.3 1678.4v-4M1074.3 1678.4v-4M1078.3 1674.4v-4M1080.3 1678.4v-4M1081.3 1674.4v-4M1083.3 1674.4v-4M1085.3 1678.4v-4M1086.3 1674.4v-4M1088.3 1678.4v-4M1089.3 1674.4v-4M1091.3 1678.4v-4M1092.3 1674.4v-4M1095.3 1674.4v-4M1098.3 1678.4v-4M1100.3 1674.4v-4M1101.3 1678.4v-4M1104.3 1678.4v-4M1105.3 1674.4v-4M1107.3 1674.4v-4"/>
<path stroke="#2a2a2a" stroke-width="1" d="M867.3 1678.4v-4M869.3 1678.4v-4M872.3 1678.4v-4M874.3 1678.4v-4M876.3 1678.4v-4M877.3 1678.4v-4M878.3 1678.4v-4M879.3 1678.4v-4M881.3 1678.4v-4M883.3 1674.4v-4M884.3 1678.4v-4M886.3 1678.4v-4M887.3 1678.4v-4M888.3 1678.4v-4M890.3 1678.4v-4M891.3 1674.4v-4M892.3 1674.4v-4M893.3 1678.4v-4M894.3 1678.4v-4M895.3 1678.4v-4M896.3 1678.4v-4M897.3 1678.4v-4M900.3 1678.4v-4M907.3 1678.4v-4M908.3 1678.4v-4M909.3 1674.4v-4M911.3 1678.4v-4M916.3 1678.4v-4M917.3 1678.4v-4M918.3 1678.4v-4M919.3 1678.4v-4M922.3 1678.4v-4M924.3 1678.4v-4M925.3 1678.4v-4M926.3 1678.4v-4M927.3 1674.4v-4M929.3 1678.4v-4M932.3 1678.4v-4M935.3 1678.4v-4M936.3 1678.4v-4M938.3 1678.4v-4M939.3 1678.4v-4M944.3 1678.4v-4M946.3 1678.4v-4M949.3 1670.4v-4M949.3 1666.4v-4M949.3 1662.4v-4M950.3 1678.4v-4M952.3 1678.4v-4M953.3 1678.4v-4M955.3 1678.4v-4M956.3 1678.4v-4M957.3 1678.4v-4M960.3 1678.4v-4M961.3 1678.4v-4M962.3 1678.4v-4M964.3 1678.4v-4M967.3 1678.4v-4M968.3 1678.4v-4M969.3 1674.4v-4M970.3 1674.4v-4M971.3 1674.4v-4M973.3 1678.4v-4M978.3 1678.4v-4M979.3 1678.4v-4M981.3 1678.4v-4M983.3 1678.4v-4M985.3 1678.4v-4M987.3 1678.4v-4M989.3 1678.4v-4M990.3 1670.4v-4M990.3 1666.4v-4M991.3 1674.4v-4M993.3 1678.4v-4M996.3 1678.4v-4M997.3 1678.4v-4M998.3 1678.4v-4M999.3 1678.4v-4M1001.3 1678.4v-4M1002.3 1678.4v-4M1003.3 1678.4v-4M1009.3 1678.4v-4M1011.3 1678.4v-4M1012.3 1678.4v-4M1015.3 1678.4v-4M1016.3 1678.4v-4M1020.3 1678.4v-4M1021.3 1678.4v-4M1022.3 1678.4v-4M1023.3 1678.4v-4M1026.3 1678.4v-4M1030.3 1678.4v-4M1031.3 1678.4v-4M1034.3 1674.4v-4M1035.3 1678.4v-4M1036.3 1678.4v-4M1038.3 1674.4v-4M1039.3 1678.4v-4M1040.3 1678.4v-4M1042.3 1678.4v-4M1043.3 1678.4v-4M1046.3 1678.4v-4M1047.3 1678.4v-4M1048.3 1674.4v-4M1049.3 1678.4v-4M1050.3 1678.4v-4M1051.3 1678.4v-4M1055.3 1678.4v-4M1056.3 1678.4v-4M1059.3 1678.4v-4M1063.3 1678.4v-4M1064.3 1678.4v-4M1065.3 1678.4v-4M1066.3 1678.4v-4M1069.3 1678.4v-4M1072.3 1678.4v-4M1075.3 1674.4v-4M1076.3 1678.4v-4M1078.3 1678.4v-4M1079.3 1678.4v-4M1081.3 1678.4v-4M1082.3 1678.4v-4M1083.3 1678.4v-4M1084.3 1678.4v-4M1086.3 1678.4v-4M1087.3 1678.4v-4M1089.3 1678.4v-4M1090.3 1674.4v-4M1092.3 1678.4v-4M1093.3 1678.4v-4M1094.3 1678.4v-4M1095.3 1678.4v-4M1100.3 1678.4v-4M1102.3 1678.4v-4M1105.3 1678.4v-4M1107.3 1678.4v-4"/>
<path stroke="#222" stroke-width="1" d="M899.4 1678.4v-40M920 1678.4v-20M940.6 1678.4v-26M961.1 1678.4v-34M981.7 1678.4v-14"/>
<path stroke="#111" stroke-width="1" d="M883.3 1678.4v-4M885.3 1678.4v-4M891.3 1678.4v-4M892.3 1678.4v-4M902.3 1678.4v-4M903.3 1678.4v-4M909.3 1678.4v-4M920.3 1678.4v-4M923.3 1678.4v-4M927.3 1678.4v-4M928.3 1678.4v-4M928.3 1674.4v-4M930.3 1678.4v-4M942.3 1678.4v-4M943.3 1678.4v-4M945.3 1678.4v-4M947.3 1678.4v-4M948.3 1678.4v-4M948.3 1674.4v-4M949.3 1678.4v-4M949.3 1674.4v-4M963.3 1678.4v-4M969.3 1678.4v-4M970.3 1678.4v-4M971.3 1678.4v-4M982.3 1678.4v-4M990.3 1678.4v-4M990.3 1674.4v-4M991.3 1678.4v-4M994.3 1678.4v-4M1000.3 1678.4v-4M1010.3 1678.4v-4M1017.3 1678.4v-4M1024.3 1678.4v-4M1028.3 1678.4v-4M1034.3 1678.4v-4M1038.3 1678.4v-4M1048.3 1678.4v-4M1060.3 1678.4v-4M1071.3 1678.4v-4M1075.3 1678.4v-4M1077.3 1678.4v-4M1090.3 1678.4v-4M1106.3 1678.4v-4"/>
<path stroke="#ccc" stroke-width="1" d="M867.3 1875.1v-3.5M878.3 1875.1v-3.5M880.3 1875.1v-3.5M894.3 1875.1v-3.5M898.3 1871.6v-3.5M902.3 1871.6v-3.5M909.3 1875.1v-3.5M909.3 1871.6v-3.5M910.3 1871.6v-3.5M910.3 1868.1v-3.5M911.3 1871.6v-3.5M914.3 1871.6v-3.5M914.3 1868.1v-3.5M914.3 1864.6v-3.5M914.3 1861.1v-3.5M914.3 1857.6v-3.5M927.3 1875.1v-3.5M928.3 1871.6v-3.5M943.3 1875.1v-3.5M943.3 1871.6v-3.5M943.3 1868.1v-3.5M943.3 1864.6v-3.5M947.3 1871.6v-3.5M947.3 1868.1v-3.5M947.3 1864.6v-3.5M977.3 1871.6v-3.5M978.3 1875.1v-3.5M980.3 1871.6v-3.5M981.3 1871.6v-3.5M981.3 1868.1v-3.5M981.3 1864.6v-3.5M981.3 1861.1v-3.5M982.3 1871.6v-3.5M982.3 1868.1v-3.5M1005.3 1875.1v-3.5M1007.3 1875.1v-3.5M1007.3 1871.6v-3.5M1011.3 1871.6v-3.5M1012.3 1871.6v-3.5M1012.3 1868.1v-3.5M1017.3 1871.6v-3.5M1017.3 1868.1v-3.5M1017.3 1864.6v-3.5M1054.3 1875.1v-3.5M1054.3 1871.6v-3.5M1055.3 1871.6v-3.5M1081.3 1875.1v-3.5"/>
<path stroke="#999" stroke-width="1" d="M867.3 1878.6v-3.5M870.3 1875.1v-3.5M872.3 1878.6v-3.5M874.3 1878.6v-3.5M877.3 1875.1v-3.5M878.3 1878.6v-3.5M879.3 1875.1v-3.5M880.3 1878.6v-3.5M886.3 1878.6v-3.5M887.3 1878.6v-3.5M894.3 1878.6v-3.5M896.3 1878.6v-3.5M898.3 1875.1v-3.5M902.3 1875.1v-3.5M904.3 1875.1v-3.5M905.3 1878.6v-3.5M906.3 1875.1v-3.5M908.3 1878.6v-3.5M909.3 1878.6v-3.5M910.3 1875.1v-3.5M911.3 1875.1v-3.5M912.3 1871.6v-3.5M912.3 1868.1v-3.5M912.3 1864.6v-3.5M912.3 1861.1v-3.5M913.3 1875.1v-3.5M914.3 1875.1v-3.5M916.3 1871.6v-3.5M916.3 1868.1v-3.5M916.3 1864.6v-3.5M917.3 1875.1v-3.5M920.3 1878.6v-3.5M922.3 1878.6v-3.5M924.3 1878.6v-3.5M927.3 1878.6v-3.5M928.3 1875.1v-3.5M932.3 1875.1v-3.5M936.3 1878.6v-3.5M941.3 1875.1v-3.5M943.3 1878.6v-3.5M944.3 1871.6v-3.5M944.3 1868.1v-3.5M945.3 1871.6v-3.5M946.3 1871.6v-3.5M946.3 1868.1v-3.5M947.3 1875.1v-3.5M948.3 1875.1v-3.5M950.3 1871.6v-3.5M951.3 1875.1v-3.5M956.3 1878.6v-3.5M962.3 1878.6v-3.5M972.3 1878.6v-3.5M973.3 1875.1v-3.5M974.3 1875.1v-3.5M975.3 1875.1v-3.5M976.3 1878.6v-3.5M977.3 1875.1v-3.5M978.3 1878.6v-3.5M979.3 1871.6v-3.5M980.3 1875.1v-3.5M981.3 1875.1v-3.5M982.3 1875.1v-3.5M983.3 1871.6v-3.5M983.3 1868.1v-3.5M983.3 1864.6v-3.5M983.3 1861.1v-3.5M983.3 1857.6v-3.5M984.3 1871.6v-3.5M985.3 1875.1v-3.5M987.3 1875.1v-3.5M988.3 1871.6v-3.5M993.3 1878.6v-3.5M995.3 1878.6v-3.5M1000.3 1878.6v-3.5M1003.3 1875.1v-3.5M1005.3 1878.6v-3.5M1006.3 1878.6v-3.5M1007.3 1878.6v-3.5M1008.3 1878.6v-3.5M1009.3 1875.1v-3.5M1011.3 1875.1v-3.5M1012.3 1875.1v-3.5M1014.3 1871.6v-3.5M1015.3 1871.6v-3.5M1015.3 1868.1v-3.5M1015.3 1864.6v-3.5M1016.3 1871.6v-3.5M1016.3 1868.1v-3.5M1016.3 1864.6v-3.5M1016.3 1861.1v-3.5M1016.3 1857.6v-3.5M1016.3 1854.1v-3.5M1017.3 1875.1v-3.5M1018.3 1871.6v-3.5M1018.3 1868.1v-3.5M1018.3 1864.6v-3.5M1018.3 1861.1v-3.5M1021.3 1878.6v-3.5M1022.3 1871.6v-3.5M1029.3 1875.1v-3.5M1031.3 1878.6v-3.5M1033.3 1878.6v-3.5M1040.3 1878.6v-3.5M1041.3 1878.6v-3.5M1045.3 1875.1v-3.5M1046.3 1875.1v-3.5M1047.3 1871.6v-3.5M1047.3 1868.1v-3.5M1047.3 1864.6v-3.5M1047.3 1861.1v-3.5M1048.3 1871.6v-3.5M1048.3 1868.1v-3.5M1049.3 1871.6v-3.5M1050.3 1871.6v-3.5M1050.3 1868.1v-3.5M1050.3 1864.6v-3.5M1050.3 1861.1v-3.5M1050.3 1857.6v-3.5M1051.3 1871.6v-3.5M1051.3 1868.1v-3.5M1051.3 1864.6v-3.5M1051.3 1861.1v-3.5M1051.3 1857.6v-3.5M1051.3 1854.1v-3.5M1052.3 1871.6v-3.5M1052.3 1868.1v-3.5M1052.3 1864.6v-3.5M1054.3 1878.6v-3.5M1055.3 1875.1v-3.5M1057.3 1875.1v-3.5M1060.3 1878.6v-3.5M1063.3 1878.6v-3.5M1068.3 1875.1v-3.5M1070.3 1878.6v-3.5M1072.3 1878.6v-3.5M1073.3 1878.6v-3.5M1075.3 1878.6v-3.5M1081.3 1878.6v-3.5M1083.3 1878.6v-3.5M1085.3 1878.6v-3.5M1086.3 1878.6v-3.5M1089.3 1878.6v-3.5M1092.3 1878.6v-3.5M1096.3 1875.1v-3.5M1100.3 1878.6v-3.5M1101.3 1878.6v-3.5M1104.3 1878.6v-3.5M1106.3 1875.1v-3.5M1107.3 1875.1v-3.5"/>
<path stroke="#333" stroke-width="1" d="M868.3 1878.6v-3.5M869.3 1878.6v-3.5M870.3 1878.6v-3.5M875.3 1875.1v-3.5M876.3 1878.6v-3.5M877.3 1878.6v-3.5M879.3 1878.6v-3.5M881.3 1878.6v-3.5M882.3 1878.6v-3.5M885.3 1878.6v-3.5M888.3 1878.6v-3.5M889.3 1878.6v-3.5M890.3 1878.6v-3.5M892.3 1878.6v-3.5M893.3 1878.6v-3.5M895.3 1878.6v-3.5M897.3 1878.6v-3.5M898.3 1878.6v-3.5M899.3 1878.6v-3.5M901.3 1878.6v-3.5M902.3 1878.6v-3.5M903.3 1878.6v-3.5M904.3 1878.6v-3.5M906.3 1878.6v-3.5M910.3 1878.6v-3.5M911.3 1878.6v-3.5M912.3 1875.1v-3.5M913.3 1878.6v-3.5M914.3 1878.6v-3.5M915.3 1875.1v-3.5M916.3 1875.1v-3.5M917.3 1878.6v-3.5M921.3 1878.6v-3.5M925.3 1878.6v-3.5M928.3 1878.6v-3.5M930.3 1878.6v-3.5M931.3 1878.6v-3.5M932.3 1878.6v-3.5M933.3 1878.6v-3.5M934.3 1878.6v-3.5M935.3 1878.6v-3.5M937.3 1878.6v-3.5M938.3 1878.6v-3.5M939.3 1878.6v-3.5M940.3 1878.6v-3.5M941.3 1878.6v-3.5M942.3 1875.1v-3.5M944.3 1875.1v-3.5M945.3 1875.1v-3.5M946.3 1875.1v-3.5M947.3 1878.6v-3.5M948.3 1878.6v-3.5M950.3 1875.1v-3.5M951.3 1878.6v-3.5M953.3 1878.6v-3.5M955.3 1878.6v-3.5M957.3 1875.1v-3.5M959.3 1878.6v-3.5M961.3 1878.6v-3.5M963.3 1878.6v-3.5M964.3 1878.6v-3.5M965.3 1878.6v-3.5M966.3 1878.6v-3.5M970.3 1878.6v-3.5M971.3 1878.6v-3.5M973.3 1878.6v-3.5M974.3 1878.6v-3.5M975.3 1878.6v-3.5M977.3 1878.6v-3.5M979.3 1875.1v-3.5M980.3 1878.6v-3.5M981.3 1878.6v-3.5M982.3 1878.6v-3.5M983.3 1875.1v-3.5M984.3 1875.1v-3.5M985.3 1878.6v-3.5M986.3 1878.6v-3.5M987.3 1878.6v-3.5M988.3 1875.1v-3.5M989.3 1878.6v-3.5M991.3 1878.6v-3.5M992.3 1878.6v-3.5M994.3 1878.6v-3.5M997.3 1878.6v-3.5M998.3 1878.6v-3.5M999.3 1878.6v-3.5M1001.3 1878.6v-3.5M1002.3 1878.6v-3.5M1003.3 1878.6v-3.5M1004.3 1878.6v-3.5M1009.3 1878.6v-3.5M1010.3 1878.6v-3.5M1011.3 1878.6v-3.5M1012.3 1878.6v-3.5M1014.3 1875.1v-3.5M1015.3 1875.1v-3.5M1016.3 1875.1v-3.5M1017.3 1878.6v-3.5M1018.3 1875.1v-3.5M1020.3 1878.6v-3.5M1022.3 1875.1v-3.5M1024.3 1878.6v-3.5M1026.3 1878.6v-3.5M1027.3 1878.6v-3.5M1029.3 1878.6v-3.5M1030.3 1878.6v-3.5M1036.3 1878.6v-3.5M1037.3 1878.6v-3.5M1038.3 1878.6v-3.5M1039.3 1878.6v-3.5M1043.3 1878.6v-3.5M1044.3 1878.6v-3.5M1045.3 1878.6v-3.5M1046.3 1878.6v-3.5M1047.3 1875.1v-3.5M1048.3 1875.1v-3.5M1049.3 1875.1v-3.5M1050.3 1875.1v-3.5M1051.3 1875.1v-3.5M1052.3 1875.1v-3.5M1053.3 1875.1v-3.5M1055.3 1878.6v-3.5M1056.3 1878.6v-3.5M1057.3 1878.6v-3.5M1058.3 1878.6v-3.5M1064.3 1878.6v-3.5M1066.3 1878.6v-3.5M1067.3 1878.6v-3.5M1068.3 1878.6v-3.5M1069.3 1878.6v-3.5M1071.3 1878.6v-3.5M1074.3 1878.6v-3.5M1077.3 1878.6v-3.5M1078.3 1878.6v-3.5M1079.3 1878.6v-3.5M1080.3 1878.6v-3.5M1084.3 1878.6v-3.5M1087.3 1878.6v-3.5M1090.3 1878.6v-3.5M1093.3 1878.6v-3.5M1094.3 1878.6v-3.5M1096.3 1878.6v-3.5M1097.3 1878.6v-3.5M1099.3 1878.6v-3.5M1102.3 1878.6v-3.5M1103.3 1875.1v-3.5M1106.3 1878.6v-3.5M1107.3 1878.6v-3.5"/>
<path stroke="#222" stroke-width="1" d="M899.4 1878.6v-42M933.7 1878.6v-16M968 1878.6v-18M1002.3 1878.6v-14M1036.6 1878.6v-16"/>
<path stroke="#111" stroke-width="1" d="M871.3 1878.6v-3.5M875.3 1878.6v-3.5M883.3 1878.6v-3.5M891.3 1878.6v-3.5M912.3 1878.6v-3.5M915.3 1878.6v-3.5M916.3 1878.6v-3.5M926.3 1878.6v-3.5M942.3 1878.6v-3.5M944.3 1878.6v-3.5M945.3 1878.6v-3.5M946.3 1878.6v-3.5M949.3 1878.6v-3.5M950.3 1878.6v-3.5M957.3 1878.6v-3.5M967.3 1878.6v-3.5M969.3 1878.6v-3.5M979.3 1878.6v-3.5M983.3 1878.6v-3.5M984.3 1878.6v-3.5M988.3 1878.6v-3.5M990.3 1878.6v-3.5M1013.3 1878.6v-3.5M1014.3 1878.6v-3.5M1015.3 1878.6v-3.5M1016.3 1878.6v-3.5M1018.3 1878.6v-3.5M1019.3 1878.6v-3.5M1019.3 1875.1v-3.5M1022.3 1878.6v-3.5M1023.3 1878.6v-3.5M1034.3 1878.6v-3.5M1042.3 1878.6v-3.5M1047.3 1878.6v-3.5M1048.3 1878.6v-3.5M1049.3 1878.6v-3.5M1050.3 1878.6v-3.5M1051.3 1878.6v-3.5M1052.3 1878.6v-3.5M1053.3 1878.6v-3.5M1082.3 1878.6v-3.5M1088.3 1878.6v-3.5M1091.3 1878.6v-3.5M1095.3 1878.6v-3.5M1103.3 1878.6v-3.5M1105.3 1878.6v-3.5"/>
<line x1="49.8" y1="1494.3" x2="49.8" y2="1624.2" stroke="#262626" stroke-width="1.3"/>
<line x1="48.8" y1="1624.2" x2="290.3" y2="1624.2" stroke="#262626" stroke-width="1.6"/>
<line x1="46.4" y1="1520" x2="49.8" y2="1520" stroke="#262626" stroke-width="1.2"/>
<line x1="46.4" y1="1572.3" x2="49.8" y2="1572.3" stroke="#262626" stroke-width="1.2"/>
<line x1="49.7" y1="1624.2" x2="49.7" y2="1626.6" stroke="#262626" stroke-width="1.2"/>
<line x1="84" y1="1624.2" x2="84" y2="1626.6" stroke="#262626" stroke-width="1.2"/>
<line x1="104.6" y1="1624.2" x2="104.6" y2="1626.6" stroke="#262626" stroke-width="1.2"/>
<line x1="125.2" y1="1624.2" x2="125.2" y2="1626.6" stroke="#262626" stroke-width="1.2"/>
<line x1="145.7" y1="1624.2" x2="145.7" y2="1626.6" stroke="#262626" stroke-width="1.2"/>
<line x1="166.3" y1="1624.2" x2="166.3" y2="1626.6" stroke="#262626" stroke-width="1.2"/>
<line x1="49.8" y1="1627.8" x2="49.8" y2="1679.2" stroke="#262626" stroke-width="1.3"/>
<line x1="48.8" y1="1679.2" x2="290.3" y2="1679.2" stroke="#262626" stroke-width="1.6"/>
<line x1="46.4" y1="1640.1" x2="49.8" y2="1640.1" stroke="#262626" stroke-width="1.2"/>
<line x1="46.4" y1="1660.4" x2="49.8" y2="1660.4" stroke="#262626" stroke-width="1.2"/>
<line x1="46.4" y1="1679.2" x2="49.8" y2="1679.2" stroke="#262626" stroke-width="1.2"/>
<circle cx="84" cy="1684.5" r="3.8" fill="#1aada4"/>
<circle cx="104.6" cy="1684.5" r="3.8" fill="#1aada4"/>
<circle cx="125.2" cy="1684.5" r="3.8" fill="#1aada4"/>
<circle cx="145.7" cy="1684.5" r="3.8" fill="#1aada4"/>
<circle cx="166.3" cy="1684.5" r="3.8" fill="#1aada4"/>
<line x1="49.8" y1="1694.4" x2="49.8" y2="1824" stroke="#262626" stroke-width="1.3"/>
<line x1="48.8" y1="1824" x2="290.3" y2="1824" stroke="#262626" stroke-width="1.6"/>
<line x1="46.4" y1="1721.4" x2="49.8" y2="1721.4" stroke="#262626" stroke-width="1.2"/>
<line x1="46.4" y1="1772.3" x2="49.8" y2="1772.3" stroke="#262626" stroke-width="1.2"/>
<line x1="49.7" y1="1824" x2="49.7" y2="1826.4" stroke="#262626" stroke-width="1.2"/>
<line x1="84" y1="1824" x2="84" y2="1826.4" stroke="#262626" stroke-width="1.2"/>
<line x1="118.3" y1="1824" x2="118.3" y2="1826.4" stroke="#262626" stroke-width="1.2"/>
<line x1="152.6" y1="1824" x2="152.6" y2="1826.4" stroke="#262626" stroke-width="1.2"/>
<line x1="186.9" y1="1824" x2="186.9" y2="1826.4" stroke="#262626" stroke-width="1.2"/>
<line x1="221.2" y1="1824" x2="221.2" y2="1826.4" stroke="#262626" stroke-width="1.2"/>
<line x1="49.8" y1="1825.8" x2="49.8" y2="1879.4" stroke="#262626" stroke-width="1.3"/>
<line x1="48.8" y1="1879.4" x2="290.3" y2="1879.4" stroke="#262626" stroke-width="1.6"/>
<line x1="46.4" y1="1839.9" x2="49.8" y2="1839.9" stroke="#262626" stroke-width="1.2"/>
<line x1="46.4" y1="1879.4" x2="49.8" y2="1879.4" stroke="#262626" stroke-width="1.2"/>
<line x1="49.7" y1="1879.4" x2="49.7" y2="1881.8" stroke="#262626" stroke-width="1.2"/>
<line x1="152.6" y1="1879.4" x2="152.6" y2="1881.8" stroke="#262626" stroke-width="1.2"/>
<line x1="221.2" y1="1879.4" x2="221.2" y2="1881.8" stroke="#262626" stroke-width="1.2"/>
<line x1="289.8" y1="1879.4" x2="289.8" y2="1881.8" stroke="#262626" stroke-width="1.2"/>
<circle cx="84" cy="1884.7" r="3.8" fill="#f00000"/>
<circle cx="118.3" cy="1884.7" r="3.8" fill="#f00000"/>
<circle cx="152.6" cy="1884.7" r="3.8" fill="#f00000"/>
<circle cx="186.9" cy="1884.7" r="3.8" fill="#f00000"/>
<circle cx="221.2" cy="1884.7" r="3.8" fill="#f00000"/>
<line x1="325.5" y1="1494.3" x2="325.5" y2="1624.2" stroke="#262626" stroke-width="1.3"/>
<line x1="324.5" y1="1624.2" x2="567.1" y2="1624.2" stroke="#262626" stroke-width="1.6"/>
<line x1="322.1" y1="1520" x2="325.5" y2="1520" stroke="#262626" stroke-width="1.2"/>
<line x1="322.1" y1="1572.3" x2="325.5" y2="1572.3" stroke="#262626" stroke-width="1.2"/>
<line x1="325.6" y1="1624.2" x2="325.6" y2="1626.6" stroke="#262626" stroke-width="1.2"/>
<line x1="359.9" y1="1624.2" x2="359.9" y2="1626.6" stroke="#262626" stroke-width="1.2"/>
<line x1="380.5" y1="1624.2" x2="380.5" y2="1626.6" stroke="#262626" stroke-width="1.2"/>
<line x1="401.1" y1="1624.2" x2="401.1" y2="1626.6" stroke="#262626" stroke-width="1.2"/>
<line x1="421.6" y1="1624.2" x2="421.6" y2="1626.6" stroke="#262626" stroke-width="1.2"/>
<line x1="442.2" y1="1624.2" x2="442.2" y2="1626.6" stroke="#262626" stroke-width="1.2"/>
<line x1="325.5" y1="1627.8" x2="325.5" y2="1679.2" stroke="#262626" stroke-width="1.3"/>
<line x1="324.5" y1="1679.2" x2="567.1" y2="1679.2" stroke="#262626" stroke-width="1.6"/>
<line x1="322.1" y1="1640.1" x2="325.5" y2="1640.1" stroke="#262626" stroke-width="1.2"/>
<line x1="322.1" y1="1660.4" x2="325.5" y2="1660.4" stroke="#262626" stroke-width="1.2"/>
<line x1="322.1" y1="1679.2" x2="325.5" y2="1679.2" stroke="#262626" stroke-width="1.2"/>
<circle cx="359.9" cy="1684.5" r="3.8" fill="#1aada4"/>
<circle cx="380.5" cy="1684.5" r="3.8" fill="#1aada4"/>
<circle cx="401.1" cy="1684.5" r="3.8" fill="#1aada4"/>
<circle cx="421.6" cy="1684.5" r="3.8" fill="#1aada4"/>
<circle cx="442.2" cy="1684.5" r="3.8" fill="#1aada4"/>
<line x1="325.5" y1="1694.4" x2="325.5" y2="1824" stroke="#262626" stroke-width="1.3"/>
<line x1="324.5" y1="1824" x2="567.1" y2="1824" stroke="#262626" stroke-width="1.6"/>
<line x1="322.1" y1="1721.4" x2="325.5" y2="1721.4" stroke="#262626" stroke-width="1.2"/>
<line x1="322.1" y1="1772.3" x2="325.5" y2="1772.3" stroke="#262626" stroke-width="1.2"/>
<line x1="325.6" y1="1824" x2="325.6" y2="1826.4" stroke="#262626" stroke-width="1.2"/>
<line x1="359.9" y1="1824" x2="359.9" y2="1826.4" stroke="#262626" stroke-width="1.2"/>
<line x1="394.2" y1="1824" x2="394.2" y2="1826.4" stroke="#262626" stroke-width="1.2"/>
<line x1="428.5" y1="1824" x2="428.5" y2="1826.4" stroke="#262626" stroke-width="1.2"/>
<line x1="462.8" y1="1824" x2="462.8" y2="1826.4" stroke="#262626" stroke-width="1.2"/>
<line x1="497.1" y1="1824" x2="497.1" y2="1826.4" stroke="#262626" stroke-width="1.2"/>
<line x1="325.5" y1="1825.8" x2="325.5" y2="1879.4" stroke="#262626" stroke-width="1.3"/>
<line x1="324.5" y1="1879.4" x2="567.1" y2="1879.4" stroke="#262626" stroke-width="1.6"/>
<line x1="322.1" y1="1839.9" x2="325.5" y2="1839.9" stroke="#262626" stroke-width="1.2"/>
<line x1="322.1" y1="1879.4" x2="325.5" y2="1879.4" stroke="#262626" stroke-width="1.2"/>
<line x1="325.6" y1="1879.4" x2="325.6" y2="1881.8" stroke="#262626" stroke-width="1.2"/>
<line x1="428.5" y1="1879.4" x2="428.5" y2="1881.8" stroke="#262626" stroke-width="1.2"/>
<line x1="497.1" y1="1879.4" x2="497.1" y2="1881.8" stroke="#262626" stroke-width="1.2"/>
<line x1="565.7" y1="1879.4" x2="565.7" y2="1881.8" stroke="#262626" stroke-width="1.2"/>
<circle cx="359.9" cy="1884.7" r="3.8" fill="#f00000"/>
<circle cx="394.2" cy="1884.7" r="3.8" fill="#f00000"/>
<circle cx="428.5" cy="1884.7" r="3.8" fill="#f00000"/>
<circle cx="462.8" cy="1884.7" r="3.8" fill="#f00000"/>
<circle cx="497.1" cy="1884.7" r="3.8" fill="#f00000"/>
<line x1="590.7" y1="1494.3" x2="590.7" y2="1624.2" stroke="#262626" stroke-width="1.3"/>
<line x1="589.7" y1="1624.2" x2="832.6" y2="1624.2" stroke="#262626" stroke-width="1.6"/>
<line x1="587.3" y1="1520" x2="590.7" y2="1520" stroke="#262626" stroke-width="1.2"/>
<line x1="587.3" y1="1572.3" x2="590.7" y2="1572.3" stroke="#262626" stroke-width="1.2"/>
<line x1="589.7" y1="1624.2" x2="589.7" y2="1626.6" stroke="#262626" stroke-width="1.2"/>
<line x1="624" y1="1624.2" x2="624" y2="1626.6" stroke="#262626" stroke-width="1.2"/>
<line x1="644.6" y1="1624.2" x2="644.6" y2="1626.6" stroke="#262626" stroke-width="1.2"/>
<line x1="665.2" y1="1624.2" x2="665.2" y2="1626.6" stroke="#262626" stroke-width="1.2"/>
<line x1="685.7" y1="1624.2" x2="685.7" y2="1626.6" stroke="#262626" stroke-width="1.2"/>
<line x1="706.3" y1="1624.2" x2="706.3" y2="1626.6" stroke="#262626" stroke-width="1.2"/>
<line x1="590.7" y1="1627.8" x2="590.7" y2="1679.2" stroke="#262626" stroke-width="1.3"/>
<line x1="589.7" y1="1679.2" x2="832.6" y2="1679.2" stroke="#262626" stroke-width="1.6"/>
<line x1="587.3" y1="1640.1" x2="590.7" y2="1640.1" stroke="#262626" stroke-width="1.2"/>
<line x1="587.3" y1="1660.4" x2="590.7" y2="1660.4" stroke="#262626" stroke-width="1.2"/>
<line x1="587.3" y1="1679.2" x2="590.7" y2="1679.2" stroke="#262626" stroke-width="1.2"/>
<circle cx="624" cy="1684.5" r="3.8" fill="#1aada4"/>
<circle cx="644.6" cy="1684.5" r="3.8" fill="#1aada4"/>
<circle cx="665.2" cy="1684.5" r="3.8" fill="#1aada4"/>
<circle cx="685.7" cy="1684.5" r="3.8" fill="#1aada4"/>
<circle cx="706.3" cy="1684.5" r="3.8" fill="#1aada4"/>
<line x1="590.7" y1="1694.4" x2="590.7" y2="1824" stroke="#262626" stroke-width="1.3"/>
<line x1="589.7" y1="1824" x2="832.6" y2="1824" stroke="#262626" stroke-width="1.6"/>
<line x1="587.3" y1="1721.4" x2="590.7" y2="1721.4" stroke="#262626" stroke-width="1.2"/>
<line x1="587.3" y1="1772.3" x2="590.7" y2="1772.3" stroke="#262626" stroke-width="1.2"/>
<line x1="589.7" y1="1824" x2="589.7" y2="1826.4" stroke="#262626" stroke-width="1.2"/>
<line x1="624" y1="1824" x2="624" y2="1826.4" stroke="#262626" stroke-width="1.2"/>
<line x1="658.3" y1="1824" x2="658.3" y2="1826.4" stroke="#262626" stroke-width="1.2"/>
<line x1="692.6" y1="1824" x2="692.6" y2="1826.4" stroke="#262626" stroke-width="1.2"/>
<line x1="726.9" y1="1824" x2="726.9" y2="1826.4" stroke="#262626" stroke-width="1.2"/>
<line x1="761.2" y1="1824" x2="761.2" y2="1826.4" stroke="#262626" stroke-width="1.2"/>
<line x1="590.7" y1="1825.8" x2="590.7" y2="1879.4" stroke="#262626" stroke-width="1.3"/>
<line x1="589.7" y1="1879.4" x2="832.6" y2="1879.4" stroke="#262626" stroke-width="1.6"/>
<line x1="587.3" y1="1839.9" x2="590.7" y2="1839.9" stroke="#262626" stroke-width="1.2"/>
<line x1="587.3" y1="1879.4" x2="590.7" y2="1879.4" stroke="#262626" stroke-width="1.2"/>
<line x1="589.7" y1="1879.4" x2="589.7" y2="1881.8" stroke="#262626" stroke-width="1.2"/>
<line x1="692.6" y1="1879.4" x2="692.6" y2="1881.8" stroke="#262626" stroke-width="1.2"/>
<line x1="761.2" y1="1879.4" x2="761.2" y2="1881.8" stroke="#262626" stroke-width="1.2"/>
<line x1="829.8" y1="1879.4" x2="829.8" y2="1881.8" stroke="#262626" stroke-width="1.2"/>
<circle cx="624" cy="1884.7" r="3.8" fill="#f00000"/>
<circle cx="658.3" cy="1884.7" r="3.8" fill="#f00000"/>
<circle cx="692.6" cy="1884.7" r="3.8" fill="#f00000"/>
<circle cx="726.9" cy="1884.7" r="3.8" fill="#f00000"/>
<circle cx="761.2" cy="1884.7" r="3.8" fill="#f00000"/>
<line x1="865.8" y1="1494.3" x2="865.8" y2="1624.2" stroke="#262626" stroke-width="1.3"/>
<line x1="864.8" y1="1624.2" x2="1108" y2="1624.2" stroke="#262626" stroke-width="1.6"/>
<line x1="862.4" y1="1520" x2="865.8" y2="1520" stroke="#262626" stroke-width="1.2"/>
<line x1="862.4" y1="1572.3" x2="865.8" y2="1572.3" stroke="#262626" stroke-width="1.2"/>
<line x1="865.1" y1="1624.2" x2="865.1" y2="1626.6" stroke="#262626" stroke-width="1.2"/>
<line x1="899.4" y1="1624.2" x2="899.4" y2="1626.6" stroke="#262626" stroke-width="1.2"/>
<line x1="920" y1="1624.2" x2="920" y2="1626.6" stroke="#262626" stroke-width="1.2"/>
<line x1="940.6" y1="1624.2" x2="940.6" y2="1626.6" stroke="#262626" stroke-width="1.2"/>
<line x1="961.1" y1="1624.2" x2="961.1" y2="1626.6" stroke="#262626" stroke-width="1.2"/>
<line x1="981.7" y1="1624.2" x2="981.7" y2="1626.6" stroke="#262626" stroke-width="1.2"/>
<line x1="865.8" y1="1627.8" x2="865.8" y2="1679.2" stroke="#262626" stroke-width="1.3"/>
<line x1="864.8" y1="1679.2" x2="1108" y2="1679.2" stroke="#262626" stroke-width="1.6"/>
<line x1="862.4" y1="1640.1" x2="865.8" y2="1640.1" stroke="#262626" stroke-width="1.2"/>
<line x1="862.4" y1="1660.4" x2="865.8" y2="1660.4" stroke="#262626" stroke-width="1.2"/>
<line x1="862.4" y1="1679.2" x2="865.8" y2="1679.2" stroke="#262626" stroke-width="1.2"/>
<circle cx="899.4" cy="1684.5" r="3.8" fill="#1aada4"/>
<circle cx="920" cy="1684.5" r="3.8" fill="#1aada4"/>
<circle cx="940.6" cy="1684.5" r="3.8" fill="#1aada4"/>
<circle cx="961.1" cy="1684.5" r="3.8" fill="#1aada4"/>
<circle cx="981.7" cy="1684.5" r="3.8" fill="#1aada4"/>
<line x1="865.8" y1="1694.4" x2="865.8" y2="1824" stroke="#262626" stroke-width="1.3"/>
<line x1="864.8" y1="1824" x2="1108" y2="1824" stroke="#262626" stroke-width="1.6"/>
<line x1="862.4" y1="1721.4" x2="865.8" y2="1721.4" stroke="#262626" stroke-width="1.2"/>
<line x1="862.4" y1="1772.3" x2="865.8" y2="1772.3" stroke="#262626" stroke-width="1.2"/>
<line x1="865.1" y1="1824" x2="865.1" y2="1826.4" stroke="#262626" stroke-width="1.2"/>
<line x1="899.4" y1="1824" x2="899.4" y2="1826.4" stroke="#262626" stroke-width="1.2"/>
<line x1="933.7" y1="1824" x2="933.7" y2="1826.4" stroke="#262626" stroke-width="1.2"/>
<line x1="968" y1="1824" x2="968" y2="1826.4" stroke="#262626" stroke-width="1.2"/>
<line x1="1002.3" y1="1824" x2="1002.3" y2="1826.4" stroke="#262626" stroke-width="1.2"/>
<line x1="1036.6" y1="1824" x2="1036.6" y2="1826.4" stroke="#262626" stroke-width="1.2"/>
<line x1="865.8" y1="1825.8" x2="865.8" y2="1879.4" stroke="#262626" stroke-width="1.3"/>
<line x1="864.8" y1="1879.4" x2="1108" y2="1879.4" stroke="#262626" stroke-width="1.6"/>
<line x1="862.4" y1="1839.9" x2="865.8" y2="1839.9" stroke="#262626" stroke-width="1.2"/>
<line x1="862.4" y1="1879.4" x2="865.8" y2="1879.4" stroke="#262626" stroke-width="1.2"/>
<line x1="865.1" y1="1879.4" x2="865.1" y2="1881.8" stroke="#262626" stroke-width="1.2"/>
<line x1="968" y1="1879.4" x2="968" y2="1881.8" stroke="#262626" stroke-width="1.2"/>
<line x1="1036.6" y1="1879.4" x2="1036.6" y2="1881.8" stroke="#262626" stroke-width="1.2"/>
<line x1="1105.2" y1="1879.4" x2="1105.2" y2="1881.8" stroke="#262626" stroke-width="1.2"/>
<circle cx="899.4" cy="1884.7" r="3.8" fill="#f00000"/>
<circle cx="933.7" cy="1884.7" r="3.8" fill="#f00000"/>
<circle cx="968" cy="1884.7" r="3.8" fill="#f00000"/>
<circle cx="1002.3" cy="1884.7" r="3.8" fill="#f00000"/>
<circle cx="1036.6" cy="1884.7" r="3.8" fill="#f00000"/>
<text x="-0.8" y="1459.6" font-size="44" text-anchor="start" fill="#000">g</text>
<text x="296.8" y="1480.5" font-size="29" text-anchor="end" fill="#000">Type 2</text>
<text x="84.3" y="1914.5" font-size="29.5" text-anchor="middle" fill="#000">0</text>
<text x="152.9" y="1914.5" font-size="29.5" text-anchor="middle" fill="#000">1</text>
<text x="221.5" y="1914.5" font-size="29.5" text-anchor="middle" fill="#000">2</text>
<text x="290.1" y="1914.5" font-size="29.5" text-anchor="middle" fill="#000">3</text>
<text x="170.8" y="1944.2" font-size="29" text-anchor="middle" fill="#000">Time (s)</text>
<text x="573.6" y="1480.5" font-size="29" text-anchor="end" fill="#000">Type 3</text>
<text x="360.2" y="1914.5" font-size="29.5" text-anchor="middle" fill="#000">0</text>
<text x="428.8" y="1914.5" font-size="29.5" text-anchor="middle" fill="#000">1</text>
<text x="497.4" y="1914.5" font-size="29.5" text-anchor="middle" fill="#000">2</text>
<text x="566" y="1914.5" font-size="29.5" text-anchor="middle" fill="#000">3</text>
<text x="446.6" y="1944.2" font-size="29" text-anchor="middle" fill="#000">Time (s)</text>
<text x="839.1" y="1480.5" font-size="29" text-anchor="end" fill="#000">Type 4</text>
<text x="624.3" y="1914.5" font-size="29.5" text-anchor="middle" fill="#000">0</text>
<text x="692.9" y="1914.5" font-size="29.5" text-anchor="middle" fill="#000">1</text>
<text x="761.5" y="1914.5" font-size="29.5" text-anchor="middle" fill="#000">2</text>
<text x="830.1" y="1914.5" font-size="29.5" text-anchor="middle" fill="#000">3</text>
<text x="710.8" y="1944.2" font-size="29" text-anchor="middle" fill="#000">Time (s)</text>
<text x="1114.5" y="1480.5" font-size="29" text-anchor="end" fill="#000">Type 5</text>
<text x="899.7" y="1914.5" font-size="29.5" text-anchor="middle" fill="#000">0</text>
<text x="968.3" y="1914.5" font-size="29.5" text-anchor="middle" fill="#000">1</text>
<text x="1036.9" y="1914.5" font-size="29.5" text-anchor="middle" fill="#000">2</text>
<text x="1105.5" y="1914.5" font-size="29.5" text-anchor="middle" fill="#000">3</text>
<text x="986.1" y="1944.2" font-size="29" text-anchor="middle" fill="#000">Time (s)</text>
<text x="280.3" y="1653" font-size="19.5" text-anchor="end" fill="#000" font-style="italic">12.2</text>
<text x="278.8" y="1853.5" font-size="19.5" text-anchor="end" fill="#000" font-style="italic">6.7</text>
<text x="557.1" y="1653" font-size="19.5" text-anchor="end" fill="#000" font-style="italic">29.9</text>
<text x="555.6" y="1853.5" font-size="19.5" text-anchor="end" fill="#000" font-style="italic">31</text>
<text x="822.6" y="1653" font-size="19.5" text-anchor="end" fill="#000" font-style="italic">9.3</text>
<text x="821.1" y="1853.5" font-size="19.5" text-anchor="end" fill="#000" font-style="italic">6</text>
<text x="1098" y="1653" font-size="19.5" text-anchor="end" fill="#000" font-style="italic">13.1</text>
<text x="1096.5" y="1853.5" font-size="19.5" text-anchor="end" fill="#000" font-style="italic">9.5</text>
<text x="45.6" y="1665.6" font-size="21.5" text-anchor="end" fill="#000">5</text>
<text x="45.2" y="1846.6" font-size="20.5" text-anchor="end" fill="#000">5</text>
<text x="23.2" y="1533.3" font-size="29.3" text-anchor="middle" fill="#000" transform="rotate(-90 23.2 1533.3)">Trials</text>
<text x="23.2" y="1733.4" font-size="29.3" text-anchor="middle" fill="#000" transform="rotate(-90 23.2 1733.4)">Trials</text>
<text x="23.2" y="1641.2" font-size="29" text-anchor="middle" fill="#000" transform="rotate(-90 23.2 1641.2)">F. rate</text>
<text x="23.2" y="1841.5" font-size="29" text-anchor="middle" fill="#000" transform="rotate(-90 23.2 1841.5)">F. rate</text>
<line x1="1224.9" y1="1493.3" x2="1224.9" y2="1670.5" stroke="#555" stroke-width="1.4"/>
<line x1="1221" y1="1501.3" x2="1224.9" y2="1501.3" stroke="#555" stroke-width="1.3"/>
<line x1="1221" y1="1581.5" x2="1224.9" y2="1581.5" stroke="#555" stroke-width="1.3"/>
<line x1="1221" y1="1661.8" x2="1224.9" y2="1661.8" stroke="#555" stroke-width="1.3"/>
<text x="0" y="0" font-size="29.5" text-anchor="end" fill="#000" transform="translate(1215.5 1514) scale(0.94 1)">100</text>
<text x="0" y="0" font-size="29.5" text-anchor="end" fill="#000" transform="translate(1216 1592.2) scale(0.94 1)">50</text>
<text x="0" y="0" font-size="29.5" text-anchor="end" fill="#000" transform="translate(1215.5 1672.2) scale(0.94 1)">0</text>
<text x="1158" y="1592.9" font-size="28.4" text-anchor="middle" fill="#000" transform="rotate(-90 1158 1592.9)">Occurrence (%)</text>
<line x1="1240.2" y1="1533.3" x2="1240.2" y2="1501.3" stroke="#04a89c" stroke-width="1.4" stroke-dasharray="18 11.5"/>
<line x1="1235.6" y1="1501.3" x2="1244.8" y2="1501.3" stroke="#04a89c" stroke-width="1.5"/>
<line x1="1240.2" y1="1635.1" x2="1240.2" y2="1661.8" stroke="#04a89c" stroke-width="1.4" stroke-dasharray="18 11.5"/>
<line x1="1235.6" y1="1661.8" x2="1244.8" y2="1661.8" stroke="#04a89c" stroke-width="1.5"/>
<rect x="1231" y="1533.3" width="18.6" height="101.8" fill="#7dd2ca" stroke="#04a89c" stroke-width="1.4"/>
<line x1="1231" y1="1589" x2="1249.6" y2="1589" stroke="#04a89c" stroke-width="1.4"/>
<line x1="1264.1" y1="1550.6" x2="1264.1" y2="1501.3" stroke="#ee0a0a" stroke-width="1.4" stroke-dasharray="18 11.5"/>
<line x1="1259.5" y1="1501.3" x2="1268.7" y2="1501.3" stroke="#ee0a0a" stroke-width="1.5"/>
<line x1="1264.1" y1="1632.4" x2="1264.1" y2="1661.8" stroke="#ee0a0a" stroke-width="1.4" stroke-dasharray="18 11.5"/>
<line x1="1259.5" y1="1661.8" x2="1268.7" y2="1661.8" stroke="#ee0a0a" stroke-width="1.5"/>
<rect x="1255.1" y="1550.6" width="18.1" height="81.8" fill="#f47878" stroke="#ee0a0a" stroke-width="1.4"/>
<line x1="1255.1" y1="1588.3" x2="1273.2" y2="1588.3" stroke="#ee0a0a" stroke-width="1.4"/>
<line x1="1294.6" y1="1643.8" x2="1294.6" y2="1623.6" stroke="#04a89c" stroke-width="1.4"/>
<line x1="1290" y1="1623.6" x2="1299.2" y2="1623.6" stroke="#04a89c" stroke-width="1.5"/>
<rect x="1286.6" y="1643.8" width="16.4" height="18" fill="#7dd2ca" stroke="#04a89c" stroke-width="1.4"/>
<line x1="1286.6" y1="1656.9" x2="1303" y2="1656.9" stroke="#04a89c" stroke-width="1.4"/>
<line x1="1318" y1="1629.6" x2="1318" y2="1603.2" stroke="#ee0a0a" stroke-width="1.4" stroke-dasharray="18 11.5"/>
<line x1="1313.4" y1="1603.2" x2="1322.6" y2="1603.2" stroke="#ee0a0a" stroke-width="1.5"/>
<rect x="1309.2" y="1629.6" width="17.7" height="32.2" fill="#f47878" stroke="#ee0a0a" stroke-width="1.4"/>
<line x1="1309.2" y1="1647.3" x2="1326.9" y2="1647.3" stroke="#ee0a0a" stroke-width="1.4"/>
<line x1="1347.6" y1="1625.6" x2="1347.6" y2="1590.7" stroke="#04a89c" stroke-width="1.4" stroke-dasharray="18 11.5"/>
<line x1="1343" y1="1590.7" x2="1352.2" y2="1590.7" stroke="#04a89c" stroke-width="1.5"/>
<rect x="1338.4" y="1625.6" width="18.5" height="36.2" fill="#7dd2ca" stroke="#04a89c" stroke-width="1.4"/>
<line x1="1338.4" y1="1646.8" x2="1356.9" y2="1646.8" stroke="#04a89c" stroke-width="1.4"/>
<line x1="1372.1" y1="1632.4" x2="1372.1" y2="1592.9" stroke="#ee0a0a" stroke-width="1.4" stroke-dasharray="18 11.5"/>
<line x1="1367.5" y1="1592.9" x2="1376.7" y2="1592.9" stroke="#ee0a0a" stroke-width="1.5"/>
<rect x="1362.9" y="1632.4" width="18.5" height="29.4" fill="#f47878" stroke="#ee0a0a" stroke-width="1.4"/>
<line x1="1362.9" y1="1648.7" x2="1381.4" y2="1648.7" stroke="#ee0a0a" stroke-width="1.4"/>
<line x1="1401.4" y1="1632.4" x2="1401.4" y2="1588.8" stroke="#04a89c" stroke-width="1.4" stroke-dasharray="18 11.5"/>
<line x1="1396.8" y1="1588.8" x2="1406" y2="1588.8" stroke="#04a89c" stroke-width="1.5"/>
<rect x="1392.3" y="1632.4" width="18.2" height="29.4" fill="#7dd2ca" stroke="#04a89c" stroke-width="1.4"/>
<line x1="1392.3" y1="1646.8" x2="1410.5" y2="1646.8" stroke="#04a89c" stroke-width="1.4"/>
<line x1="1425.9" y1="1618.2" x2="1425.9" y2="1594.2" stroke="#ee0a0a" stroke-width="1.4" stroke-dasharray="18 11.5"/>
<line x1="1421.3" y1="1594.2" x2="1430.5" y2="1594.2" stroke="#ee0a0a" stroke-width="1.5"/>
<rect x="1416.8" y="1618.2" width="18.2" height="43.6" fill="#f47878" stroke="#ee0a0a" stroke-width="1.4"/>
<line x1="1416.8" y1="1633.7" x2="1435" y2="1633.7" stroke="#ee0a0a" stroke-width="1.4"/>
<line x1="1455.3" y1="1621" x2="1455.3" y2="1565.7" stroke="#04a89c" stroke-width="1.4" stroke-dasharray="18 11.5"/>
<line x1="1450.7" y1="1565.7" x2="1459.9" y2="1565.7" stroke="#04a89c" stroke-width="1.5"/>
<rect x="1446.2" y="1621" width="18.2" height="40.8" fill="#7dd2ca" stroke="#04a89c" stroke-width="1.4"/>
<line x1="1446.2" y1="1632.4" x2="1464.4" y2="1632.4" stroke="#04a89c" stroke-width="1.4"/>
<line x1="1479.3" y1="1624.2" x2="1479.3" y2="1601" stroke="#ee0a0a" stroke-width="1.4" stroke-dasharray="18 11.5"/>
<line x1="1474.7" y1="1601" x2="1483.9" y2="1601" stroke="#ee0a0a" stroke-width="1.5"/>
<line x1="1479.3" y1="1649.5" x2="1479.3" y2="1661.8" stroke="#ee0a0a" stroke-width="1.4" stroke-dasharray="18 11.5"/>
<line x1="1474.7" y1="1661.8" x2="1483.9" y2="1661.8" stroke="#ee0a0a" stroke-width="1.5"/>
<rect x="1469.8" y="1624.2" width="19.1" height="25.3" fill="#f47878" stroke="#ee0a0a" stroke-width="1.4"/>
<line x1="1469.8" y1="1637.3" x2="1488.9" y2="1637.3" stroke="#ee0a0a" stroke-width="1.4"/>
<text x="1252" y="1489.4" font-size="27" text-anchor="middle" fill="#000">ns</text>
<text x="1305" y="1591.5" font-size="27" text-anchor="middle" fill="#000">ns</text>
<text x="1359.6" y="1577.9" font-size="27" text-anchor="middle" fill="#000">ns</text>
<text x="1413.5" y="1576.5" font-size="27" text-anchor="middle" fill="#000">ns</text>
<text x="1467" y="1553.4" font-size="27" text-anchor="middle" fill="#000">ns</text>
<text x="1254.8" y="1698.9" font-size="29.5" text-anchor="middle" fill="#000">1</text>
<text x="1305.1" y="1698.9" font-size="29.5" text-anchor="middle" fill="#000">2</text>
<text x="1359.6" y="1698.9" font-size="29.5" text-anchor="middle" fill="#000">3</text>
<text x="1412.7" y="1698.9" font-size="29.5" text-anchor="middle" fill="#000">4</text>
<text x="1467.1" y="1698.9" font-size="29.5" text-anchor="middle" fill="#000">5</text>
<line x1="1224.3" y1="1708.6" x2="1224.3" y2="1886.1" stroke="#555" stroke-width="1.4"/>
<line x1="1220.4" y1="1709.1" x2="1224.3" y2="1709.1" stroke="#555" stroke-width="1.3"/>
<line x1="1220.4" y1="1753.5" x2="1224.3" y2="1753.5" stroke="#555" stroke-width="1.3"/>
<line x1="1220.4" y1="1797.6" x2="1224.3" y2="1797.6" stroke="#555" stroke-width="1.3"/>
<line x1="1220.4" y1="1841.5" x2="1224.3" y2="1841.5" stroke="#555" stroke-width="1.3"/>
<line x1="1220.4" y1="1885.6" x2="1224.3" y2="1885.6" stroke="#555" stroke-width="1.3"/>
<text x="0" y="0" font-size="29.5" text-anchor="end" fill="#000" transform="translate(1215.8 1730.8) scale(0.94 1)">20</text>
<text x="0" y="0" font-size="29.5" text-anchor="end" fill="#000" transform="translate(1215.8 1764.1) scale(0.94 1)">15</text>
<text x="0" y="0" font-size="29.5" text-anchor="end" fill="#000" transform="translate(1215.8 1807.6) scale(0.94 1)">10</text>
<text x="0" y="0" font-size="29.5" text-anchor="end" fill="#000" transform="translate(1215.8 1851.6) scale(0.94 1)">5</text>
<text x="0" y="0" font-size="29.5" text-anchor="end" fill="#000" transform="translate(1215.8 1885.3) scale(0.94 1)">0</text>
<rect x="1235.2" y="1726.3" width="31.8" height="159.7" fill="#000"/>
<rect x="1288.8" y="1770.7" width="31.9" height="115.3" fill="#000"/>
<rect x="1342.7" y="1761.7" width="31.9" height="124.3" fill="#000"/>
<rect x="1396.3" y="1770.7" width="31.9" height="115.3" fill="#000"/>
<rect x="1450.2" y="1761.7" width="31.9" height="124.3" fill="#000"/>
<text x="1251.6" y="1916.8" font-size="29.5" text-anchor="middle" fill="#000">1</text>
<text x="1305.3" y="1916.8" font-size="29.5" text-anchor="middle" fill="#000">2</text>
<text x="1359.2" y="1916.8" font-size="29.5" text-anchor="middle" fill="#000">3</text>
<text x="1412.8" y="1916.8" font-size="29.5" text-anchor="middle" fill="#000">4</text>
<text x="1466.7" y="1916.8" font-size="29.5" text-anchor="middle" fill="#000">5</text>
<text x="1353.9" y="1944" font-size="28.4" text-anchor="middle" fill="#000">Pattern type</text>
<text x="1166" y="1799" font-size="28" text-anchor="middle" fill="#000" transform="rotate(-90 1166 1799)">Mice</text>
<text x="1133.5" y="1459.5" font-size="44" text-anchor="start" fill="#000">h</text>
</svg>
</body></html>
